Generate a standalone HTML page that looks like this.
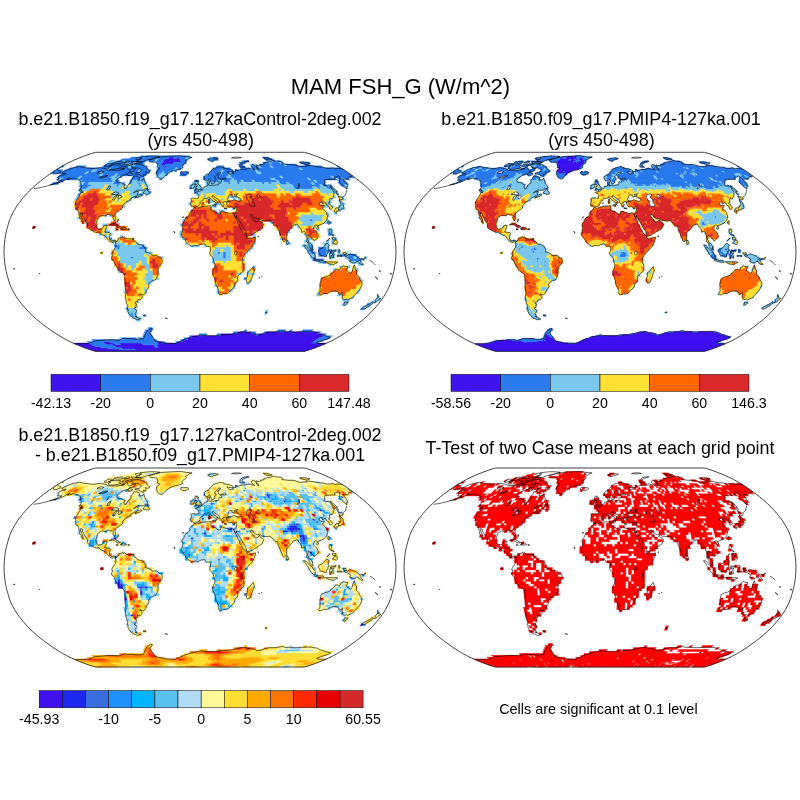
<!DOCTYPE html>
<html><head><meta charset="utf-8"><title>MAM FSH_G</title>
<style>html,body{margin:0;padding:0;background:#fff}svg{display:block}text{font-family:"Liberation Sans",Arial,Helvetica,sans-serif;fill:#000}</style></head><body>
<svg width="800" height="800" viewBox="0 0 800 800">
<rect width="800" height="800" fill="#fff"/>
<text x="400.5" y="94.1" font-size="22" text-anchor="middle">MAM FSH_G (W/m^2)</text>
<text x="200" y="125.3" font-size="17.9" text-anchor="middle">b.e21.B1850.f19_g17.127kaControl-2deg.002</text>
<text x="200.7" y="145.7" font-size="17.9" text-anchor="middle">(yrs 450-498)</text>
<text x="601" y="125.3" font-size="17.9" text-anchor="middle">b.e21.B1850.f09_g17.PMIP4-127ka.001</text>
<text x="601.5" y="145.7" font-size="17.9" text-anchor="middle">(yrs 450-498)</text>
<text x="200" y="441.3" font-size="17.9" text-anchor="middle">b.e21.B1850.f19_g17.127kaControl-2deg.002</text>
<text x="200" y="461" font-size="17.9" text-anchor="middle">- b.e21.B1850.f09_g17.PMIP4-127ka.001</text>
<text x="600" y="453.7" font-size="17.9" text-anchor="middle">T-Test of two Case means at each grid point</text>
<text x="598.4" y="714.2" font-size="14.4" text-anchor="middle">Cells are significant at 0.1 level</text>
<defs><g id="coast"><path d="M-138.2 -79.1L-132.5 -82.1L-126.3 -84.2L-120.5 -85.2L-116.7 -84.4L-110.7 -83.6L-106.5 -83.2L-99.8 -84.2L-97.3 -83.7L-93.4 -82.9L-92.3 -81.6L-86.7 -81.6L-81.9 -81.6L-77.2 -82.3L-73 -85.4L-72.4 -83.4L-71.7 -82.3L-70.1 -81.3L-66.9 -83.4L-64.5 -83.4L-66 -80.7L-70.4 -79.7L-72.3 -78.1L-77.7 -76.4L-82.2 -73.1L-83.2 -71.6L-82.7 -69.6L-79 -69.1L-77.1 -67.7L-74.8 -67.4L-76.1 -65L-75.4 -63L-73.9 -63.2L-72.1 -66.7L-68.9 -69.1L-69.1 -71.6L-67.1 -73.6L-66.3 -75.7L-62.9 -75.6L-60.3 -74.2L-61.1 -71.7L-58 -71.7L-56.2 -73.4L-55.2 -70.2L-54.3 -67.9L-52.5 -65.6L-52 -63.8L-54.8 -63L-56.6 -61.7L-62.8 -61.7L-66.6 -59L-63.8 -60.2L-61.8 -60.5L-61.8 -59L-62.7 -57.8L-62.1 -56.6L-58.8 -57.8L-58.2 -56.6L-59.9 -55.6L-62.7 -54.6L-65 -53.6L-64.6 -54.8L-62.8 -55.8L-65.4 -55.4L-67.7 -54.2L-69.6 -53L-70.2 -51.8L-69.6 -51.4L-71.8 -50.8L-74 -50L-74.6 -48.7L-76.3 -47.5L-77.4 -45.6L-77.5 -43.8L-79.2 -42.5L-81.7 -40.9L-84.3 -38.8L-85 -37L-84.6 -33.3L-84.9 -31.4L-85.8 -31.1L-86.4 -32.4L-87 -34.3L-86.7 -35.8L-87.8 -37L-89.4 -36.7L-91.4 -37.4L-92.9 -37.4L-93.6 -36L-95.3 -36.1L-98.4 -36.5L-101.4 -34.9L-102.6 -33.3L-103 -31.4L-104.1 -27.7L-103.9 -25.3L-102.8 -23.4L-101.4 -22.4L-98.6 -22.9L-97.1 -24L-96.4 -25.9L-93.9 -26.5L-92.8 -26.3L-93.7 -24L-94.4 -22.2L-95.3 -19.7L-92.6 -19.5L-90.5 -19.2L-89.7 -18.4L-90.3 -15.4L-90.6 -13.6L-89.5 -11.5L-87.9 -10.9L-86.2 -11.7L-84.6 -11.5L-83.9 -10.6L-84.5 -9L-85.2 -10.2L-86.2 -11L-87.2 -9.1L-88.5 -9.6L-90.1 -10.2L-90.8 -11.1L-92.1 -12.3L-92.9 -13.3L-93.9 -14.8L-94.7 -16L-95.6 -16.3L-97.7 -17L-99.5 -17.9L-101.2 -19.9L-103.4 -19.4L-105.5 -20L-107.5 -21L-109.5 -22.2L-111.4 -23.4L-112.8 -24.9L-112.3 -26.5L-112.8 -28.4L-114.4 -30.8L-115.6 -32.7L-116.3 -34.3L-117.4 -35.8L-117.7 -38.2L-119.2 -39.1L-119.7 -37.6L-118.7 -35.1L-117.7 -32.7L-117.2 -30.2L-116.5 -28.5L-117.2 -28.4L-118.7 -30.5L-118.7 -32.1L-120.1 -33.5L-121 -34.3L-119.9 -35.1L-120.9 -37L-121.3 -39.2L-121.4 -40.2L-122.1 -41.9L-124 -42.5L-124.3 -45.1L-124.2 -46.6L-124.5 -48.7L-124.5 -49.8L-123.3 -51.8L-121.8 -54.2L-120.1 -56.9L-119.1 -59.5L-117.3 -59L-117 -60.2L-118.1 -61.4L-119.6 -62.6L-118.8 -64.4L-118.9 -66.5L-119.1 -67.9L-119.3 -69.6L-119.5 -71.4L-121 -71.6L-122.1 -72.7L-125.2 -73.1L-126 -74L-129.1 -73.1L-132.6 -72.3L-130.1 -74.2L-134.1 -72.5L-136 -71.1L-139.9 -69.6L-142.9 -68.5L-146.1 -67.6L-150.2 -66.7L-144.7 -68.5L-140.6 -70.2L-138.2 -71.6L-140.1 -71.5L-142.5 -71.7L-140.9 -73.1L-142.1 -74.2L-141.6 -75.3L-138.6 -76.6L-135 -77.2L-133.9 -78.1L-136.4 -78.1L-138 -78.4L-138.2 -79.1M-120.6 -62.4L-118.4 -61.8L-117.9 -59.6L-118.9 -59.6L-119.7 -60.5L-121 -61.4L-120.6 -62.4M-56 -75.1L-59.3 -76.1L-60.6 -77.5L-63.7 -77.8L-65.2 -78.2L-63.8 -79.1L-60.9 -79.1L-59.1 -80.7L-58.7 -82.1L-60.2 -82.9L-61.8 -83.9L-64.2 -83.9L-66.5 -83.9L-68.8 -84.9L-67.4 -87.4L-63.4 -87.7L-60.5 -87.6L-58.8 -86.9L-57.5 -86.6L-54.9 -85.4L-53 -84.2L-53 -82.9L-51.4 -81.6L-50 -80.4L-52.3 -79.1L-54.7 -80L-54.1 -78.1L-54.3 -76.7L-57 -77.2L-55.7 -75.6L-56 -75.1M-91.4 -84.4L-91.6 -83.1L-90.3 -82.4L-85.8 -82.5L-83 -83L-79.7 -83.6L-78.8 -84.1L-80.8 -84.9L-79.3 -86.7L-81.1 -87.2L-84 -86.6L-86 -87.2L-89.7 -86.6L-91.3 -85.5L-89.4 -85.2L-91.4 -84.4M-95.9 -85.8L-95 -85L-92.6 -85.4L-89.9 -86.4L-87.2 -87.1L-85.9 -87.9L-87.4 -88.2L-89.7 -88.4L-92.2 -88.2L-93.5 -87.2L-95.9 -85.8M-64.5 -90.3L-57.6 -90L-54.7 -91.2L-52 -92.1L-49.5 -92.6L-43.2 -94.2L-40 -95.2L-43.8 -95.7L-49.5 -95.8L-56 -95.2L-60 -94.6L-58.4 -93.8L-58.7 -93L-61.6 -91.7L-64.5 -90.3M-64.9 -93.4L-62.7 -91.9L-59.9 -92.6L-59.6 -93.7L-61.6 -94.5L-64.9 -93.4M-67.8 -88.5L-62.8 -88.4L-58.9 -88.6L-57.8 -89.3L-58.9 -89.8L-64 -90.1L-66.5 -90.4L-68.8 -90.6L-67.7 -89.3L-67.8 -88.5M-72.9 -85.9L-68.5 -86.6L-67.5 -87.7L-70.9 -87.9L-72.9 -85.9M-78.4 -85.4L-74.3 -85.6L-72.6 -87.4L-75.3 -87.7L-77.6 -86.6L-78.4 -85.4M-85.8 -88.9L-82.7 -88.4L-78 -88.6L-76.4 -89.6L-77.9 -90.5L-81.7 -90.3L-84.8 -89.8L-85.8 -88.9M-75.9 -89.2L-71.8 -88.9L-69.9 -90.3L-72.5 -90.8L-75.9 -89.2M-78.8 -82.9L-76.3 -82.4L-75.2 -83.4L-76.8 -83.8L-78.8 -82.9M-72.7 -77.5L-72.1 -76.6L-70.2 -76.2L-68.1 -77L-67.1 -77.8L-68.9 -78.9L-69.6 -79.7L-71.3 -78.9L-72.7 -77.5M-56.9 -58.5L-53.5 -57.7L-51.2 -57.5L-50.6 -58.5L-51 -60L-52.5 -61.2L-52 -63.2L-53.5 -62.6L-55 -60.8L-56.7 -59.4L-56.9 -58.5M-50.9 -91.9L-49.1 -89.8L-43.5 -89.6L-42.3 -87.4L-42.4 -84.4L-40.1 -83.4L-43.3 -80.7L-43.4 -77.7L-42.3 -75.1L-41.4 -74L-38.7 -72.9L-37.3 -73.3L-36.4 -74.7L-34 -77L-31.2 -79.2L-26.6 -81.3L-21.5 -82.3L-17.2 -84.1L-18.3 -85.9L-16 -87.9L-13.7 -89.8L-14.8 -91.2L-12.5 -92.1L-11.5 -93.4L-7.9 -94.6L-13.1 -95L-19.8 -96.1L-29.1 -95.6L-36.5 -95.2L-40.9 -94.6L-44.3 -93.8L-46.4 -93L-50.9 -91.9M-19.7 -79.1L-18.4 -77.5L-16 -76.8L-12.5 -77.8L-11.1 -78.9L-13 -80.1L-16.8 -79.7L-18.7 -80.1L-19.7 -79.1M-83.9 -10.6L-83.4 -9.9L-82 -11.8L-81.8 -13.1L-81 -13.7L-79 -14.1L-77.5 -15.3L-77.2 -14.2L-75.8 -14.2L-75.7 -15L-74.2 -13.8L-73.7 -12.9L-71.5 -13.1L-69.9 -12.6L-68.2 -13.2L-67.2 -13.2L-67.7 -12.3L-66.1 -11.7L-65.7 -10.5L-64 -9.9L-62.5 -7.8L-60.3 -7.3L-58.7 -7.2L-56.5 -5.9L-55.5 -4.9L-54.4 -2.2L-54.4 -0.6L-55 0L-52.8 0.6L-51.2 0.9L-48.4 2.5L-48.2 3.5L-45.2 3.6L-43.5 3.5L-41.9 4.6L-40.2 5.9L-38.4 6.4L-37.8 8.9L-38 11.1L-39.5 12.9L-40.6 14.6L-41.6 16L-42 18.5L-41.9 21.6L-42.6 24L-43.5 26.5L-44.7 28.2L-46 28.4L-47.8 29.1L-49.4 29.8L-50.8 31.4L-51.3 32.7L-51.1 34.9L-52.3 37L-53.6 38.8L-54.3 40.7L-55.1 41.9L-56.5 43L-58 43L-60.1 41.9L-60 42.7L-58.6 43.8L-57.8 45L-58.5 46.9L-59.6 47.7L-62.5 48.1L-62.4 49.9L-64.9 50.5L-64.4 52.4L-63.1 52.4L-64 53.6L-63.9 55.4L-65.7 56L-65.3 57.2L-63.4 58.1L-63.2 59L-64.2 60.8L-65 62L-63.6 64.2L-62.6 65.6L-60.7 66.7L-59.4 67L-60.8 67.6L-62.5 67.9L-64.7 67.1L-67 65.9L-69.1 64.4L-70.9 62L-72.1 59.6L-71.8 57.8L-73 57.2L-72.2 55.4L-72.4 53.6L-73.5 51.8L-74 49.3L-74.1 47.5L-74.7 45.9L-74.5 43.8L-74 41.3L-74.5 38.2L-74.9 35.8L-74.7 32.7L-74.9 29.6L-75 25.9L-75.4 22.7L-77.4 21L-79.7 19.7L-82 17.5L-82.7 16L-83.5 14.8L-84.8 12.3L-85.7 10.1L-86.9 8L-88.3 7.4L-88.4 5.5L-87.4 4.2L-87.1 3.2L-88.2 2.7L-88 1.2L-87.2 0L-87.1 -1L-85.8 -1.8L-85.4 -3.1L-84.3 -4.3L-84.1 -6.2L-84.2 -8L-84.5 -9L-83.9 -10.6M-6 -44.1L-5.4 -44.3L-3.1 -43.5L-1 -44L1.5 -45L3.1 -45.4L6.1 -45.6L8.7 -45.6L10 -46L11.2 -45.6L10.7 -44.8L11.1 -43.2L10.5 -42.2L11.6 -41.1L13.5 -40.6L15.9 -39.8L16.4 -38.6L18.8 -37.6L20.4 -37.6L20.8 -38.8L20.7 -40.1L22.5 -40.6L24.1 -39.8L26 -39.2L28.1 -38.6L30.2 -38.1L31.2 -38.6L32.8 -38.8L33.6 -38.5L34.1 -36.9L35.2 -34.3L36.5 -32.1L37.7 -29.6L38.1 -28.1L39.5 -26.5L39.9 -24L41.4 -22.2L42.6 -19.1L44.2 -17.9L45.9 -16L46.8 -15.4L46.5 -14.2L48.2 -12.9L50.4 -13.3L53 -13.9L55.4 -14.7L55.3 -12.8L54.6 -10.5L53.3 -7.4L52.2 -5.5L50.1 -3.1L49.3 -2.5L47.4 -0.6L45.7 1.2L44.6 2.5L43.7 3.7L43 5.5L42.4 7.4L42.9 8.6L42.6 10.5L43.1 12.3L43.9 12.9L43.8 15.4L43.9 17.9L43.1 19.7L40.8 21.3L39.1 23.2L37.4 24.7L37.6 27.1L37.7 29.6L34.9 31.4L34.6 33.3L34.1 35.1L32.6 36.7L30.7 38.8L28.4 40.9L26.5 41.9L23.2 42.2L20.5 42.9L18.9 42.3L18.7 40.1L18.9 38.8L17.8 36.4L16.8 34.5L15.8 32.7L15.4 29L14.4 25.9L12.9 22.8L12.7 20.3L13.3 18.5L14.6 15.4L15 12.9L14.1 11.1L13.4 7.4L13 6.2L12 4.9L10.3 3.1L9.6 1L10.3 -0.6L10.6 -2.5L10.6 -4.3L10.3 -4.9L9.2 -5.5L7.6 -5.4L6.5 -5.3L5.4 -7L4.9 -7.8L3.7 -7.9L1.3 -7.5L-0.2 -6.8L-2.2 -5.9L-3.3 -6.3L-4.9 -6.4L-6.5 -5.9L-8.2 -5.4L-9.8 -6.4L-11.7 -7.8L-12.5 -8.5L-13.6 -9.2L-14.3 -10.5L-14.4 -11.7L-15.7 -12.9L-16.2 -13.6L-17.3 -14.8L-18.1 -15.4L-18.1 -16.6L-18.9 -18.1L-17.8 -19.7L-17.5 -22.2L-17.1 -24L-17.6 -25.7L-18.2 -25.9L-17.2 -28.4L-15.9 -30.2L-15.3 -32.1L-13.9 -34.3L-12.1 -35.1L-10.5 -36.4L-10.1 -37.6L-10.2 -38.8L-9.5 -40.1L-8.3 -41.3L-7 -42.1L-6 -44.1M53.3 14.8L54.4 19.1L53.2 21.6L52.5 24L51.1 27.7L49.8 30.8L47.6 31.4L46.4 29.6L46.1 27.1L47.4 24.7L47.3 21L49.5 19.5L51.8 16.6L53.3 14.8M34.1 -36.9L33.6 -38.5L35.6 -38.6L36.2 -40.4L36.6 -41.9L36.8 -44.1L36.9 -45.1L35.7 -45.1L34.7 -44.6L32.7 -44.5L31.2 -45.4L29.6 -44.8L28 -45.4L27.4 -46.6L26.8 -47.5L26.5 -48.7L26.3 -49.4L27.5 -49.8L29 -49.9L28.9 -50.7L31.4 -50.8L33.3 -51.8L34.8 -51.8L36.4 -50.9L38.5 -50.4L39.9 -50.5L41.3 -51.1L41 -52.6L39.4 -53.6L37.2 -54.8L36.1 -55.4L36.8 -56.9L37.5 -58.1L36.1 -57.8L34.1 -57L35.6 -55.8L34.6 -55.4L33.3 -54.7L32.7 -54.9L31.6 -55.9L32.5 -56.6L31 -57L29.8 -57.2L28.9 -55.8L28.2 -54.2L27.6 -53L27.5 -52.1L28.1 -51.1L28.9 -50.8L27.5 -50.5L26.5 -50L26 -50.3L24.5 -50.4L23.9 -49.6L22.8 -49.8L22.9 -48.4L23.8 -47.5L24.3 -46.6L23.4 -46.1L23.7 -45L22.8 -45L22.1 -45.5L21.5 -46.9L20.6 -48.4L19.5 -49.7L19.3 -51.1L18.3 -52.4L16.2 -53.6L14.7 -54.8L13.7 -55.4L13.2 -56.3L12.1 -55.8L12.2 -54.4L13.4 -53.7L14.4 -52.1L15.9 -51.6L16.5 -50.8L18.4 -49.6L18.4 -49.1L17 -49.9L16.7 -49.1L17.2 -48.1L16.7 -47.5L15.9 -46.9L16.1 -48.1L15.6 -49.3L14.5 -50.2L13 -50.9L12.1 -51.5L10.9 -52.4L10.1 -53.6L9.5 -54.3L8.6 -54.7L7.4 -53.9L5.9 -53.1L4.9 -53.5L3.9 -53.6L3.1 -53L3.2 -52.1L3.2 -51.6L2.2 -51L0.8 -50.3L-0.3 -48.7L0.2 -47.8L-0.5 -47.2L-0.8 -46.4L-2 -45.4L-4.5 -45.3L-5.5 -44.5L-6.4 -45L-7.1 -45.9L-9.1 -45.6L-8.9 -47.5L-9.6 -47.8L-8.9 -49.6L-8.7 -50.8L-8.8 -52.4L-9.2 -53.1L-7.9 -53.8L-5.9 -53.7L-3.7 -53.6L-1.8 -53.5L-1.3 -54.8L-1.2 -56.3L-2.1 -57.8L-2.7 -58.4L-4.3 -58.9L-4.6 -59.5L-2.9 -60L-1.5 -59.9L-1.7 -61.1L-0.9 -60.7L0.2 -60.8L1.4 -61.5L1.6 -62.5L3.3 -63.1L3.9 -64L4.4 -65L5.5 -65.4L6.4 -65.7L7.8 -65.8L8 -66.5L7.8 -67.9L7.4 -69.1L7.4 -69.6L8.5 -69.9L9.4 -70.4L9.4 -69.1L9.1 -67.9L8.8 -67.1L9.9 -66.1L11.2 -66.5L12.3 -66.7L13.1 -66L14.6 -66.5L16.9 -67L18.1 -66.6L18.2 -67.2L19 -67.9L18.8 -69.6L19.3 -70.3L20.6 -69.6L21.7 -69.9L21.5 -71.1L20.6 -72.2L21.8 -72.5L24.5 -72.5L26.3 -72.9L24.6 -73.7L22.5 -73.5L21.6 -73.2L20 -72.8L18.6 -73.6L18.3 -74.7L17.9 -76.4L18.8 -77.3L20.3 -78.4L21 -78.8L20.1 -79.5L18.2 -79.2L17.7 -78.1L17 -77.2L15.7 -76.2L14.8 -75.3L14.9 -73.8L16.3 -73.1L15.8 -72.3L14.7 -71.4L14.7 -69.6L14.3 -68.7L13.1 -68.5L12.9 -67.8L11.8 -67.8L11.4 -68.8L10.6 -70.4L9.8 -71.9L9.3 -72.9L9 -71.9L7.7 -71.2L6.2 -70.8L4.9 -71.7L4.3 -73.5L4.3 -75.1L5.3 -76L7.1 -77L8.7 -77.1L9.1 -78.4L10.2 -79.7L11.5 -81.1L12.3 -82.3L13.8 -83.2L14.9 -83.6L16.8 -84.1L18.6 -84.7L19.9 -85L21.6 -84.9L24.2 -84.2L23.6 -83.6L26 -83.3L28.5 -83L32 -81.8L33.4 -80.7L33 -80L31.1 -79.8L28.5 -80.2L26.8 -80.5L28.4 -79.1L29.2 -77.8L30.9 -77.5L31.5 -78.4L33.6 -78.2L32.8 -79.4L34.2 -80.2L35.9 -79.9L35.6 -81.6L35 -82.3L37.2 -81.8L37.2 -80.7L38.6 -81.5L42.1 -82.5L43.8 -82.3L46 -82.6L47.6 -83.4L47.8 -83.7L51.1 -82.9L53.3 -82.3L54.7 -82.1L52.7 -83.4L51.6 -84.9L51.8 -86.7L52.5 -87.2L54.9 -86.6L56.1 -84.9L57 -82.9L58.9 -81.8L58.2 -83.4L56.5 -85.4L56.3 -86.7L58.8 -85.9L59.7 -86.2L61.1 -86.4L60.6 -87.4L64.1 -87.7L63.8 -88.9L66.6 -89.6L70.4 -90.1L73.3 -91.4L76.3 -90.6L80.2 -90.3L82.6 -89.3L81.8 -87.9L84.3 -87.7L88.6 -87.2L92.3 -87.2L96.4 -86.4L99.9 -85.1L102.2 -85.4L106.7 -85.5L106.2 -86.4L111.1 -86.2L115.1 -85.5L118.4 -84.8L123.5 -84.5L126.2 -83.5L129.7 -83.5L133 -83.9L135.4 -82.9L138.2 -83.6L142.7 -82.7M148.3 -78.2L151.2 -76.4L152.5 -75.6L149.6 -75.1L148.4 -74L148.2 -72.9L144.6 -72.8L142.3 -72.9L144.4 -70.8L146.2 -68.7L147.1 -67.3L147.6 -65.2L146.6 -64.9L147 -62.6L144.2 -65L141.5 -67.3L139.4 -69.6L139.8 -71.4L139.8 -73.6L140.1 -74.7L138.3 -75.9L136.9 -75L134.6 -74.7L135 -72.5L131.9 -72.5L127.8 -72.3L125.2 -72.3L124.6 -70.2L124.7 -67.7L123.6 -66.9L126.3 -65.9L128.3 -66.1L130.6 -65L131.8 -62.6L134 -59.6L133.9 -57.2L133.4 -55L132.3 -53L130.2 -53.2L129.5 -52.4L129.5 -50.5L130 -49.3L128.3 -48.7L129.7 -47.5L131.7 -45.6L132.6 -43.8L131.5 -42.9L130.2 -42.3L129.4 -43.8L128.9 -45.6L126.8 -46.6L126 -48.7L124.8 -49.2L123 -48.1L122.2 -48.1L122.1 -50L120.9 -50.3L120 -49.1L118.8 -48.1L120.4 -46.9L121 -46L122.8 -46.4L124.5 -46L123.4 -45L123 -44.4L122.5 -43.2L124.4 -41.3L126.6 -39.1L126.9 -38.1L126.4 -37.4L127.6 -36.7L127.7 -34.9L127.1 -33.3L126.6 -31.4L125.4 -30.2L124.1 -28.7L121.7 -27.6L120.9 -27.4L119.2 -26.6L117.9 -26.1L117.9 -25L117.1 -26.4L115.7 -26.8L114.2 -25.9L114.1 -25L113.2 -23.4L114.3 -22L116.5 -19.7L117.9 -17.3L118.2 -15.4L118 -14.2L116.5 -12.9L115.7 -12L113.9 -10.7L113.6 -12.3L112.1 -12.9L110.9 -14.8L109.2 -15.7L108.9 -16.5L108 -16.4L108 -14.2L107.6 -12.3L108.2 -11.3L109.1 -9L110.6 -8.3L111.4 -7.4L112.5 -5.5L112.6 -3.5L113.4 -1.7L112.6 -1.8L110.2 -3.6L109.3 -4.9L109 -6.8L108.9 -8L107.5 -9.6L106.7 -9.9L106.8 -12.3L106.8 -14.8L105.8 -17.3L105.2 -19.7L104.3 -20.7L103.3 -20.3L102.6 -19.5L101.5 -19.7L101.5 -21.6L100.7 -23.4L99.5 -24.7L98.1 -26.5L97.8 -27.5L96.4 -27.7L94.9 -26.9L93.8 -26.8L92.8 -26.5L92.8 -25.3L92 -24.4L91 -23.8L90.1 -22.6L88.7 -21L87.7 -20.1L87 -19.5L86.3 -18.5L86.7 -16.3L86.4 -14.2L86.5 -12.7L85.7 -11.5L84.8 -10.9L84.1 -10L83 -11.1L82.3 -12.9L81.5 -14.8L80.8 -16L80 -18.5L79.1 -20.3L78.3 -22.2L78 -23.4L77.6 -26.1L75.8 -25.5L73.5 -27.4L72.8 -29L71.7 -29.5L71 -30.6L70.4 -31.3L68.3 -31.1L65.7 -31L63.5 -31.2L61.4 -31.6L60.1 -33L59.3 -33.4L57.7 -32.8L55.9 -33.3L54.2 -34.4L53.3 -35.8L52.3 -37.1L51.2 -37.5L50.7 -37L50.3 -36.4L50.9 -35.1L52.2 -33.7L53 -32.7L53.4 -31.4L53.9 -32.2L54.6 -31.1L54.6 -30.2L55.7 -29.8L57.3 -29.8L57.8 -30.2L58.7 -31.4L59.4 -32.3L59.9 -30.8L60.3 -30L62.1 -29.2L63.7 -27.7L62.7 -25.3L61.9 -23.4L61.1 -23.2L59.6 -22L58 -21L56.2 -20L53.9 -18.5L52.4 -17.3L50.2 -16.5L48.6 -15.8L47 -15.7L46.7 -16.4L46.1 -18.5L45.8 -20.3L44.5 -22.2L43.3 -24.3L41.8 -26.5L40.9 -29L39.5 -30.6L38.6 -32.1L37.4 -33.9L36.6 -34.5L36.6 -36.4L36.1 -34.3L34.8 -35.5L34.1 -36.9M-142.7 -82.7L-141.1 -81.6L-139.3 -80.7L-138.8 -79.8L-140.7 -79.1L-143.7 -77.8L-146.4 -78.1L-146.5 -79.1L-146.2 -79.9M-5.4 -61.5L-3.3 -61.8L-1.9 -62.1L0.5 -62.4L1.3 -62.8L0.9 -63.4L1.6 -64.5L0.3 -65L0.1 -65.7L-1.1 -66.9L-1.4 -67.9L-2.3 -68.5L-1.8 -69.6L-1.6 -70.3L-3.6 -70.4L-2.8 -71.5L-4.4 -71.5L-5.2 -70.2L-5.1 -69.1L-5 -67.8L-4.4 -67.3L-4.6 -67L-3.2 -67.2L-2.8 -66.1L-2.8 -65.4L-4.1 -65.3L-3.8 -64.2L-4.9 -63.6L-3.7 -63.3L-2.8 -63.1L-3.7 -62.8L-5.4 -61.5M-9.3 -63.3L-7.5 -63.4L-5.9 -64L-5.5 -65.3L-5 -66.7L-5.7 -67.6L-7.3 -67.6L-7.8 -66.6L-9.2 -66.4L-8.8 -65.2L-9.6 -64L-9.3 -63.3M134.4 -41.3L135 -41.9L135.8 -43.7L137.2 -43.9L139.2 -44L139.1 -46L139.9 -45.4L140.7 -46.1L141 -47.5L140.6 -49.1L139.9 -50.3L140.4 -51.1L141.6 -49.9L142.9 -48.7L143.2 -47.2L143.5 -45.6L143.9 -44.4L143.8 -43.4L143.5 -43.2L142.7 -43.2L142.1 -42.7L140.9 -42.7L140.8 -42.3L140.2 -41.3L139.1 -42.3L138.3 -42.7L138.9 -41.7L138.7 -41.1L137.7 -40.4L136.7 -41.1L136.7 -40.4L136.8 -38.8L136.1 -38.4L135.2 -39.5L134.2 -40.7L134.4 -41.3M139.4 -51.1L139.6 -52.4L139.3 -53.3L137.9 -55.9L140 -54.8L142.4 -54.6L143.4 -53.3L142.3 -52.9L142.3 -51.8L140.3 -52.5L139.3 -52.1L140.2 -51.4L139.4 -51.1M137.7 -56.6L138.6 -57.5L136.1 -60.2L137.5 -60.2L134 -63.2L132.1 -65L130.5 -66.5L130.7 -65.6L133 -62.6L135.1 -60.2L136.9 -57.8L137.7 -56.6M127.9 -28.4L129 -27.1L129.1 -29L129.2 -30.8L128.2 -31L127.7 -29.6L127.9 -28.4M116.4 -23.7L117.5 -22.4L118.4 -23.2L118.8 -24.3L117.6 -24.8L116.4 -23.7M86.6 -9.9L86.9 -7.6L88 -7.4L88.9 -8.6L88.1 -10.5L86.9 -12.1L86.6 -9.9M103.6 -6.9L106 -6.4L107.4 -4.7L109.4 -2.5L112.1 -0.6L113.2 1.2L115.3 3.7L115 7.2L113.6 7L111.3 4.9L109.9 3.1L108.9 1.2L107.6 -1.2L105.6 -3.7L103.6 -6.9M114.3 8.4L115.7 7.4L117.9 8.3L120 8.4L122.2 8.5L124.3 9.6L124.1 10.6L120.5 10.2L117.8 9.6L115.7 9.1L114.3 8.4M125.4 10.1L129.2 10.2L133.5 10.2L135.7 10.2L137.8 10.5L135.5 11.7L133.8 12.7L130.1 12.3L126.9 11.1L125.4 10.1M118.7 -1.8L119.2 -2.5L121.1 -3.1L123 -4.1L124.5 -5.9L126 -8L127.1 -8.6L127.9 -7.6L129.4 -6.4L128.4 -5.2L128.2 -3.1L129.3 -1.2L127.9 -0.6L127.9 1.2L126.8 2.5L126.4 4.7L124.6 4.9L123 3.9L121.3 3.9L119.9 3.1L119.8 1.6L118.7 0.4L118.7 -1.8M129.9 6.8L129.8 4.3L129.5 3.1L130.4 1L130.7 -0.9L131.7 -1.5L133.9 -1.2L136.1 -2L135.6 -0.5L132.8 -0.5L131.2 -0.4L130.9 1L132.1 1.2L134.1 1.1L132.5 2.3L133.1 3.9L133.8 5.2L133.2 6.4L132.1 5.5L131.7 3.7L131 3.7L130.9 6.8L129.9 6.8M138.8 -2.5L139.9 -1.8L139.9 0.6L138.8 0.6L138.8 -2.5M137.1 3.7L139.3 3.6L142 3.7L142 4.7L139.3 4.4L137.1 4.6L137.1 3.7M142.6 1L145.9 1L146.9 4.1L148.6 2.7L150.2 2L153.5 3.2L157.2 4.7L158.7 6.5L160.6 7.4L159.9 8.4L161.1 10.5L163.1 12.7L161.5 12.7L159.4 11.7L158.5 9.9L156.3 9.5L155.1 11.1L152.9 11.2L150.9 9.9L149.8 10.2L149.9 8.6L150.8 8.4L150 6.8L147.4 5.4L145.2 4.7L144.5 3.5L145.8 3.1L144.2 2.7L142.6 1M161.4 6.8L163.6 6.8L165.7 5.3L165.2 6.8L163.5 7.8L161.4 7.4L161.4 6.8M129.2 -22.8L131 -22.7L131.6 -20.3L131 -18.5L131.7 -17.3L133.9 -16.6L134.1 -15.5L132.3 -16.6L130.7 -16.9L129.6 -18.3L129.1 -20L129.2 -22.8M132.5 -8.6L134 -10.5L136.1 -12L137.3 -10.5L137.2 -8L136.4 -7.2L134.7 -8L132.5 -8.6M132.1 -14.2L133.7 -14.2L135.9 -13.9L136 -12.6L133.9 -11.7L132.6 -12.3L132.1 -14.2M127.2 -10.5L129.5 -12.9L129.6 -13.9L128.4 -12.3L126.9 -10.9L127.2 -10.5M121 27.1L122.1 26.5L124.5 25.3L127.3 24.7L130.2 23.4L131.2 21.6L132.7 21L134 19.7L135.4 17.9L137.1 17.3L138.6 18.3L139.6 18.3L141.1 15.4L142.8 14.8L143.4 13.9L146 15L148 14.8L147.2 16.6L146.1 18.5L147.5 19.6L149.4 21L150.9 21.7L152.1 19.7L152.8 17.3L153.3 15.4L154.4 13.2L155.1 16L155.1 17.6L156.6 18.5L156.5 20.3L156.5 22.8L157.4 23.8L159.2 25.3L159.3 27.1L160.4 28.6L161.7 30.5L161.9 32.1L161.4 34.5L159.7 37.6L158.2 39.8L156 41.7L154.2 43.8L152.5 46L150 46.7L147.7 48.1L146.7 47.2L144.9 47.8L142.7 47.1L142.2 45.6L142.5 44L142.2 43.2L142.5 40.7L139.7 42.9L139.1 42.5L138.7 40.4L137.1 39.5L134.1 39L130.7 39.7L128.3 40.7L127.3 41.8L123.7 41.8L121.1 43.2L119.1 43L118.4 42.3L120.1 39.5L120 37.6L120.2 35.1L119.8 32.7L120.3 30.8L120.8 29L121 27.1M144.7 50.2L146.3 50.5L148.1 50.4L146.5 52.4L144.7 53.6L143.7 53.6L143.9 52.4L144.7 50.2M177.7 42.4L178.2 44.6L178.6 45.6L179.1 46.5L180.9 46.5L179.5 48.1L178.1 48.7L175.9 50.5L174.4 51.1L174.7 50.3L175.6 49.3L175 48.4L177 46.9L177.8 45.4L177.6 43.2L177.7 42.4M172.8 50L173.4 51.1L170.8 53L169.5 53.9L166.9 55.4L165.2 56.9L162.8 57.3L161.5 56.6L163.7 55.2L166.1 53.9L169.3 52.4L171.7 50.5L172.8 50M39.8 -84.9L41.5 -84.6L44.6 -84.6L42.4 -85.9L41.9 -87.4L43.9 -89.1L48.7 -90.3L49 -90.8L46.9 -90.8L43.2 -90L41.1 -88.9L40.4 -87.4L39.7 -85.9L39.8 -84.9M7.6 -92.6L9.9 -91.2L12.1 -90.5L13.3 -91.7L15.3 -92L18.3 -93.4L14.8 -93.8L10.8 -93.4L7.6 -92.6M65.4 -92.6L69.9 -91.7L72.2 -92.6L66.5 -94.2L63.2 -94.2L65.4 -92.6M100.4 -88.9L107.1 -87.4L110 -88.9L104.7 -89.8L99.7 -89.8L100.4 -88.9M137.4 -85.5L138 -84.9M-138 -84.7L-136.4 -85.4M-90.6 -27L-87.8 -28.4L-85.1 -28.4L-82.1 -26.5L-79.3 -24.9L-82.9 -24.5L-83.3 -25.5L-85.8 -26.9L-87.3 -27.5L-89.6 -26.9L-90.6 -27M-79.8 -22.8L-77.3 -22.3L-75.1 -22.6L-73.3 -22.9L-74.7 -24.3L-77 -24.5L-78.4 -24.4L-77.7 -23.2L-79.8 -22.8M-84 -22.6L-81.9 -22.1L-81.8 -22.6L-83.1 -22.8L-84 -22.6M-72.1 -22.2L-70.5 -22.2L-70.4 -22.8L-72.1 -22.8L-72.1 -22.2M-167.4 -23.3L-165.7 -23.9L-165.7 -24.9L-166.9 -25L-167.4 -23.3M-99.7 1.2L-98.2 0.2L-97.3 1.1L-98.8 1.7L-99.7 1.2M-56.9 63.6L-54.3 63.1L-53.9 64L-56.2 64.2L-56.9 63.6M65.5 60.2L67.1 60.2L66.6 61.1L65.3 61.1L65.5 60.2M57.7 -15.4L58.9 -15.5L58.8 -15.2L57.9 -15.2L57.7 -15.4M24.1 -43.8L27 -43.5L26.9 -43.2L24.2 -43.4L24.1 -43.8M33.2 -43.2L35.3 -43.9L34.9 -43L33.9 -42.7L33.2 -43.2M12.7 -46.9L15.7 -47.1L15.5 -45.3L12.7 -46.4L12.7 -46.9M8.3 -50.5L9.7 -50.7L9.7 -48.3L8.6 -48.1L8.3 -50.5M8.6 -52.5L9.4 -53L9.4 -51.1L8.8 -51.3L8.6 -52.5M-124.9 92.1L-118.3 92L-111.9 91.7L-109.8 90.9L-107.5 90.3L-105.5 89.3L-102.6 88.9L-96 88.4L-89.2 87.9L-81.2 88.4L-76.9 86.9L-75.9 86.4L-71.6 86.9L-67.8 86.9L-63.6 87.4L-59.9 87.4L-56.5 86.9L-55.7 84.9L-54.4 81.8L-53.2 79.7L-51.6 78.1L-49.6 77L-48 76.7L-47.8 78.1L-49.4 79.1L-50.2 80.7L-48.5 83.9L-46 86.9L-45.4 88.9L-35.3 91.2L-28 91.7L-24.5 91.7L-20.2 89.8L-15 87.4L-11.4 86.4L-7.7 84.9L-3.9 84.4L0 83.4L7.8 83.9L15.6 83.9L23.8 82.9L27.7 82.9L31.8 82.3L36.2 81.3L40.7 80.2L45 79.7L48.5 81L52.3 81.3L55.7 82.3L57.5 83.4L62.1 82.3L64.4 81.3L69.2 80.2L73.3 80.2L77.8 79.7L82.3 79.1L85.8 79.9L90 79.7L93.6 80.2L97.7 80.2L102.3 79.7L106.4 79.7L110.7 79.5L114 80.2L117.4 80.7L119.7 82.1L122.7 82.9L125.2 83.9L127.9 84.7L130.6 85.4L128.1 86.9L121.7 88.9L116.6 90.8L117.2 91.5L122.4 91.7L125.3 92M-149.6 -66.9L-154.9 -65.3L-159.8 -64.2L-164.3 -63.4L-166.4 -63.2M175.3 24.9L177.5 26.9L177.9 27.5L176.1 26.3L175.3 24.9M190.4 21.6L191.8 21.6L191.5 22.4L190.3 22.4L190.4 21.6M179.6 18.5L180.2 19.1L180.2 20.3L179.7 19.4L179.6 18.5M170 8.6L172.6 10.2L174.5 12.1L175.5 13.2M-186.6 16.6L-185.2 17L-185.2 17.4L-186.5 17L-186.6 16.6M-160.9 21.6L-160.2 21.7L-160.2 22.1L-160.7 22L-160.9 21.6M-34.8 66.1L-32.9 66.5L-32.6 67.1L-34.3 66.6L-34.8 66.1M31.5 -93.8L37.1 -93.6L41.4 -94.1L38.2 -94.7L33.1 -94.5L31.5 -93.8M-17.8 -34.5L-16.9 -35.1L-16.2 -34.7L-17.4 -34.3L-17.8 -34.5M-26.2 -20.5L-25.3 -18.9L-25 -18.9L-26 -20.7L-26.2 -20.5M58.9 25.8L59.6 25.9L59.4 26.4L59 26.3L58.9 25.8M61.3 24.7L61.8 24.9L61.6 25.3L61.3 25L61.3 24.7M142.9 -54.8L145.5 -56.6L146.1 -59.6L146.6 -61.8M-83 -29.8L-81.9 -31L-81.3 -32.7L-82.1 -32.9L-82.2 -30.8L-83 -29.8M-67.1 -12.5L-66 -12.6L-66.1 -13.3L-66.8 -13.2L-67.1 -12.5M42.6 7.2L43 7.4L42.9 8L42.7 7.8L42.6 7.2M2.3 -48.8L3.4 -49.2L3.2 -48.4L2.6 -48.4L2.3 -48.8M-64.9 64.5L-63.5 64.6L-63.1 65.3L-64.1 65.3L-64.9 64.5M46.5 -54.8L46.9 -53L48.2 -51.5L49.5 -49.9L49.4 -48.1L49.8 -46.2L51.4 -45.4L53 -45.3L55 -45.6L54.3 -48.1L53.2 -49.3L52.6 -51.1L53.6 -51.8L51.9 -52.7L49.9 -54.8L51.6 -55.8L51.2 -57.5L49.2 -57.8L47.4 -57.2L46.2 -56L46.5 -54.8M-88.9 -57.5L-84.1 -57.2L-81.7 -57.2L-81.4 -59L-84.3 -60L-86.2 -59L-88.9 -57.5M-87.4 -51.8L-86 -51.4L-84.2 -54.8L-82.5 -56.4L-84.6 -56L-86.4 -54.2L-87.4 -51.8M-82 -56.6L-79.1 -56.6L-78.2 -55.2L-80.6 -53.2L-81.5 -53L-82 -54.2L-81.2 -56L-82 -56.6M34.6 0.6L35.9 -0.4L37.2 0L37 1.8L35.9 3.3L34.8 2.8L34.6 0.6M56.9 -56L57.5 -57.2L59 -57.2L60 -55.4L59.5 -53.7L58.1 -53.7L56.9 -56M97 -63.2L98.5 -63.4L99.6 -65.3L99.4 -67.9L98.5 -68.1L98.5 -65.6L97.6 -64.2L97 -63.2M-93.2 -62L-90.9 -62L-89.3 -65.6L-91.1 -65.6L-93.2 -62M-102.6 -78.6L-98.4 -78.6L-96.1 -80.2L-98.8 -80.7L-102.3 -79.7L-102.6 -78.6M-101 -74L-96.5 -74.2L-92.2 -76.2L-93.9 -76.2L-98.3 -75.1L-100.3 -74.7L-101 -74" fill="none" stroke="#000" stroke-width="0.6" stroke-linejoin="round"/><path d="M-104.3 99.5L-107.2 98.7L-110.4 97.7L-114 96.4L-117.8 95L-121.8 93.4L-125.9 91.7L-130 89.8L-133.8 87.9L-137.4 85.9L-140.8 83.9L-144.1 81.8L-147.3 79.7L-150.5 77.5L-153.5 75.3L-156.5 73.1L-159.4 70.8L-162.3 68.5L-165 66.1L-167.6 63.8L-170.1 61.4L-172.4 59L-174.6 56.6L-176.7 54.2L-178.7 51.8L-180.6 49.3L-182.4 46.9L-184 44.4L-185.5 41.9L-186.9 39.5L-188.2 37L-189.3 34.5L-190.3 32.1L-191.1 29.6L-191.8 27.1L-192.5 24.7L-193.2 22.2L-193.8 19.7L-194.3 17.3L-194.7 14.8L-195.1 12.3L-195.4 9.9L-195.6 7.4L-195.8 4.9L-195.9 2.5L-196 0L-195.9 -2.5L-195.8 -4.9L-195.6 -7.4L-195.4 -9.9L-195.1 -12.3L-194.7 -14.8L-194.3 -17.3L-193.8 -19.7L-193.2 -22.2L-192.5 -24.7L-191.8 -27.1L-191.1 -29.6L-190.3 -32.1L-189.3 -34.5L-188.2 -37L-186.9 -39.5L-185.5 -41.9L-184 -44.4L-182.4 -46.9L-180.6 -49.3L-178.7 -51.8L-176.7 -54.2L-174.6 -56.6L-172.4 -59L-170.1 -61.4L-167.6 -63.8L-165 -66.1L-162.3 -68.5L-159.4 -70.8L-156.5 -73.1L-153.5 -75.3L-150.5 -77.5L-147.3 -79.7L-144.1 -81.8L-140.8 -83.9L-137.4 -85.9L-133.8 -87.9L-130 -89.8L-125.9 -91.7L-121.8 -93.4L-117.8 -95L-114 -96.4L-110.4 -97.7L-107.2 -98.7L-104.3 -99.5L104.3 -99.5L107.2 -98.7L110.4 -97.7L114 -96.4L117.8 -95L121.8 -93.4L125.9 -91.7L130 -89.8L133.8 -87.9L137.4 -85.9L140.8 -83.9L144.1 -81.8L147.3 -79.7L150.5 -77.5L153.5 -75.3L156.5 -73.1L159.4 -70.8L162.3 -68.5L165 -66.1L167.6 -63.8L170.1 -61.4L172.4 -59L174.6 -56.6L176.7 -54.2L178.7 -51.8L180.6 -49.3L182.4 -46.9L184 -44.4L185.5 -41.9L186.9 -39.5L188.2 -37L189.3 -34.5L190.3 -32.1L191.1 -29.6L191.8 -27.1L192.5 -24.7L193.2 -22.2L193.8 -19.7L194.3 -17.3L194.7 -14.8L195.1 -12.3L195.4 -9.9L195.6 -7.4L195.8 -4.9L195.9 -2.5L196 0L195.9 2.5L195.8 4.9L195.6 7.4L195.4 9.9L195.1 12.3L194.7 14.8L194.3 17.3L193.8 19.7L193.2 22.2L192.5 24.7L191.8 27.1L191.1 29.6L190.3 32.1L189.3 34.5L188.2 37L186.9 39.5L185.5 41.9L184 44.4L182.4 46.9L180.6 49.3L178.7 51.8L176.7 54.2L174.6 56.6L172.4 59L170.1 61.4L167.6 63.8L165 66.1L162.3 68.5L159.4 70.8L156.5 73.1L153.5 75.3L150.5 77.5L147.3 79.7L144.1 81.8L140.8 83.9L137.4 85.9L133.8 87.9L130 89.8L125.9 91.7L121.8 93.4L117.8 95L114 96.4L110.4 97.7L107.2 98.7L104.3 99.5Z" fill="none" stroke="#222" stroke-width="0.85"/></g></defs>
<g id="map1">
<path fill="#3f12f0" stroke="#3f12f0" stroke-width="0.4" d="M94.4 350.9h211.2l-1.3 .3h-208.6zM91.5 350h217l-2.9 .9h-211.2zM88.3 349h30.3l2.3 1h-29.4zM123.2 349h1.6l2.1 1h-1.5zM129.4 349h1.6l1.9 1h-1.5zM134.1 349h177.6l-3.2 1h-172.5zM84.9 347.8h21.5l2.9 1.2h-21zM120.8 347.8h194.3l-3.4 1.2h-188.5zM81.2 346.4h17.3l3.2 1.4h-16.8zM115 346.4h39.6l1.4 1.4h-38.4zM156.3 346.4h162.5l-3.7 1.4h-157.5zM77.4 344.8h14.4l3.4 1.6h-14zM112.3 344.8h40.9l1.4 1.6h-39.6zM156.6 344.8h166l-3.8 1.6h-160.9zM73.5 343.1h14.9l3.4 1.7h-14.4zM104.2 343.1h8.8l2.7 1.7h-8.5zM118.3 343.1h22.8l1.8 1.7h-22.1zM156.9 343.1h169.6l-3.9 1.7h-164.3zM101.3 341.4h7.2l2.7 1.7h-7zM157.4 341.4h3.7l1.1 1.7h-3.5zM177.4 341.4h137.6l-3.4 1.7h-133.6zM182.3 339.5h134.1l-3.2 1.9h-130.4zM187.6 337.7h131.7l-2.9 1.8h-128.5zM191.2 335.7h132.9l-2.9 2h-129.8zM221 333.8h35.9l-1.2 1.9h-35.2zM258.9 333.8h65.9l-2.7 1.9h-64.5zM237.7 331.8h14.3l-1.1 2h-14zM266.3 331.8h53l-2.5 2h-51.9zM164.7 165.8h1.9l-.8 2h-1.9zM161.8 164h3.8l-.9 1.8h-3.8zM162.9 162.1h10.8l-.7 1.9h-11.2zM164 160.4h17.5l-.5 1.7h-18.1zM165.1 158.7h15.3l-.6 1.7h-15.8zM169.5 157.1h4.9l-.8 1.6h-5.1zM177.7 157.1h1.7l-.7 1.6h-1.7z"/>
<path fill="#2b7bef" stroke="#2b7bef" stroke-width="0.4" d="M118.6 349h4.6l2.2 1h-4.5zM124.8 349h4.6l2 1h-4.5zM131 349h3.1l1.9 1h-3.1zM106.4 347.8h14.4l2.4 1.2h-13.9zM98.5 346.4h16.5l2.6 1.4h-15.9zM154.6 346.4h1.7l1.3 1.4h-1.6zM91.8 344.8h20.5l2.7 1.6h-19.8zM153.2 344.8h3.4l1.3 1.6h-3.3zM88.4 343.1h15.8l3 1.7h-15.4zM113 343.1h5.3l2.5 1.7h-5.1zM141.1 343.1h15.8l1.4 1.7h-15.4zM86.8 341.4h14.5l2.9 1.7h-14.1zM108.5 341.4h48.9l1.3 1.7h-47.5zM161.1 341.4h3.6l1 1.7h-3.5zM175.6 341.4h1.8l.6 1.7h-1.7zM315 341.4h5.4l-3.5 1.7h-5.3zM91.1 339.5h65.2l1.1 1.9h-63.3zM180.5 339.5h1.8l.5 1.9h-1.8zM316.4 339.5h9.3l-3.5 1.9h-9zM120.8 337.7h15.3l1.5 1.8h-14.9zM138 337.7h15.2l1.2 1.8h-14.9zM183.8 337.7h3.8l.3 1.8h-3.7zM319.3 337.7h11.5l-3.3 1.8h-11.1zM142.4 335.7h9.7l1.1 2h-9.5zM189.3 335.7h1.9l.2 2h-1.9zM324.1 335.7h7.8l-3.1 2h-7.6zM143.1 333.8h8l1 1.9h-7.8zM199 333.8h8l-.2 1.9h-7.8zM217 333.8h4l-.5 1.9h-3.9zM256.9 333.8h2l-1.3 1.9h-1.9zM324.8 333.8h2l-2.7 1.9h-2zM143.9 331.8h6.1l1.1 2h-6zM233.6 331.8h4.1l-.8 2h-3.9zM252 331.8h4.1l-1.2 2h-4zM264.2 331.8h2.1l-1.4 2h-2zM319.3 331.8h2l-2.5 2h-2zM144.9 329.7h6.2l1 2.1h-6.1zM244.7 329.7h2.1l-.9 2.1h-2.1zM278 329.7h8.3l-1.7 2.1h-8.1zM290.5 329.7h2.1l-1.9 2.1h-2zM303 329.7h10.4l-2.3 2.1h-10.2zM148 327.6h4.3l.9 2.1h-4.2zM130.9 314.5h2.3l1 2.3h-2.3zM129.9 312.3h2.4l.9 2.2h-2.3zM125.8 307.7h2.4l.9 2.3h-2.4zM361.8 307.7h2.4l-1.9 2.3h-2.4zM367.8 303.1h2.5l-1.8 2.3h-2.4zM244.1 277.5h2.6l-.1 2.3h-2.7zM323.5 261.1h2.7l-.1 2.3h-2.8zM312.8 258.8h10.8l-.1 2.3h-10.8zM350.8 258.8h10.9l-.2 2.3h-10.8zM130.6 256.4h2.8l0 2.4h-2.7zM223.1 256.4h2.7l0 2.4h-2.7zM312.9 256.4h2.7l-.1 2.4h-2.7zM348.2 256.4h5.5l-.2 2.4h-5.4zM356.4 256.4h2.7l-.1 2.4h-2.7zM223.1 254.1h2.8l-.1 2.3h-2.7zM318.4 254.1h8.1l0 2.3h-8.2zM332 254.1h2.7l-.1 2.3h-2.7zM340.1 254.1h5.5l-.1 2.3h-5.4zM348.3 254.1h8.2l-.1 2.3h-8.2zM217.7 251.8h2.7l0 2.3h-2.7zM223.1 251.8h2.8l0 2.3h-2.8zM310.2 251.8h5.5l0 2.3h-5.5zM318.4 251.8h8.2l-.1 2.3h-8.1zM329.3 251.8h2.7l0 2.3h-2.7zM307.5 249.4h5.4l.1 2.4h-5.5zM318.4 249.4h13.6l0 2.4h-13.6zM117 247.1h2.8l-.1 2.3h-2.7zM138.8 247.1h8.2l-.1 2.3h-8.1zM310.1 247.1h2.8l0 2.3h-2.7zM318.3 247.1h8.2l0 2.3h-8.1zM114.4 244.7h5.4l0 2.4h-5.5zM141.6 244.7h2.7l-.1 2.4h-2.7zM310.1 244.7h2.7l.1 2.4h-2.8zM109.3 237.7h2.7l-.1 2.4h-2.7zM328 233.1h2.7l.3 2.3h-2.7zM328.6 221.4h2.6l.5 2.3h-2.6zM309.5 219h2.7l.5 2.4h-2.7zM78.6 193.5h2.4l-1.4 2.3h-2.5zM141.1 193.5h2.4l-.7 2.3h-2.4zM148.9 191.2h2.4l-.6 2.3h-2.4zM194.1 191.2h2.3l0 2.3h-2.4zM147.3 189h2.3l-.7 2.2h-2.3zM194.1 189h2.4l-.1 2.2h-2.3zM201.2 189h2.3l.1 2.2h-2.4zM81.1 186.7h6.9l-1.6 2.3h-7.1zM189.6 186.7h2.3l-.1 2.3h-2.3zM293.5 186.7h18.5l1.6 2.3h-18.7zM316.6 186.7h2.3l1.8 2.3h-2.4zM325.9 186.7h4.6l1.9 2.3h-4.7zM80.6 184.5h11.4l-1.7 2.2h-11.5zM117 184.5h2.3l-1.3 2.2h-2.3zM139.7 184.5h2.3l-.9 2.2h-2.3zM292.1 184.5h27.3l1.8 2.2h-27.7zM321.7 184.5h4.5l2 2.2h-4.6zM328.5 184.5h2.3l2 2.2h-2.3zM339.9 184.5h4.5l2.2 2.2h-4.6zM53.4 182.3h6.8l-2.3 2.2h-6.9zM84.8 182.3h4.4l-1.8 2.2h-4.5zM113.9 182.3h6.7l-1.3 2.2h-6.9zM122.8 182.3h2.2l-1.2 2.2h-2.3zM129.5 182.3h2.3l-1.2 2.2h-2.2zM138.5 182.3h2.2l-1 2.2h-2.2zM219 182.3h2.3l.3 2.2h-2.3zM228 182.3h2.2l.5 2.2h-2.3zM236.9 182.3h2.3l.6 2.2h-2.3zM261.5 182.3h2.3l1 2.2h-2.3zM268.2 182.3h2.3l1.1 2.2h-2.2zM279.4 182.3h6.7l1.5 2.2h-6.9zM288.4 182.3h22.4l1.8 2.2h-22.8zM313 182.3h11.2l2 2.2h-11.4zM337.6 182.3h9l2.4 2.2h-9.1zM60.3 180.1h4.4l-2.3 2.2h-4.5zM82.3 180.1h30.8l-1.5 2.2h-31.3zM115.3 180.1h4.4l-1.4 2.2h-4.4zM130.7 180.1h2.2l-1.1 2.2h-2.3zM137.3 180.1h2.2l-1 2.2h-2.3zM141.7 180.1h2.2l-1 2.2h-2.2zM194.5 180.1h4.4l0 2.2h-4.5zM209.9 180.1h8.8l.3 2.2h-8.9zM223.1 180.1h6.6l.5 2.2h-6.7zM236.3 180.1h4.4l.7 2.2h-4.5zM242.9 180.1h8.8l.9 2.2h-9zM253.9 180.1h22l1.3 2.2h-22.4zM278.1 180.1h35.2l1.9 2.2h-35.8zM315.5 180.1h8.8l2.1 2.2h-8.9zM337.5 180.1h6.6l2.5 2.2h-6.8zM58.5 178h2.1l-2.5 2.1h-2.2zM62.8 178h15.1l-2.2 2.1h-15.4zM80.1 178h32.4l-1.6 2.1h-33zM116.8 178h2.2l-1.5 2.1h-2.2zM131.9 178h8.7l-1.1 2.1h-8.8zM142.7 178h2.2l-1 2.1h-2.2zM160 178h2.2l-.7 2.1h-2.2zM203.2 178h28.1l.6 2.1h-28.6zM233.5 178h36.7l1.3 2.1h-37.4zM274.6 178h32.4l1.9 2.1h-33zM309.1 178h26l2.4 2.1h-26.4zM337.2 178h4.3l2.6 2.1h-4.4zM343.7 178h4.3l2.7 2.1h-4.4zM58.9 175.9h21.3l-2.3 2.1h-21.6zM82.3 175.9h29.7l-1.7 2.1h-30.2zM116.2 175.9h2.1l-1.5 2.1h-2.2zM120.5 175.9h2.1l-1.5 2.1h-2.1zM133.2 175.9h10.6l-1.1 2.1h-10.8zM203.2 175.9h23.3l.5 2.1h-23.8zM230.8 175.9h48.7l1.5 2.1h-49.7zM281.7 175.9h48.8l2.4 2.1h-49.7zM332.6 175.9h19.1l2.8 2.1h-19.4zM61.6 173.8h39.6l-2 2.1h-40.3zM103.3 173.8h12.4l-1.6 2.1h-12.7zM117.8 173.8h29.1l-1 2.1h-29.7zM157.3 173.8h2.1l-.8 2.1h-2.1zM165.7 173.8h2.1l-.7 2.1h-2.1zM180.2 173.8h6.3l-.3 2.1h-6.4zM207.3 173.8h20.8l.5 2.1h-21.2zM230.2 173.8h118.6l2.9 2.1h-120.9zM53.2 171.7h33.6l-2.3 2.1h-34.3zM88.9 171.7h12.2l-2 2.1h-12.5zM103.1 171.7h46.9l-1 2.1h-47.8zM156.2 171.7h6.1l-.8 2.1h-6.2zM164.3 171.7h4.1l-.6 2.1h-4.2zM180.6 171.7h8.2l-.2 2.1h-8.4zM209.2 171.7h10.2l.4 2.1h-10.4zM221.4 171.7h8.2l.6 2.1h-8.4zM231.6 171.7h24.5l1.1 2.1h-25zM260.2 171.7h86.6l3 2.1h-88.4zM56.2 169.7h7l-2.9 2h-7.1zM65.2 169.7h28l-2.3 2h-28.6zM97.2 169.7h41.9l-1.3 2h-42.8zM141.1 169.7h10l-1.1 2h-10.2zM157.1 169.7h15.9l-.5 2h-16.3zM175 169.7h2l-.5 2h-2zM211 169.7h10l.4 2h-10.2zM223 169.7h10l.6 2h-10.1zM234.9 169.7h20l1.2 2h-20.4zM256.9 169.7h86.9l3 2h-88.7zM59.3 167.8h1l-3.1 1.9h-1zM70.1 167.8h39.1l-2.1 1.9h-39.9zM111.1 167.8h37.1l-1.1 1.9h-38zM158 167.8h17.6l-.6 1.9h-17.9zM177.5 167.8h3.9l-.4 1.9h-4zM212.7 167.8h17.6l.7 1.9h-18zM240.1 167.8h9.7l1.1 1.9h-10zM251.8 167.8h46.9l2.2 1.9h-48zM300.6 167.8h40.1l3.1 1.9h-41zM62.6 165.8h.9l-3.2 2h-1zM76.9 165.8h9.5l-2.6 2h-9.8zM103.6 165.8h24.8l-1.7 2h-25.4zM132.2 165.8h15.3l-1.2 2h-15.7zM159 165.8h5.7l-.8 2h-5.9zM166.6 165.8h15.3l-.5 2h-15.6zM216.2 165.8h7.7l.5 2h-7.8zM239.1 165.8h5.8l1 2h-5.8zM250.6 165.8h7.6l1.4 2h-7.8zM260.1 165.8h9.6l1.6 2h-9.8zM271.6 165.8h49.6l2.9 2h-50.8zM336.5 165.8h.9l3.3 2h-1zM106 164h22.3l-1.8 1.8h-22.9zM135.8 164h9.3l-1.4 1.8h-9.6zM158.1 164h3.7l-.9 1.8h-3.8zM165.6 164h18.6l-.4 1.8h-19.1zM238.2 164h3.7l1 1.8h-3.8zM251.2 164h1.9l1.3 1.8h-1.9zM258.6 164h24.2l2.1 1.8h-24.8zM284.7 164h11.2l2.4 1.8h-11.4zM303.3 164h5.6l2.8 1.8h-5.8zM112.2 162.1h14.5l-2.1 1.9h-14.9zM130.3 162.1h3.6l-1.8 1.9h-3.8zM135.7 162.1h9.1l-1.6 1.9h-9.3zM157.4 162.1h5.5l-1.1 1.9h-5.5zM173.7 162.1h12.7l-.4 1.9h-13zM238.9 162.1h5.5l1.2 1.9h-5.6zM262.5 162.1h5.4l1.9 1.9h-5.6zM269.7 162.1h9.1l2.2 1.9h-9.3zM280.6 162.1h1.8l2.3 1.9h-1.9zM298.7 162.1h9.1l3 1.9h-9.3zM111.2 160.4h1.8l-2.6 1.7h-1.9zM118.3 160.4h5.2l-2.3 1.7h-5.4zM125.3 160.4h21.1l-1.6 1.7h-21.8zM149.9 160.4h5.3l-1.4 1.7h-5.4zM156.9 160.4h7.1l-1.1 1.7h-7.3zM181.5 160.4h5.3l-.4 1.7h-5.4zM211.4 160.4h1.8l.4 1.7h-1.8zM243.1 160.4h5.2l1.5 1.7h-5.4zM265.9 160.4h1.8l2 1.7h-1.8zM271.2 160.4h3.5l2.3 1.7h-3.7zM276.5 160.4h3.5l2.4 1.7h-3.6zM122.5 158.7h34.1l-1.4 1.7h-35.2zM158.3 158.7h6.8l-1.1 1.7h-7.1zM180.4 158.7h6.8l-.4 1.7h-7zM207.7 158.7h10.2l.6 1.7h-10.6zM263.9 158.7h8.5l2.3 1.7h-8.8zM131.5 157.1h38l-1 1.6h-39.2zM174.4 157.1h3.3l-.7 1.6h-3.4zM179.4 157.1h6.6l-.5 1.6h-6.8zM212.4 157.1h4.9l.6 1.6h-5.1zM261.9 157.1h6.6l2.2 1.6h-6.8zM141.6 155.7h3.2l-1.7 1.4h-3.3zM146.4 155.7h43.2l-.3 1.4h-44.6z"/>
<path fill="#7ac8ee" stroke="#7ac8ee" stroke-width="0.4" d="M118.9 337.7h1.9l1.9 1.8h-1.8zM136.1 337.7h1.9l1.5 1.8h-1.9zM331.9 335.7h1.9l-3 2h-2zM135.2 319h4.5l1 2.2h-4.5zM131.9 316.8h9.2l.9 2.2h-9.1zM128.5 314.5h2.4l1 2.3h-2.3zM133.2 314.5h2.4l.9 2.3h-2.3zM142.6 314.5h2.3l.8 2.3h-2.3zM127.6 312.3h2.3l1 2.2h-2.4zM132.3 312.3h4.8l.8 2.2h-4.7zM265.3 312.3h2.4l-.9 2.2h-2.4zM126.7 310h9.6l.8 2.3h-9.5zM266.1 310h2.4l-.8 2.3h-2.4zM128.2 307.7h7.3l.8 2.3h-7.2zM364.2 307.7h2.4l-1.9 2.3h-2.4zM134.8 305.4h2.5l.7 2.3h-2.5zM363.6 305.4h7.4l-1.9 2.3h-7.3zM343 303.1h5l-1.6 2.3h-4.9zM370.3 303.1h2.5l-1.8 2.3h-2.5zM136 300.8h2.5l.6 2.3h-2.5zM344.4 300.8h5l-1.4 2.3h-5zM372 300.8h5.1l-1.8 2.3h-5zM343.2 298.5h7.6l-1.4 2.3h-7.5zM376.1 298.5h5.1l-1.6 2.3h-5.1zM352.1 296.1h2.5l-1.3 2.4h-2.5zM377.6 296.1h2.6l-1.5 2.4h-2.6zM317.2 293.8h2.6l-1 2.3h-2.5zM337.8 293.8h5.1l-1.1 2.3h-5.1zM123.5 291.5h2.6l.5 2.3h-2.6zM144.2 291.5h2.6l.4 2.3h-2.6zM216.9 291.5h2.6l-.2 2.3h-2.6zM318 291.5h2.6l-.8 2.3h-2.6zM356.9 291.5h2.6l-1.1 2.3h-2.6zM143.9 289.1h2.6l.3 2.4h-2.6zM217 289.1h2.6l-.1 2.4h-2.6zM230 289.1h2.6l-.2 2.4h-2.6zM357.9 289.1h2.7l-1.1 2.4h-2.6zM143.5 286.8h2.7l.3 2.3h-2.6zM232.8 286.8h2.6l-.2 2.3h-2.6zM214.5 284.5h2.7l-.1 2.3h-2.7zM233 284.5h2.6l-.2 2.3h-2.6zM145.7 282.1h5.3l.2 2.4h-5.3zM246.4 282.1h2.6l-.2 2.4h-2.6zM145.5 279.8h7.9l.2 2.3h-7.9zM249.2 279.8h2.7l-.2 2.3h-2.7zM361 279.8h2.6l-.6 2.3h-2.6zM142.6 277.5h10.7l.1 2.3h-10.6zM155.9 277.5h2.7l.2 2.3h-2.7zM358.9 277.5h2.6l-.5 2.3h-2.7zM145.1 275.1h8l.2 2.4h-8zM144.9 272.8h8.1l.1 2.3h-8zM236.3 272.8h5.3l-.1 2.3h-5.3zM247 272.8h8.1l-.2 2.3h-8zM117.8 270.4h2.7l.2 2.4h-2.6zM147.5 270.4h5.3l.2 2.4h-5.4zM247.2 270.4h2.6l-.1 2.4h-2.7zM131.1 268.1h2.7l.2 2.3h-2.7zM144.6 268.1h5.4l.2 2.3h-5.4zM333.7 268.1h2.7l-.3 2.3h-2.7zM355.3 268.1h2.7l-.4 2.3h-2.7zM125.6 265.8h2.7l.1 2.3h-2.7zM131 265.8h5.4l.1 2.3h-5.4zM144.5 265.8h5.4l.1 2.3h-5.4zM252.8 265.8h2.7l-.1 2.3h-2.7zM339.4 265.8h2.7l-.3 2.3h-2.7zM347.5 265.8h2.7l-.3 2.3h-2.7zM125.5 263.4h10.8l.1 2.4h-10.8zM141.7 263.4h8.1l.1 2.4h-8.1zM328.8 263.4h2.7l-.2 2.4h-2.7zM358.6 263.4h5.4l-.3 2.4h-5.4zM119.9 261.1h19l.1 2.3h-19zM141.6 261.1h5.5l0 2.3h-5.4zM212.2 261.1h2.7l0 2.3h-2.7zM223.1 261.1h2.7l0 2.3h-2.8zM318.1 261.1h5.4l-.2 2.3h-5.4zM350.7 261.1h10.8l-.2 2.3h-10.8zM119.8 258.8h27.2l.1 2.3h-27.2zM212.2 258.8h19.1l-.1 2.3h-19zM242.1 258.8h2.7l0 2.3h-2.7zM348.1 258.8h2.7l-.1 2.3h-2.8zM361.7 258.8h2.7l-.2 2.3h-2.7zM119.8 256.4h10.8l.1 2.4h-10.9zM133.4 256.4h13.6l0 2.4h-13.6zM160.6 256.4h2.7l0 2.4h-2.7zM212.2 256.4h10.9l0 2.4h-10.9zM225.8 256.4h5.5l0 2.4h-5.5zM310.1 256.4h2.8l-.1 2.4h-2.7zM329.2 256.4h5.4l-.1 2.4h-5.4zM345.5 256.4h2.7l-.1 2.4h-2.7zM353.7 256.4h2.7l-.1 2.4h-2.8zM364.5 256.4h2.8l-.2 2.4h-2.7zM117 254.1h27.2l0 2.3h-27.2zM146.9 254.1h2.8l0 2.3h-2.7zM212.2 254.1h10.9l0 2.3h-10.9zM225.9 254.1h5.4l0 2.3h-5.5zM310.2 254.1h5.5l-.1 2.3h-5.5zM329.3 254.1h2.7l-.1 2.3h-2.7zM337.4 254.1h2.7l0 2.3h-2.8zM345.6 254.1h2.7l-.1 2.3h-2.7zM117 251.8h35.4l0 2.3h-35.4zM212.2 251.8h5.5l0 2.3h-5.5zM220.4 251.8h2.7l0 2.3h-2.7zM225.9 251.8h5.4l0 2.3h-5.4zM244.9 251.8h2.7l0 2.3h-2.7zM307.5 251.8h2.7l0 2.3h-2.7zM326.6 251.8h2.7l0 2.3h-2.8zM332 251.8h2.8l-.1 2.3h-2.7zM337.5 251.8h2.7l-.1 2.3h-2.7zM345.6 251.8h2.8l-.1 2.3h-2.7zM114.3 249.4h32.6l0 2.4h-32.6zM212.2 249.4h8.2l0 2.4h-8.2zM223.1 249.4h8.2l0 2.4h-8.2zM247.6 249.4h2.7l.1 2.4h-2.8zM332 249.4h8.1l.1 2.4h-8.2zM114.3 247.1h2.7l0 2.3h-2.7zM119.8 247.1h19l0 2.3h-19.1zM215 247.1h16.3l0 2.3h-16.3zM250.3 247.1h2.7l.1 2.3h-2.8zM304.7 247.1h5.4l.1 2.3h-5.4zM326.5 247.1h2.7l.1 2.3h-2.8zM119.8 244.7h21.8l-.1 2.4h-21.7zM190.5 244.7h8.1l0 2.4h-8.1zM204.1 244.7h2.7l0 2.4h-2.7zM225.8 244.7h2.7l.1 2.4h-2.8zM301.9 244.7h8.2l0 2.4h-8.1zM323.6 244.7h5.5l.1 2.4h-5.5zM114.5 242.4h10.8l0 2.3h-10.9zM136.2 242.4h2.7l0 2.3h-2.8zM185.1 242.4h2.7l0 2.3h-2.7zM252.9 242.4h2.7l.1 2.3h-2.7zM285.5 242.4h5.4l.1 2.3h-5.4zM307.2 242.4h5.5l.1 2.3h-5.5zM323.5 242.4h5.4l.2 2.3h-5.5zM331.7 242.4h2.7l.1 2.3h-2.7zM111.9 240.1h2.7l-.1 2.3h-2.7zM117.3 240.1h2.7l-.1 2.3h-2.7zM285.4 240.1h2.7l.1 2.3h-2.7zM304.4 240.1h5.4l.1 2.3h-5.4zM326.1 240.1h2.7l.1 2.3h-2.7zM331.5 240.1h2.7l.2 2.3h-2.7zM182.4 237.7h2.7l0 2.4h-2.7zM279.8 237.7h2.7l.2 2.4h-2.7zM306.9 237.7h5.4l.2 2.4h-5.4zM331.3 237.7h5.4l.2 2.4h-5.4zM104.1 235.4h5.4l-.2 2.3h-5.4zM120.3 235.4h2.7l-.1 2.3h-2.7zM179.7 235.4h2.7l0 2.3h-2.7zM252.7 235.4h2.7l.1 2.3h-2.7zM99 233.1h2.7l-.3 2.3h-2.7zM104.3 233.1h2.7l-.2 2.3h-2.7zM109.7 233.1h2.7l-.2 2.3h-2.7zM179.8 233.1h2.7l-.1 2.3h-2.7zM252.5 233.1h2.7l.2 2.3h-2.7zM303.7 233.1h2.7l.3 2.3h-2.7zM330.7 233.1h2.7l.3 2.3h-2.7zM104.6 230.7h5.4l-.3 2.4h-5.4zM179.8 230.7h2.7l0 2.4h-2.7zM287.3 230.7h2.7l.3 2.4h-2.7zM327.6 230.7h5.4l.4 2.4h-5.4zM104.9 228.4h2.7l-.3 2.3h-2.7zM316.5 228.4h2.7l.4 2.3h-2.7zM327.2 228.4h5.4l.4 2.3h-5.4zM297.5 226h2.6l.3 2.4h-2.6zM313.5 226h2.6l.4 2.4h-2.7zM102.9 223.7h5.3l-.3 2.3h-5.4zM180 223.7h2.7l-.1 2.3h-2.6zM294.5 223.7h2.6l.4 2.3h-2.7zM299.8 223.7h13.3l.4 2.3h-13.4zM84.7 221.4h2.6l-.4 2.3h-2.6zM270.2 221.4h2.7l.3 2.3h-2.7zM302.1 221.4h13.2l.4 2.3h-13.3zM323.3 221.4h5.3l.5 2.3h-5.4zM182.8 219h2.7l-.1 2.4h-2.6zM299 219h10.5l.5 2.4h-10.6zM312.2 219h10.5l.6 2.4h-10.6zM325.4 219h2.6l.6 2.4h-2.7zM77.9 216.7h2.6l-.6 2.3h-2.6zM298.5 216.7h23.6l.6 2.3h-23.7zM104.7 214.4h2.6l-.5 2.3h-2.6zM109.9 214.4h2.6l-.5 2.3h-2.6zM300.5 214.4h23.5l.7 2.3h-23.6zM326.6 214.4h2.6l.8 2.3h-2.6zM216.9 212h2.6l.1 2.4h-2.6zM310.2 212h2.6l.8 2.4h-2.6zM325.8 212h2.6l.8 2.4h-2.6zM333.6 212h2.6l.9 2.4h-2.6zM214.2 209.7h2.5l.2 2.3h-2.6zM219.3 209.7h5.2l.1 2.3h-5.1zM337.8 209.7h2.6l1 2.3h-2.6zM224.3 207.4h2.5l.2 2.3h-2.5zM231.9 207.4h2.6l.3 2.3h-2.6zM336.7 207.4h7.7l1.1 2.3h-7.7zM122.7 205h2.5l-.6 2.4h-2.5zM211.4 205h5.1l.1 2.4h-5.1zM322.9 205h5.1l1.1 2.4h-5.2zM330.5 205h2.6l1.1 2.4h-2.6zM338.1 205h5.1l1.2 2.4h-5.1zM188.7 202.7h2.5l-.1 2.3h-2.5zM213.8 202.7h7.5l.2 2.3h-7.6zM324.3 202.7h5l1.2 2.3h-5zM339.4 202.7h5l1.3 2.3h-5zM116.7 200.4h2.5l-.8 2.3h-2.5zM126.6 200.4h2.5l-.7 2.3h-2.5zM208.7 200.4h5l.1 2.3h-5zM325.6 200.4h4.9l1.4 2.3h-5.1zM338 200.4h2.5l1.4 2.3h-2.5zM75.8 198.1h2.4l-1.3 2.3h-2.5zM117.6 198.1h2.4l-.8 2.3h-2.5zM129.9 198.1h2.4l-.7 2.3h-2.5zM206.2 198.1h4.9l.1 2.3h-5zM220.9 198.1h2.5l.2 2.3h-2.5zM233.2 198.1h2.5l.4 2.3h-2.5zM238.1 198.1h2.5l.4 2.3h-2.5zM329.2 198.1h2.4l1.4 2.3h-2.5zM341.5 198.1h2.4l1.6 2.3h-2.5zM77.1 195.8h2.5l-1.4 2.3h-2.4zM111.2 195.8h2.4l-.9 2.3h-2.5zM116.1 195.8h2.4l-.9 2.3h-2.5zM120.9 195.8h2.5l-.9 2.3h-2.5zM130.7 195.8h9.7l-.7 2.3h-9.8zM203.6 195.8h2.5l.1 2.3h-2.5zM228 195.8h9.7l.4 2.3h-9.8zM332.6 195.8h2.4l1.5 2.3h-2.4zM339.9 195.8h2.4l1.6 2.3h-2.4zM112.2 193.5h9.7l-1 2.3h-9.7zM129.1 193.5h12l-.7 2.3h-12.2zM145.9 193.5h2.4l-.6 2.3h-2.4zM196.4 193.5h4.8l0 2.3h-4.8zM203.6 193.5h2.4l.1 2.3h-2.5zM215.6 193.5h9.6l.3 2.3h-9.7zM326.2 193.5h2.4l1.6 2.3h-2.5zM335.8 193.5h2.5l1.6 2.3h-2.5zM80.1 191.2h4.7l-1.4 2.3h-4.8zM113.3 191.2h11.9l-.9 2.3h-12.1zM129.9 191.2h9.5l-.7 2.3h-9.6zM141.8 191.2h7.1l-.6 2.3h-7.2zM196.4 191.2h28.5l.3 2.3h-28.8zM289.1 191.2h4.7l1.2 2.3h-4.8zM303.3 191.2h4.7l1.4 2.3h-4.8zM319.9 191.2h16.6l1.8 2.3h-16.9zM79.3 189h11.8l-1.5 2.2h-11.9zM105.1 189h2.4l-1.3 2.2h-2.4zM109.8 189h37.5l-.7 2.2h-38zM196.5 189h4.7l0 2.2h-4.8zM203.5 189h23.4l.4 2.2h-23.7zM231.6 189h11.7l.6 2.2h-11.8zM245.7 189h9.4l.7 2.2h-9.5zM257.4 189h16.4l1 2.2h-16.6zM278.5 189h2.3l1.1 2.2h-2.3zM283.2 189h30.4l1.6 2.2h-30.9zM318.3 189h16.4l1.8 2.2h-16.6zM88 186.7h16.2l-1.4 2.3h-16.4zM106.5 186.7h16.1l-1.1 2.3h-16.4zM124.9 186.7h18.5l-.8 2.3h-18.7zM145.7 186.7h2.3l-.7 2.3h-2.4zM191.9 186.7h9.3l0 2.3h-9.4zM203.5 186.7h73.9l1.1 2.3h-75zM279.7 186.7h13.8l1.4 2.3h-14.1zM312 186.7h4.6l1.7 2.3h-4.7zM318.9 186.7h7l1.8 2.3h-7zM330.5 186.7h2.3l1.9 2.3h-2.3zM344.3 186.7h2.3l2.2 2.3h-2.4zM92 184.5h13.6l-1.4 2.2h-13.9zM107.9 184.5h9.1l-1.3 2.2h-9.2zM119.3 184.5h6.8l-1.2 2.2h-6.9zM130.6 184.5h9.1l-.9 2.2h-9.2zM144.3 184.5h4.5l-.8 2.2h-4.6zM189.8 184.5h11.3l.1 2.2h-11.6zM205.7 184.5h70.5l1.2 2.2h-71.6zM278.5 184.5h13.6l1.4 2.2h-13.8zM319.4 184.5h2.3l1.9 2.2h-2.4zM326.2 184.5h2.3l2 2.2h-2.3zM344.4 184.5h2.3l2.3 2.2h-2.4zM80.3 182.3h4.5l-1.9 2.2h-4.6zM89.2 182.3h24.7l-1.5 2.2h-25zM120.6 182.3h2.2l-1.3 2.2h-2.2zM131.8 182.3h6.7l-1 2.2h-6.9zM140.7 182.3h6.7l-.8 2.2h-6.9zM192.2 182.3h6.7l0 2.2h-6.9zM205.6 182.3h13.4l.3 2.2h-13.6zM221.3 182.3h6.7l.4 2.2h-6.8zM230.2 182.3h6.7l.6 2.2h-6.8zM239.2 182.3h22.3l1 2.2h-22.7zM263.8 182.3h4.4l1.2 2.2h-4.6zM270.5 182.3h8.9l1.3 2.2h-9.1zM286.1 182.3h2.3l1.4 2.2h-2.2zM310.8 182.3h2.2l1.8 2.2h-2.2zM80.1 180.1h2.2l-2 2.2h-2.2zM113.1 180.1h2.2l-1.4 2.2h-2.3zM132.9 180.1h4.4l-1.1 2.2h-4.4zM139.5 180.1h2.2l-1 2.2h-2.2zM143.9 180.1h2.2l-.9 2.2h-2.3zM205.5 180.1h4.4l.2 2.2h-4.5zM218.7 180.1h4.4l.4 2.2h-4.5zM229.7 180.1h6.6l.6 2.2h-6.7zM240.7 180.1h2.2l.7 2.2h-2.2zM251.7 180.1h2.2l.9 2.2h-2.2zM275.9 180.1h2.2l1.3 2.2h-2.2zM313.3 180.1h2.2l2 2.2h-2.3zM60.6 178h2.2l-2.5 2.1h-2.2zM77.9 178h2.2l-2.2 2.1h-2.2zM112.5 178h4.3l-1.5 2.1h-4.4zM231.3 178h2.2l.6 2.1h-2.2zM270.2 178h4.4l1.3 2.1h-4.4zM307 178h2.1l2 2.1h-2.2zM341.5 178h2.2l2.6 2.1h-2.2zM80.2 175.9h2.1l-2.2 2.1h-2.2zM112 175.9h4.2l-1.6 2.1h-4.3zM118.3 175.9h2.2l-1.5 2.1h-2.2zM156.5 175.9h8.5l-.7 2.1h-8.6zM226.5 175.9h4.3l.5 2.1h-4.3zM279.5 175.9h2.2l1.5 2.1h-2.2zM330.5 175.9h2.1l2.5 2.1h-2.2zM101.2 173.8h2.1l-1.9 2.1h-2.2zM115.7 173.8h2.1l-1.6 2.1h-2.1zM159.4 173.8h6.3l-.7 2.1h-6.4zM205.2 173.8h2.1l.1 2.1h-2.1zM228.1 173.8h2.1l.6 2.1h-2.2zM86.8 171.7h2.1l-2.3 2.1h-2.1zM101.1 171.7h2l-1.9 2.1h-2.1zM162.3 171.7h2l-.7 2.1h-2.1zM168.4 171.7h2l-.6 2.1h-2zM219.4 171.7h2l.4 2.1h-2zM256.1 171.7h4.1l1.2 2.1h-4.2zM93.2 169.7h4l-2.2 2h-4.1zM139.1 169.7h2l-1.3 2h-2zM173 169.7h2l-.5 2h-2zM221 169.7h2l.5 2h-2.1zM254.9 169.7h2l1.2 2h-2zM109.2 167.8h1.9l-2 1.9h-2zM175.6 167.8h1.9l-.5 1.9h-2zM249.8 167.8h2l1.1 1.9h-2zM298.7 167.8h1.9l2.2 1.9h-1.9zM63.5 165.8h1.9l-3.1 2h-2zM128.4 165.8h3.8l-1.6 2h-3.9zM157.1 165.8h1.9l-1 2h-2zM181.9 165.8h1.9l-.4 2h-2zM258.2 165.8h1.9l1.4 2h-1.9zM269.7 165.8h1.9l1.7 2h-2zM128.3 164h7.5l-1.7 1.8h-7.6zM249.3 164h1.9l1.3 1.8h-1.9zM253.1 164h3.7l1.4 1.8h-3.8zM282.8 164h1.9l2.2 1.8h-2zM108.5 162.1h3.7l-2.5 1.9h-3.7zM126.7 162.1h3.6l-2 1.9h-3.7zM133.9 162.1h1.8l-1.8 1.9h-1.8zM267.9 162.1h1.8l2 1.9h-1.9zM278.8 162.1h1.8l2.2 1.9h-1.8zM113 160.4h5.3l-2.5 1.7h-5.4zM123.5 160.4h1.8l-2.3 1.7h-1.8zM146.4 160.4h1.7l-1.5 1.7h-1.8zM155.2 160.4h1.7l-1.3 1.7h-1.8zM209.7 160.4h1.7l.4 1.7h-1.8zM241.3 160.4h1.8l1.3 1.7h-1.8zM267.7 160.4h3.5l2.1 1.7h-3.6zM274.7 160.4h1.8l2.3 1.7h-1.8zM156.6 158.7h1.7l-1.4 1.7h-1.7zM187.2 158.7h1.7l-.3 1.7h-1.8zM186 157.1h4.9l-.3 1.6h-5.1zM209.1 157.1h3.3l.4 1.6h-3.4zM140 155.7h1.6l-1.8 1.4h-1.7zM144.8 155.7h1.6l-1.7 1.4h-1.6z"/>
<path fill="#ffe033" stroke="#ffe033" stroke-width="0.4" d="M127.4 305.4h7.4l.7 2.3h-7.3zM126.6 303.1h10l.7 2.3h-9.9zM125.9 300.8h10.1l.6 2.3h-10zM125.2 298.5h2.6l.6 2.3h-2.5zM130.3 298.5h10.1l.6 2.3h-10.1zM124.6 296.1h17.9l.5 2.4h-17.8zM341.8 296.1h10.3l-1.3 2.4h-10.1zM124 293.8h2.6l.6 2.3h-2.6zM134.3 293.8h2.6l.5 2.3h-2.6zM139.5 293.8h5.1l.5 2.3h-5.2zM219.3 293.8h2.6l-.2 2.3h-2.5zM319.8 293.8h2.5l-.9 2.3h-2.6zM345.5 293.8h10.3l-1.2 2.3h-10.2zM136.5 291.5h7.7l.4 2.3h-7.7zM227.2 291.5h2.6l-.2 2.3h-2.6zM328.4 291.5h2.6l-.9 2.3h-2.6zM346.6 291.5h10.3l-1.1 2.3h-10.3zM136 289.1h7.9l.3 2.4h-7.7zM219.6 289.1h5.2l-.2 2.4h-5.1zM318.8 289.1h2.6l-.8 2.4h-2.6zM350.1 289.1h7.8l-1 2.4h-7.8zM133 286.8h2.7l.3 2.3h-2.6zM138.3 286.8h5.2l.4 2.3h-5.3zM146.2 286.8h2.6l.3 2.3h-2.6zM217.1 286.8h5.2l-.1 2.3h-5.2zM227.6 286.8h5.2l-.2 2.3h-5.2zM319.5 286.8h2.6l-.7 2.3h-2.6zM356.2 286.8h5.3l-.9 2.3h-5.3zM132.7 284.5h15.8l.3 2.3h-15.8zM230.4 284.5h2.6l-.2 2.3h-2.6zM357 284.5h5.3l-.8 2.3h-5.3zM129.8 282.1h2.6l.3 2.4h-2.6zM135.1 282.1h10.6l.2 2.4h-10.6zM214.6 282.1h2.6l0 2.4h-2.7zM230.5 282.1h2.6l-.1 2.4h-2.6zM360.4 282.1h2.6l-.7 2.4h-2.6zM134.8 279.8h10.7l.2 2.3h-10.6zM233.3 279.8h5.3l-.2 2.3h-5.3zM246.6 279.8h2.6l-.2 2.3h-2.6zM137.3 277.5h5.3l.2 2.3h-5.3zM153.3 277.5h2.6l.2 2.3h-2.7zM230.7 277.5h8l-.1 2.3h-8zM246.7 277.5h5.4l-.2 2.3h-5.3zM123.7 275.1h2.6l.3 2.4h-2.7zM134.4 275.1h10.7l.2 2.4h-10.7zM153.1 275.1h5.4l.1 2.4h-5.3zM212.1 275.1h2.6l0 2.4h-2.7zM228.1 275.1h2.7l-.1 2.4h-2.7zM236.2 275.1h2.6l-.1 2.4h-2.7zM246.9 275.1h5.3l-.1 2.4h-5.4zM324.6 275.1h5.3l-.4 2.4h-5.3zM356.7 275.1h2.7l-.5 2.4h-2.7zM136.9 272.8h8l.2 2.3h-8zM131.3 270.4h16.2l.1 2.4h-16.1zM236.4 270.4h8.1l-.2 2.4h-8zM249.8 270.4h5.4l-.1 2.4h-5.4zM346.8 270.4h2.7l-.4 2.4h-2.7zM125.7 268.1h5.4l.2 2.3h-5.4zM133.8 268.1h2.7l.2 2.3h-2.7zM141.9 268.1h2.7l.2 2.3h-2.7zM150 268.1h2.7l.1 2.3h-2.6zM223 268.1h18.9l-.1 2.3h-18.9zM250 268.1h2.7l-.2 2.3h-2.7zM336.4 268.1h5.4l-.3 2.3h-5.4zM352.6 268.1h2.7l-.4 2.3h-2.7zM114.7 265.8h2.8l.1 2.3h-2.7zM122.9 265.8h2.7l.1 2.3h-2.7zM128.3 265.8h2.7l.1 2.3h-2.7zM136.4 265.8h2.7l.1 2.3h-2.7zM158.1 265.8h2.7l0 2.3h-2.7zM223 265.8h18.9l0 2.3h-18.9zM342.1 265.8h5.4l-.3 2.3h-5.4zM352.9 265.8h2.7l-.3 2.3h-2.7zM122.7 263.4h2.8l.1 2.4h-2.7zM136.3 263.4h5.4l.1 2.4h-5.4zM220.3 263.4h21.7l-.1 2.4h-21.6zM331.5 263.4h2.7l-.2 2.4h-2.7zM138.9 261.1h2.7l.1 2.3h-2.7zM147.1 261.1h2.7l0 2.3h-2.7zM160.6 261.1h2.8l0 2.3h-2.7zM214.9 261.1h8.2l-.1 2.3h-8.1zM225.8 261.1h19l-.1 2.3h-18.9zM326.2 261.1h10.9l-.2 2.3h-10.8zM117.1 258.8h2.7l.1 2.3h-2.7zM147 258.8h2.7l.1 2.3h-2.7zM160.6 258.8h2.7l.1 2.3h-2.8zM231.3 258.8h5.4l-.1 2.3h-5.4zM117 256.4h2.8l0 2.4h-2.7zM147 256.4h2.7l0 2.4h-2.7zM231.3 256.4h5.4l0 2.4h-5.4zM242.2 256.4h2.7l-.1 2.4h-2.7zM111.6 254.1h5.4l0 2.3h-5.4zM144.2 254.1h2.7l.1 2.3h-2.8zM149.7 254.1h8.1l0 2.3h-8.1zM209.5 254.1h2.7l0 2.3h-2.7zM231.3 254.1h5.4l0 2.3h-5.4zM100.6 251.8h2.8l0 2.3h-2.7zM114.3 251.8h2.7l0 2.3h-2.7zM209.5 251.8h2.7l0 2.3h-2.7zM231.3 251.8h5.5l-.1 2.3h-5.4zM342.9 251.8h2.7l0 2.3h-2.7zM111.6 249.4h2.7l0 2.4h-2.8zM209.5 249.4h2.7l0 2.4h-2.7zM220.4 249.4h2.7l0 2.4h-2.7zM231.3 249.4h2.7l0 2.4h-2.7zM209.5 247.1h5.5l0 2.3h-5.5zM231.3 247.1h2.7l0 2.3h-2.7zM206.8 244.7h5.4l0 2.4h-5.4zM214.9 244.7h10.9l0 2.4h-10.8zM228.5 244.7h5.5l0 2.4h-5.4zM125.3 242.4h2.8l-.1 2.3h-2.7zM130.8 242.4h5.4l-.1 2.3h-5.4zM187.8 242.4h10.8l0 2.3h-10.8zM201.4 242.4h10.8l0 2.3h-10.8zM217.6 242.4h13.6l.1 2.3h-13.6zM334.4 242.4h2.7l.1 2.3h-2.7zM109.2 240.1h2.7l-.1 2.3h-2.7zM114.6 240.1h2.7l-.1 2.3h-2.7zM120 240.1h2.7l-.1 2.3h-2.7zM133.6 240.1h2.7l-.1 2.3h-2.7zM185.1 240.1h2.7l0 2.3h-2.7zM198.6 240.1h2.8l0 2.3h-2.8zM204.1 240.1h5.4l0 2.3h-5.4zM282.7 240.1h2.7l.1 2.3h-2.7zM334.2 240.1h2.7l.2 2.3h-2.7zM106.6 237.7h2.7l-.1 2.4h-2.7zM117.5 237.7h2.7l-.2 2.4h-2.7zM125.6 237.7h8.1l-.1 2.4h-8.1zM285.3 237.7h2.7l.1 2.4h-2.7zM312.3 237.7h5.4l.2 2.4h-5.4zM247.3 235.4h2.7l.1 2.3h-2.7zM279.7 235.4h2.7l.1 2.3h-2.7zM285.1 235.4h2.7l.2 2.3h-2.7zM306.7 235.4h2.7l.2 2.3h-2.7zM317.5 235.4h2.7l.2 2.3h-2.7zM101.7 233.1h2.6l-.2 2.3h-2.7zM107 233.1h2.7l-.2 2.3h-2.7zM317.2 233.1h2.7l.3 2.3h-2.7zM93.9 230.7h2.7l-.3 2.4h-2.7zM101.9 230.7h2.7l-.3 2.4h-2.6zM255.1 230.7h2.7l.1 2.4h-2.7zM300.8 230.7h5.3l.3 2.4h-5.4zM88.8 228.4h2.7l-.3 2.3h-2.7zM102.2 228.4h2.7l-.3 2.3h-2.7zM276.3 228.4h2.7l.3 2.3h-2.7zM300.4 228.4h5.4l.3 2.3h-5.3zM102.5 226h5.4l-.3 2.4h-5.4zM300.1 226h8l.4 2.4h-8.1zM310.8 226h2.7l.3 2.4h-2.6zM316.1 226h2.7l.4 2.4h-2.7zM262.5 223.7h2.7l.2 2.3h-2.7zM291.8 223.7h2.7l.3 2.3h-2.7zM297.1 223.7h2.7l.3 2.3h-2.6zM313.1 223.7h8l.4 2.3h-8zM95.3 221.4h2.6l-.3 2.3h-2.7zM294.1 221.4h8l.3 2.3h-7.9zM315.3 221.4h8l.4 2.3h-8zM79.9 219h2.7l-.6 2.4h-2.6zM95.8 219h2.6l-.5 2.4h-2.6zM114.2 219h2.7l-.4 2.4h-2.7zM225.1 219h2.6l.1 2.4h-2.6zM259.4 219h2.6l.3 2.4h-2.7zM296.3 219h2.7l.4 2.4h-2.6zM322.7 219h2.7l.5 2.4h-2.6zM112 216.7h5.3l-.4 2.3h-5.3zM322.1 216.7h5.3l.6 2.3h-5.3zM78.6 214.4h2.6l-.7 2.3h-2.6zM102.1 214.4h2.6l-.5 2.3h-2.7zM295.3 214.4h5.2l.6 2.3h-5.3zM324 214.4h2.6l.8 2.3h-2.7zM188.3 212h2.6l0 2.4h-2.6zM227.2 212h5.2l.2 2.4h-5.2zM286.9 212h2.6l.6 2.4h-2.6zM297.3 212h12.9l.8 2.4h-13.1zM312.8 212h13l.8 2.4h-13zM77.7 209.7h2.5l-.8 2.3h-2.6zM106 209.7h5.1l-.6 2.3h-5.2zM234.8 209.7h2.5l.3 2.3h-2.6zM309.5 209.7h15.4l.9 2.3h-15.6zM332.6 209.7h5.2l1 2.3h-5.2zM109.3 207.4h2.5l-.7 2.3h-2.5zM234.5 207.4h2.6l.2 2.3h-2.5zM308.6 207.4h7.7l.9 2.3h-7.7zM321.4 207.4h2.5l1 2.3h-2.6zM329.1 207.4h2.5l1 2.3h-2.5zM334.2 207.4h2.5l1.1 2.3h-2.6zM74.5 205h2.6l-1 2.4h-2.6zM107.5 205h2.5l-.7 2.4h-2.6zM191.1 205h2.6l-.1 2.4h-2.5zM196.2 205h5.1l0 2.4h-5.1zM203.8 205h7.6l.1 2.4h-7.7zM221.5 205h5.1l.2 2.4h-5.1zM328 205h2.5l1.1 2.4h-2.5zM108.3 202.7h17.6l-.7 2.3h-17.7zM191.2 202.7h10.1l0 2.3h-10.2zM203.8 202.7h2.5l0 2.3h-2.5zM221.3 202.7h7.6l.2 2.3h-7.6zM321.8 202.7h2.5l1.2 2.3h-2.6zM74.4 200.4h2.5l-1.2 2.3h-2.5zM106.8 200.4h2.4l-.9 2.3h-2.5zM111.7 200.4h5l-.8 2.3h-5.1zM119.2 200.4h7.4l-.7 2.3h-7.5zM193.8 200.4h12.4l.1 2.3h-12.6zM213.7 200.4h4.9l.2 2.3h-5zM221.1 200.4h7.5l.3 2.3h-7.6zM323.1 200.4h2.5l1.2 2.3h-2.5zM105.3 198.1h12.3l-.9 2.3h-12.4zM120 198.1h9.9l-.8 2.3h-9.9zM191.4 198.1h14.8l0 2.3h-14.9zM211.1 198.1h9.8l.2 2.3h-9.9zM223.4 198.1h4.9l.3 2.3h-5zM240.6 198.1h2.5l.4 2.3h-2.5zM321.8 198.1h7.4l1.3 2.3h-7.4zM339 198.1h2.5l1.5 2.3h-2.5zM113.6 195.8h2.5l-1 2.3h-2.4zM118.5 195.8h2.4l-.9 2.3h-2.4zM123.4 195.8h7.3l-.8 2.3h-7.4zM198.8 195.8h4.8l.1 2.3h-4.9zM206.1 195.8h21.9l.3 2.3h-22.1zM237.7 195.8h4.9l.5 2.3h-5zM276.6 195.8h2.5l.9 2.3h-2.5zM322.9 195.8h9.7l1.5 2.3h-9.9zM337.4 195.8h2.5l1.6 2.3h-2.5zM81 193.5h2.4l-1.4 2.3h-2.4zM105 193.5h7.2l-1 2.3h-7.3zM121.9 193.5h7.2l-.9 2.3h-7.3zM201.2 193.5h2.4l0 2.3h-2.4zM206 193.5h9.6l.2 2.3h-9.7zM225.2 193.5h4.9l.3 2.3h-4.9zM232.5 193.5h12l.5 2.3h-12.2zM275.7 193.5h4.8l1 2.3h-4.9zM283 193.5h2.4l1 2.3h-2.5zM290.2 193.5h4.8l1.1 2.3h-4.9zM299.8 193.5h12l1.3 2.3h-12.1zM319 193.5h7.2l1.5 2.3h-7.3zM328.6 193.5h4.8l1.6 2.3h-4.8zM84.8 191.2h2.4l-1.4 2.3h-2.4zM99.1 191.2h14.2l-1.1 2.3h-14.4zM125.2 191.2h4.7l-.8 2.3h-4.8zM224.9 191.2h4.8l.4 2.3h-4.9zM232.1 191.2h23.7l.7 2.3h-24zM260.6 191.2h28.5l1.1 2.3h-28.9zM293.8 191.2h9.5l1.3 2.3h-9.6zM308 191.2h7.2l1.4 2.3h-7.2zM317.5 191.2h2.4l1.5 2.3h-2.4zM100.4 189h4.7l-1.3 2.2h-4.7zM107.5 189h2.3l-1.2 2.2h-2.4zM226.9 189h4.7l.5 2.2h-4.8zM243.3 189h2.4l.6 2.2h-2.4zM255.1 189h2.3l.8 2.2h-2.4zM273.8 189h4.7l1.1 2.2h-4.8zM280.8 189h2.4l1.1 2.2h-2.4zM313.6 189h4.7l1.6 2.2h-4.7zM104.2 186.7h2.3l-1.4 2.3h-2.3zM122.6 186.7h2.3l-1 2.3h-2.4zM143.4 186.7h2.3l-.8 2.3h-2.3zM277.4 186.7h2.3l1.1 2.3h-2.3zM105.6 184.5h2.3l-1.4 2.2h-2.3zM128.4 184.5h2.2l-1 2.2h-2.3zM142 184.5h2.3l-.9 2.2h-2.3zM276.2 184.5h2.3l1.2 2.2h-2.3z"/>
<path fill="#ff6600" stroke="#ff6600" stroke-width="0.4" d="M127.8 298.5h2.5l.6 2.3h-2.5zM126.6 293.8h7.7l.5 2.3h-7.6zM136.9 293.8h2.6l.4 2.3h-2.5zM342.9 293.8h2.6l-1.1 2.3h-2.6zM128.7 291.5h7.8l.4 2.3h-7.7zM219.5 291.5h7.7l-.2 2.3h-7.7zM320.6 291.5h7.8l-.9 2.3h-7.7zM338.8 291.5h7.8l-1.1 2.3h-7.7zM130.8 289.1h5.2l.5 2.4h-5.2zM224.8 289.1h5.2l-.2 2.4h-5.2zM321.4 289.1h28.7l-1 2.4h-28.5zM125.2 286.8h2.6l.4 2.3h-2.6zM130.4 286.8h2.6l.4 2.3h-2.6zM135.7 286.8h2.6l.3 2.3h-2.6zM222.3 286.8h5.3l-.2 2.3h-5.2zM322.1 286.8h34.1l-.9 2.3h-33.9zM130.1 284.5h2.6l.3 2.3h-2.6zM217.2 284.5h13.2l-.2 2.3h-13.1zM320.1 284.5h36.9l-.8 2.3h-36.7zM132.4 282.1h2.7l.2 2.4h-2.6zM217.2 282.1h13.3l-.1 2.4h-13.2zM233.1 282.1h2.7l-.2 2.4h-2.6zM320.6 282.1h39.8l-.7 2.4h-39.6zM124.2 279.8h10.6l.3 2.3h-10.6zM214.6 279.8h5.4l-.1 2.3h-5.3zM222.6 279.8h10.7l-.2 2.3h-10.6zM321.1 279.8h39.9l-.6 2.3h-39.8zM123.9 277.5h13.4l.2 2.3h-13.3zM217.4 277.5h13.3l-.1 2.3h-13.3zM321.5 277.5h37.4l-.6 2.3h-37.2zM126.3 275.1h8.1l.2 2.4h-8zM214.7 275.1h13.4l-.1 2.4h-13.3zM230.8 275.1h5.4l-.2 2.4h-5.3zM329.9 275.1h26.8l-.5 2.4h-26.7zM126.1 272.8h10.8l.2 2.3h-10.8zM153 272.8h5.4l.1 2.3h-5.4zM212.1 272.8h18.8l-.1 2.3h-18.7zM233.6 272.8h2.7l-.1 2.3h-2.7zM330.3 272.8h26.9l-.5 2.3h-26.8zM123.2 270.4h8.1l.2 2.4h-8.1zM152.8 270.4h5.4l.2 2.4h-5.4zM212.1 270.4h2.7l0 2.4h-2.7zM217.5 270.4h18.9l-.1 2.4h-18.8zM333.4 270.4h13.4l-.4 2.4h-13.4zM352.2 270.4h5.4l-.4 2.4h-5.4zM123 268.1h2.7l.2 2.3h-2.7zM136.5 268.1h5.4l.2 2.3h-5.4zM152.7 268.1h5.4l.1 2.3h-5.4zM212.2 268.1h2.7l-.1 2.3h-2.7zM217.6 268.1h5.4l-.1 2.3h-5.4zM241.9 268.1h2.7l-.1 2.3h-2.7zM252.7 268.1h2.7l-.2 2.3h-2.7zM341.8 268.1h5.4l-.4 2.3h-5.3zM120.2 265.8h2.7l.1 2.3h-2.7zM139.1 265.8h5.4l.1 2.3h-5.4zM149.9 265.8h2.7l.1 2.3h-2.7zM217.6 265.8h5.4l0 2.3h-5.4zM241.9 265.8h2.8l-.1 2.3h-2.7zM114.6 263.4h2.7l.2 2.4h-2.8zM120 263.4h2.7l.2 2.4h-2.7zM149.8 263.4h2.8l0 2.4h-2.7zM158 263.4h2.7l.1 2.4h-2.7zM214.9 263.4h5.4l0 2.4h-5.4zM242 263.4h2.7l0 2.4h-2.8zM114.5 261.1h5.4l.1 2.3h-5.4zM155.2 261.1h5.4l.1 2.3h-5.4zM111.7 258.8h5.4l.1 2.3h-5.4zM149.7 258.8h2.7l.1 2.3h-2.7zM155.2 258.8h5.4l0 2.3h-5.4zM236.7 258.8h5.4l0 2.3h-5.5zM111.6 256.4h5.4l.1 2.4h-5.4zM149.7 256.4h10.9l0 2.4h-10.9zM236.7 256.4h5.5l-.1 2.4h-5.4zM236.7 254.1h2.8l-.1 2.3h-2.7zM242.2 254.1h2.7l0 2.3h-2.7zM111.5 251.8h2.8l0 2.3h-2.7zM236.8 251.8h2.7l0 2.3h-2.8zM242.2 251.8h2.7l0 2.3h-2.7zM234 249.4h13.6l0 2.4h-13.6zM234 247.1h2.7l0 2.3h-2.7zM244.9 247.1h5.4l0 2.3h-5.4zM212.2 244.7h2.7l.1 2.4h-2.8zM234 244.7h2.7l0 2.4h-2.7zM244.8 244.7h8.2l0 2.4h-8.1zM128.1 242.4h2.7l-.1 2.3h-2.7zM198.6 242.4h2.8l0 2.3h-2.8zM212.2 242.4h5.4l.1 2.3h-5.5zM231.2 242.4h2.7l.1 2.3h-2.7zM236.6 242.4h2.8l0 2.3h-2.7zM250.2 242.4h2.7l.1 2.3h-2.7zM122.7 240.1h10.9l-.1 2.3h-10.9zM187.8 240.1h10.8l0 2.3h-10.8zM201.4 240.1h2.7l0 2.3h-2.7zM209.5 240.1h2.7l0 2.3h-2.7zM214.9 240.1h19l0 2.3h-19zM252.9 240.1h2.7l0 2.3h-2.7zM120.2 237.7h5.4l-.1 2.4h-5.5zM187.8 237.7h13.6l0 2.4h-13.6zM204.1 237.7h2.7l0 2.4h-2.7zM217.6 237.7h8.1l.1 2.4h-8.2zM228.4 237.7h5.4l.1 2.4h-5.4zM247.4 237.7h8.1l.1 2.4h-8.2zM182.4 235.4h19l0 2.3h-19zM214.9 235.4h2.7l0 2.3h-2.7zM223 235.4h2.7l0 2.3h-2.7zM228.4 235.4h5.4l0 2.3h-5.4zM282.4 235.4h2.7l.2 2.3h-2.8zM309.4 235.4h8.1l.2 2.3h-8.1zM182.5 233.1h13.5l-.1 2.3h-13.5zM198.7 233.1h2.6l.1 2.3h-2.8zM212.1 233.1h2.7l.1 2.3h-2.7zM217.5 233.1h2.7l.1 2.3h-2.7zM284.9 233.1h2.7l.2 2.3h-2.7zM306.4 233.1h2.7l.3 2.3h-2.7zM311.8 233.1h5.4l.3 2.3h-5.4zM96.6 230.7h5.3l-.2 2.4h-5.4zM182.5 230.7h2.7l0 2.4h-2.7zM217.5 230.7h8l.1 2.4h-8.1zM230.9 230.7h2.7l.1 2.4h-2.7zM241.6 230.7h8.1l.1 2.4h-8zM252.4 230.7h2.7l.1 2.4h-2.7zM306.1 230.7h2.7l.3 2.4h-2.7zM314.2 230.7h2.7l.3 2.4h-2.7zM96.9 228.4h5.3l-.3 2.3h-5.3zM115.6 228.4h2.7l-.2 2.3h-2.7zM121 228.4h8l-.2 2.3h-8.1zM193.3 228.4h2.7l0 2.3h-2.7zM209.4 228.4h24.1l.1 2.3h-24.2zM311.2 228.4h2.6l.4 2.3h-2.7zM86.5 226h2.7l-.4 2.4h-2.6zM115.9 226h10.7l-.3 2.4h-10.7zM182.6 226h5.4l-.1 2.4h-5.3zM190.7 226h8l0 2.4h-8.1zM201.3 226h2.7l0 2.4h-2.7zM209.3 226h24.1l.1 2.4h-24.1zM276.1 226h2.7l.2 2.4h-2.7zM308.1 226h2.7l.4 2.4h-2.7zM94.9 223.7h2.7l-.4 2.3h-2.7zM108.2 223.7h2.7l-.3 2.3h-2.7zM193.3 223.7h5.4l0 2.3h-5.4zM204 223.7h34.6l.1 2.3h-34.7zM246.6 223.7h2.6l.2 2.3h-2.7zM273.2 223.7h2.6l.3 2.3h-2.7zM82 221.4h2.7l-.4 2.3h-2.7zM111.2 221.4h2.6l-.3 2.3h-2.6zM188.1 221.4h2.6l0 2.3h-2.7zM196 221.4h2.7l0 2.3h-2.7zM201.3 221.4h31.8l.2 2.3h-32zM235.8 221.4h2.6l.2 2.3h-2.7zM291.5 221.4h2.6l.4 2.3h-2.7zM82.6 219h2.6l-.5 2.4h-2.7zM87.8 219h2.7l-.5 2.4h-2.7zM185.5 219h7.9l0 2.4h-8zM198.7 219h7.9l0 2.4h-7.9zM209.2 219h5.3l.1 2.4h-5.3zM217.2 219h7.9l.1 2.4h-8zM227.7 219h10.6l.1 2.4h-10.6zM243.5 219h2.7l.2 2.4h-2.7zM262 219h2.7l.2 2.4h-2.6zM288.4 219h7.9l.5 2.4h-8zM80.5 216.7h5.3l-.6 2.3h-5.3zM88.4 216.7h2.6l-.5 2.3h-2.7zM96.3 216.7h2.6l-.5 2.3h-2.6zM188.2 216.7h7.9l-.1 2.3h-7.9zM201.3 216.7h2.6l.1 2.3h-2.7zM206.6 216.7h10.5l.1 2.3h-10.6zM222.3 216.7h13.1l.2 2.3h-13.2zM240.7 216.7h2.6l.2 2.3h-2.6zM272.2 216.7h2.6l.4 2.3h-2.6zM288 216.7h10.5l.5 2.3h-10.6zM81.2 214.4h5.2l-.6 2.3h-5.3zM96.9 214.4h5.2l-.6 2.3h-5.2zM112.5 214.4h2.7l-.5 2.3h-2.7zM188.3 214.4h2.6l-.1 2.3h-2.6zM196.1 214.4h2.6l0 2.3h-2.6zM201.3 214.4h2.6l0 2.3h-2.6zM206.5 214.4h10.5l.1 2.3h-10.5zM222.2 214.4h13l.2 2.3h-13.1zM269.2 214.4h5.2l.4 2.3h-5.2zM284.8 214.4h10.5l.5 2.3h-10.5zM79.4 212h2.6l-.8 2.4h-2.6zM95 212h20.7l-.5 2.4h-20.9zM206.5 212h7.8l.1 2.4h-7.9zM219.5 212h7.7l.2 2.4h-7.8zM232.4 212h2.6l.2 2.4h-2.6zM289.5 212h7.8l.6 2.4h-7.8zM80.2 209.7h5.2l-.8 2.3h-5.2zM95.7 209.7h10.3l-.7 2.3h-10.3zM111.1 209.7h7.8l-.6 2.3h-7.8zM206.4 209.7h7.8l.1 2.3h-7.8zM286.3 209.7h23.2l.7 2.3h-23.3zM78.6 207.4h7.7l-.9 2.3h-7.7zM93.9 207.4h15.4l-.7 2.3h-15.5zM111.8 207.4h10.3l-.7 2.3h-10.3zM193.6 207.4h17.9l.1 2.3h-18zM272.8 207.4h7.7l.6 2.3h-7.7zM285.6 207.4h7.7l.7 2.3h-7.7zM295.8 207.4h12.8l.9 2.3h-12.9zM316.3 207.4h5.1l.9 2.3h-5.1zM79.6 205h2.5l-.9 2.4h-2.6zM94.8 205h12.7l-.8 2.4h-12.8zM110 205h12.7l-.6 2.4h-12.8zM193.7 205h2.5l0 2.4h-2.6zM201.3 205h2.5l0 2.4h-2.5zM226.6 205h7.6l.3 2.4h-7.7zM269.7 205h7.6l.6 2.4h-7.6zM300.1 205h22.8l1 2.4h-23zM80.7 202.7h2.5l-1.1 2.3h-2.5zM98.3 202.7h10l-.8 2.3h-10.1zM201.3 202.7h2.5l0 2.3h-2.5zM228.9 202.7h5l.3 2.3h-5.1zM238.9 202.7h5.1l.4 2.3h-5.1zM271.6 202.7h7.5l.7 2.3h-7.6zM289.2 202.7h2.5l.8 2.3h-2.5zM301.7 202.7h5l1 2.3h-5.1zM311.8 202.7h7.5l1.1 2.3h-7.6zM76.9 200.4h2.5l-1.2 2.3h-2.5zM99.3 200.4h7.5l-1 2.3h-7.5zM109.2 200.4h2.5l-.9 2.3h-2.5zM191.3 200.4h2.5l-.1 2.3h-2.5zM206.2 200.4h2.5l.1 2.3h-2.5zM218.6 200.4h2.5l.2 2.3h-2.5zM228.6 200.4h22.4l.5 2.3h-22.6zM273.4 200.4h7.4l.8 2.3h-7.5zM283.3 200.4h5l.9 2.3h-5.1zM310.7 200.4h12.4l1.2 2.3h-12.5zM78.2 198.1h4.9l-1.2 2.3h-5zM90.5 198.1h2.5l-1.2 2.3h-2.5zM100.4 198.1h4.9l-1 2.3h-5zM243.1 198.1h9.8l.6 2.3h-10zM257.8 198.1h2.5l.6 2.3h-2.5zM270.1 198.1h22.2l.9 2.3h-22.3zM309.5 198.1h12.3l1.3 2.3h-12.4zM79.6 195.8h4.8l-1.3 2.3h-4.9zM99 195.8h12.2l-1 2.3h-12.3zM242.6 195.8h7.3l.5 2.3h-7.3zM252.3 195.8h2.4l.7 2.3h-2.5zM257.2 195.8h2.4l.7 2.3h-2.5zM266.9 195.8h9.7l.9 2.3h-9.8zM279.1 195.8h17l1.1 2.3h-17.2zM298.5 195.8h24.4l1.3 2.3h-24.6zM83.4 193.5h4.8l-1.3 2.3h-4.9zM97.8 193.5h7.2l-1.1 2.3h-7.3zM230.1 193.5h2.4l.3 2.3h-2.4zM244.5 193.5h31.2l.9 2.3h-31.6zM280.5 193.5h2.5l.9 2.3h-2.4zM285.4 193.5h4.8l1 2.3h-4.8zM295 193.5h4.8l1.2 2.3h-4.9zM311.8 193.5h7.2l1.4 2.3h-7.3zM87.2 191.2h7.1l-1.3 2.3h-7.2zM96.7 191.2h2.4l-1.3 2.3h-2.4zM229.7 191.2h2.4l.4 2.3h-2.4zM255.8 191.2h4.8l.7 2.3h-4.8zM315.2 191.2h2.3l1.5 2.3h-2.4zM91.1 189h9.3l-1.3 2.2h-9.5z"/>
<path fill="#d9292b" stroke="#d9292b" stroke-width="0.4" d="M126.1 291.5h2.6l.5 2.3h-2.6zM125.6 289.1h5.2l.5 2.4h-5.2zM127.8 286.8h2.6l.4 2.3h-2.6zM124.8 284.5h5.3l.3 2.3h-5.2zM124.5 282.1h5.3l.3 2.4h-5.3zM220 279.8h2.6l-.1 2.3h-2.6zM214.7 277.5h2.7l-.1 2.3h-2.7zM123.4 272.8h2.7l.2 2.3h-2.6zM230.9 272.8h2.7l-.1 2.3h-2.7zM120.5 270.4h2.7l.2 2.4h-2.7zM214.8 270.4h2.7l0 2.4h-2.7zM117.6 268.1h5.4l.2 2.3h-5.4zM214.9 268.1h2.7l-.1 2.3h-2.7zM117.5 265.8h2.7l.1 2.3h-2.7zM152.6 265.8h5.5l0 2.3h-5.4zM214.9 265.8h2.7l0 2.3h-2.7zM117.3 263.4h2.7l.2 2.4h-2.7zM152.6 263.4h5.4l.1 2.4h-5.5zM149.8 261.1h5.4l.1 2.3h-5.5zM152.4 258.8h2.8l0 2.3h-2.7zM239.5 254.1h2.7l0 2.3h-2.8zM239.5 251.8h2.7l0 2.3h-2.7zM236.7 247.1h8.2l0 2.3h-8.2zM236.7 244.7h8.1l.1 2.4h-8.2zM233.9 242.4h2.7l.1 2.3h-2.7zM239.4 242.4h10.8l.1 2.3h-10.9zM212.2 240.1h2.7l0 2.3h-2.7zM233.9 240.1h19l0 2.3h-19zM185.1 237.7h2.7l0 2.4h-2.7zM201.4 237.7h2.7l0 2.4h-2.7zM206.8 237.7h10.8l0 2.4h-10.8zM225.7 237.7h2.7l.1 2.4h-2.7zM233.8 237.7h13.6l0 2.4h-13.5zM282.5 237.7h2.8l.1 2.4h-2.7zM201.4 235.4h13.5l0 2.3h-13.5zM217.6 235.4h5.4l0 2.3h-5.4zM225.7 235.4h2.7l0 2.3h-2.7zM233.8 235.4h13.5l.1 2.3h-13.6zM196 233.1h2.7l-.1 2.3h-2.7zM201.3 233.1h10.8l.1 2.3h-10.8zM214.8 233.1h2.7l.1 2.3h-2.7zM220.2 233.1h32.3l.2 2.3h-32.4zM279.5 233.1h5.4l.2 2.3h-5.4zM309.1 233.1h2.7l.3 2.3h-2.7zM185.2 230.7h32.3l0 2.4h-32.3zM225.5 230.7h5.4l.1 2.4h-5.4zM233.6 230.7h8l.2 2.4h-8.1zM249.7 230.7h2.7l.1 2.4h-2.7zM279.3 230.7h8l.3 2.4h-8.1zM308.8 230.7h5.4l.3 2.4h-5.4zM91.5 228.4h5.4l-.3 2.3h-5.4zM182.6 228.4h10.7l0 2.3h-10.8zM196 228.4h13.4l0 2.3h-13.4zM233.5 228.4h26.8l.2 2.3h-26.9zM279 228.4h10.7l.3 2.3h-10.7zM305.8 228.4h5.4l.3 2.3h-5.4zM33.1 226h2.7l-.5 2.4h-2.7zM89.2 226h8l-.3 2.4h-8.1zM188 226h2.7l-.1 2.4h-2.7zM198.7 226h2.6l0 2.4h-2.6zM204 226h5.3l.1 2.4h-5.4zM233.4 226h29.3l.2 2.4h-29.4zM278.8 226h13.3l.3 2.4h-13.4zM86.9 223.7h8l-.4 2.3h-8zM110.9 223.7h7.9l-.2 2.3h-8zM182.7 223.7h10.6l0 2.3h-10.7zM198.7 223.7h5.3l0 2.3h-5.3zM238.6 223.7h8l.1 2.3h-8zM249.2 223.7h13.3l.2 2.3h-13.3zM275.8 223.7h16l.3 2.3h-16zM87.3 221.4h8l-.4 2.3h-8zM113.8 221.4h2.7l-.3 2.3h-2.7zM182.8 221.4h5.3l-.1 2.3h-5.3zM190.7 221.4h5.3l0 2.3h-5.3zM198.7 221.4h2.6l0 2.3h-2.6zM233.1 221.4h2.7l.1 2.3h-2.6zM238.4 221.4h23.9l.2 2.3h-23.9zM272.9 221.4h18.6l.3 2.3h-18.6zM85.2 219h2.6l-.5 2.4h-2.6zM90.5 219h5.3l-.5 2.4h-5.3zM193.4 219h5.3l0 2.4h-5.3zM206.6 219h2.6l.1 2.4h-2.7zM214.5 219h2.7l0 2.4h-2.6zM238.3 219h5.2l.2 2.4h-5.3zM246.2 219h13.2l.2 2.4h-13.2zM264.7 219h23.7l.4 2.4h-23.9zM85.8 216.7h2.6l-.6 2.3h-2.6zM91 216.7h5.3l-.5 2.3h-5.3zM185.6 216.7h2.6l-.1 2.3h-2.6zM196.1 216.7h5.2l0 2.3h-5.3zM203.9 216.7h2.7l0 2.3h-2.6zM217.1 216.7h5.2l.1 2.3h-5.2zM235.4 216.7h5.3l.2 2.3h-5.3zM243.3 216.7h28.9l.4 2.3h-29.1zM274.8 216.7h13.2l.4 2.3h-13.2zM86.4 214.4h10.5l-.6 2.3h-10.5zM190.9 214.4h5.2l0 2.3h-5.3zM198.7 214.4h2.6l0 2.3h-2.6zM203.9 214.4h2.6l.1 2.3h-2.7zM217 214.4h5.2l.1 2.3h-5.2zM235.2 214.4h34l.4 2.3h-34.2zM274.4 214.4h10.4l.5 2.3h-10.5zM82 212h13l-.7 2.4h-13.1zM190.9 212h15.6l0 2.4h-15.6zM214.3 212h2.6l.1 2.4h-2.6zM235 212h51.9l.6 2.4h-52.3zM85.4 209.7h10.3l-.7 2.3h-10.4zM191 209.7h15.4l.1 2.3h-15.6zM237.3 209.7h49l.6 2.3h-49.3zM76.1 207.4h2.5l-.9 2.3h-2.6zM86.3 207.4h7.6l-.8 2.3h-7.7zM237.1 207.4h35.7l.6 2.3h-36.1zM280.5 207.4h5.1l.7 2.3h-5.2zM293.3 207.4h2.5l.8 2.3h-2.6zM77.1 205h2.5l-1 2.4h-2.5zM82.1 205h12.7l-.9 2.4h-12.7zM234.2 205h35.5l.6 2.4h-35.8zM277.3 205h22.8l.8 2.4h-23zM75.7 202.7h5l-1.1 2.3h-5.1zM83.2 202.7h15.1l-.9 2.3h-15.3zM233.9 202.7h5l.4 2.3h-5.1zM244 202.7h27.6l.6 2.3h-27.8zM279.1 202.7h10.1l.8 2.3h-10.2zM291.7 202.7h10l.9 2.3h-10.1zM306.7 202.7h5.1l1 2.3h-5.1zM79.4 200.4h19.9l-1 2.3h-20.1zM251 200.4h22.4l.7 2.3h-22.6zM280.8 200.4h2.5l.8 2.3h-2.5zM288.3 200.4h22.4l1.1 2.3h-22.6zM83.1 198.1h7.4l-1.2 2.3h-7.4zM93 198.1h7.4l-1.1 2.3h-7.5zM252.9 198.1h4.9l.6 2.3h-4.9zM260.3 198.1h9.8l.8 2.3h-10zM292.3 198.1h17.2l1.2 2.3h-17.5zM84.4 195.8h14.6l-1.1 2.3h-14.8zM249.9 195.8h2.4l.6 2.3h-2.5zM254.7 195.8h2.5l.6 2.3h-2.4zM259.6 195.8h7.3l.8 2.3h-7.4zM296.1 195.8h2.4l1.1 2.3h-2.4zM88.2 193.5h9.6l-1.2 2.3h-9.7zM94.3 191.2h2.4l-1.3 2.3h-2.4z"/>
<use href="#coast" x="200" y="251.8"/>
</g>
<g id="map2">
<path fill="#3f12f0" stroke="#3f12f0" stroke-width="0.3" d="M495.1 351h209.8l-.6 .2h-208.6zM493.7 350.7h212.6l-1.4 .3h-209.8zM492.3 350.3h215.4l-1.4 .4h-212.6zM490.8 349.8h218.4l-1.5 .5h-215.4zM489.2 349.3h221.6l-1.6 .5h-218.4zM487.5 348.7h225l-1.7 .6h-221.6zM485.8 348.1h228.4l-1.7 .6h-225zM484 347.4h232l-1.8 .7h-228.4zM482.2 346.8h235.6l-1.8 .6h-232zM480.3 346h239.4l-1.9 .8h-235.6zM478.4 345.3h243.2l-1.9 .7h-239.4zM476.5 344.5h247l-1.9 .8h-243.2zM474.6 343.6h250.8l-1.9 .9h-247zM488.1 342.8h79.6l.5 .8h-78.4zM575.7 342.8h142.4l-1.8 .8h-140.3zM490.9 341.9h33.2l1.1 .9h-32.7zM525 341.9h36.8l.6 .9h-36.3zM578 341.9h140.1l-1.8 .9h-138zM493 341h29.1l1.1 .9h-28.7zM526.7 341h.9l1 .9h-.9zM536.7 341h20.9l.6 .9h-20.6zM579.5 341h141.2l-1.7 .9h-139.2zM497.9 340.1h13.9l1.2 .9h-13.7zM535.8 340.1h.9l.9 .9h-.9zM542.3 340.1h1.8l.8 .9h-1.8zM545 340.1h9.3l.6 .9h-9.1zM582 340.1h140.4l-1.7 .9h-138.5zM530.3 339.2h.9l.9 .9h-.9zM543.4 339.2h10.3l.6 .9h-10.2zM583.6 339.2h142.3l-1.7 .9h-140.4zM529.4 338.2h1.9l.9 1h-1.9zM543.6 338.2h10.4l.6 1h-10.3zM586.3 338.2h142.1l-1.6 1h-140.4zM543.9 337.3h8.6l.6 .9h-8.5zM589.9 337.3h140l-1.5 .9h-138.3zM544.2 336.3h5.8l.6 1h-5.7zM591.8 336.3h138.7l-1.5 1h-137.2zM544.6 335.4h3.9l.6 .9h-3.9zM596.6 335.4h130.5l-1.5 .9h-129zM544.9 334.4h3l.6 1h-3zM622.3 334.4h34.7l-.6 1h-34.3zM659 334.4h65.5l-1.4 1h-64.7zM545.4 333.4h1l.5 1h-1zM632.6 333.4h23l-.5 1h-22.9zM662.7 333.4h58.1l-1.3 1h-57.5zM637 332.4h14.2l-.6 1h-14zM665.3 332.4h53.7l-1.2 1h-53.1zM641.5 331.4h5.1l-.5 1h-5.1zM674.2 331.4h19.4l-.9 1h-19.3zM698.8 331.4h15.3l-1.1 1h-15.2zM557.7 174.2h1.1l-.4 1h-1.1zM564 174.2h3.1l-.3 1h-3.2zM557.1 173.1h1l-.4 1.1h-1zM559.2 173.1h2l-.3 1.1h-2.1zM563.3 173.1h1l-.3 1.1h-1.1zM565.4 173.1h2l-.3 1.1h-2.1zM558.5 172.1h10.3l-.3 1h-10.4zM556.9 171.1h7.1l-.3 1h-7.2zM565 171.1h6.1l-.3 1h-6.1zM557.4 170.1h16l-.2 1h-16.3zM558.8 169.1h18.9l-.3 1h-19zM559.3 168.1h20.6l-.2 1h-20.9zM557.8 167.2h22.3l-.2 .9h-22.6zM558.3 166.2h24l-.2 1h-24.3zM557.8 165.3h23.7l-.2 .9h-24zM558.4 164.3h24.3l-.2 1h-24.7zM558 163.4h25.8l-.2 .9h-26.2zM557.6 162.5h26.5l-.3 .9h-26.7zM556.4 161.6h17.1l-.4 .9h-17.3zM574.4 161.6h1.8l-.3 .9h-1.9zM577.1 161.6h7.2l-.2 .9h-7.3zM557.1 160.7h18.6l-.4 .9h-18.9zM579.2 160.7h5.3l-.2 .9h-5.4zM558.6 159.9h10.5l-.5 .8h-10.6zM570.8 159.9h5.2l-.3 .8h-5.3zM580.4 159.9h4.4l-.3 .8h-4.4zM560.1 159h9.5l-.5 .9h-9.6zM571.3 159h3.4l-.4 .9h-3.5zM575.6 159h1.7l-.4 .9h-1.7zM579 159h4.3l-.3 .9h-4.3zM559.9 158.2h4.2l-.5 .8h-4.3zM565.8 158.2h12.7l-.4 .8h-12.8zM579.3 158.2h3.4l-.3 .8h-3.4zM560.5 157.5h.9l-.7 .7h-.8zM562.2 157.5h1.7l-.6 .7h-1.7zM565.5 157.5h10.8l-.4 .7h-10.9zM579.6 157.5h2.5l-.2 .7h-2.6zM564.4 156.7h.8l-.5 .8h-.8zM566.9 156.7h9.8l-.4 .8h-10zM580.8 156.7h.8l-.3 .8h-.8zM568.2 156.1h5.6l-.4 .6h-5.7zM574.6 156.1h3.3l-.4 .6h-3.3z"/>
<path fill="#2b7bef" stroke="#2b7bef" stroke-width="0.3" d="M485.4 342.8h2.7l1.7 .8h-2.6zM567.7 342.8h8l.3 .8h-7.8zM718.1 342.8h6.2l-1.9 .8h-6.1zM489.1 341.9h1.8l1.6 .9h-1.8zM524.1 341.9h.9l1.1 .9h-.9zM561.8 341.9h.9l.6 .9h-.9zM577.1 341.9h.9l.3 .9h-.9zM492 341h1l1.5 .9h-.9zM522.1 341h4.6l1 .9h-4.5zM527.6 341h9.1l.9 .9h-9zM557.6 341h1l.5 .9h-.9zM495.2 340.1h2.7l1.4 .9h-2.7zM511.8 340.1h24l.9 .9h-23.7zM536.7 340.1h5.6l.8 .9h-5.5zM544.1 340.1h.9l.8 .9h-.9zM554.3 340.1h.9l.6 .9h-.9zM581.1 340.1h.9l.2 .9h-.9zM722.4 340.1h.9l-1.7 .9h-.9zM506 339.2h8.4l1.1 .9h-8.3zM518.1 339.2h12.2l.9 .9h-12zM531.2 339.2h12.2l.7 .9h-12zM553.7 339.2h.9l.6 .9h-.9zM582.7 339.2h.9l.2 .9h-.9zM520.9 338.2h8.5l.9 1h-8.4zM531.3 338.2h2.8l.9 1h-2.8zM540.8 338.2h2.8l.7 1h-2.8zM585.3 338.2h1l.1 1h-.9zM728.4 338.2h.9l-1.6 1h-.9zM542.9 337.3h1l.7 .9h-1zM552.5 337.3h1l.5 .9h-.9zM589 337.3h.9l.2 .9h-1zM729.9 337.3h1l-1.6 .9h-.9zM543.2 336.3h1l.7 1h-1zM550 336.3h2.9l.6 1h-2.9zM590.8 336.3h1l0 1h-.9zM730.5 336.3h1l-1.6 1h-.9zM543.6 335.4h1l.6 .9h-1zM548.5 335.4h2.9l.6 .9h-2.9zM595.6 335.4h1l0 .9h-1zM727.1 335.4h.9l-1.4 .9h-1zM544 334.4h.9l.6 1h-.9zM547.9 334.4h3l.5 1h-2.9zM599.5 334.4h2l0 1h-2zM619.3 334.4h3l-.2 1h-3zM657 334.4h2l-.6 1h-2zM724.5 334.4h1l-1.4 1h-1zM544.4 333.4h1l.5 1h-1zM546.4 333.4h4l.5 1h-4zM630.6 333.4h2l-.4 1h-1.9zM655.6 333.4h1l-.6 1h-.9zM661.7 333.4h1l-.7 1h-1zM720.8 333.4h1l-1.3 1h-1zM544.8 332.4h5.1l.5 1h-5zM636 332.4h1l-.4 1h-1zM651.2 332.4h2l-.6 1h-2zM664.3 332.4h1l-.6 1h-1zM719 332.4h1l-1.2 1h-1zM546.3 331.4h4.1l.5 1h-4.1zM639.4 331.4h2.1l-.5 1h-2zM646.6 331.4h1l-.5 1h-1zM668.1 331.4h6.1l-.8 1h-6zM693.6 331.4h5.2l-1 1h-5.1zM714.1 331.4h3.1l-1.2 1h-3zM546.8 330.4h4.1l.5 1h-4.1zM680.1 330.4h4.2l-.9 1h-4.1zM547.3 329.3h5.2l.5 1.1h-5.2zM548.9 328.3h3.1l.5 1h-3.1zM532.8 317.6h1.2l.5 1.1h-1.2zM531.1 316.5h1.2l.5 1.1h-1.1zM543.1 314.2h1.1l.4 1.1h-1.1zM526.7 308.6h1.2l.5 1.1h-1.2zM526.3 307.4h1.2l.4 1.2h-1.2zM767.8 304h1.2l-.9 1.1h-1.2zM769.9 302.9h1.3l-.9 1.1h-1.3zM772.4 302.9h1.2l-.9 1.1h-1.2zM772 301.7h1.3l-.9 1.2h-1.2zM774.5 301.7h1.3l-.9 1.2h-1.3zM524.9 299.4h1.2l.4 1.1h-1.3zM774.9 299.4h1.3l-.8 1.1h-1.3zM524.5 298.2h1.3l.3 1.2h-1.2zM546 290.1h1.3l.1 1.2h-1.3zM638.2 275h1.3l0 1.2h-1.4zM543.8 264.5h2.7l0 1.2h-2.7zM543.7 262.2h1.4l0 1.2h-1.4zM536.9 261h1.3l.1 1.2h-1.4zM545 261h1.4l0 1.2h-1.3zM756.9 259.9h1.3l-.1 1.1h-1.3zM759.6 259.9h1.3l-.1 1.1h-1.3zM536.8 258.7h1.4l0 1.2h-1.4zM714.8 258.7h2.7l0 1.2h-2.7zM750.1 258.7h1.4l-.1 1.2h-1.3zM756.9 258.7h5.5l-.1 1.2h-5.4zM536.8 257.6h2.7l0 1.1h-2.7zM712.1 257.6h4.1l0 1.1h-4.1zM729.8 257.6h1.4l-.1 1.1h-1.3zM751.6 257.6h1.3l0 1.1h-1.4zM758.4 257.6h1.3l0 1.1h-1.4zM530 256.4h1.3l.1 1.2h-1.4zM619.7 256.4h5.5l-.1 1.2h-5.4zM710.8 256.4h5.5l-.1 1.2h-5.4zM724.4 256.4h1.4l-.1 1.2h-1.3zM729.9 256.4h1.3l0 1.2h-1.4zM528.6 255.2h1.3l.1 1.2h-1.4zM619.7 255.2h8.2l0 1.2h-8.2zM710.9 255.2h5.4l0 1.2h-5.5zM720.4 255.2h6.8l-.1 1.2h-6.8zM729.9 255.2h1.4l-.1 1.2h-1.3zM750.3 255.2h1.4l-.1 1.2h-1.3zM619.7 254.1h6.8l0 1.1h-6.8zM710.9 254.1h4.1l-.1 1.1h-4zM721.8 254.1h5.4l0 1.1h-5.5zM728.6 254.1h2.7l0 1.1h-2.8zM621.1 252.9h5.4l0 1.2h-5.4zM708.2 252.9h1.4l-.1 1.2h-1.3zM712.3 252.9h1.3l0 1.2h-1.3zM720.4 252.9h4.1l0 1.2h-4.1zM725.9 252.9h2.7l0 1.2h-2.7zM730 252.9h1.3l0 1.2h-1.4zM532.6 251.8h1.4l0 1.1h-1.4zM621.1 251.8h4.1l0 1.1h-4.1zM708.2 251.8h1.4l0 1.1h-1.4zM710.9 251.8h2.8l-.1 1.1h-2.7zM719.1 251.8h4.1l0 1.1h-4.1zM727.3 251.8h1.3l0 1.1h-1.4zM730 251.8h1.3l0 1.1h-1.3zM531.3 250.6h2.7l0 1.2h-2.7zM706.8 250.6h1.4l0 1.2h-1.4zM717.7 250.6h4.1l0 1.2h-4.1zM725.9 250.6h2.7l0 1.2h-2.7zM730 250.6h5.4l0 1.2h-5.4zM738.1 250.6h2.8l0 1.2h-2.7zM519 249.4h1.4l0 1.2h-1.4zM531.3 249.4h1.3l0 1.2h-1.3zM534 249.4h2.7l0 1.2h-2.7zM706.8 249.4h1.4l0 1.2h-1.4zM712.3 249.4h1.3l0 1.2h-1.3zM717.7 249.4h4.1l0 1.2h-4.1zM723.1 249.4h4.1l0 1.2h-4zM728.6 249.4h1.3l.1 1.2h-1.4zM731.3 249.4h1.4l0 1.2h-1.4zM734 249.4h2.7l.1 1.2h-2.7zM738.1 249.4h2.7l.1 1.2h-2.8zM519.1 248.3h1.3l0 1.1h-1.4zM531.3 248.3h5.4l0 1.1h-5.4zM705.4 248.3h1.4l0 1.1h-1.3zM710.9 248.3h2.7l0 1.1h-2.7zM719 248.3h2.7l.1 1.1h-2.7zM724.5 248.3h4l.1 1.1h-4.1zM520.4 247.1h2.8l-.1 1.2h-2.7zM534 247.1h1.4l0 1.2h-1.4zM705.4 247.1h2.7l0 1.2h-2.7zM712.2 247.1h1.4l0 1.2h-1.4zM521.8 245.9h1.4l0 1.2h-1.4zM542.2 245.9h1.4l0 1.2h-1.4zM712.1 245.9h1.4l.1 1.2h-1.4zM520.5 244.8h1.4l-.1 1.1h-1.3zM701.8 223.9h4l.2 1.1h-4zM701.6 222.7h2.7l.2 1.2h-2.7zM701.4 221.5h2.7l.2 1.2h-2.7zM715.8 220.4h2.6l.3 1.1h-2.7zM704.9 219.2h1.4l.2 1.2h-1.3zM714.9 216.9h1.3l.3 1.1h-1.3zM714.6 215.7h1.3l.3 1.2h-1.3zM712.6 213.4h2.6l.4 1.2h-2.6zM535.2 194.9h1.2l-.4 1.2h-1.2zM536.8 193.8h1.2l-.4 1.1h-1.2zM536 192.6h1.2l-.4 1.2h-1.2zM536.4 191.5h2.3l-.3 1.1h-2.4zM480.1 190.4h1.1l-.7 1.1h-1.2zM529.7 190.4h1.2l-.5 1.1h-1.2zM479.7 189.3h2.3l-.8 1.1h-2.3zM525.5 189.3h1.1l-.5 1.1h-1.1zM598.2 189.3h1.2l0 1.1h-1.2zM709.8 189.3h1.1l.8 1.1h-1.2zM482.9 188.2h1.1l-.8 1.1h-1.2zM526 188.2h1.1l-.5 1.1h-1.1zM531.8 188.2h1.2l-.5 1.1h-1.2zM542.3 188.2h3.5l-.4 1.1h-3.5zM590.1 188.2h2.3l0 1.1h-2.4zM685.7 188.2h1.1l.6 1.1h-1.1zM705.5 188.2h8.1l.8 1.1h-8.2zM482.5 187h2.4l-.9 1.2h-2.3zM502.2 187h2.3l-.7 1.2h-2.3zM524.2 187h1.2l-.6 1.2h-1.1zM538.1 187h1.1l-.4 1.2h-1.2zM543.9 187h1.1l-.4 1.2h-1.1zM590.2 187h1.1l0 1.2h-1.2zM624.9 187h2.3l.2 1.2h-2.3zM681.6 187h4.6l.6 1.2h-4.6zM688.5 187h1.2l.6 1.2h-1.1zM694.3 187h1.2l.7 1.2h-1.2zM700.1 187h2.3l.8 1.2h-2.4zM703.6 187h9.2l.8 1.2h-9.3zM714 187h4.6l.9 1.2h-4.7zM727.9 187h1.1l1 1.2h-1.2zM481.1 185.9h6.9l-.8 1.1h-7zM489.2 185.9h1.1l-.8 1.1h-1.2zM504.1 185.9h2.3l-.7 1.1h-2.3zM516.7 185.9h1.2l-.6 1.1h-1.2zM527.1 185.9h1.1l-.5 1.1h-1.2zM604 185.9h2.3l.1 1.1h-2.3zM608.6 185.9h1.2l0 1.1h-1.1zM654.6 185.9h1.1l.4 1.1h-1.1zM670.6 185.9h9.2l.6 1.1h-9.2zM681 185.9h4.6l.6 1.1h-4.6zM686.7 185.9h3.5l.6 1.1h-3.4zM692.5 185.9h4.6l.7 1.1h-4.6zM699.4 185.9h13.7l.9 1.1h-13.9zM714.3 185.9h4.6l.9 1.1h-4.7zM724.6 185.9h6.9l1 1.1h-6.9zM743 185.9h1.1l1.1 1.1h-1.1zM480.9 184.8h10.3l-.9 1.1h-10.3zM508.2 184.8h3.5l-.7 1.1h-3.5zM527.6 184.8h1.2l-.6 1.1h-1.1zM544.7 184.8h1.2l-.5 1.1h-1.1zM607.4 184.8h3.4l.1 1.1h-3.4zM634.8 184.8h7.9l.4 1.1h-8.1zM645 184.8h4.6l.4 1.1h-4.6zM651.9 184.8h1.1l.4 1.1h-1.1zM654.1 184.8h2.3l.5 1.1h-2.3zM657.6 184.8h1.1l.5 1.1h-1.2zM659.8 184.8h1.2l.4 1.1h-1.1zM664.4 184.8h1.1l.5 1.1h-1.1zM670.1 184.8h19.4l.7 1.1h-19.6zM690.6 184.8h6.8l.8 1.1h-6.9zM699.7 184.8h2.3l.8 1.1h-2.3zM703.1 184.8h14.9l.9 1.1h-15zM719.1 184.8h3.4l1 1.1h-3.5zM727.1 184.8h1.1l1 1.1h-1.1zM741.9 184.8h5.7l1.1 1.1h-5.7zM452.4 183.7h2.3l-1.2 1.1h-2.2zM480.7 183.7h11.3l-.8 1.1h-11.4zM493.1 183.7h1.2l-.9 1.1h-1.1zM498.8 183.7h1.1l-.8 1.1h-1.1zM510.1 183.7h2.3l-.7 1.1h-2.3zM538.4 183.7h1.1l-.5 1.1h-1.1zM597.2 183.7h2.2l0 1.1h-2.2zM607.4 183.7h2.2l.1 1.1h-2.3zM633.4 183.7h2.2l.3 1.1h-2.3zM636.8 183.7h15.8l.4 1.1h-16zM656 183.7h10.2l.5 1.1h-10.3zM667.3 183.7h22.6l.7 1.1h-22.8zM691 183.7h6.8l.8 1.1h-6.8zM700.1 183.7h1.1l.8 1.1h-1.1zM702.3 183.7h18.1l1 1.1h-18.3zM721.6 183.7h1.1l1 1.1h-1.2zM740.8 183.7h5.6l1.2 1.1h-5.7zM457 182.6h1.1l-1.1 1.1h-1.2zM481.7 182.6h3.3l-.9 1.1h-3.4zM487.3 182.6h8.9l-.8 1.1h-9zM499.6 182.6h1.1l-.8 1.1h-1.1zM510.8 182.6h1.2l-.8 1.1h-1.1zM520.9 182.6h2.3l-.7 1.1h-2.2zM544.5 182.6h1.1l-.4 1.1h-1.2zM595 182.6h3.3l0 1.1h-3.4zM607.3 182.6h2.2l.1 1.1h-2.2zM629.7 182.6h94.2l1.1 1.1h-95zM739.6 182.6h6.8l1.2 1.1h-6.8zM458.2 181.6h3.3l-1.1 1h-3.4zM480.4 181.6h17.8l-.8 1h-18zM500.4 181.6h1.2l-.9 1h-1.1zM543.8 181.6h1.1l-.4 1h-1.1zM595 181.6h3.3l0 1h-3.3zM608.3 181.6h1.2l0 1h-1.1zM611.7 181.6h3.3l.1 1h-3.3zM622.8 181.6h1.1l.2 1h-1.1zM630.6 181.6h54.5l.7 1h-55zM686.2 181.6h32.3l1 1h-32.6zM720.7 181.6h3.3l1.1 1h-3.4zM738.5 181.6h6.7l1.2 1h-6.8zM460.5 180.5h3.3l-1.2 1.1h-3.3zM481.4 180.5h17.7l-.9 1.1h-17.8zM500.2 180.5h3.3l-.8 1.1h-3.4zM504.6 180.5h1.1l-.8 1.1h-1.1zM544.3 180.5h1.1l-.5 1.1h-1.1zM595 180.5h2.2l0 1.1h-2.2zM610.5 180.5h4.4l.1 1.1h-4.4zM621.5 180.5h3.3l.2 1.1h-3.3zM625.9 180.5h1.1l.3 1.1h-1.2zM629.2 180.5h85l.9 1.1h-85.6zM716.4 180.5h8.8l1.1 1.1h-8.9zM738.4 180.5h5.5l1.3 1.1h-5.6zM458.4 179.4h7.7l-1.2 1.1h-7.7zM479.2 179.4h21.8l-.8 1.1h-22.1zM502.1 179.4h5.5l-.8 1.1h-5.5zM530.6 179.4h5.4l-.5 1.1h-5.5zM539.3 179.4h2.2l-.5 1.1h-2.2zM595.1 179.4h2.2l-.1 1.1h-2.2zM604.9 179.4h1.1l.1 1.1h-1.1zM607.1 179.4h1.1l.1 1.1h-1.1zM609.3 179.4h5.5l.1 1.1h-5.5zM621.3 179.4h6.6l.2 1.1h-6.6zM629 179.4h82l1 1.1h-82.8zM713.2 179.4h12l1.1 1.1h-12.1zM738.3 179.4h4.4l1.2 1.1h-4.4zM459.7 178.3h10.8l-1.2 1.1h-10.9zM474.8 178.3h17.4l-1 1.1h-17.5zM493.3 178.3h17.3l-.8 1.1h-17.5zM516 178.3h2.2l-.8 1.1h-2.1zM532.3 178.3h4.3l-.6 1.1h-4.3zM537.7 178.3h2.2l-.6 1.1h-2.2zM543.1 178.3h1.1l-.5 1.1h-1.1zM606 178.3h5.4l.1 1.1h-5.5zM612.5 178.3h3.2l.2 1.1h-3.3zM620 178.3h2.2l.2 1.1h-2.2zM624.4 178.3h31.4l.5 1.1h-31.7zM656.9 178.3h4.3l.6 1.1h-4.4zM662.3 178.3h47.7l1 1.1h-48.1zM712.2 178.3h22.7l1.2 1.1h-22.9zM739.3 178.3h3.2l1.3 1.1h-3.3zM743.6 178.3h4.3l1.4 1.1h-4.4zM458.8 177.3h11.8l-1.2 1h-11.9zM471.7 177.3h1l-1.1 1h-1.1zM474.9 177.3h18.2l-.9 1h-18.5zM497.4 177.3h2.2l-.9 1h-2.2zM503.9 177.3h9.6l-.7 1h-9.8zM517.8 177.3h1.1l-.7 1h-1.1zM532.9 177.3h7.5l-.5 1h-7.6zM558.7 177.3h5.3l-.3 1h-5.4zM607 177.3h4.3l.1 1h-4.4zM613.4 177.3h1.1l.1 1h-1.1zM617.7 177.3h36.5l.5 1h-36.8zM656.4 177.3h25.8l.7 1h-26zM683.2 177.3h25.8l1 1h-26zM710.1 177.3h24.7l1.2 1h-24.9zM739.1 177.3h8.6l1.3 1h-8.7zM459 176.2h16l-1.2 1.1h-16.1zM476 176.2h19.2l-1 1.1h-19.3zM496.3 176.2h4.2l-.9 1.1h-4.3zM505.8 176.2h8.5l-.8 1.1h-8.5zM518.6 176.2h2.1l-.7 1.1h-2.2zM533.5 176.2h5.3l-.6 1.1h-5.3zM558 176.2h6.4l-.4 1.1h-6.4zM603.7 176.2h1.1l0 1.1h-1zM606.9 176.2h6.4l.1 1.1h-6.4zM617.6 176.2h18l.4 1.1h-18.3zM636.7 176.2h17l.5 1.1h-17.1zM655.9 176.2h24.4l.8 1.1h-24.7zM682.5 176.2h53.2l1.2 1.1h-53.7zM738.9 176.2h6.3l1.4 1.1h-6.4zM747.4 176.2h3.2l1.4 1.1h-3.3zM460.3 175.2h6.4l-1.3 1h-6.4zM468.8 175.2h6.3l-1.2 1h-6.4zM476.1 175.2h19l-1 1h-19.1zM496.2 175.2h9.5l-.9 1h-9.6zM507.8 175.2h8.4l-.8 1h-8.5zM521.5 175.2h1l-.7 1h-1.1zM528.9 175.2h1l-.7 1h-1zM534.1 175.2h2.1l-.6 1h-2.1zM540.4 175.2h4.3l-.6 1h-4.2zM557.3 175.2h8.4l-.3 1h-8.5zM605.8 175.2h6.3l.1 1h-6.3zM617.4 175.2h19l.3 1h-19.1zM637.4 175.2h15.8l.5 1h-15.9zM654.3 175.2h25.3l.7 1h-25.5zM682.7 175.2h10.6l.9 1h-10.7zM694.3 175.2h21.1l1.1 1h-21.3zM716.5 175.2h20l1.3 1h-20.2zM739.7 175.2h4.2l1.3 1h-4.2zM744.9 175.2h5.3l1.4 1h-5.3zM462.7 174.2h6.3l-1.3 1h-6.3zM471.1 174.2h44.9l-.9 1h-45.3zM520.1 174.2h1.1l-.8 1h-1zM522.2 174.2h3.2l-.8 1h-3.1zM527.4 174.2h4.2l-.6 1h-4.3zM540 174.2h5.2l-.5 1h-5.3zM556.7 174.2h1l-.4 1h-1zM558.8 174.2h5.2l-.4 1h-5.2zM581.7 174.2h4.2l-.1 1h-4.2zM606.8 174.2h5.2l.1 1h-5.2zM614.1 174.2h1l.2 1h-1.1zM616.2 174.2h1l.2 1h-1.1zM618.3 174.2h17.7l.4 1h-18zM638.1 174.2h42.8l.8 1h-43.2zM682 174.2h11.4l.9 1h-11.6zM694.5 174.2h1l.9 1h-1zM696.6 174.2h37.5l1.3 1h-37.9zM740.4 174.2h8.4l1.4 1h-8.4zM453.7 173.1h4.2l-1.4 1.1h-4.2zM463 173.1h8.3l-1.3 1.1h-8.3zM474.4 173.1h21.7l-1 1.1h-21.9zM497.1 173.1h19.7l-.8 1.1h-19.9zM517.8 173.1h3.1l-.8 1.1h-3.1zM522 173.1h11.3l-.6 1.1h-11.5zM535.4 173.1h1l-.6 1.1h-1zM537.5 173.1h9.3l-.6 1.1h-9.4zM558.1 173.1h1.1l-.4 1.1h-1.1zM561.2 173.1h2.1l-.4 1.1h-2zM564.3 173.1h1.1l-.4 1.1h-1zM580.9 173.1h7.2l-.1 1.1h-7.3zM608.8 173.1h8.3l.1 1.1h-8.3zM620.2 173.1h9.3l.3 1.1h-9.4zM630.5 173.1h2.1l.3 1.1h-2.1zM633.6 173.1h1l.4 1.1h-1.1zM635.7 173.1h1l.4 1.1h-1.1zM637.7 173.1h38.3l.7 1.1h-38.6zM677 173.1h6.2l.8 1.1h-6.2zM684.3 173.1h6.2l.8 1.1h-6.2zM693.6 173.1h1l.9 1.1h-1zM695.6 173.1h39.3l1.3 1.1h-39.6zM739 173.1h8.3l1.5 1.1h-8.4zM452.6 172.1h.5l-1.4 1h-.6zM454.2 172.1h6.1l-1.4 1h-6.2zM462.3 172.1h10.3l-1.3 1h-10.3zM475.6 172.1h22.6l-1.1 1h-22.7zM503.3 172.1h28.6l-.6 1h-29zM539.1 172.1h7.2l-.6 1h-7.2zM547.3 172.1h1l-.5 1h-1zM556.5 172.1h2l-.4 1h-2zM568.8 172.1h1l-.3 1h-1zM580 172.1h9.3l-.2 1h-9.3zM609.7 172.1h5.1l.2 1h-5.2zM616.9 172.1h1l.2 1h-1zM620 172.1h2l.2 1h-2zM623 172.1h5.1l.3 1h-5.1zM632.2 172.1h1.1l.3 1h-1zM637.4 172.1h19.4l.6 1h-19.7zM657.8 172.1h26.6l.9 1h-26.9zM685.5 172.1h7.1l1 1h-7.3zM693.6 172.1h53.8l1.5 1h-54.3zM454.1 171.1h7.6l-1.4 1h-7.7zM464.8 171.1h32.4l-1.1 1h-32.7zM498.2 171.1h1l-1 1h-1.1zM504.3 171.1h28.3l-.7 1h-28.6zM539.7 171.1h10.2l-.6 1h-10.2zM564 171.1h1l-.3 1h-1zM571.1 171.1h1l-.2 1h-1.1zM581.3 171.1h1l-.2 1h-1zM584.3 171.1h3l-.1 1h-3.1zM610.6 171.1h8.1l.2 1h-8.2zM619.8 171.1h11.1l.3 1h-11.2zM631.9 171.1h1l.4 1h-1.1zM635 171.1h5l.4 1h-5.1zM642 171.1h14.2l.6 1h-14.3zM657.2 171.1h27.4l.9 1h-27.7zM685.6 171.1h36.5l1.2 1h-36.8zM723.1 171.1h22.8l1.5 1h-23zM455.6 170.1h6.5l-1.4 1h-6.6zM467.2 170.1h8l-1.3 1h-8.1zM477.2 170.1h6l-1.2 1h-6.1zM484.2 170.1h2l-1.2 1h-2zM488.2 170.1h47.1l-.6 1h-47.7zM541.4 170.1h2l-.6 1h-2.1zM544.4 170.1h6l-.5 1h-6.1zM573.4 170.1h1l-.2 1h-1zM611.5 170.1h19.1l.3 1h-19.2zM635.6 170.1h56.1l1 1h-56.7zM692.7 170.1h51.7l1.5 1h-52.2zM457.2 169.1h2.4l-1.5 1h-2.5zM469.6 169.1h6.9l-1.3 1h-7zM478.5 169.1h8.9l-1.2 1h-9zM489.4 169.1h18.8l-.9 1h-19.1zM510.2 169.1h1l-.9 1h-1zM520.2 169.1h9.9l-.8 1h-10zM531.1 169.1h3.9l-.7 1h-4zM541 169.1h3l-.6 1h-3.1zM545.9 169.1h3l-.5 1h-3zM557.8 169.1h1l-.4 1h-1zM577.7 169.1h1l-.3 1h-1zM611.4 169.1h18.9l.3 1h-19.1zM635.2 169.1h2l.4 1h-2zM641.2 169.1h51.5l1 1h-52.1zM693.7 169.1h49.1l1.6 1h-49.7zM471 168.1h2.9l-1.4 1h-2.9zM474.9 168.1h4.9l-1.3 1h-5zM481.8 168.1h7.8l-1.2 1h-7.9zM490.6 168.1h14.7l-1 1h-14.9zM508.3 168.1h11.7l-.8 1h-11.9zM522 168.1h6.9l-.8 1h-7zM532.8 168.1h2.9l-.7 1h-2.9zM539.7 168.1h4.9l-.6 1h-5zM545.5 168.1h2l-.6 1h-2zM579.9 168.1h1l-.2 1h-1zM613.2 168.1h12.8l.3 1h-12.9zM645.6 168.1h4.9l.6 1h-5zM652.5 168.1h3.9l.6 1h-3.9zM657.4 168.1h28.4l1 1h-28.8zM687.8 168.1h13.7l1.2 1h-13.9zM702.5 168.1h31.4l1.5 1h-31.7zM735.9 168.1h4.9l1.5 1h-4.9zM473.4 167.2h7.8l-1.4 .9h-7.8zM482.1 167.2h3.9l-1.3 .9h-3.9zM487 167.2h1.9l-1.2 .9h-2zM498.6 167.2h4.9l-1.1 .9h-4.9zM508.3 167.2h12.6l-.9 .9h-12.7zM524.8 167.2h2.9l-.8 .9h-2.9zM532.6 167.2h14.5l-.6 .9h-14.7zM580.1 167.2h2.9l-.2 .9h-2.9zM616 167.2h7.8l.2 .9h-7.8zM651.9 167.2h3.9l.6 .9h-3.9zM656.8 167.2h.9l.7 .9h-1zM658.7 167.2h1l.6 .9h-.9zM660.6 167.2h22.3l1 .9h-22.6zM683.9 167.2h2l.9 .9h-1.9zM686.8 167.2h12.6l1.2 .9h-12.8zM700.4 167.2h24.3l1.4 .9h-24.6zM730.5 167.2h1l1.4 .9h-.9zM461.9 166.2h2.4l-1.6 1h-2.4zM477.7 166.2h4.8l-1.3 1h-4.9zM504.6 166.2h2.9l-1.1 1h-2.9zM512.3 166.2h7.6l-.9 1h-7.8zM526.6 166.2h1l-.8 1h-1zM531.4 166.2h2.9l-.8 1h-2.9zM535.3 166.2h11.5l-.6 1h-11.7zM557.3 166.2h1l-.5 1h-1zM619.7 166.2h1.9l.2 1h-1.9zM639.8 166.2h3.8l.5 1h-3.8zM651.3 166.2h1l.6 1h-1zM653.2 166.2h4.8l.7 1h-4.9zM659 166.2h57.5l1.4 1h-58.2zM717.5 166.2h.9l1.4 1h-1zM736.7 166.2h1.4l1.6 1h-1.5zM504.8 165.3h5.7l-1.1 .9h-5.8zM511.4 165.3h2.8l-1 .9h-2.9zM515.2 165.3h5.7l-1 .9h-5.7zM521.8 165.3h4.8l-.9 .9h-4.8zM527.5 165.3h1.9l-.8 .9h-2zM533.2 165.3h.9l-.7 .9h-1zM536 165.3h5.7l-.7 .9h-5.7zM542.7 165.3h1.9l-.7 .9h-1.9zM581.5 165.3h1l-.2 .9h-1zM640.3 165.3h1.9l.5 .9h-1.9zM651.6 165.3h1l.6 .9h-.9zM653.5 165.3h1.9l.7 .9h-1.9zM656.4 165.3h.9l.7 .9h-.9zM658.3 165.3h38.8l1.2 .9h-39.3zM705.7 165.3h7.5l1.4 .9h-7.7zM506.9 164.3h15l-1 1h-15.2zM523.7 164.3h3.8l-.9 1h-3.8zM528.4 164.3h3.8l-.9 1h-3.8zM533.1 164.3h2.8l-.8 1h-2.8zM536.8 164.3h4.7l-.7 1h-4.8zM542.5 164.3h.9l-.7 1h-1zM557.4 164.3h1l-.6 1h-.9zM582.7 164.3h.9l-.2 1h-.9zM639.8 164.3h1.8l.6 1h-1.9zM652.9 164.3h.9l.7 1h-1zM660.4 164.3h30.8l1.2 1h-31.3zM692.2 164.3h.9l1.2 1h-1zM509 163.4h3.7l-1.1 .9h-3.8zM513.6 163.4h1l-1.2 .9h-.9zM529.3 163.4h3.7l-.8 .9h-3.8zM537.7 163.4h2.7l-.8 .9h-2.8zM557.1 163.4h.9l-.6 .9h-.9zM583.8 163.4h1l-.2 .9h-1zM640.2 163.4h2.7l.6 .9h-2.8zM661.4 163.4h23.1l1.1 .9h-23.4zM703 163.4h2.8l1.3 .9h-2.8zM706.7 163.4h1.8l1.5 .9h-1.9zM514.8 162.5h8.2l-1 .9h-8.4zM527.6 162.5h.9l-1 .9h-.9zM532.1 162.5h10.1l-.8 .9h-10.2zM556.7 162.5h.9l-.5 .9h-1zM584.1 162.5h1.8l-.2 .9h-1.9zM640.5 162.5h3.7l.6 .9h-3.7zM663.3 162.5h19.1l1.2 .9h-19.4zM699.8 162.5h7.2l1.5 .9h-7.4zM515.1 161.6h9l-1.1 .9h-9.1zM526.8 161.6h3.6l-1 .9h-3.6zM532.2 161.6h10.8l-.8 .9h-11zM551.1 161.6h.9l-.7 .9h-.9zM552.9 161.6h3.5l-.6 .9h-3.6zM573.5 161.6h.9l-.4 .9h-.9zM576.2 161.6h.9l-.3 .9h-.9zM584.3 161.6h1.8l-.2 .9h-1.8zM641.8 161.6h5.3l.7 .9h-5.4zM666.9 161.6h14.4l1.1 .9h-14.5zM698.3 161.6h7.2l1.5 .9h-7.2zM519.1 160.7h.8l-1.2 .9h-.9zM520.8 160.7h2.7l-1.2 .9h-2.7zM527.9 160.7h2.7l-1.1 .9h-2.7zM532.3 160.7h2.7l-1 .9h-2.7zM535.9 160.7h8.8l-.8 .9h-9zM550 160.7h7.1l-.7 .9h-7.1zM575.7 160.7h3.5l-.3 .9h-3.6zM584.5 160.7h1.8l-.2 .9h-1.8zM611.1 160.7h1.7l.2 .9h-1.8zM643.8 160.7h4.4l.7 .9h-4.5zM670.3 160.7h8.9l1.2 .9h-9zM537.7 159.9h9.6l-.8 .8h-9.8zM549 159.9h9.6l-.6 .8h-9.8zM569.1 159.9h1.7l-.4 .8h-1.8zM576 159.9h4.4l-.3 .8h-4.4zM584.8 159.9h1.7l-.2 .8h-1.8zM609.1 159.9h4.4l.2 .8h-4.4zM671.9 159.9h1.7l1.2 .8h-1.8zM536.1 159h3.4l-.9 .9h-3.5zM541.3 159h18.8l-.6 .9h-19.2zM569.6 159h1.7l-.5 .9h-1.7zM574.7 159h.9l-.4 .9h-.9zM577.3 159h1.7l-.3 .9h-1.8zM583.3 159h4.3l-.2 .9h-4.4zM607.3 159h9.4l.3 .9h-9.6zM665.6 159h6l1.1 .9h-6.1zM535.4 158.2h5.1l-1 .8h-5.1zM542.2 158.2h17.7l-.6 .8h-18zM564.1 158.2h1.7l-.5 .8h-1.7zM578.5 158.2h.8l-.3 .8h-.9zM582.7 158.2h5.1l-.2 .8h-5.2zM608.9 158.2h9.2l.3 .8h-9.4zM663.7 158.2h6.8l1.1 .8h-6.9zM536.4 157.5h4.2l-1 .7h-4.2zM542.2 157.5h18.3l-.6 .7h-18.6zM561.4 157.5h.8l-.6 .7h-.9zM563.9 157.5h1.6l-.5 .7h-1.7zM576.3 157.5h3.3l-.3 .7h-3.4zM582.1 157.5h8.3l-.1 .7h-8.4zM614.5 157.5h1.7l.3 .7h-1.7zM662.7 157.5h5l1.1 .7h-5.1zM540.7 156.7h14.7l-.7 .8h-14.9zM557.1 156.7h7.3l-.5 .8h-7.5zM565.2 156.7h1.7l-.6 .8h-1.6zM576.7 156.7h4.1l-.3 .8h-4.2zM581.6 156.7h3.3l-.3 .8h-3.3zM586.5 156.7h5.7l-.1 .8h-5.8zM544 156.1h12.1l-.7 .6h-12.3zM556.9 156.1h3.2l-.6 .6h-3.3zM563.4 156.1h4.8l-.5 .6h-4.9zM573.8 156.1h.8l-.4 .6h-.8zM577.9 156.1h7.2l-.2 .6h-7.4zM551.2 155.4h.8l-.7 .7h-.8zM575 155.4h5.6l-.3 .7h-5.7zM581.4 155.4h.8l-.3 .7h-.8z"/>
<path fill="#7ac8ee" stroke="#7ac8ee" stroke-width="0.3" d="M535.6 318.7h4.6l.4 1.1h-4.5zM534 317.6h4.6l.4 1.1h-4.5zM532.3 316.5h4.6l.5 1.1h-4.6zM530.6 315.3h5.9l.4 1.2h-5.8zM543.5 315.3h2.3l.4 1.2h-2.3zM529 314.2h7l.5 1.1h-7zM544.2 314.2h1.2l.4 1.1h-1.2zM528.5 313.1h7.1l.4 1.1h-7zM528 312h4.8l.4 1.1h-4.7zM535.2 312h1.2l.4 1.1h-1.2zM664.8 312h2.4l-.4 1.1h-2.4zM527.6 310.9h9.6l.4 1.1h-9.6zM527.2 309.7h3.6l.4 1.2h-3.6zM532 309.7h4.8l.4 1.2h-4.8zM527.9 308.6h4.9l.4 1.1h-4.8zM762.9 308.6h1.2l-.9 1.1h-1.3zM527.5 307.4h2.5l.4 1.2h-2.5zM762.6 307.4h3.7l-1 1.2h-3.6zM527.1 306.3h2.5l.4 1.1h-2.5zM763.5 306.3h4.9l-.9 1.1h-4.9zM526.7 305.1h1.2l.4 1.2h-1.2zM535.3 305.1h1.3l.3 1.2h-1.2zM765.7 305.1h4.9l-.9 1.2h-4.9zM526.3 304h1.3l.3 1.1h-1.2zM744.3 304h2.4l-.7 1.1h-2.5zM769 304h2.5l-.9 1.1h-2.5zM534.6 302.9h1.3l.3 1.1h-1.2zM743.8 302.9h3.7l-.8 1.1h-3.7zM771.2 302.9h1.2l-.9 1.1h-1.2zM535.6 301.7h1.2l.3 1.2h-1.2zM744.5 301.7h3.7l-.7 1.2h-3.7zM773.3 301.7h1.2l-.9 1.2h-1.2zM775.8 301.7h1.2l-.9 1.2h-1.2zM525.2 300.5h3.8l.3 1.2h-3.7zM775.4 300.5h2.5l-.9 1.2h-2.5zM537.5 299.4h2.5l.3 1.1h-2.5zM747.1 299.4h1.3l-.7 1.1h-1.3zM776.2 299.4h2.5l-.8 1.1h-2.5zM525.8 298.2h1.3l.3 1.2h-1.3zM776.9 298.2h2.6l-.8 1.2h-2.5zM524.2 297.1h1.3l.3 1.1h-1.3zM752.2 297.1h1.3l-.7 1.1h-1.2zM777.7 297.1h2.5l-.7 1.1h-2.6zM777.1 295.9h2.6l-.7 1.2h-2.6zM777.8 294.8h1.3l-.7 1.1h-1.3zM623.8 293.6h1.3l-.1 1.2h-1.2zM717.9 293.6h1.3l-.4 1.2h-1.3zM755.3 293.6h1.3l-.6 1.2h-1.3zM718.3 292.4h1.3l-.4 1.2h-1.3zM544.8 291.3h1.3l.2 1.1h-1.3zM736.9 291.3h1.3l-.5 1.1h-1.3zM757.7 291.3h1.3l-.6 1.1h-1.3zM540.8 290.1h3.9l.1 1.2h-3.8zM758.2 290.1h1.3l-.5 1.2h-1.3zM539.3 288.9h7.8l.2 1.2h-7.8zM541.7 287.8h6.6l.1 1.1h-6.5zM632.1 287.8h1.3l-.1 1.1h-1.3zM541.6 286.6h5.2l.2 1.2h-5.3zM548.1 286.6h1.3l.2 1.2h-1.3zM633.5 286.6h1.3l-.1 1.2h-1.3zM759.6 286.6h2.6l-.4 1.2h-2.7zM719.2 285.5h1.3l-.3 1.1h-1.3zM760 285.5h2.6l-.4 1.1h-2.6zM524.1 284.3h1.3l.2 1.2h-1.3zM615.2 284.3h1.3l0 1.2h-1.4zM545 282h2.6l.1 1.1h-2.6zM761.1 282h1.3l-.3 1.1h-1.4zM544.9 280.8h2.6l.1 1.2h-2.6zM550.2 280.8h1.3l.1 1.2h-1.3zM649.8 280.8h1.3l-.1 1.2h-1.3zM548.8 279.6h1.3l.1 1.2h-1.3zM551.4 279.6h4l.1 1.2h-4zM543.3 278.5h2.7l.1 1.1h-2.7zM547.3 278.5h9.4l.1 1.1h-9.4zM759.3 278.5h1.3l-.2 1.1h-1.4zM539.2 277.3h2.7l.1 1.2h-2.7zM547.3 277.3h8l0 1.2h-8zM539.2 276.2h2.6l.1 1.1h-2.7zM545.8 276.2h8.1l0 1.1h-8zM556.5 276.2h1.4l0 1.1h-1.3zM539.1 275h1.3l.1 1.2h-1.3zM541.7 275h1.4l.1 1.2h-1.4zM544.4 275h9.4l.1 1.2h-9.4zM636.8 275h1.4l-.1 1.2h-1.3zM727.9 275h1.4l-.2 1.2h-1.4zM757.4 275h1.3l-.2 1.2h-1.4zM544.3 273.8h8.1l0 1.2h-8zM636.9 273.8h2.7l-.1 1.2h-2.7zM646.3 273.8h1.3l0 1.2h-1.4zM649 273.8h1.3l-.1 1.2h-1.3zM541.6 272.7h1.3l.1 1.1h-1.4zM544.2 272.7h6.8l0 1.1h-6.7zM636.9 272.7h2.7l0 1.1h-2.7zM646.4 272.7h6.7l-.1 1.1h-6.7zM533.4 271.5h8.1l.1 1.2h-8.1zM542.8 271.5h5.4l.1 1.2h-5.4zM549.5 271.5h1.4l.1 1.2h-1.4zM637 271.5h2.7l-.1 1.2h-2.7zM649.1 271.5h2.7l-.1 1.2h-2.7zM530.6 270.3h12.1l.1 1.2h-12.1zM544.1 270.3h6.7l.1 1.2h-6.7zM638.4 270.3h1.3l0 1.2h-1.4zM649.2 270.3h2.7l-.1 1.2h-2.7zM751.6 270.3h1.3l-.2 1.2h-1.3zM526.5 269.2h24.3l0 1.1h-24.2zM751.8 269.2h1.3l-.2 1.1h-1.3zM755.8 269.2h1.4l-.2 1.1h-1.4zM525 268h25.7l.1 1.2h-25.7zM650.6 268h1.4l-.1 1.2h-1.3zM751.9 268h1.4l-.2 1.2h-1.3zM754.6 268h1.4l-.2 1.2h-1.3zM526.3 266.9h24.4l0 1.1h-24.3zM739.9 266.9h1.4l-.2 1.1h-1.3zM754.8 266.9h1.4l-.2 1.1h-1.4zM515.4 265.7h1.4l.1 1.2h-1.4zM523.5 265.7h1.4l.1 1.2h-1.4zM526.2 265.7h4.1l.1 1.2h-4.1zM533 265.7h6.8l0 1.2h-6.7zM541.1 265.7h8.2l0 1.2h-8.1zM746.8 265.7h1.4l-.2 1.2h-1.3zM523.5 264.5h20.3l0 1.2h-20.3zM546.5 264.5h2.7l.1 1.2h-2.8zM753.7 264.5h1.4l-.2 1.2h-1.3zM523.4 263.4h25.8l0 1.1h-25.7zM642.7 263.4h1.4l-.1 1.1h-1.3zM728.1 263.4h1.3l-.1 1.1h-1.3zM759.3 263.4h1.3l-.1 1.1h-1.4zM522 262.2h21.7l0 1.2h-21.6zM545.1 262.2h4l.1 1.2h-4.1zM617 262.2h1.3l0 1.2h-1.4zM619.7 262.2h1.3l0 1.2h-1.3zM752.6 262.2h2.7l-.1 1.2h-2.7zM758 262.2h1.4l-.1 1.2h-1.4zM522 261h14.9l0 1.2h-14.9zM538.2 261h6.8l.1 1.2h-6.8zM546.4 261h4.1l0 1.2h-4.1zM612.9 261h12.2l0 1.2h-12.2zM717.4 261h6.8l-.1 1.2h-6.8zM725.6 261h10.8l-.1 1.2h-10.8zM750 261h10.8l-.1 1.2h-10.8zM512.4 259.9h1.4l0 1.1h-1.3zM520.6 259.9h5.4l0 1.1h-5.4zM527.3 259.9h23.1l.1 1.1h-23.1zM612.9 259.9h4.1l0 1.1h-4.1zM618.3 259.9h9.5l0 1.1h-9.5zM714.8 259.9h8.1l-.1 1.1h-8.1zM750.1 259.9h6.8l-.1 1.1h-6.8zM758.2 259.9h1.4l-.1 1.1h-1.4zM511 258.7h1.4l0 1.2h-1.4zM525.9 258.7h10.9l0 1.2h-10.8zM538.2 258.7h10.8l.1 1.2h-10.9zM612.9 258.7h1.4l0 1.2h-1.4zM617 258.7h12.2l0 1.2h-12.2zM751.5 258.7h5.4l0 1.2h-5.5zM762.4 258.7h2.7l-.1 1.2h-2.7zM523.2 257.6h13.6l0 1.1h-13.6zM539.5 257.6h9.5l0 1.1h-9.5zM561.3 257.6h1.3l0 1.1h-1.3zM617 257.6h10.9l0 1.1h-10.9zM732.5 257.6h1.4l-.1 1.1h-1.3zM748.9 257.6h2.7l-.1 1.1h-2.7zM752.9 257.6h5.5l-.1 1.1h-5.4zM521.8 256.4h8.2l0 1.2h-8.2zM531.3 256.4h15l0 1.2h-14.9zM558.5 256.4h1.4l0 1.2h-1.4zM611.6 256.4h2.7l0 1.2h-2.7zM617 256.4h2.7l0 1.2h-2.7zM625.2 256.4h4l0 1.2h-4.1zM642.8 256.4h1.4l0 1.2h-1.4zM731.2 256.4h2.7l0 1.2h-2.7zM746.2 256.4h12.2l0 1.2h-12.3zM520.4 255.2h8.2l0 1.2h-8.2zM529.9 255.2h17.7l0 1.2h-17.6zM557.2 255.2h1.3l0 1.2h-1.3zM610.2 255.2h4.1l0 1.2h-4.1zM615.6 255.2h4.1l0 1.2h-4.1zM627.9 255.2h1.3l0 1.2h-1.3zM731.3 255.2h2.7l-.1 1.2h-2.7zM736.7 255.2h5.5l-.1 1.2h-5.4zM744.9 255.2h5.4l0 1.2h-5.5zM751.7 255.2h5.4l0 1.2h-5.5zM519 254.1h31.3l0 1.1h-31.2zM610.2 254.1h9.5l0 1.1h-9.5zM626.5 254.1h2.8l-.1 1.1h-2.7zM709.5 254.1h1.4l0 1.1h-1.4zM719.1 254.1h2.7l-.1 1.1h-2.7zM731.3 254.1h1.4l-.1 1.1h-1.3zM743.5 254.1h9.6l-.1 1.1h-9.5zM510.9 252.9h1.3l0 1.2h-1.3zM517.7 252.9h29.9l0 1.2h-29.9zM608.8 252.9h1.4l0 1.2h-1.4zM611.6 252.9h9.5l0 1.2h-9.5zM626.5 252.9h2.8l0 1.2h-2.8zM709.6 252.9h2.7l0 1.2h-2.8zM719.1 252.9h1.3l0 1.2h-1.3zM724.5 252.9h1.4l0 1.2h-1.4zM731.3 252.9h2.8l-.1 1.2h-2.7zM742.2 252.9h1.4l-.1 1.2h-1.3zM744.9 252.9h1.4l0 1.2h-1.4zM514.9 251.8h17.7l0 1.1h-17.7zM534 251.8h15l0 1.1h-15zM611.6 251.8h9.5l0 1.1h-9.5zM625.2 251.8h4.1l0 1.1h-4.1zM709.6 251.8h1.3l0 1.1h-1.3zM723.2 251.8h4.1l-.1 1.1h-4zM738.2 251.8h2.7l0 1.1h-2.8zM514.9 250.6h16.4l0 1.2h-16.4zM534 250.6h12.2l0 1.2h-12.2zM614.3 250.6h13.6l0 1.2h-13.6zM647 250.6h1.3l0 1.2h-1.3zM708.2 250.6h4.1l0 1.2h-4.1zM721.8 250.6h4.1l0 1.2h-4.1zM515 249.4h4l0 1.2h-4.1zM520.4 249.4h10.9l0 1.2h-10.9zM532.6 249.4h1.4l0 1.2h-1.4zM536.7 249.4h9.6l-.1 1.2h-9.5zM615.6 249.4h1.4l0 1.2h-1.3zM618.4 249.4h9.5l0 1.2h-9.5zM648.3 249.4h1.4l0 1.2h-1.4zM708.2 249.4h2.7l0 1.2h-2.7zM721.8 249.4h1.3l.1 1.2h-1.4zM727.2 249.4h1.4l0 1.2h-1.4zM513.6 248.3h1.4l0 1.1h-1.4zM516.3 248.3h2.8l-.1 1.1h-2.7zM520.4 248.3h10.9l0 1.1h-10.9zM536.7 248.3h9.6l0 1.1h-9.6zM617 248.3h1.4l0 1.1h-1.4zM619.7 248.3h1.4l0 1.1h-1.4zM623.8 248.3h2.7l0 1.1h-2.7zM706.8 248.3h2.7l0 1.1h-2.7zM721.7 248.3h2.8l0 1.1h-2.7zM515 247.1h5.4l0 1.2h-5.4zM523.2 247.1h10.8l0 1.2h-10.9zM535.4 247.1h9.5l0 1.2h-9.5zM623.8 247.1h2.7l0 1.2h-2.7zM709.5 247.1h2.7l0 1.2h-2.7zM721.7 247.1h6.8l0 1.2h-6.8zM515 245.9h6.8l0 1.2h-6.8zM523.2 245.9h19l0 1.2h-19zM543.6 245.9h1.3l0 1.2h-1.3zM591.2 245.9h1.3l0 1.2h-1.3zM622.4 245.9h2.7l.1 1.2h-2.8zM704 245.9h2.7l.1 1.2h-2.8zM709.4 245.9h2.7l.1 1.2h-2.7zM723 245.9h5.5l0 1.2h-5.4zM515.1 244.8h5.4l0 1.1h-5.5zM521.9 244.8h5.4l0 1.1h-5.5zM532.7 244.8h10.9l0 1.1h-10.9zM589.8 244.8h1.4l0 1.1h-1.4zM604.8 244.8h1.3l0 1.1h-1.3zM623.8 244.8h1.3l0 1.1h-1.3zM652.3 244.8h1.4l0 1.1h-1.4zM703.9 244.8h2.8l0 1.1h-2.7zM708 244.8h4.1l0 1.1h-4zM724.3 244.8h5.5l0 1.1h-5.4zM515.1 243.6h9.5l0 1.2h-9.5zM536.8 243.6h4.1l0 1.2h-4.1zM588.5 243.6h1.3l0 1.2h-1.3zM595.2 243.6h1.4l0 1.2h-1.4zM602 243.6h2.8l0 1.2h-2.8zM686.2 243.6h2.8l0 1.2h-2.7zM708 243.6h4l.1 1.2h-4.1zM725.6 243.6h2.7l.1 1.2h-2.7zM735.1 243.6h2.7l.1 1.2h-2.7zM515.2 242.5h8.1l0 1.1h-8.2zM592.5 242.5h1.4l0 1.1h-1.4zM707.9 242.5h2.7l.1 1.1h-2.7zM732.3 242.5h2.8l0 1.1h-2.7zM512.5 241.3h1.4l-.1 1.2h-1.3zM733.6 241.3h2.7l.1 1.2h-2.7zM508.5 240.1h9.5l-.1 1.2h-9.5zM682 240.1h1.4l0 1.2h-1.3zM684.7 240.1h4.1l0 1.2h-4zM726.7 240.1h1.4l.1 1.2h-1.4zM733.5 240.1h1.4l.1 1.2h-1.4zM736.2 240.1h1.4l.1 1.2h-1.4zM507.2 239h1.4l-.1 1.1h-1.4zM728 239h1.3l.1 1.1h-1.3zM732.1 239h4l.1 1.1h-4zM654.8 237.8h1.4l0 1.2h-1.3zM729.2 237.8h1.4l.1 1.2h-1.4zM731.9 237.8h1.4l.1 1.2h-1.3zM508.7 236.6h1.4l-.1 1.2h-1.3zM680.4 236.6h1.4l.1 1.2h-1.4zM731.8 236.6h2.7l.1 1.2h-2.7zM504.8 235.5h1.3l-.1 1.1h-1.3zM507.5 235.5h2.7l-.1 1.1h-2.7zM657.4 235.5h1.3l.1 1.1h-1.3zM733 235.5h1.4l.1 1.1h-1.3zM502.2 234.3h1.3l-.1 1.2h-1.3zM507.6 234.3h1.3l-.1 1.2h-1.3zM730.2 234.3h4l.2 1.2h-4.1zM499.6 233.2h1.4l-.2 1.1h-1.3zM643.8 233.2h1.3l.1 1.1h-1.4zM704.4 233.2h1.4l.1 1.1h-1.4zM728.7 233.2h2.7l.1 1.1h-2.7zM495.7 232h1.4l-.2 1.2h-1.3zM498.4 232h1.4l-.2 1.2h-1.3zM509.2 232h1.3l-.1 1.2h-1.3zM704.3 232h1.3l.2 1.2h-1.4zM716.4 232h1.3l.2 1.2h-1.4zM728.5 232h2.7l.2 1.2h-2.7zM728.3 230.8h1.4l.1 1.2h-1.3zM731 230.8h1.3l.2 1.2h-1.3zM490.7 229.7h1.3l-.2 1.1h-1.3zM728.1 229.7h1.4l.2 1.1h-1.4zM730.8 229.7h1.3l.2 1.1h-1.3zM505.6 228.5h1.3l-.1 1.2h-1.4zM717.2 228.5h1.3l.2 1.2h-1.3zM730.6 228.5h1.3l.2 1.2h-1.3zM501.7 227.3h1.3l-.1 1.2h-1.4zM702.3 227.3h1.3l.2 1.2h-1.3zM715.7 227.3h1.3l.2 1.2h-1.3zM698.1 226.2h6.7l.2 1.1h-6.7zM503.4 225h1.3l-.2 1.2h-1.3zM700.6 225h6.7l.2 1.2h-6.7zM718 225h1.3l.2 1.2h-1.3zM640.6 223.9h1.3l.1 1.1h-1.3zM663.2 223.9h1.3l.2 1.1h-1.4zM695.1 223.9h2.7l.2 1.1h-2.7zM699.1 223.9h2.7l.2 1.1h-2.7zM705.8 223.9h2.7l.1 1.1h-2.6zM709.8 223.9h4l.2 1.1h-4zM720.4 223.9h1.4l.2 1.1h-1.4zM699 222.7h2.6l.2 1.2h-2.7zM704.3 222.7h15.9l.2 1.2h-15.9zM721.5 222.7h2.7l.2 1.2h-2.6zM726.9 222.7h1.3l.2 1.2h-1.3zM700.1 221.5h1.3l.2 1.2h-1.3zM704.1 221.5h2.6l.2 1.2h-2.6zM708.1 221.5h15.9l.2 1.2h-15.9zM726.6 221.5h1.3l.3 1.2h-1.3zM668.1 220.4h1.4l.1 1.1h-1.3zM698.6 220.4h17.2l.2 1.1h-17.2zM718.4 220.4h6.6l.3 1.1h-6.6zM637.6 219.2h1.3l.1 1.2h-1.3zM699.7 219.2h5.2l.3 1.2h-5.3zM706.3 219.2h18.4l.3 1.2h-18.5zM726.1 219.2h1.3l.3 1.2h-1.4zM479.5 218h1.3l-.3 1.2h-1.3zM700.7 218h1.4l.2 1.2h-1.3zM703.4 218h22.4l.3 1.2h-22.5zM478.5 216.9h1.3l-.3 1.1h-1.3zM701.8 216.9h13.1l.3 1.1h-13.1zM716.2 216.9h11.9l.3 1.1h-11.9zM701.5 215.7h13.1l.3 1.2h-13.1zM715.9 215.7h10.5l.4 1.2h-10.6zM698.6 214.6h26.1l.4 1.1h-26.2zM698.3 213.4h14.3l.4 1.2h-14.4zM715.2 213.4h7.8l.4 1.2h-7.8zM589 212.2h1.3l-.1 1.2h-1.3zM630.5 212.2h1.3l.1 1.2h-1.3zM688.9 212.2h2.6l.3 1.2h-2.6zM692.8 212.2h9.1l.3 1.2h-9.1zM707.1 212.2h14.2l.4 1.2h-14.3zM477.8 211.1h1.3l-.4 1.1h-1.3zM696.3 211.1h5.2l.4 1.1h-5.2zM711.9 211.1h7.7l.4 1.1h-7.7zM694.7 209.9h1.3l.3 1.2h-1.2zM697.3 209.9h2.6l.3 1.2h-2.6zM712.8 209.9h6.4l.4 1.2h-6.4zM733.4 209.9h1.3l.4 1.2h-1.2zM713.6 208.7h2.6l.4 1.2h-2.6zM734.2 208.7h1.2l.5 1.2h-1.2zM740.6 208.7h1.3l.5 1.2h-1.3zM623.7 207.6h1.2l.1 1.1h-1.2zM632.6 207.6h1.3l.1 1.1h-1.3zM722.1 207.6h1.3l.5 1.1h-1.3zM740 207.6h3.9l.5 1.1h-3.8zM593 206.4h1.3l-.1 1.2h-1.2zM622.3 206.4h1.3l.1 1.2h-1.3zM728 206.4h1.3l.5 1.2h-1.3zM738.2 206.4h1.3l.5 1.2h-1.2zM740.7 206.4h3.9l.5 1.2h-3.8zM604.4 205.3h2.6l0 1.1h-2.5zM620.9 205.3h1.3l.1 1.1h-1.3zM738.9 205.3h5.1l.6 1.1h-5.1zM613.3 204.1h3.7l.1 1.2h-3.8zM623.4 204.1h1.2l.1 1.2h-1.2zM719.3 204.1h1.3l.5 1.2h-1.2zM729.4 204.1h1.3l.6 1.2h-1.3zM740.8 204.1h2.5l.7 1.2h-2.6zM625.8 203h1.2l.2 1.1h-1.3zM721.3 203h1.3l.5 1.1h-1.2zM740.2 203h2.5l.6 1.1h-2.5zM515.6 201.8h1.2l-.4 1.2h-1.3zM525.6 201.8h1.2l-.3 1.2h-1.3zM614.4 201.8h1.2l.1 1.2h-1.2zM623.1 201.8h1.3l.1 1.2h-1.2zM625.6 201.8h1.3l.1 1.2h-1.2zM739.5 201.8h2.5l.7 1.2h-2.5zM527.2 200.6h1.2l-.3 1.2h-1.3zM590.7 200.6h1.2l0 1.2h-1.3zM609.3 200.6h1.3l0 1.2h-1.2zM626.8 200.6h1.2l.1 1.2h-1.2zM638 200.6h1.2l.2 1.2h-1.2zM728.8 200.6h1.3l.6 1.2h-1.2zM738.8 200.6h2.5l.7 1.2h-2.5zM515.2 199.5h2.5l-.5 1.1h-2.5zM527.6 199.5h2.4l-.3 1.1h-2.5zM615.5 199.5h1.2l.1 1.1h-1.2zM618 199.5h1.2l.1 1.1h-1.3zM515.6 198.4h5l-.5 1.1h-4.9zM527.9 198.4h2.5l-.4 1.1h-2.4zM608 198.4h1.2l.1 1.1h-1.3zM616.6 198.4h1.3l.1 1.1h-1.3zM729.9 198.4h2.5l.7 1.1h-2.5zM738.6 198.4h1.2l.8 1.1h-1.3zM742.3 198.4h1.2l.8 1.1h-1.3zM512.4 197.2h1.2l-.4 1.2h-1.3zM516.1 197.2h2.4l-.4 1.2h-2.5zM528.3 197.2h4.9l-.3 1.2h-5zM534.5 197.2h1.2l-.4 1.2h-1.2zM592 197.2h3.7l0 1.2h-3.7zM625.1 197.2h1.2l.2 1.2h-1.2zM627.6 197.2h1.2l.1 1.2h-1.2zM637.4 197.2h1.2l.2 1.2h-1.2zM737.8 197.2h1.2l.8 1.2h-1.2zM512.9 196.1h1.2l-.5 1.1h-1.2zM516.6 196.1h1.2l-.5 1.1h-1.2zM522.7 196.1h1.2l-.5 1.1h-1.2zM530 196.1h9.7l-.3 1.1h-9.8zM611.6 196.1h1.2l.1 1.1h-1.3zM633.5 196.1h1.2l.2 1.1h-1.2zM737 196.1h2.5l.8 1.1h-2.5zM513.4 194.9h2.4l-.5 1.2h-2.4zM517 194.9h1.2l-.4 1.2h-1.2zM521.9 194.9h2.4l-.4 1.2h-2.5zM530.4 194.9h4.8l-.4 1.2h-4.8zM536.4 194.9h4.9l-.4 1.2h-4.9zM634.5 194.9h1.2l.2 1.2h-1.2zM510.3 193.8h1.2l-.5 1.1h-1.2zM518.7 193.8h8.5l-.5 1.1h-8.5zM529.6 193.8h7.2l-.4 1.1h-7.3zM539.2 193.8h2.4l-.3 1.1h-2.5zM546.4 193.8h1.2l-.3 1.1h-1.2zM634.3 193.8h1.2l.2 1.1h-1.2zM727 193.8h2.4l.8 1.1h-2.4zM733.1 193.8h1.2l.7 1.1h-1.2zM736.7 193.8h2.4l.8 1.1h-2.4zM480.9 192.6h2.4l-.7 1.2h-2.4zM510.8 192.6h1.2l-.5 1.2h-1.2zM519.2 192.6h16.8l-.4 1.2h-16.9zM537.2 192.6h1.2l-.4 1.2h-1.2zM543.1 192.6h7.2l-.3 1.2h-7.2zM632.9 192.6h1.2l.2 1.2h-1.2zM637.7 192.6h1.2l.2 1.2h-1.2zM723.9 192.6h9.5l.9 1.2h-9.7zM735.8 192.6h1.2l.9 1.2h-1.2zM480.5 191.5h4.7l-.7 1.1h-4.8zM511.4 191.5h1.2l-.6 1.1h-1.2zM517.3 191.5h19.1l-.4 1.1h-19.2zM543.5 191.5h5.9l-.3 1.1h-6zM633.9 191.5h2.4l.2 1.1h-2.4zM637.5 191.5h1.2l.2 1.1h-1.2zM666 191.5h1.2l.4 1.1h-1.2zM668.4 191.5h1.2l.4 1.1h-1.2zM694.6 191.5h1.1l.6 1.1h-1.2zM711.2 191.5h2.4l.7 1.1h-2.4zM723.1 191.5h10.7l.8 1.1h-10.7zM735 191.5h1.2l.8 1.1h-1.2zM481.2 190.4h5.9l-.7 1.1h-5.9zM516.7 190.4h13l-.5 1.1h-13.1zM530.9 190.4h5.9l-.4 1.1h-6zM545 190.4h3.6l-.3 1.1h-3.6zM598.2 190.4h2.4l0 1.1h-2.4zM616 190.4h1.1l.1 1.1h-1.1zM632.5 190.4h4.7l.3 1.1h-4.8zM638.4 190.4h1.2l.2 1.1h-1.1zM643.1 190.4h1.2l.3 1.1h-1.2zM646.7 190.4h2.3l.4 1.1h-2.4zM658.5 190.4h1.2l.4 1.1h-1.2zM665.6 190.4h4.7l.5 1.1h-4.8zM688 190.4h1.2l.6 1.1h-1.2zM692.8 190.4h5.9l.6 1.1h-5.9zM705.8 190.4h10.6l.8 1.1h-10.7zM721.1 190.4h11.8l.9 1.1h-11.9zM734.1 190.4h2.4l.9 1.1h-2.4zM482 189.3h5.9l-.8 1.1h-5.9zM499.6 189.3h5.9l-.6 1.1h-5.9zM510.2 189.3h15.3l-.5 1.1h-15.4zM526.6 189.3h17.6l-.3 1.1h-17.8zM545.4 189.3h2.4l-.4 1.1h-2.4zM594.7 189.3h3.5l0 1.1h-3.5zM600.6 189.3h1.2l0 1.1h-1.2zM606.5 189.3h3.5l0 1.1h-3.5zM617 189.3h3.5l.2 1.1h-3.6zM626.4 189.3h1.2l.2 1.1h-1.2zM632.3 189.3h4.7l.2 1.1h-4.7zM638.1 189.3h3.6l.3 1.1h-3.6zM642.8 189.3h5.9l.3 1.1h-5.9zM652.2 189.3h3.6l.3 1.1h-3.5zM658.1 189.3h1.2l.4 1.1h-1.2zM661.6 189.3h1.2l.4 1.1h-1.2zM665.1 189.3h5.9l.5 1.1h-5.9zM672.2 189.3h7l.6 1.1h-7.1zM683.9 189.3h4.7l.6 1.1h-4.7zM689.8 189.3h10.6l.6 1.1h-10.6zM703.9 189.3h5.9l.7 1.1h-5.9zM710.9 189.3h5.9l.8 1.1h-5.9zM718 189.3h14.1l.8 1.1h-14.1zM733.2 189.3h2.4l.9 1.1h-2.4zM480.5 188.2h2.4l-.9 1.1h-2.3zM484 188.2h10.5l-.7 1.1h-10.6zM496.8 188.2h10.5l-.6 1.1h-10.6zM509.7 188.2h16.3l-.5 1.1h-16.5zM527.1 188.2h4.7l-.5 1.1h-4.7zM533 188.2h9.3l-.4 1.1h-9.4zM545.8 188.2h2.3l-.3 1.1h-2.4zM595.9 188.2h15.2l.1 1.1h-15.3zM613.4 188.2h15.2l.2 1.1h-15.3zM632.1 188.2h5.8l.2 1.1h-5.8zM639 188.2h28l.5 1.1h-28.2zM668.2 188.2h1.2l.4 1.1h-1.1zM670.5 188.2h8.2l.5 1.1h-8.2zM679.8 188.2h5.9l.6 1.1h-5.9zM686.8 188.2h18.7l.7 1.1h-18.8zM713.6 188.2h17.5l1 1.1h-17.7zM732.3 188.2h2.3l1 1.1h-2.4zM745.1 188.2h1.2l1 1.1h-1.2zM481.4 187h1.1l-.8 1.2h-1.2zM484.9 187h17.3l-.7 1.2h-17.5zM504.5 187h3.5l-.7 1.2h-3.5zM510.3 187h13.9l-.5 1.2h-14zM526.5 187h11.6l-.5 1.2h-11.6zM539.2 187h4.7l-.4 1.2h-4.7zM545 187h3.5l-.4 1.2h-3.5zM591.3 187h3.5l0 1.2h-3.5zM595.9 187h1.2l0 1.2h-1.2zM598.3 187h3.4l0 1.2h-3.4zM604.1 187h20.8l.2 1.2h-21zM627.2 187h41.7l.5 1.2h-42zM670 187h11.6l.6 1.2h-11.7zM686.2 187h2.3l.7 1.2h-2.4zM689.7 187h4.6l.7 1.2h-4.7zM695.5 187h1.1l.7 1.2h-1.1zM698.9 187h1.2l.7 1.2h-1.1zM702.4 187h1.2l.7 1.2h-1.1zM712.8 187h1.2l.8 1.2h-1.2zM718.6 187h9.3l.9 1.2h-9.3zM729 187h3.5l1 1.2h-3.5zM744.1 187h2.3l1.1 1.2h-2.4zM488 185.9h1.2l-.9 1.1h-1.1zM490.3 185.9h13.8l-.7 1.1h-13.9zM506.4 185.9h2.3l-.7 1.1h-2.3zM511 185.9h5.7l-.6 1.1h-5.8zM517.9 185.9h6.9l-.6 1.1h-6.9zM528.2 185.9h19.5l-.4 1.1h-19.6zM590.2 185.9h3.5l-.1 1.1h-3.4zM598.3 185.9h2.3l0 1.1h-2.3zM606.3 185.9h2.3l.1 1.1h-2.3zM609.8 185.9h44.8l.4 1.1h-45.2zM655.7 185.9h14.9l.6 1.1h-15.1zM679.8 185.9h1.2l.6 1.1h-1.2zM685.6 185.9h1.1l.7 1.1h-1.2zM690.2 185.9h2.3l.7 1.1h-2.4zM713.1 185.9h1.2l.8 1.1h-1.1zM718.9 185.9h5.7l1 1.1h-5.8zM744.1 185.9h3.5l1.1 1.1h-3.5zM491.2 184.8h17l-.7 1.1h-17.2zM511.7 184.8h13.6l-.5 1.1h-13.8zM528.8 184.8h15.9l-.4 1.1h-16.1zM545.9 184.8h1.1l-.4 1.1h-1.2zM590.3 184.8h4.6l-.1 1.1h-4.6zM597.2 184.8h2.2l0 1.1h-2.3zM610.8 184.8h24l.2 1.1h-24.1zM642.7 184.8h2.3l.4 1.1h-2.3zM649.6 184.8h2.3l.4 1.1h-2.3zM653 184.8h1.1l.5 1.1h-1.2zM656.4 184.8h1.2l.4 1.1h-1.1zM658.7 184.8h1.1l.5 1.1h-1.1zM661 184.8h3.4l.5 1.1h-3.5zM665.5 184.8h4.6l.5 1.1h-4.6zM689.5 184.8h1.1l.7 1.1h-1.1zM702 184.8h1.1l.8 1.1h-1.1zM718 184.8h1.1l.9 1.1h-1.1zM722.5 184.8h2.3l1 1.1h-2.3zM725.9 184.8h1.2l1 1.1h-1.2zM492 183.7h1.1l-.8 1.1h-1.1zM494.3 183.7h4.5l-.8 1.1h-4.6zM499.9 183.7h10.2l-.7 1.1h-10.3zM512.4 183.7h13.5l-.6 1.1h-13.6zM529.3 183.7h9.1l-.5 1.1h-9.1zM539.5 183.7h6.8l-.4 1.1h-6.9zM592.6 183.7h4.6l0 1.1h-4.6zM611.9 183.7h1.1l.1 1.1h-1.1zM617.5 183.7h15.9l.2 1.1h-15.9zM635.6 183.7h1.2l.2 1.1h-1.1zM652.6 183.7h3.4l.4 1.1h-3.4zM666.2 183.7h1.1l.5 1.1h-1.1zM689.9 183.7h1.1l.8 1.1h-1.2zM698.9 183.7h1.2l.8 1.1h-1.2zM701.2 183.7h1.1l.8 1.1h-1.1zM720.4 183.7h1.2l.9 1.1h-1.1zM722.7 183.7h2.3l.9 1.1h-2.2zM455.9 182.6h1.1l-1.2 1.1h-1.1zM480.5 182.6h1.2l-1 1.1h-1.1zM485 182.6h2.3l-.9 1.1h-2.3zM496.2 182.6h3.4l-.8 1.1h-3.4zM500.7 182.6h10.1l-.7 1.1h-10.2zM512 182.6h8.9l-.6 1.1h-9.1zM529.9 182.6h14.6l-.5 1.1h-14.7zM610.7 182.6h3.3l.1 1.1h-3.4zM618.5 182.6h11.2l.3 1.1h-11.3zM723.9 182.6h1.2l1 1.1h-1.1zM498.2 181.6h2.2l-.8 1h-2.2zM501.6 181.6h8.9l-.8 1h-9zM511.6 181.6h8.9l-.7 1h-9zM530.5 181.6h13.3l-.4 1h-13.5zM544.9 181.6h1.2l-.5 1h-1.1zM607.2 181.6h1.1l.1 1h-1.1zM610.6 181.6h1.1l.1 1h-1.1zM618.4 181.6h4.4l.2 1h-4.5zM623.9 181.6h6.7l.2 1h-6.7zM685.1 181.6h1.1l.7 1h-1.1zM718.5 181.6h2.2l1 1h-2.2zM480.3 180.5h1.1l-1 1.1h-1.1zM499.1 180.5h1.1l-.9 1.1h-1.1zM503.5 180.5h1.1l-.8 1.1h-1.1zM505.7 180.5h12.1l-.7 1.1h-12.2zM531.1 180.5h13.2l-.5 1.1h-13.3zM606.1 180.5h1.1l0 1.1h-1.1zM624.8 180.5h1.1l.2 1.1h-1.1zM627 180.5h2.2l.3 1.1h-2.2zM714.2 180.5h2.2l1 1.1h-2.3zM478.1 179.4h1.1l-1.1 1.1h-1.1zM501 179.4h1.1l-.8 1.1h-1.1zM507.6 179.4h9.8l-.7 1.1h-9.9zM536 179.4h3.3l-.5 1.1h-3.3zM541.5 179.4h3.3l-.5 1.1h-3.3zM606 179.4h1.1l.1 1.1h-1.1zM608.2 179.4h1.1l.1 1.1h-1.1zM614.8 179.4h1.1l.1 1.1h-1.1zM620.2 179.4h1.1l.2 1.1h-1.1zM627.9 179.4h1.1l.2 1.1h-1.1zM711 179.4h2.2l1 1.1h-2.2zM470.5 178.3h1.1l-1.2 1.1h-1.1zM492.2 178.3h1.1l-1 1.1h-1.1zM510.6 178.3h5.4l-.7 1.1h-5.5zM536.6 178.3h1.1l-.6 1.1h-1.1zM560.4 178.3h2.2l-.3 1.1h-2.2zM603.8 178.3h2.2l0 1.1h-2.2zM611.4 178.3h1.1l.1 1.1h-1.1zM615.7 178.3h1.1l.1 1.1h-1zM619 178.3h1l.2 1.1h-1.1zM655.8 178.3h1.1l.5 1.1h-1.1zM661.2 178.3h1.1l.6 1.1h-1.1zM710 178.3h2.2l1 1.1h-2.2zM742.5 178.3h1.1l1.3 1.1h-1.1zM457.7 177.3h1.1l-1.3 1h-1.1zM470.6 177.3h1.1l-1.2 1h-1.1zM472.7 177.3h2.2l-1.2 1h-2.1zM493.1 177.3h4.3l-.9 1h-4.3zM513.5 177.3h4.3l-.7 1h-4.3zM518.9 177.3h1.1l-.7 1h-1.1zM603.8 177.3h3.2l0 1h-3.2zM611.3 177.3h2.1l.1 1h-2.1zM614.5 177.3h1.1l.1 1h-1.1zM654.2 177.3h2.2l.5 1h-2.2zM682.2 177.3h1l.8 1h-1.1zM709 177.3h1.1l1 1h-1.1zM747.7 177.3h1l1.4 1h-1.1zM475 176.2h1l-1.1 1.1h-1.1zM495.2 176.2h1.1l-1 1.1h-1.1zM514.3 176.2h4.3l-.8 1.1h-4.3zM543.1 176.2h1l-.5 1.1h-1.1zM604.8 176.2h2.1l.1 1.1h-2.2zM613.3 176.2h2.1l.2 1.1h-2.2zM635.6 176.2h1.1l.4 1.1h-1.1zM653.7 176.2h2.2l.5 1.1h-2.2zM680.3 176.2h2.2l.7 1.1h-2.1zM735.7 176.2h2.1l1.3 1.1h-2.2zM745.2 176.2h2.2l1.3 1.1h-2.1zM466.7 175.2h2.1l-1.3 1h-2.1zM475.1 175.2h1l-1.1 1h-1.1zM495.1 175.2h1.1l-1 1h-1.1zM516.2 175.2h5.3l-.8 1h-5.3zM529.9 175.2h1.1l-.7 1h-1.1zM604.7 175.2h1.1l.1 1h-1.1zM612.1 175.2h4.2l.2 1h-4.3zM636.4 175.2h1l.4 1h-1.1zM653.2 175.2h1.1l.5 1h-1.1zM679.6 175.2h3.1l.8 1h-3.2zM693.3 175.2h1l.9 1h-1zM715.4 175.2h1.1l1.1 1h-1.1zM736.5 175.2h3.2l1.3 1h-3.2zM743.9 175.2h1l1.4 1h-1.1zM750.2 175.2h1.1l1.4 1h-1.1zM469 174.2h2.1l-1.3 1h-2.1zM516 174.2h4.1l-.7 1h-4.3zM521.2 174.2h1l-.7 1h-1.1zM531.6 174.2h1.1l-.7 1h-1zM545.2 174.2h1l-.5 1h-1zM612 174.2h2.1l.1 1h-2.1zM615.1 174.2h1.1l.1 1h-1zM636 174.2h2.1l.4 1h-2.1zM680.9 174.2h1.1l.7 1h-1zM693.4 174.2h1.1l.9 1h-1.1zM695.5 174.2h1.1l.9 1h-1.1zM734.1 174.2h6.3l1.4 1h-6.4zM748.8 174.2h1l1.5 1h-1.1zM462 173.1h1l-1.3 1.1h-1.1zM471.3 173.1h3.1l-1.2 1.1h-3.2zM496.1 173.1h1l-1 1.1h-1zM516.8 173.1h1l-.8 1.1h-1zM520.9 173.1h1.1l-.8 1.1h-1.1zM536.4 173.1h1.1l-.7 1.1h-1zM556.1 173.1h1l-.4 1.1h-1.1zM617.1 173.1h1l.2 1.1h-1.1zM619.1 173.1h1.1l.2 1.1h-1.1zM632.6 173.1h1l.3 1.1h-1zM634.6 173.1h1.1l.3 1.1h-1zM636.7 173.1h1l.4 1.1h-1zM676 173.1h1l.8 1.1h-1.1zM683.2 173.1h1.1l.8 1.1h-1.1zM690.5 173.1h3.1l.9 1.1h-3.2zM694.6 173.1h1l1 1.1h-1.1zM734.9 173.1h4.1l1.4 1.1h-4.2zM747.3 173.1h1l1.5 1.1h-1zM472.6 172.1h3l-1.2 1h-3.1zM536 172.1h3.1l-.6 1h-3.1zM614.8 172.1h2.1l.2 1h-2.1zM617.9 172.1h2.1l.2 1h-2.1zM622 172.1h1l.3 1h-1.1zM633.3 172.1h4.1l.3 1h-4.1zM656.8 172.1h1l.6 1h-1zM684.4 172.1h1.1l.8 1h-1zM692.6 172.1h1l1 1h-1zM461.7 171.1h1l-1.4 1h-1zM463.7 171.1h1.1l-1.4 1h-1.1zM497.2 171.1h1l-1.1 1h-1zM618.7 171.1h1.1l.2 1h-1.1zM630.9 171.1h1l.3 1h-1zM632.9 171.1h2.1l.3 1h-2zM640 171.1h2l.5 1h-2.1zM656.2 171.1h1l.6 1h-1zM684.6 171.1h1l.9 1h-1zM722.1 171.1h1l1.3 1h-1.1zM466.2 170.1h1l-1.4 1h-1zM475.2 170.1h2l-1.3 1h-2zM483.2 170.1h1l-1.2 1h-1zM486.2 170.1h2l-1.2 1h-2zM543.4 170.1h1l-.6 1h-1zM630.6 170.1h2l.3 1h-2zM691.7 170.1h1l1 1h-1zM467.6 169.1h2l-1.4 1h-2zM476.5 169.1h2l-1.3 1h-2zM487.4 169.1h2l-1.2 1h-2zM544 169.1h1.9l-.5 1h-2zM630.3 169.1h.9l.4 1h-1zM639.2 169.1h2l.4 1h-2zM692.7 169.1h1l1 1h-1zM473.9 168.1h1l-1.4 1h-1zM479.8 168.1h2l-1.3 1h-2zM489.6 168.1h1l-1.2 1h-1zM505.3 168.1h2l-1 1h-2zM538.7 168.1h1l-.7 1h-1zM544.6 168.1h.9l-.6 1h-.9zM626 168.1h2.9l.4 1h-3zM685.8 168.1h2l1 1h-2zM701.5 168.1h1l1.2 1h-1zM733.9 168.1h2l1.5 1h-2zM481.2 167.2h.9l-1.3 .9h-1zM486 167.2h1l-1.3 .9h-1zM520.9 167.2h1l-.9 .9h-1zM615 167.2h1l.2 .9h-1zM655.8 167.2h1l.6 .9h-1zM657.7 167.2h1l.7 .9h-1zM659.7 167.2h.9l.7 .9h-1zM682.9 167.2h1l1 .9h-1zM685.9 167.2h.9l1 .9h-1zM699.4 167.2h1l1.1 .9h-.9zM731.5 167.2h.9l1.5 .9h-1zM509.4 166.2h2.9l-1.1 1h-2.9zM534.3 166.2h1l-.8 1h-1zM618.7 166.2h1l.2 1h-1zM652.3 166.2h.9l.6 1h-.9zM658 166.2h1l.7 1h-1zM716.5 166.2h1l1.3 1h-.9zM510.5 165.3h.9l-1.1 .9h-.9zM514.2 165.3h1l-1 .9h-1zM532.3 165.3h.9l-.8 .9h-1zM534.1 165.3h1.9l-.7 .9h-1.9zM541.7 165.3h1l-.7 .9h-1zM639.3 165.3h1l.5 .9h-1zM650.7 165.3h.9l.7 .9h-1zM652.6 165.3h.9l.7 .9h-1zM655.4 165.3h1l.7 .9h-1zM657.3 165.3h1l.7 .9h-1zM506 164.3h.9l-1.2 1h-.9zM532.2 164.3h.9l-.8 1h-1zM535.9 164.3h.9l-.8 1h-.9zM541.5 164.3h1l-.8 1h-.9zM641.6 164.3h1l.5 1h-.9zM651 164.3h1.9l.6 1h-1.9zM691.2 164.3h1l1.1 1h-.9zM693.1 164.3h.9l1.2 1h-.9zM508.1 163.4h.9l-1.2 .9h-.9zM512.7 163.4h.9l-1.1 .9h-.9zM525.7 163.4h.9l-1 .9h-.9zM535.8 163.4h1.9l-.9 .9h-1.8zM705.8 163.4h.9l1.4 .9h-1zM524.8 162.5h2.8l-1 .9h-2.8zM707 162.5h1.9l1.5 .9h-1.9zM525 161.6h1.8l-1 .9h-1.9zM552 161.6h.9l-.7 .9h-.9zM665.1 161.6h1.8l1 .9h-1.9zM519.9 160.7h.9l-1.2 .9h-.9zM527 160.7h.9l-1.1 .9h-.9zM539.5 159h1.8l-1 .9h-1.7zM587.6 159h.8l-.2 .9h-.8zM664.7 159h.9l1 .9h-.8zM540.5 158.2h1.7l-.9 .8h-1.8zM587.8 158.2h.8l-.2 .8h-.8zM540.6 157.5h1.6l-.9 .7h-1.7zM612.9 157.5h1.6l.3 .7h-1.7zM555.4 156.7h1.7l-.7 .8h-1.7zM584.9 156.7h1.6l-.2 .8h-1.7zM556.1 156.1h.8l-.7 .6h-.8zM585.1 156.1h1.6l-.2 .6h-1.6zM580.6 155.4h.8l-.3 .7h-.8z"/>
<path fill="#ffe033" stroke="#ffe033" stroke-width="0.3" d="M532.8 312h2.4l.4 1.1h-2.4zM530.8 309.7h1.2l.4 1.2h-1.2zM532.8 308.6h2.4l.4 1.1h-2.4zM530 307.4h4.8l.4 1.2h-4.8zM529.6 306.3h6.1l.3 1.1h-6zM527.9 305.1h7.4l.4 1.2h-7.4zM527.6 304h8.6l.4 1.1h-8.7zM525.9 302.9h8.7l.4 1.1h-8.7zM525.6 301.7h10l.3 1.2h-10zM529 300.5h3.7l.4 1.2h-3.8zM534 300.5h3.8l.3 1.2h-3.8zM526.1 299.4h11.4l.3 1.1h-11.3zM778.7 299.4h1.3l-.9 1.1h-1.2zM527.1 298.2h13.9l.3 1.2h-13.9zM742.7 298.2h7.6l-.7 1.2h-7.5zM779.5 298.2h1.2l-.7 1.2h-1.3zM525.5 297.1h3.8l.3 1.1h-3.8zM530.6 297.1h11.4l.3 1.1h-11.4zM742 297.1h1.3l-.6 1.1h-1.3zM744.6 297.1h7.6l-.6 1.1h-7.6zM525.2 295.9h2.5l.3 1.2h-2.5zM531.6 295.9h10.2l.2 1.2h-10.1zM745.1 295.9h9l-.6 1.2h-8.9zM524.9 294.8h1.3l.3 1.1h-1.3zM532.6 294.8h6.4l.3 1.1h-6.4zM540.3 294.8h1.3l.2 1.1h-1.3zM741.9 294.8h1.2l-.5 1.1h-1.3zM745.7 294.8h9l-.6 1.1h-9zM524.6 293.6h1.3l.3 1.2h-1.3zM538.8 293.6h6.4l.2 1.2h-6.4zM618.7 293.6h2.6l-.1 1.2h-2.6zM622.6 293.6h1.2l0 1.2h-1.3zM719.2 293.6h3.9l-.5 1.2h-3.8zM738.5 293.6h1.3l-.5 1.2h-1.3zM745 293.6h10.3l-.6 1.2h-10.3zM537.3 292.4h7.7l.2 1.2h-7.7zM618.8 292.4h2.5l0 1.2h-2.6zM627.8 292.4h1.3l-.1 1.2h-1.3zM719.6 292.4h3.9l-.4 1.2h-3.9zM727.4 292.4h1.3l-.5 1.2h-1.3zM741.6 292.4h1.3l-.5 1.2h-1.3zM745.5 292.4h11.6l-.5 1.2h-11.6zM537.1 291.3h7.7l.2 1.1h-7.7zM618.8 291.3h2.6l-.1 1.1h-2.5zM720 291.3h2.6l-.4 1.1h-2.6zM747.3 291.3h10.4l-.6 1.1h-10.3zM534.3 290.1h6.5l.2 1.2h-6.5zM544.7 290.1h1.3l.1 1.2h-1.3zM618.9 290.1h2.6l-.1 1.2h-2.6zM629.3 290.1h1.3l-.1 1.2h-1.3zM720.4 290.1h3.9l-.4 1.2h-3.9zM733.5 290.1h1.3l-.5 1.2h-1.3zM747.8 290.1h10.4l-.5 1.2h-10.4zM535.4 288.9h1.3l.2 1.2h-1.3zM538 288.9h1.3l.2 1.2h-1.3zM617.6 288.9h3.9l0 1.2h-3.9zM628.1 288.9h3.9l-.1 1.2h-3.9zM719.5 288.9h2.6l-.4 1.2h-2.6zM749.5 288.9h10.5l-.5 1.2h-10.4zM536.5 287.8h5.2l.2 1.1h-5.2zM619 287.8h1.3l-.1 1.1h-1.3zM628.2 287.8h3.9l-.1 1.1h-3.9zM719.9 287.8h2.6l-.4 1.1h-2.6zM752.6 287.8h7.9l-.5 1.1h-7.8zM536.3 286.6h5.3l.1 1.2h-5.2zM546.8 286.6h1.3l.2 1.2h-1.3zM616.4 286.6h1.3l0 1.2h-1.3zM619 286.6h1.4l-.1 1.2h-1.3zM629.6 286.6h3.9l-.1 1.2h-3.9zM754.3 286.6h5.3l-.5 1.2h-5.2zM524.3 285.5h1.3l.2 1.1h-1.3zM536.1 285.5h13.2l.1 1.1h-13.1zM620.4 285.5h1.3l0 1.1h-1.3zM630.9 285.5h4l-.1 1.1h-3.9zM756.1 285.5h3.9l-.4 1.1h-4zM536 284.3h13.2l.1 1.2h-13.2zM631 284.3h4l-.1 1.2h-4zM719.5 284.3h1.3l-.3 1.2h-1.3zM757.7 284.3h4l-.4 1.2h-3.9zM535.8 283.1h13.3l.1 1.2h-13.2zM615.2 283.1h1.3l0 1.2h-1.3zM756.8 283.1h5.3l-.4 1.2h-5.3zM535.7 282h9.3l.1 1.1h-9.3zM547.6 282h2.7l.1 1.1h-2.7zM620.5 282h1.4l-.1 1.1h-1.3zM648.4 282h1.3l-.1 1.1h-1.3zM757.1 282h4l-.4 1.1h-3.9zM538.2 280.8h6.7l.1 1.2h-6.6zM547.5 280.8h2.7l.1 1.2h-2.7zM648.5 280.8h1.3l-.1 1.2h-1.3zM758.7 280.8h2.7l-.3 1.2h-2.7zM536.8 279.6h1.3l.1 1.2h-1.3zM539.5 279.6h9.3l.1 1.2h-9.3zM550.1 279.6h1.3l.1 1.2h-1.3zM648.6 279.6h2.6l-.1 1.2h-2.6zM534 278.5h1.3l.2 1.1h-1.4zM538 278.5h5.3l.1 1.1h-5.3zM546 278.5h1.3l.1 1.1h-1.3zM614 278.5h1.3l0 1.1h-1.3zM635.3 278.5h2.7l-.1 1.1h-2.6zM647.3 278.5h4l-.1 1.1h-4zM720.6 278.5h1.4l-.2 1.1h-1.4zM535.2 277.3h4l.1 1.2h-4zM541.9 277.3h5.4l0 1.2h-5.3zM555.3 277.3h1.3l.1 1.2h-1.4zM634 277.3h4.1l-.1 1.2h-4zM646.1 277.3h6.6l0 1.2h-6.7zM722.2 277.3h1.3l-.2 1.2h-1.3zM535.1 276.2h4.1l0 1.1h-4zM541.8 276.2h4l.1 1.1h-4zM553.9 276.2h2.6l.1 1.1h-2.7zM622.1 276.2h1.3l0 1.1h-1.4zM634.1 276.2h4l0 1.1h-4.1zM647.5 276.2h5.3l-.1 1.1h-5.3zM725 276.2h1.4l-.2 1.1h-1.4zM758.5 276.2h1.3l-.2 1.1h-1.4zM535 275h4.1l.1 1.2h-4.1zM540.4 275h1.3l.1 1.2h-1.3zM543.1 275h1.3l.1 1.2h-1.3zM553.8 275h1.3l.1 1.2h-1.3zM634.2 275h2.6l0 1.2h-2.7zM647.6 275h5.3l-.1 1.2h-5.3zM533.6 273.8h10.7l.1 1.2h-10.7zM552.4 273.8h1.3l.1 1.2h-1.4zM634.2 273.8h2.7l-.1 1.2h-2.6zM647.6 273.8h1.4l-.1 1.2h-1.3zM650.3 273.8h2.7l-.1 1.2h-2.7zM756.3 273.8h1.3l-.2 1.2h-1.3zM528.1 272.7h13.5l0 1.1h-13.4zM542.9 272.7h1.3l.1 1.1h-1.3zM551 272.7h1.3l.1 1.1h-1.4zM557.7 272.7h1.3l.1 1.1h-1.4zM634.3 272.7h2.6l0 1.1h-2.7zM639.6 272.7h1.4l-.1 1.1h-1.3zM731 272.7h1.3l-.2 1.1h-1.3zM749.8 272.7h1.4l-.3 1.1h-1.3zM525.3 271.5h8.1l.1 1.2h-8.1zM541.5 271.5h1.3l.1 1.2h-1.3zM548.2 271.5h1.3l.1 1.2h-1.3zM550.9 271.5h1.3l.1 1.2h-1.3zM557.6 271.5h1.4l0 1.2h-1.3zM634.3 271.5h2.7l-.1 1.2h-2.6zM639.7 271.5h2.7l-.1 1.2h-2.7zM647.8 271.5h1.3l-.1 1.2h-1.3zM651.8 271.5h2.7l-.1 1.2h-2.7zM732.5 271.5h1.4l-.2 1.2h-1.4zM751.4 271.5h1.3l-.2 1.2h-1.3zM754.1 271.5h1.3l-.2 1.2h-1.4zM525.2 270.3h5.4l.1 1.2h-5.4zM542.7 270.3h1.4l.1 1.2h-1.4zM550.8 270.3h1.4l0 1.2h-1.3zM557.6 270.3h1.3l.1 1.2h-1.4zM634.4 270.3h4l-.1 1.2h-4zM639.7 270.3h4.1l-.1 1.2h-4zM651.9 270.3h2.7l-.1 1.2h-2.7zM734.1 270.3h1.3l-.2 1.2h-1.3zM752.9 270.3h4.1l-.2 1.2h-4.1zM521.1 269.2h1.3l.1 1.1h-1.3zM523.8 269.2h2.7l.1 1.1h-2.7zM550.8 269.2h1.3l.1 1.1h-1.4zM557.5 269.2h1.4l0 1.1h-1.3zM612.8 269.2h1.4l-.1 1.1h-1.3zM631.7 269.2h10.8l-.1 1.1h-10.7zM650.6 269.2h4l0 1.1h-4.1zM738.3 269.2h1.3l-.1 1.1h-1.4zM753.1 269.2h2.7l-.2 1.1h-2.7zM516.9 268h1.4l.1 1.2h-1.4zM521 268h1.3l.1 1.2h-1.3zM523.7 268h1.3l.1 1.2h-1.3zM550.7 268h2.7l.1 1.2h-2.7zM627.7 268h14.8l0 1.2h-14.8zM652 268h2.7l-.1 1.2h-2.7zM739.8 268h4l-.1 1.2h-4.1zM746.5 268h1.4l-.2 1.2h-1.3zM520.9 266.9h1.4l0 1.1h-1.3zM523.6 266.9h2.7l.1 1.1h-2.7zM550.7 266.9h1.3l.1 1.1h-1.4zM625 266.9h1.4l-.1 1.1h-1.3zM627.7 266.9h13.5l0 1.1h-13.5zM642.6 266.9h1.3l0 1.1h-1.4zM652.1 266.9h1.3l-.1 1.1h-1.3zM741.3 266.9h4l-.1 1.1h-4.1zM746.7 266.9h1.3l-.1 1.1h-1.4zM520.8 265.7h2.7l.1 1.2h-2.7zM524.9 265.7h1.3l.1 1.2h-1.3zM530.3 265.7h2.7l.1 1.2h-2.7zM539.8 265.7h1.3l.1 1.2h-1.4zM549.3 265.7h2.7l0 1.2h-2.7zM558.7 265.7h1.4l0 1.2h-1.3zM614.2 265.7h1.4l-.1 1.2h-1.3zM619.6 265.7h2.7l0 1.2h-2.7zM625 265.7h19l-.1 1.2h-18.9zM742.8 265.7h2.7l-.2 1.2h-2.7zM753.6 265.7h1.3l-.1 1.2h-1.4zM520.8 264.5h2.7l0 1.2h-2.7zM549.2 264.5h2.7l.1 1.2h-2.7zM614.2 264.5h1.4l0 1.2h-1.4zM618.3 264.5h4l0 1.2h-4zM627.8 264.5h4l0 1.2h-4.1zM633.2 264.5h10.8l0 1.2h-10.8zM520.7 263.4h2.7l.1 1.1h-2.7zM549.2 263.4h1.3l.1 1.1h-1.4zM614.2 263.4h9.5l0 1.1h-9.5zM625.1 263.4h2.7l0 1.1h-2.7zM629.1 263.4h1.4l0 1.1h-1.4zM633.2 263.4h9.5l0 1.1h-9.5zM729.4 263.4h2.8l-.1 1.1h-2.8zM762 263.4h1.3l-.1 1.1h-1.3zM513.9 262.2h1.3l.1 1.2h-1.4zM517.9 262.2h1.4l0 1.2h-1.3zM520.6 262.2h1.4l.1 1.2h-1.4zM549.1 262.2h2.7l.1 1.2h-2.7zM614.2 262.2h2.8l-.1 1.2h-2.7zM618.3 262.2h1.4l0 1.2h-1.4zM621 262.2h10.9l0 1.2h-10.9zM633.2 262.2h9.5l0 1.2h-9.5zM726.8 262.2h5.5l-.1 1.2h-5.5zM735 262.2h2.7l-.1 1.2h-2.7zM759.4 262.2h2.7l-.1 1.2h-2.7zM515.2 261h1.3l.1 1.2h-1.4zM517.9 261h4.1l0 1.2h-4.1zM550.5 261h1.3l0 1.2h-1.3zM625.1 261h6.8l0 1.2h-6.8zM634.6 261h5.4l0 1.2h-5.4zM517.8 259.9h2.8l0 1.1h-2.7zM526 259.9h1.3l.1 1.1h-1.4zM550.4 259.9h2.7l.1 1.1h-2.7zM561.3 259.9h1.4l0 1.1h-1.4zM617 259.9h1.3l0 1.1h-1.3zM627.8 259.9h6.8l0 1.1h-6.8zM517.8 258.7h8.1l.1 1.2h-8.2zM549 258.7h4.1l0 1.2h-4zM561.3 258.7h1.3l.1 1.2h-1.4zM614.3 258.7h2.7l0 1.2h-2.7zM629.2 258.7h5.4l0 1.2h-5.4zM511 257.6h1.3l.1 1.1h-1.4zM517.8 257.6h5.4l0 1.1h-5.4zM549 257.6h4.1l0 1.1h-4.1zM555.8 257.6h1.4l0 1.1h-1.4zM559.9 257.6h1.4l0 1.1h-1.4zM612.9 257.6h4.1l0 1.1h-4.1zM627.9 257.6h6.8l-.1 1.1h-6.7zM763.8 257.6h1.4l-.1 1.1h-1.4zM510.9 256.4h1.4l0 1.2h-1.3zM516.4 256.4h5.4l0 1.2h-5.4zM546.3 256.4h6.8l0 1.2h-6.8zM554.4 256.4h4.1l0 1.2h-4zM614.3 256.4h2.7l0 1.2h-2.7zM629.2 256.4h6.8l0 1.2h-6.8zM513.6 255.2h6.8l0 1.2h-6.8zM547.6 255.2h4.1l0 1.2h-4.1zM614.3 255.2h1.3l0 1.2h-1.3zM629.2 255.2h8.2l0 1.2h-8.2zM642.8 255.2h1.4l0 1.2h-1.4zM513.6 254.1h5.4l.1 1.1h-5.5zM550.3 254.1h1.4l0 1.1h-1.4zM629.3 254.1h5.4l0 1.1h-5.5zM636.1 254.1h1.3l0 1.1h-1.4zM500 252.9h2.7l0 1.2h-2.7zM513.6 252.9h4.1l0 1.2h-4.1zM547.6 252.9h2.7l0 1.2h-2.7zM610.2 252.9h1.4l0 1.2h-1.4zM629.3 252.9h1.3l0 1.2h-1.3zM632 252.9h2.7l0 1.2h-2.7zM743.6 252.9h1.3l0 1.2h-1.4zM501.3 251.8h1.4l0 1.1h-1.4zM513.6 251.8h1.3l0 1.1h-1.3zM608.8 251.8h2.8l0 1.1h-2.8zM629.3 251.8h1.3l0 1.1h-1.3zM632 251.8h2.7l0 1.1h-2.7zM645.6 251.8h1.4l0 1.1h-1.4zM512.2 250.6h2.7l0 1.2h-2.7zM610.2 250.6h4.1l0 1.2h-4.1zM627.9 250.6h5.4l0 1.2h-5.4zM513.6 249.4h1.4l-.1 1.2h-1.3zM610.2 249.4h1.4l0 1.2h-1.4zM612.9 249.4h2.7l.1 1.2h-2.8zM617 249.4h1.4l0 1.2h-1.4zM627.9 249.4h2.7l0 1.2h-2.7zM515 248.3h1.3l0 1.1h-1.3zM610.2 248.3h1.4l0 1.1h-1.4zM612.9 248.3h4.1l0 1.1h-4.1zM618.4 248.3h1.3l0 1.1h-1.3zM621.1 248.3h2.7l0 1.1h-2.7zM626.5 248.3h4.1l0 1.1h-4.1zM610.2 247.1h1.4l0 1.2h-1.4zM612.9 247.1h10.9l0 1.2h-10.9zM626.5 247.1h4.1l0 1.2h-4.1zM649.6 247.1h1.4l0 1.2h-1.3zM606.1 245.9h4.1l0 1.2h-4.1zM614.3 245.9h8.1l0 1.2h-8.1zM625.1 245.9h5.5l0 1.2h-5.4zM631.9 245.9h1.4l0 1.2h-1.3zM651 245.9h1.3l.1 1.2h-1.4zM527.3 244.8h5.4l0 1.1h-5.4zM591.2 244.8h8.1l0 1.1h-8.1zM610.2 244.8h2.7l0 1.1h-2.7zM614.3 244.8h9.5l0 1.1h-9.5zM625.1 244.8h2.8l0 1.1h-2.8zM524.6 243.6h4.1l0 1.2h-4.1zM531.4 243.6h5.4l0 1.2h-5.4zM589.8 243.6h5.4l0 1.2h-5.4zM596.6 243.6h5.4l0 1.2h-5.4zM604.8 243.6h1.3l0 1.2h-1.3zM610.2 243.6h4.1l0 1.2h-4.1zM617 243.6h9.5l0 1.2h-9.5zM629.2 243.6h1.4l0 1.2h-1.4zM523.3 242.5h4.1l-.1 1.1h-4zM588.5 242.5h4l0 1.1h-4zM593.9 242.5h14.9l0 1.1h-14.9zM622.4 242.5h2.7l0 1.1h-2.7zM627.8 242.5h2.7l.1 1.1h-2.8zM686.2 242.5h2.7l.1 1.1h-2.8zM735.1 242.5h2.7l0 1.1h-2.7zM509.8 241.3h2.7l0 1.2h-2.8zM515.2 241.3h9.5l0 1.2h-9.5zM535.6 241.3h1.3l0 1.2h-1.4zM588.5 241.3h19l0 1.2h-19zM653.6 241.3h1.3l.1 1.2h-1.4zM686.1 241.3h2.7l.1 1.2h-2.7zM706.5 241.3h2.7l.1 1.2h-2.7zM736.3 241.3h1.4l.1 1.2h-1.4zM588.5 240.1h1.3l0 1.2h-1.3zM591.2 240.1h10.8l0 1.2h-10.8zM604.7 240.1h1.4l0 1.2h-1.4zM706.4 240.1h2.7l.1 1.2h-2.7zM713.2 240.1h1.3l.1 1.2h-1.3zM734.9 240.1h1.3l.1 1.2h-1.3zM508.6 239h1.3l0 1.1h-1.4zM533 239h1.3l0 1.1h-1.4zM595.3 239h2.7l0 1.1h-2.7zM681.9 239h1.4l.1 1.1h-1.4zM706.3 239h1.4l.1 1.1h-1.4zM713.1 239h2.7l.1 1.1h-2.7zM507.3 237.8h2.7l-.1 1.2h-2.7zM526.2 237.8h2.8l-.1 1.2h-2.7zM531.7 237.8h1.3l0 1.2h-1.4zM583.1 237.8h1.3l0 1.2h-1.3zM648 237.8h2.7l.1 1.2h-2.7zM685.9 237.8h1.4l.1 1.2h-1.4zM733.3 237.8h2.7l.1 1.2h-2.7zM506 236.6h2.7l0 1.2h-2.8zM520.9 236.6h4.1l-.1 1.2h-4.1zM653.4 236.6h2.7l.1 1.2h-2.7zM685.9 236.6h1.3l.1 1.2h-1.4zM707.5 236.6h1.3l.1 1.2h-1.3zM710.2 236.6h1.3l.1 1.2h-1.3zM506.1 235.5h1.4l-.1 1.1h-1.4zM647.9 235.5h1.4l0 1.1h-1.3zM707.4 235.5h1.3l.1 1.1h-1.3zM503.5 234.3h4.1l-.1 1.2h-4.1zM508.9 234.3h1.4l-.1 1.2h-1.4zM650.6 234.3h1.3l.1 1.2h-1.4zM501 233.2h9.4l-.1 1.1h-9.5zM580.5 233.2h1.3l0 1.1h-1.4zM645.1 233.2h1.4l0 1.1h-1.3zM716.5 233.2h1.4l.1 1.1h-1.3zM502.4 232h6.8l-.1 1.2h-6.8zM645.1 232h1.3l.1 1.2h-1.4zM654.5 232h1.3l.1 1.2h-1.3zM678.7 232h1.4l.1 1.2h-1.4zM493.2 230.8h1.3l-.1 1.2h-1.4zM501.2 230.8h4.1l-.2 1.2h-4zM645 230.8h1.4l0 1.2h-1.3zM702.8 230.8h2.7l.1 1.2h-2.7zM714.9 230.8h1.3l.2 1.2h-1.4zM729.7 230.8h1.3l.2 1.2h-1.4zM501.4 229.7h4l-.1 1.1h-4.1zM658.4 229.7h1.3l.1 1.1h-1.4zM701.3 229.7h2.7l.1 1.1h-2.7zM729.5 229.7h1.3l.2 1.1h-1.3zM497.5 228.5h8.1l-.2 1.2h-8zM701.1 228.5h2.7l.2 1.2h-2.7zM713.2 228.5h1.3l.2 1.2h-1.3zM729.3 228.5h1.3l.2 1.2h-1.3zM496.4 227.3h1.3l-.2 1.2h-1.3zM503 227.3h4.1l-.2 1.2h-4zM581.9 227.3h1.4l0 1.2h-1.4zM676.9 227.3h1.3l.2 1.2h-1.4zM699.6 227.3h2.7l.2 1.2h-2.7zM703.6 227.3h2.7l.2 1.2h-2.7zM713 227.3h1.3l.2 1.2h-1.3zM717 227.3h1.4l.1 1.2h-1.3zM503.2 226.2h4l-.1 1.1h-4.1zM639.4 226.2h1.3l.1 1.1h-1.3zM662.1 226.2h1.3l.1 1.1h-1.3zM676.8 226.2h1.3l.1 1.1h-1.3zM704.8 226.2h6.7l.2 1.1h-6.7zM504.7 225h2.7l-.2 1.2h-2.7zM698 225h2.6l.2 1.2h-2.7zM707.3 225h8l.2 1.2h-8zM716.6 225h1.4l.2 1.2h-1.4zM495.5 223.9h1.4l-.2 1.1h-1.3zM672.5 223.9h1.4l.1 1.1h-1.4zM697.8 223.9h1.3l.2 1.1h-1.3zM708.5 223.9h1.3l.2 1.1h-1.4zM713.8 223.9h6.6l.2 1.1h-6.6zM482.4 222.7h1.4l-.2 1.2h-1.4zM486.4 222.7h1.4l-.2 1.2h-1.4zM495.7 222.7h1.4l-.2 1.2h-1.4zM696.3 222.7h2.7l.1 1.2h-2.6zM720.2 222.7h1.3l.3 1.2h-1.4zM728.2 222.7h1.3l.2 1.2h-1.3zM482.7 221.5h1.3l-.2 1.2h-1.4zM495.9 221.5h1.4l-.2 1.2h-1.4zM670.9 221.5h1.4l.1 1.2h-1.3zM696.1 221.5h4l.2 1.2h-4zM706.7 221.5h1.4l.2 1.2h-1.4zM724 221.5h1.3l.2 1.2h-1.3zM727.9 221.5h1.4l.2 1.2h-1.3zM583.5 220.4h1.3l0 1.1h-1.4zM664.2 220.4h1.3l.1 1.1h-1.3zM666.8 220.4h1.3l.2 1.1h-1.3zM697.2 220.4h1.4l.2 1.1h-1.4zM725 220.4h1.3l.3 1.1h-1.3zM727.7 220.4h1.3l.3 1.1h-1.4zM480.5 219.2h1.4l-.3 1.2h-1.3zM514.9 219.2h1.3l-.2 1.2h-1.3zM653.5 219.2h1.3l.1 1.2h-1.3zM658.7 219.2h2.7l.1 1.2h-2.6zM698.3 219.2h1.4l.2 1.2h-1.3zM724.7 219.2h1.4l.2 1.2h-1.3zM483.5 218h1.3l-.3 1.2h-1.3zM512.4 218h1.3l-.2 1.2h-1.3zM515.1 218h1.3l-.2 1.2h-1.3zM652 218h1.3l.2 1.2h-1.4zM658.6 218h1.3l.2 1.2h-1.4zM692.8 218h2.7l.2 1.2h-2.6zM698.1 218h2.6l.3 1.2h-2.7zM702.1 218h1.3l.2 1.2h-1.3zM725.8 218h1.3l.3 1.2h-1.3zM481.1 216.9h1.3l-.3 1.1h-1.3zM636.1 216.9h1.3l.1 1.1h-1.3zM653.2 216.9h1.3l.2 1.1h-1.4zM692.6 216.9h9.2l.3 1.1h-9.3zM587.6 215.7h1.3l-.1 1.2h-1.3zM650.4 215.7h1.3l.2 1.2h-1.3zM691 215.7h10.5l.3 1.2h-10.5zM726.4 215.7h1.3l.4 1.2h-1.3zM480.5 214.6h2.6l-.3 1.1h-2.7zM509.2 214.6h4l-.3 1.1h-3.9zM588.9 214.6h1.3l0 1.1h-1.3zM651.6 214.6h1.3l.1 1.1h-1.3zM688.2 214.6h10.4l.3 1.1h-10.5zM724.7 214.6h2.6l.4 1.1h-2.6zM478.3 213.4h1.3l-.4 1.2h-1.3zM588.9 213.4h1.3l0 1.2h-1.3zM618.9 213.4h1.3l0 1.2h-1.3zM686.6 213.4h11.7l.3 1.2h-11.8zM723 213.4h3.9l.4 1.2h-3.9zM505.9 212.2h7.8l-.3 1.2h-7.8zM626.6 212.2h1.3l.1 1.2h-1.3zM631.8 212.2h1.3l.1 1.2h-1.3zM634.4 212.2h1.3l.1 1.2h-1.3zM686.3 212.2h2.6l.3 1.2h-2.6zM691.5 212.2h1.3l.3 1.2h-1.3zM701.9 212.2h5.2l.3 1.2h-5.2zM721.3 212.2h5.2l.4 1.2h-5.2zM735.6 212.2h1.3l.5 1.2h-1.3zM504.9 211.1h13l-.3 1.1h-13zM614.9 211.1h1.3l0 1.1h-1.3zM620 211.1h1.3l.1 1.1h-1.3zM687.3 211.1h9l.4 1.1h-9.1zM701.5 211.1h10.4l.4 1.1h-10.4zM719.6 211.1h6.5l.4 1.1h-6.5zM733.9 211.1h1.2l.5 1.1h-1.3zM505.3 209.9h14.2l-.3 1.2h-14.3zM635.4 209.9h1.3l.2 1.2h-1.3zM688.3 209.9h6.4l.4 1.2h-6.5zM696 209.9h1.3l.3 1.2h-1.3zM699.9 209.9h2.5l.4 1.2h-2.6zM706.3 209.9h6.5l.4 1.2h-6.5zM719.2 209.9h2.6l.4 1.2h-2.6zM737.2 209.9h1.3l.5 1.2h-1.3zM476.1 208.7h1.3l-.5 1.2h-1.3zM499.2 208.7h1.3l-.4 1.2h-1.3zM505.6 208.7h15.4l-.2 1.2h-15.5zM689.2 208.7h12.9l.3 1.2h-12.8zM705.9 208.7h7.7l.4 1.2h-7.7zM716.2 208.7h5.1l.5 1.2h-5.2zM722.6 208.7h1.3l.5 1.2h-1.3zM729 208.7h2.6l.5 1.2h-2.6zM735.4 208.7h5.2l.5 1.2h-5.2zM475.3 207.6h1.3l-.5 1.1h-1.3zM506 207.6h16.6l-.3 1.1h-16.7zM593 207.6h1.2l0 1.1h-1.3zM595.5 207.6h2.6l0 1.1h-2.6zM624.9 207.6h1.3l.1 1.1h-1.3zM633.9 207.6h1.3l.1 1.1h-1.3zM694 207.6h1.3l.3 1.1h-1.2zM696.6 207.6h1.2l.4 1.1h-1.3zM706.8 207.6h15.3l.5 1.1h-15.4zM728.5 207.6h3.9l.5 1.1h-3.9zM734.9 207.6h5.1l.6 1.1h-5.2zM506.4 206.4h1.3l-.4 1.2h-1.3zM510.2 206.4h11.5l-.3 1.2h-11.6zM594.3 206.4h1.2l0 1.2h-1.3zM599.4 206.4h1.2l0 1.2h-1.2zM628.7 206.4h1.2l.2 1.2h-1.3zM631.2 206.4h1.3l.1 1.2h-1.3zM702.5 206.4h1.3l.4 1.2h-1.3zM729.3 206.4h2.5l.6 1.2h-2.6zM739.5 206.4h1.2l.6 1.2h-1.3zM475.1 205.3h1.2l-.5 1.1h-1.3zM506.8 205.3h2.5l-.4 1.1h-2.5zM513.1 205.3h1.3l-.4 1.1h-1.2zM515.7 205.3h7.6l-.4 1.1h-7.6zM590.5 205.3h1.3l-.1 1.1h-1.3zM594.3 205.3h5.1l0 1.1h-5.1zM607 205.3h2.5l.1 1.1h-2.6zM613.3 205.3h1.3l0 1.1h-1.2zM627.3 205.3h1.2l.2 1.1h-1.3zM702.1 205.3h1.3l.4 1.1h-1.3zM721.1 205.3h1.3l.5 1.1h-1.3zM727.5 205.3h3.8l.5 1.1h-3.8zM507.2 204.1h1.2l-.4 1.2h-1.2zM509.7 204.1h1.3l-.4 1.2h-1.3zM512.2 204.1h2.6l-.4 1.2h-2.6zM516 204.1h2.5l-.3 1.2h-2.5zM519.8 204.1h3.8l-.3 1.2h-3.8zM593.1 204.1h5l0 1.2h-5.1zM620.8 204.1h2.6l.1 1.2h-2.6zM627.2 204.1h1.2l.1 1.2h-1.2zM725.6 204.1h3.8l.6 1.2h-3.8zM474.9 203h1.3l-.6 1.1h-1.2zM510.1 203h15.1l-.3 1.1h-15.2zM590.6 203h10l0 1.1h-10.1zM608.2 203h1.2l.1 1.1h-1.3zM615.7 203h1.3l0 1.1h-1.2zM622 203h1.3l.1 1.1h-1.3zM627 203h1.3l.1 1.1h-1.2zM722.6 203h1.2l.6 1.1h-1.3zM725.1 203h3.7l.6 1.1h-3.8zM509.3 201.8h6.3l-.5 1.2h-6.2zM516.8 201.8h5l-.4 1.2h-5zM590.6 201.8h2.5l0 1.2h-2.5zM594.4 201.8h6.2l0 1.2h-6.3zM609.4 201.8h1.2l.1 1.2h-1.3zM616.9 201.8h1.2l.1 1.2h-1.2zM619.4 201.8h3.7l.2 1.2h-3.8zM626.9 201.8h1.2l.2 1.2h-1.3zM638.2 201.8h1.2l.2 1.2h-1.3zM640.7 201.8h1.2l.2 1.2h-1.2zM719.5 201.8h1.2l.6 1.2h-1.3zM724.5 201.8h5l.6 1.2h-5zM508.5 200.6h13.7l-.4 1.2h-13.8zM525.9 200.6h1.3l-.4 1.2h-1.2zM591.9 200.6h10l0 1.2h-10zM613.1 200.6h3.7l.1 1.2h-3.8zM619.3 200.6h7.5l.1 1.2h-7.5zM628 200.6h1.3l.1 1.2h-1.3zM636.7 200.6h1.3l.2 1.2h-1.3zM639.2 200.6h2.5l.2 1.2h-2.5zM723.9 200.6h4.9l.7 1.2h-5zM509 199.5h3.7l-.5 1.1h-3.7zM513.9 199.5h1.3l-.5 1.1h-1.2zM523.8 199.5h3.8l-.4 1.1h-3.8zM592 199.5h8.6l0 1.1h-8.7zM601.9 199.5h1.2l0 1.1h-1.2zM608 199.5h1.3l0 1.1h-1.2zM611.8 199.5h3.7l.1 1.1h-3.8zM619.2 199.5h8.7l.1 1.1h-8.7zM632.8 199.5h2.5l.2 1.1h-2.5zM640.2 199.5h1.3l.2 1.1h-1.2zM723.2 199.5h6.2l.7 1.1h-6.2zM477.4 198.4h2.5l-.6 1.1h-2.5zM509.5 198.4h3.7l-.5 1.1h-3.7zM521.8 198.4h1.2l-.4 1.1h-1.2zM524.2 198.4h3.7l-.3 1.1h-3.8zM590.8 198.4h12.3l0 1.1h-12.4zM610.5 198.4h3.7l0 1.1h-3.7zM619.1 198.4h8.6l.2 1.1h-8.7zM722.6 198.4h7.3l.7 1.1h-7.4zM739.8 198.4h2.5l.7 1.1h-2.4zM478.1 197.2h1.2l-.6 1.2h-1.3zM503.8 197.2h2.5l-.5 1.2h-2.5zM510 197.2h2.4l-.5 1.2h-2.4zM521 197.2h1.2l-.4 1.2h-1.2zM524.7 197.2h3.6l-.4 1.2h-3.7zM535.7 197.2h1.2l-.3 1.2h-1.3zM598.2 197.2h9.8l0 1.2h-9.8zM609.2 197.2h3.7l0 1.2h-3.7zM615.3 197.2h3.7l.1 1.2h-3.7zM620.2 197.2h4.9l.2 1.2h-5zM626.3 197.2h1.3l.1 1.2h-1.2zM721.9 197.2h6.1l.7 1.2h-6.1zM730.5 197.2h2.4l.7 1.2h-2.4zM739 197.2h3.7l.8 1.2h-3.7zM478.8 196.1h2.4l-.6 1.1h-2.5zM503.2 196.1h3.6l-.5 1.1h-3.7zM508 196.1h4.9l-.5 1.1h-4.9zM523.9 196.1h6.1l-.4 1.1h-6.2zM598.2 196.1h9.7l.1 1.1h-9.8zM609.1 196.1h1.3l0 1.1h-1.2zM614 196.1h14.6l.2 1.1h-14.7zM632.3 196.1h1.2l.2 1.1h-1.2zM635.9 196.1h6.1l.3 1.1h-6.2zM673.7 196.1h2.4l.5 1.1h-2.5zM709 196.1h2.5l.6 1.1h-2.5zM723.6 196.1h2.5l.7 1.1h-2.5zM727.3 196.1h6.1l.7 1.1h-6.1zM479.5 194.9h1.2l-.7 1.2h-1.2zM498.9 194.9h14.5l-.5 1.2h-14.6zM524.3 194.9h6.1l-.4 1.2h-6.1zM598.2 194.9h2.4l0 1.2h-2.4zM604.2 194.9h13.4l.1 1.2h-13.4zM618.8 194.9h10.9l.1 1.2h-10.9zM632.1 194.9h2.4l.2 1.2h-2.4zM635.7 194.9h6.1l.2 1.2h-6.1zM653.9 194.9h2.4l.3 1.2h-2.4zM673.3 194.9h3.6l.4 1.2h-3.6zM695.1 194.9h2.4l.6 1.2h-2.5zM706 194.9h6l.7 1.2h-6.1zM722.9 194.9h10.9l.8 1.2h-11zM480.2 193.8h3.6l-.7 1.1h-3.6zM497.1 193.8h6l-.6 1.1h-6.1zM504.3 193.8h3.6l-.6 1.1h-3.6zM509.1 193.8h1.2l-.5 1.1h-1.2zM511.5 193.8h1.2l-.5 1.1h-1.2zM527.2 193.8h2.4l-.5 1.1h-2.4zM547.6 193.8h1.2l-.3 1.1h-1.2zM598.2 193.8h2.4l0 1.1h-2.4zM603 193.8h15.7l.1 1.1h-15.8zM619.9 193.8h14.4l.2 1.1h-14.5zM636.7 193.8h4.8l.3 1.1h-4.9zM642.7 193.8h1.2l.3 1.1h-1.2zM654.8 193.8h1.2l.3 1.1h-1.2zM664.4 193.8h1.2l.4 1.1h-1.2zM670.4 193.8h3.7l.4 1.1h-3.6zM681.3 193.8h1.2l.5 1.1h-1.2zM693.3 193.8h4.8l.6 1.1h-4.8zM705.4 193.8h2.4l.6 1.1h-2.4zM709 193.8h1.2l.6 1.1h-1.2zM715 193.8h1.2l.7 1.1h-1.2zM719.8 193.8h7.2l.8 1.1h-7.3zM729.4 193.8h3.7l.7 1.1h-3.6zM483.3 192.6h2.4l-.7 1.2h-2.4zM496.5 192.6h14.3l-.5 1.2h-14.5zM512 192.6h1.2l-.5 1.2h-1.2zM595.8 192.6h1.2l0 1.2h-1.2zM598.2 192.6h29.9l.2 1.2h-30.1zM629.3 192.6h3.6l.2 1.2h-3.6zM634.1 192.6h3.6l.2 1.2h-3.6zM638.9 192.6h6l.3 1.2h-6.1zM646.1 192.6h15.5l.4 1.2h-15.6zM662.8 192.6h4.8l.4 1.2h-4.8zM668.8 192.6h3.6l.4 1.2h-3.6zM680.8 192.6h2.4l.5 1.2h-2.4zM689.2 192.6h1.2l.5 1.2h-1.2zM691.6 192.6h8.3l.6 1.2h-8.4zM704.7 192.6h19.2l.7 1.2h-19.2zM485.2 191.5h3.6l-.7 1.1h-3.6zM497.1 191.5h14.3l-.6 1.1h-14.3zM512.6 191.5h2.4l-.6 1.1h-2.4zM595.8 191.5h28.6l.1 1.1h-28.7zM625.6 191.5h8.3l.2 1.1h-8.4zM636.3 191.5h1.2l.2 1.1h-1.2zM638.7 191.5h27.3l.4 1.1h-27.5zM667.2 191.5h1.2l.4 1.1h-1.2zM669.6 191.5h2.4l.4 1.1h-2.4zM674.3 191.5h20.3l.5 1.1h-20.3zM695.7 191.5h7.2l.6 1.1h-7.2zM704.1 191.5h7.1l.7 1.1h-7.2zM713.6 191.5h9.5l.8 1.1h-9.6zM487.1 190.4h2.4l-.7 1.1h-2.4zM496.6 190.4h20.1l-.6 1.1h-20.2zM600.6 190.4h15.4l.1 1.1h-15.5zM617.1 190.4h15.4l.2 1.1h-15.5zM637.2 190.4h1.2l.3 1.1h-1.2zM639.6 190.4h3.5l.3 1.1h-3.6zM644.3 190.4h2.4l.3 1.1h-2.4zM649 190.4h9.5l.4 1.1h-9.5zM659.7 190.4h5.9l.4 1.1h-5.9zM670.3 190.4h17.7l.6 1.1h-17.8zM689.2 190.4h3.6l.6 1.1h-3.6zM698.7 190.4h7.1l.7 1.1h-7.2zM716.4 190.4h4.7l.8 1.1h-4.7zM487.9 189.3h3.5l-.7 1.1h-3.6zM492.6 189.3h7l-.6 1.1h-7.1zM505.5 189.3h2.4l-.7 1.1h-2.3zM509 189.3h1.2l-.6 1.1h-1.2zM601.8 189.3h4.7l0 1.1h-4.7zM610 189.3h7l.1 1.1h-7.1zM620.5 189.3h5.9l.2 1.1h-5.9zM627.6 189.3h4.7l.2 1.1h-4.7zM637 189.3h1.1l.3 1.1h-1.2zM641.7 189.3h1.1l.3 1.1h-1.1zM648.7 189.3h3.5l.4 1.1h-3.6zM655.8 189.3h2.3l.4 1.1h-2.4zM659.3 189.3h2.3l.4 1.1h-2.3zM662.8 189.3h2.3l.5 1.1h-2.4zM671 189.3h1.2l.5 1.1h-1.2zM679.2 189.3h4.7l.6 1.1h-4.7zM688.6 189.3h1.2l.6 1.1h-1.2zM700.4 189.3h3.5l.7 1.1h-3.6zM716.8 189.3h1.2l.8 1.1h-1.2zM494.5 188.2h2.3l-.7 1.1h-2.3zM611.1 188.2h2.3l.1 1.1h-2.3zM628.6 188.2h3.5l.2 1.1h-3.5zM637.9 188.2h1.1l.3 1.1h-1.2zM667 188.2h1.2l.5 1.1h-1.2zM669.4 188.2h1.1l.5 1.1h-1.2zM678.7 188.2h1.1l.6 1.1h-1.2zM597.1 187h1.2l0 1.2h-1.2zM668.9 187h1.1l.5 1.2h-1.1zM593.7 185.9h1.1l0 1.1h-1.2zM596 185.9h2.3l0 1.1h-2.4zM510.5 181.6h1.1l-.8 1h-1.1z"/>
<path fill="#ff6600" stroke="#ff6600" stroke-width="0.3" d="M532.7 300.5h1.3l.3 1.2h-1.2zM529.3 297.1h1.3l.3 1.1h-1.3zM743.3 297.1h1.3l-.6 1.1h-1.3zM527.7 295.9h3.9l.3 1.2h-3.9zM742.6 295.9h2.5l-.5 1.2h-2.6zM526.2 294.8h6.4l.3 1.1h-6.4zM539 294.8h1.3l.2 1.1h-1.2zM743.1 294.8h2.6l-.6 1.1h-2.5zM525.9 293.6h1.3l.3 1.2h-1.3zM528.5 293.6h10.3l.2 1.2h-10.3zM621.3 293.6h1.3l-.1 1.2h-1.3zM739.8 293.6h1.3l-.5 1.2h-1.3zM742.4 293.6h2.6l-.6 1.2h-2.5zM525.6 292.4h2.6l.3 1.2h-2.6zM530.8 292.4h6.5l.2 1.2h-6.4zM621.3 292.4h6.5l-.1 1.2h-6.4zM723.5 292.4h3.9l-.5 1.2h-3.8zM739 292.4h2.6l-.5 1.2h-2.6zM742.9 292.4h2.6l-.5 1.2h-2.6zM525.4 291.3h3.9l.2 1.1h-3.9zM530.6 291.3h6.5l.2 1.1h-6.5zM621.4 291.3h7.8l-.1 1.1h-7.8zM722.6 291.3h7.8l-.4 1.1h-7.8zM738.2 291.3h9.1l-.5 1.1h-9.1zM525.1 290.1h9.2l.2 1.2h-9.1zM621.5 290.1h7.8l-.1 1.2h-7.8zM724.3 290.1h9.2l-.5 1.2h-9.1zM734.8 290.1h13l-.5 1.2h-13zM524.9 288.9h10.5l.2 1.2h-10.5zM536.7 288.9h1.3l.2 1.2h-1.3zM621.5 288.9h6.6l-.1 1.2h-6.5zM722.1 288.9h27.4l-.4 1.2h-27.4zM524.7 287.8h5.2l.2 1.1h-5.2zM531.2 287.8h5.3l.2 1.1h-5.3zM617.7 287.8h1.3l-.1 1.1h-1.3zM620.3 287.8h7.9l-.1 1.1h-7.9zM722.5 287.8h30.1l-.4 1.1h-30.1zM524.5 286.6h5.2l.2 1.2h-5.2zM533.7 286.6h2.6l.2 1.2h-2.6zM617.7 286.6h1.3l0 1.2h-1.3zM620.4 286.6h9.2l-.1 1.2h-9.2zM720.2 286.6h34.1l-.4 1.2h-34zM525.6 285.5h2.6l.2 1.1h-2.6zM530.9 285.5h5.2l.2 1.1h-5.3zM616.5 285.5h3.9l0 1.1h-4zM621.7 285.5h9.2l0 1.1h-9.2zM720.5 285.5h35.6l-.5 1.1h-35.4zM525.4 284.3h10.6l.1 1.2h-10.5zM616.5 284.3h14.5l-.1 1.2h-14.4zM720.8 284.3h36.9l-.3 1.2h-36.9zM525.2 283.1h1.4l.1 1.2h-1.3zM529.2 283.1h4l.1 1.2h-3.9zM534.5 283.1h1.3l.2 1.2h-1.3zM616.5 283.1h18.6l-.1 1.2h-18.5zM719.7 283.1h37.1l-.4 1.2h-36.9zM525.1 282h1.3l.2 1.1h-1.4zM530.4 282h5.3l.1 1.1h-5.3zM615.2 282h5.3l0 1.1h-5.3zM621.9 282h14.6l-.1 1.1h-14.6zM647.1 282h1.3l-.1 1.1h-1.3zM720 282h37.1l-.3 1.1h-37.1zM524.9 280.8h1.4l.1 1.2h-1.3zM527.6 280.8h10.6l.2 1.2h-10.7zM615.3 280.8h22.6l-.1 1.2h-22.6zM645.8 280.8h2.7l-.1 1.2h-2.7zM720.2 280.8h38.5l-.3 1.2h-38.4zM527.5 279.6h9.3l.1 1.2h-9.3zM538.1 279.6h1.4l.1 1.2h-1.4zM615.3 279.6h22.6l0 1.2h-22.6zM645.9 279.6h2.7l-.1 1.2h-2.7zM720.4 279.6h40l-.3 1.2h-39.9zM524.7 278.5h9.3l.1 1.1h-9.3zM535.3 278.5h2.7l.1 1.1h-2.6zM615.3 278.5h9.4l-.1 1.1h-9.3zM626 278.5h9.3l0 1.1h-9.4zM646 278.5h1.3l-.1 1.1h-1.3zM722 278.5h37.3l-.3 1.1h-37.2zM524.6 277.3h10.6l.1 1.2h-10.6zM614 277.3h20l0 1.2h-20zM723.5 277.3h25.4l-.3 1.2h-25.3zM750.2 277.3h9.4l-.3 1.2h-9.3zM524.4 276.2h2.7l.1 1.1h-2.6zM528.5 276.2h6.6l.1 1.1h-6.6zM614 276.2h8.1l-.1 1.1h-8zM623.4 276.2h10.7l-.1 1.1h-10.6zM726.4 276.2h32.1l-.3 1.1h-32zM524.3 275h10.7l.1 1.2h-10.7zM555.1 275h2.7l.1 1.2h-2.7zM612.7 275h1.4l-.1 1.2h-1.3zM615.4 275h1.3l0 1.2h-1.3zM620.8 275h13.4l-.1 1.2h-13.4zM729.3 275h28.1l-.3 1.2h-28zM524.2 273.8h9.4l.1 1.2h-9.4zM553.7 273.8h4l.1 1.2h-4zM620.8 273.8h13.4l0 1.2h-13.4zM730.8 273.8h25.5l-.2 1.2h-25.5zM522.7 272.7h5.4l.1 1.1h-5.3zM552.3 272.7h2.7l.1 1.1h-2.7zM618.1 272.7h1.4l0 1.1h-1.4zM620.8 272.7h13.5l-.1 1.1h-13.4zM732.3 272.7h17.5l-.2 1.1h-17.5zM751.2 272.7h5.3l-.2 1.1h-5.4zM521.3 271.5h4l.1 1.2h-4zM552.2 271.5h1.4l0 1.2h-1.3zM618.2 271.5h16.1l0 1.2h-16.2zM733.9 271.5h14.8l-.2 1.2h-14.8zM752.7 271.5h1.4l-.3 1.2h-1.3zM755.4 271.5h1.4l-.3 1.2h-1.3zM519.8 270.3h5.4l.1 1.2h-5.4zM552.2 270.3h2.7l0 1.2h-2.7zM612.8 270.3h1.3l0 1.2h-1.3zM616.8 270.3h17.6l-.1 1.2h-17.5zM735.4 270.3h12.1l-.2 1.2h-12.1zM518.4 269.2h2.7l.1 1.1h-2.7zM522.4 269.2h1.4l.1 1.1h-1.4zM552.1 269.2h2.7l.1 1.1h-2.7zM614.2 269.2h17.5l0 1.1h-17.6zM642.5 269.2h1.3l0 1.1h-1.4zM735.6 269.2h2.7l-.2 1.1h-2.7zM739.6 269.2h6.8l-.2 1.1h-6.7zM518.3 268h2.7l.1 1.2h-2.7zM522.3 268h1.4l.1 1.2h-1.4zM553.4 268h2.7l.1 1.2h-2.7zM557.5 268h1.3l.1 1.2h-1.4zM614.2 268h13.5l0 1.2h-13.5zM642.5 268h1.4l-.1 1.2h-1.3zM743.8 268h2.7l-.1 1.2h-2.7zM753.3 268h1.3l-.1 1.2h-1.4zM516.9 266.9h4l.1 1.1h-4.1zM522.3 266.9h1.3l.1 1.1h-1.4zM552 266.9h4.1l0 1.1h-4zM557.4 266.9h1.4l0 1.1h-1.3zM614.2 266.9h10.8l0 1.1h-10.8zM626.4 266.9h1.3l0 1.1h-1.4zM641.2 266.9h1.4l-.1 1.1h-1.3zM745.3 266.9h1.4l-.2 1.1h-1.3zM753.4 266.9h1.4l-.2 1.1h-1.3zM516.8 265.7h4l.1 1.2h-4zM552 265.7h2.7l0 1.2h-2.7zM556 265.7h2.7l.1 1.2h-2.7zM615.6 265.7h4l0 1.2h-4.1zM622.3 265.7h2.7l0 1.2h-2.7zM515.3 264.5h5.5l0 1.2h-5.4zM551.9 264.5h1.4l0 1.2h-1.3zM554.6 264.5h5.4l.1 1.2h-5.4zM615.6 264.5h2.7l0 1.2h-2.7zM622.3 264.5h5.5l-.1 1.2h-5.4zM631.8 264.5h1.4l0 1.2h-1.4zM515.3 263.4h5.4l.1 1.1h-5.5zM550.5 263.4h4.1l0 1.1h-4zM555.9 263.4h5.5l0 1.1h-5.4zM623.7 263.4h1.4l0 1.1h-1.4zM627.8 263.4h1.3l0 1.1h-1.3zM630.5 263.4h2.7l0 1.1h-2.7zM732.2 263.4h2.7l-.1 1.1h-2.7zM760.6 263.4h1.4l-.1 1.1h-1.4zM515.2 262.2h2.7l.1 1.2h-2.7zM519.3 262.2h1.3l.1 1.2h-1.4zM551.8 262.2h6.8l.1 1.2h-6.8zM560 262.2h2.7l0 1.2h-2.7zM631.9 262.2h1.3l0 1.2h-1.3zM732.3 262.2h2.7l-.1 1.2h-2.7zM513.8 261h1.4l0 1.2h-1.3zM516.5 261h1.4l0 1.2h-1.3zM551.8 261h6.8l0 1.2h-6.8zM560 261h2.7l0 1.2h-2.7zM631.9 261h2.7l0 1.2h-2.7zM640 261h2.8l-.1 1.2h-2.7zM513.8 259.9h4l.1 1.1h-4.1zM553.1 259.9h8.2l0 1.1h-8.1zM634.6 259.9h8.2l0 1.1h-8.2zM512.4 258.7h5.4l0 1.2h-5.4zM553.1 258.7h8.2l0 1.2h-8.2zM634.6 258.7h5.5l0 1.2h-5.5zM641.4 258.7h1.4l0 1.2h-1.4zM512.3 257.6h5.5l0 1.1h-5.4zM553.1 257.6h2.7l0 1.1h-2.7zM557.2 257.6h2.7l0 1.1h-2.7zM634.7 257.6h8.1l0 1.1h-8.2zM512.3 256.4h4.1l0 1.2h-4.1zM553.1 256.4h1.3l.1 1.2h-1.4zM636 256.4h6.8l0 1.2h-6.8zM512.3 255.2h1.3l0 1.2h-1.3zM551.7 255.2h5.5l0 1.2h-5.5zM637.4 255.2h5.4l0 1.2h-5.4zM512.2 254.1h1.4l0 1.1h-1.3zM637.4 254.1h6.8l0 1.1h-6.8zM512.2 252.9h1.4l0 1.2h-1.4zM630.6 252.9h1.4l0 1.2h-1.4zM637.4 252.9h4.1l0 1.2h-4.1zM642.9 252.9h2.7l0 1.2h-2.7zM512.2 251.8h1.4l0 1.1h-1.4zM630.6 251.8h1.4l0 1.1h-1.4zM637.4 251.8h1.4l0 1.1h-1.4zM644.2 251.8h1.4l0 1.1h-1.4zM633.3 250.6h6.8l.1 1.2h-6.9zM644.2 250.6h2.8l0 1.2h-2.8zM611.6 249.4h1.3l0 1.2h-1.3zM630.6 249.4h9.5l0 1.2h-9.5zM644.2 249.4h4.1l0 1.2h-4.1zM611.6 248.3h1.3l0 1.1h-1.3zM630.6 248.3h9.5l0 1.1h-9.5zM644.2 248.3h5.5l0 1.1h-5.5zM611.6 247.1h1.3l0 1.2h-1.3zM630.6 247.1h9.5l0 1.2h-9.5zM646.9 247.1h2.7l.1 1.2h-2.8zM610.2 245.9h4.1l0 1.2h-4.1zM630.6 245.9h1.3l.1 1.2h-1.4zM633.3 245.9h6.8l0 1.2h-6.8zM648.3 245.9h2.7l0 1.2h-2.7zM606.1 244.8h4.1l0 1.1h-4.1zM612.9 244.8h1.4l0 1.1h-1.4zM627.9 244.8h10.8l0 1.1h-10.8zM648.2 244.8h4.1l0 1.1h-4zM528.7 243.6h2.7l0 1.2h-2.7zM606.1 243.6h4.1l0 1.2h-4.1zM614.3 243.6h2.7l0 1.2h-2.7zM626.5 243.6h2.7l0 1.2h-2.7zM630.6 243.6h6.7l.1 1.2h-6.8zM638.7 243.6h1.4l0 1.2h-1.4zM649.6 243.6h4l.1 1.2h-4.1zM527.4 242.5h9.5l-.1 1.1h-9.5zM587.1 242.5h1.4l0 1.1h-1.4zM608.8 242.5h13.6l0 1.1h-13.6zM625.1 242.5h2.7l0 1.1h-2.7zM630.5 242.5h5.5l0 1.1h-5.4zM637.3 242.5h1.4l0 1.1h-1.4zM650.9 242.5h2.7l0 1.1h-2.7zM524.7 241.3h9.5l0 1.2h-9.5zM585.8 241.3h2.7l0 1.2h-2.8zM607.5 241.3h4l0 1.2h-4zM614.2 241.3h20.4l0 1.2h-20.3zM637.3 241.3h1.4l0 1.2h-1.4zM518 240.1h6.8l-.1 1.2h-6.8zM585.8 240.1h2.7l0 1.2h-2.7zM589.8 240.1h1.4l0 1.2h-1.4zM602 240.1h2.7l0 1.2h-2.7zM606.1 240.1h2.7l0 1.2h-2.7zM610.2 240.1h1.3l0 1.2h-1.3zM616.9 240.1h6.8l0 1.2h-6.7zM625.1 240.1h1.3l.1 1.2h-1.4zM627.8 240.1h6.8l0 1.2h-6.8zM653.5 240.1h1.4l0 1.2h-1.3zM683.4 240.1h1.3l.1 1.2h-1.4zM518.1 239h8.1l-.1 1.1h-8.1zM584.4 239h10.9l0 1.1h-10.9zM598 239h10.8l0 1.1h-10.8zM610.2 239h1.3l0 1.1h-1.3zM618.3 239h4l.1 1.1h-4.1zM626.4 239h1.4l0 1.1h-1.4zM629.1 239h5.4l.1 1.1h-5.5zM652.1 239h2.8l0 1.1h-2.7zM683.3 239h2.7l.1 1.1h-2.7zM518.1 237.8h6.8l-.1 1.2h-6.7zM584.4 237.8h17.6l0 1.2h-17.6zM610.1 237.8h2.8l0 1.2h-2.7zM629.1 237.8h6.8l0 1.2h-6.8zM652.1 237.8h2.7l.1 1.2h-2.8zM681.9 237.8h4l.1 1.2h-4.1zM706.2 237.8h1.4l.1 1.2h-1.4zM711.6 237.8h5.5l.1 1.2h-5.5zM583.1 236.6h8.1l0 1.2h-8.1zM593.9 236.6h5.4l0 1.2h-5.4zM630.4 236.6h4.1l0 1.2h-4.1zM681.8 236.6h4.1l0 1.2h-4zM706.1 236.6h1.4l.1 1.2h-1.4zM711.5 236.6h6.8l.1 1.2h-6.8zM581.8 235.5h10.8l0 1.1h-10.9zM595.3 235.5h1.3l0 1.1h-1.3zM612.8 235.5h1.4l0 1.1h-1.4zM630.4 235.5h2.7l0 1.1h-2.7zM646.6 235.5h1.3l.1 1.1h-1.4zM680.4 235.5h1.3l.1 1.1h-1.4zM685.8 235.5h1.3l.1 1.1h-1.3zM706 235.5h1.4l.1 1.1h-1.4zM708.7 235.5h1.4l.1 1.1h-1.4zM712.8 235.5h5.4l.1 1.1h-5.4zM581.8 234.3h9.4l0 1.2h-9.4zM604.7 234.3h1.4l0 1.2h-1.4zM612.8 234.3h1.4l0 1.2h-1.4zM631.7 234.3h1.4l0 1.2h-1.4zM649.2 234.3h1.4l0 1.2h-1.3zM680.3 234.3h1.3l.1 1.2h-1.3zM685.7 234.3h1.3l.1 1.2h-1.3zM705.9 234.3h4l.2 1.2h-4.1zM712.6 234.3h5.4l.2 1.2h-5.4zM583.2 233.2h2.7l-.1 1.1h-2.7zM587.2 233.2h4l0 1.1h-4zM604.7 233.2h4.1l0 1.1h-4.1zM611.5 233.2h2.6l.1 1.1h-2.7zM615.5 233.2h1.3l.1 1.1h-1.4zM623.6 233.2h2.7l0 1.1h-2.7zM642.4 233.2h1.4l0 1.1h-1.3zM649.2 233.2h4l.1 1.1h-4.1zM685.6 233.2h1.3l.1 1.1h-1.3zM705.8 233.2h5.4l.1 1.1h-5.4zM712.5 233.2h4l.2 1.1h-4.1zM499.8 232h2.6l-.1 1.2h-2.7zM604.7 232h5.4l0 1.2h-5.4zM611.4 232h2.7l0 1.2h-2.6zM639.7 232h2.7l0 1.2h-2.7zM649.1 232h1.4l0 1.2h-1.3zM653.1 232h1.4l.1 1.2h-1.4zM705.6 232h10.8l.1 1.2h-10.7zM495.9 230.8h5.3l-.1 1.2h-5.4zM581.9 230.8h1.3l0 1.2h-1.4zM606 230.8h9.5l0 1.2h-9.4zM620.8 230.8h4.1l0 1.2h-4zM647.7 230.8h2.7l.1 1.2h-2.7zM654.4 230.8h2.7l.1 1.2h-2.7zM684 230.8h4l.1 1.2h-4zM701.4 230.8h1.4l.1 1.2h-1.3zM705.5 230.8h9.4l.1 1.2h-9.4zM497.4 229.7h4l-.2 1.1h-4zM581.9 229.7h1.3l0 1.1h-1.3zM598 229.7h1.3l0 1.1h-1.3zM604.7 229.7h2.7l0 1.1h-2.7zM611.4 229.7h5.4l0 1.1h-5.4zM618.1 229.7h1.4l0 1.1h-1.4zM620.8 229.7h4l.1 1.1h-4.1zM626.2 229.7h1.3l0 1.1h-1.3zM640.9 229.7h1.4l0 1.1h-1.3zM644.9 229.7h6.8l0 1.1h-6.7zM654.3 229.7h1.4l.1 1.1h-1.4zM704 229.7h10.7l.2 1.1h-10.8zM489.5 228.5h1.3l-.1 1.2h-1.4zM524.3 228.5h5.4l-.1 1.2h-5.4zM581.9 228.5h1.4l-.1 1.2h-1.3zM596.7 228.5h5.3l0 1.2h-5.4zM606 228.5h1.4l0 1.2h-1.4zM608.7 228.5h1.3l.1 1.2h-1.4zM611.4 228.5h4l0 1.2h-4zM619.4 228.5h4l.1 1.2h-4zM624.8 228.5h1.3l.1 1.2h-1.4zM630.1 228.5h1.4l0 1.2h-1.3zM643.5 228.5h1.4l0 1.2h-1.3zM646.2 228.5h4l.1 1.2h-4zM655.6 228.5h1.3l.1 1.2h-1.3zM659.6 228.5h1.3l.1 1.2h-1.3zM689.1 228.5h1.3l.2 1.2h-1.4zM703.8 228.5h9.4l.2 1.2h-9.4zM524.4 227.3h1.4l-.1 1.2h-1.4zM595.3 227.3h5.4l0 1.2h-5.4zM610 227.3h1.4l0 1.2h-1.4zM614 227.3h1.4l0 1.2h-1.3zM619.4 227.3h5.3l.1 1.2h-5.4zM639.5 227.3h1.3l.1 1.2h-1.4zM660.8 227.3h1.4l.1 1.2h-1.4zM688.9 227.3h2.7l.2 1.2h-2.7zM706.3 227.3h6.7l.2 1.2h-6.7zM582 226.2h1.3l0 1.1h-1.4zM594 226.2h8l0 1.1h-8zM616.7 226.2h1.3l.1 1.1h-1.4zM619.4 226.2h9.3l.1 1.1h-9.4zM631.4 226.2h1.3l.1 1.1h-1.4zM642.1 226.2h1.3l.1 1.1h-1.4zM691.5 226.2h1.3l.1 1.1h-1.3zM711.5 226.2h2.7l.1 1.1h-2.6zM495.4 225h1.3l-.2 1.2h-1.3zM592.7 225h12l0 1.2h-12zM616.7 225h12l0 1.2h-12zM644.7 225h1.3l.1 1.2h-1.4zM674 225h1.3l.1 1.2h-1.3zM690 225h2.6l.2 1.2h-2.7zM510.2 223.9h2.6l-.1 1.1h-2.7zM582 223.9h1.4l-.1 1.1h-1.3zM592.7 223.9h1.3l0 1.1h-1.3zM598 223.9h1.3l0 1.1h-1.3zM600.7 223.9h5.3l0 1.1h-5.3zM618 223.9h9.3l0 1.1h-9.3zM628.6 223.9h1.3l.1 1.1h-1.3zM637.9 223.9h1.4l0 1.1h-1.3zM647.2 223.9h1.4l.1 1.1h-1.4zM689.8 223.9h5.3l.2 1.1h-5.3zM511.7 222.7h4l-.2 1.2h-4zM582.1 222.7h1.3l0 1.2h-1.4zM590 222.7h1.4l0 1.2h-1.4zM600.7 222.7h3.9l.1 1.2h-4zM617.9 222.7h8l0 1.2h-7.9zM629.9 222.7h2.6l.1 1.2h-2.7zM640.5 222.7h2.7l0 1.2h-2.6zM645.8 222.7h1.4l0 1.2h-1.3zM649.8 222.7h1.3l.1 1.2h-1.3zM672.4 222.7h1.3l.2 1.2h-1.4zM688.3 222.7h8l.2 1.2h-8zM481.3 221.5h1.4l-.3 1.2h-1.3zM488 221.5h1.3l-.2 1.2h-1.3zM594 221.5h9.3l0 1.2h-9.3zM617.9 221.5h8l0 1.2h-8zM628.5 221.5h6.6l.1 1.2h-6.6zM636.5 221.5h1.3l.1 1.2h-1.4zM644.4 221.5h2.7l.1 1.2h-2.7zM656.3 221.5h1.4l.1 1.2h-1.3zM660.3 221.5h1.3l.2 1.2h-1.4zM674.9 221.5h1.3l.2 1.2h-1.3zM688.2 221.5h7.9l.2 1.2h-8zM488.2 220.4h1.3l-.2 1.1h-1.3zM496.1 220.4h1.4l-.2 1.1h-1.4zM592.7 220.4h8l0 1.1h-8zM619.2 220.4h5.3l0 1.1h-5.3zM625.8 220.4h11.9l.1 1.1h-11.9zM639 220.4h1.4l0 1.1h-1.3zM657.6 220.4h1.3l.1 1.1h-1.3zM665.5 220.4h1.3l.2 1.1h-1.4zM672.1 220.4h1.3l.2 1.1h-1.3zM676.1 220.4h1.3l.2 1.1h-1.4zM688 220.4h9.2l.2 1.1h-9.2zM481.9 219.2h1.3l-.3 1.2h-1.3zM484.5 219.2h1.3l-.2 1.2h-1.4zM496.4 219.2h1.3l-.2 1.2h-1.4zM513.5 219.2h1.4l-.2 1.2h-1.4zM592.7 219.2h5.3l0 1.2h-5.3zM599.3 219.2h2.7l0 1.2h-2.7zM619.1 219.2h2.7l0 1.2h-2.6zM625.7 219.2h6.6l.1 1.2h-6.6zM677.2 219.2h1.3l.2 1.2h-1.3zM689.1 219.2h9.2l.3 1.2h-9.3zM480.8 218h1.3l-.2 1.2h-1.4zM490 218h1.4l-.3 1.2h-1.3zM495.3 218h2.6l-.2 1.2h-2.6zM513.7 218h1.4l-.2 1.2h-1.4zM584.9 218h1.3l-.1 1.2h-1.3zM592.8 218h3.9l0 1.2h-4zM619.1 218h2.6l.1 1.2h-2.7zM625.7 218h9.2l.1 1.2h-9.3zM656 218h2.6l.1 1.2h-2.6zM671.8 218h2.6l.2 1.2h-2.7zM688.9 218h3.9l.3 1.2h-4zM695.5 218h2.6l.2 1.2h-2.6zM479.8 216.9h1.3l-.3 1.1h-1.3zM494.3 216.9h3.9l-.3 1.1h-3.9zM512.7 216.9h2.6l-.2 1.1h-2.7zM592.8 216.9h3.9l0 1.1h-3.9zM616.4 216.9h1.3l.1 1.1h-1.3zM629.6 216.9h6.5l.1 1.1h-6.6zM687.3 216.9h5.3l.2 1.1h-5.2zM480.1 215.7h1.4l-.4 1.2h-1.3zM482.8 215.7h2.6l-.3 1.2h-2.7zM488 215.7h1.3l-.3 1.2h-1.3zM494.6 215.7h5.2l-.3 1.2h-5.2zM512.9 215.7h1.3l-.2 1.2h-1.3zM591.5 215.7h3.9l0 1.2h-3.9zM599.3 215.7h1.4l0 1.2h-1.4zM615.1 215.7h1.3l0 1.2h-1.3zM622.9 215.7h1.3l.1 1.2h-1.3zM629.5 215.7h6.5l.1 1.2h-6.5zM679.2 215.7h2.7l.2 1.2h-2.6zM683.2 215.7h1.3l.2 1.2h-1.3zM685.8 215.7h5.2l.3 1.2h-5.3zM479.2 214.6h1.3l-.4 1.1h-1.3zM483.1 214.6h2.6l-.3 1.1h-2.6zM496.2 214.6h10.4l-.3 1.1h-10.4zM513.2 214.6h2.6l-.3 1.1h-2.6zM592.8 214.6h2.6l0 1.1h-2.6zM607.2 214.6h2.6l0 1.1h-2.6zM616.3 214.6h1.3l.1 1.1h-1.3zM624.2 214.6h1.3l0 1.1h-1.3zM630.7 214.6h5.2l.1 1.1h-5.2zM645.1 214.6h1.3l.1 1.1h-1.3zM682.9 214.6h5.3l.2 1.1h-5.2zM482.2 213.4h3.9l-.4 1.2h-3.9zM497.8 213.4h18.2l-.2 1.2h-18.3zM592.8 213.4h2.6l0 1.2h-2.6zM615 213.4h1.3l0 1.2h-1.3zM617.6 213.4h1.3l0 1.2h-1.3zM629.3 213.4h5.2l.1 1.2h-5.2zM682.7 213.4h3.9l.2 1.2h-3.9zM481.3 212.2h3.9l-.4 1.2h-3.9zM498.1 212.2h7.8l-.3 1.2h-7.8zM513.7 212.2h2.6l-.3 1.2h-2.6zM592.9 212.2h3.9l-.1 1.2h-3.9zM620.1 212.2h1.3l.1 1.2h-1.3zM625.3 212.2h1.3l.1 1.2h-1.3zM652.6 212.2h1.3l.1 1.2h-1.3zM685 212.2h1.3l.3 1.2h-1.3zM481.7 211.1h2.6l-.4 1.1h-2.6zM494.6 211.1h2.6l-.4 1.1h-2.6zM498.5 211.1h6.4l-.3 1.1h-6.5zM591.6 211.1h3.9l0 1.1h-3.9zM599.4 211.1h1.2l0 1.1h-1.2zM622.6 211.1h1.3l.1 1.1h-1.3zM635.6 211.1h1.3l.1 1.1h-1.3zM653.7 211.1h1.3l.2 1.1h-1.3zM661.4 211.1h2.6l.2 1.1h-2.6zM684.7 211.1h2.6l.3 1.1h-2.6zM735.1 211.1h1.3l.5 1.1h-1.3zM478.2 209.9h2.6l-.4 1.2h-2.6zM492.4 209.9h1.3l-.4 1.2h-1.3zM495 209.9h10.3l-.4 1.2h-10.3zM591.6 209.9h5.2l0 1.2h-5.2zM607.1 209.9h1.3l0 1.2h-1.3zM611 209.9h1.2l.1 1.2h-1.3zM649.6 209.9h1.3l.2 1.2h-1.3zM652.2 209.9h1.3l.2 1.2h-1.3zM672.8 209.9h1.3l.3 1.2h-1.3zM678 209.9h2.5l.3 1.2h-2.6zM687 209.9h1.3l.3 1.2h-1.3zM702.4 209.9h3.9l.4 1.2h-3.9zM721.8 209.9h2.6l.4 1.2h-2.6zM734.7 209.9h2.5l.5 1.2h-2.6zM477.4 208.7h2.6l-.5 1.2h-2.6zM495.4 208.7h3.8l-.4 1.2h-3.8zM500.5 208.7h5.1l-.3 1.2h-5.2zM592.9 208.7h6.5l0 1.2h-6.5zM649.4 208.7h2.6l.2 1.2h-2.6zM672.5 208.7h7.7l.3 1.2h-7.7zM686.7 208.7h2.5l.4 1.2h-2.6zM702.1 208.7h3.8l.4 1.2h-3.9zM721.3 208.7h1.3l.5 1.2h-1.3zM476.6 207.6h2.6l-.5 1.1h-2.6zM485.5 207.6h1.3l-.4 1.1h-1.3zM498.3 207.6h7.7l-.4 1.1h-7.7zM594.2 207.6h1.3l0 1.1h-1.3zM598.1 207.6h12.8l0 1.1h-12.8zM673.5 207.6h3.9l.3 1.1h-3.9zM686.3 207.6h7.7l.4 1.1h-7.7zM695.3 207.6h1.3l.3 1.1h-1.3zM697.8 207.6h9l.4 1.1h-9zM475.8 206.4h1.3l-.5 1.2h-1.3zM497.5 206.4h8.9l-.4 1.2h-8.9zM507.7 206.4h2.5l-.4 1.2h-2.5zM521.7 206.4h1.2l-.3 1.2h-1.2zM600.6 206.4h10.2l.1 1.2h-10.3zM632.5 206.4h2.5l.2 1.2h-2.6zM673.2 206.4h3.9l.3 1.2h-3.9zM684.7 206.4h1.3l.3 1.2h-1.3zM691.1 206.4h11.4l.4 1.2h-11.5zM703.8 206.4h19.1l.5 1.2h-19.2zM497.9 205.3h8.9l-.4 1.1h-8.9zM509.3 205.3h3.8l-.3 1.1h-3.9zM514.4 205.3h1.3l-.4 1.1h-1.3zM591.8 205.3h2.5l0 1.1h-2.6zM609.5 205.3h1.3l0 1.1h-1.2zM614.6 205.3h1.3l0 1.1h-1.3zM622.2 205.3h1.3l.1 1.1h-1.3zM628.5 205.3h6.4l.1 1.1h-6.3zM643.8 205.3h1.2l.2 1.1h-1.3zM655.2 205.3h3.8l.2 1.1h-3.8zM671.7 205.3h5l.4 1.1h-5.1zM694.5 205.3h2.5l.4 1.1h-2.5zM699.6 205.3h2.5l.4 1.1h-2.5zM703.4 205.3h17.7l.5 1.1h-17.8zM722.4 205.3h1.3l.5 1.1h-1.3zM475.6 204.1h1.3l-.6 1.2h-1.2zM489.5 204.1h1.3l-.5 1.2h-1.3zM498.3 204.1h8.9l-.4 1.2h-8.9zM508.4 204.1h1.3l-.4 1.2h-1.3zM511 204.1h1.2l-.4 1.2h-1.2zM514.8 204.1h1.2l-.3 1.2h-1.3zM518.5 204.1h1.3l-.3 1.2h-1.3zM590.5 204.1h2.6l-.1 1.2h-2.5zM598.1 204.1h1.3l0 1.2h-1.3zM628.4 204.1h5.1l.1 1.2h-5.1zM639.8 204.1h1.2l.2 1.2h-1.2zM642.3 204.1h3.8l.2 1.2h-3.8zM654.9 204.1h2.6l.2 1.2h-2.5zM670.1 204.1h6.3l.3 1.2h-6.3zM696.6 204.1h1.3l.4 1.2h-1.3zM700.4 204.1h6.3l.5 1.2h-6.4zM708 204.1h7.5l.6 1.2h-7.7zM716.8 204.1h2.5l.6 1.2h-2.6zM476.2 203h3.8l-.6 1.1h-3.8zM498.8 203h1.3l-.5 1.1h-1.3zM501.3 203h8.8l-.4 1.1h-8.8zM620.7 203h1.3l.1 1.1h-1.3zM628.3 203h5l.2 1.1h-5.1zM637.1 203h10l.3 1.1h-10.1zM654.7 203h1.2l.3 1.1h-1.3zM669.8 203h8.8l.3 1.1h-8.8zM693.6 203h1.3l.4 1.1h-1.2zM699.9 203h2.5l.5 1.1h-2.5zM710 203h8.8l.5 1.1h-8.8zM475.5 201.8h1.3l-.6 1.2h-1.3zM479.3 201.8h1.2l-.5 1.2h-1.3zM485.5 201.8h1.3l-.6 1.2h-1.2zM499.3 201.8h10l-.4 1.2h-10.1zM521.8 201.8h3.8l-.4 1.2h-3.8zM593.1 201.8h1.3l-.1 1.2h-1.2zM608.1 201.8h1.3l0 1.2h-1.2zM615.6 201.8h1.3l.1 1.2h-1.3zM628.1 201.8h6.3l.2 1.2h-6.3zM635.7 201.8h2.5l.1 1.2h-2.5zM639.4 201.8h1.3l.2 1.2h-1.3zM641.9 201.8h7.5l.3 1.2h-7.6zM653.2 201.8h2.5l.2 1.2h-2.5zM658.2 201.8h2.5l.3 1.2h-2.5zM670.7 201.8h8.7l.4 1.2h-8.8zM710.7 201.8h8.8l.5 1.2h-8.8zM722 201.8h2.5l.6 1.2h-2.5zM476.1 200.6h6.3l-.6 1.2h-6.3zM484.9 200.6h1.2l-.6 1.2h-1.2zM499.8 200.6h8.7l-.5 1.2h-8.7zM522.2 200.6h3.7l-.3 1.2h-3.8zM608.1 200.6h1.2l.1 1.2h-1.3zM629.3 200.6h7.4l.2 1.2h-7.5zM641.7 200.6h6.2l.3 1.2h-6.3zM654.1 200.6h1.3l.3 1.2h-1.3zM657.9 200.6h2.5l.3 1.2h-2.5zM671.6 200.6h8.7l.4 1.2h-8.8zM711.4 200.6h12.5l.6 1.2h-12.5zM476.8 199.5h3.7l-.6 1.1h-3.8zM485.5 199.5h1.2l-.6 1.1h-1.2zM500.3 199.5h8.7l-.5 1.1h-8.7zM521.4 199.5h2.4l-.4 1.1h-2.4zM590.7 199.5h1.3l-.1 1.1h-1.2zM600.6 199.5h1.3l0 1.1h-1.3zM641.5 199.5h4.9l.3 1.1h-5zM657.6 199.5h2.5l.3 1.1h-2.5zM671.2 199.5h12.4l.4 1.1h-12.4zM703.4 199.5h1.2l.6 1.1h-1.3zM710.8 199.5h12.4l.7 1.1h-12.5zM479.9 198.4h1.2l-.6 1.1h-1.2zM484.8 198.4h2.5l-.6 1.1h-2.5zM500.8 198.4h8.7l-.5 1.1h-8.7zM523 198.4h1.2l-.4 1.1h-1.2zM617.9 198.4h1.2l.1 1.1h-1.2zM640 198.4h6.2l.2 1.1h-6.2zM670.8 198.4h17.3l.4 1.1h-17.3zM689.3 198.4h2.5l.5 1.1h-2.5zM699.2 198.4h1.2l.5 1.1h-1.2zM707.8 198.4h14.8l.6 1.1h-14.8zM479.3 197.2h2.5l-.7 1.2h-2.4zM497.7 197.2h6.1l-.5 1.2h-6.1zM506.3 197.2h3.7l-.5 1.2h-3.7zM619 197.2h1.2l.1 1.2h-1.2zM638.6 197.2h7.3l.3 1.2h-7.4zM650.8 197.2h6.2l.3 1.2h-6.2zM665.5 197.2h27l.5 1.2h-27.1zM698.6 197.2h2.5l.5 1.2h-2.4zM703.5 197.2h1.2l.6 1.2h-1.2zM706 197.2h15.9l.7 1.2h-16.1zM728 197.2h2.5l.7 1.2h-2.5zM481.2 196.1h2.5l-.7 1.1h-2.4zM493.4 196.1h9.8l-.6 1.1h-9.8zM506.8 196.1h1.2l-.5 1.1h-1.2zM607.9 196.1h1.2l.1 1.1h-1.2zM610.4 196.1h1.2l0 1.1h-1.2zM642 196.1h3.7l.2 1.1h-3.6zM650.6 196.1h6l.4 1.1h-6.2zM664 196.1h9.7l.4 1.1h-9.8zM676.1 196.1h24.4l.6 1.1h-24.5zM702.9 196.1h1.2l.6 1.1h-1.2zM705.4 196.1h3.6l.6 1.1h-3.6zM711.5 196.1h12.1l.7 1.1h-12.2zM726.1 196.1h1.2l.7 1.1h-1.2zM480.7 194.9h3.6l-.6 1.2h-3.7zM485.5 194.9h2.5l-.7 1.2h-2.4zM492.8 194.9h6.1l-.6 1.2h-6.1zM600.6 194.9h3.6l.1 1.2h-3.7zM617.6 194.9h1.2l.1 1.2h-1.2zM641.8 194.9h3.6l.3 1.2h-3.7zM651.5 194.9h2.4l.3 1.2h-2.4zM661.2 194.9h12.1l.4 1.2h-12.2zM676.9 194.9h2.4l.5 1.2h-2.5zM680.5 194.9h14.6l.5 1.2h-14.6zM697.5 194.9h8.5l.6 1.2h-8.5zM712 194.9h10.9l.7 1.2h-10.9zM483.8 193.8h6l-.6 1.1h-6.1zM492.2 193.8h4.9l-.7 1.1h-4.8zM503.1 193.8h1.2l-.6 1.1h-1.2zM507.9 193.8h1.2l-.5 1.1h-1.3zM600.6 193.8h2.4l0 1.1h-2.4zM618.7 193.8h1.2l.1 1.1h-1.2zM641.5 193.8h1.2l.3 1.1h-1.2zM643.9 193.8h3.7l.2 1.1h-3.6zM651.2 193.8h3.6l.3 1.1h-3.6zM656 193.8h1.2l.3 1.1h-1.2zM658.4 193.8h6l.4 1.1h-6.1zM665.6 193.8h4.8l.5 1.1h-4.9zM674.1 193.8h7.2l.5 1.1h-7.3zM682.5 193.8h10.8l.6 1.1h-10.9zM698.1 193.8h7.3l.6 1.1h-7.3zM707.8 193.8h1.2l.6 1.1h-1.2zM710.2 193.8h4.8l.7 1.1h-4.9zM716.2 193.8h3.6l.7 1.1h-3.6zM485.7 192.6h4.8l-.7 1.2h-4.8zM491.7 192.6h4.8l-.7 1.2h-4.8zM597 192.6h1.2l0 1.2h-1.2zM628.1 192.6h1.2l.2 1.2h-1.2zM644.9 192.6h1.2l.3 1.2h-1.2zM661.6 192.6h1.2l.4 1.2h-1.2zM667.6 192.6h1.2l.4 1.2h-1.2zM672.4 192.6h8.4l.5 1.2h-8.5zM683.2 192.6h6l.5 1.2h-6zM690.4 192.6h1.2l.5 1.2h-1.2zM699.9 192.6h4.8l.7 1.2h-4.9zM488.8 191.5h1.2l-.7 1.1h-1.2zM491.2 191.5h5.9l-.6 1.1h-6zM624.4 191.5h1.2l.1 1.1h-1.2zM672 191.5h2.3l.5 1.1h-2.4zM702.9 191.5h1.2l.6 1.1h-1.2zM489.5 190.4h7.1l-.7 1.1h-7.1zM491.4 189.3h1.2l-.7 1.1h-1.2z"/>
<path fill="#d9292b" stroke="#d9292b" stroke-width="0.3" d="M527.2 293.6h1.3l.2 1.2h-1.2zM528.2 292.4h2.6l.3 1.2h-2.6zM529.3 291.3h1.3l.2 1.1h-1.3zM529.9 287.8h1.3l.2 1.1h-1.3zM529.7 286.6h4l.2 1.2h-4zM528.2 285.5h2.7l.1 1.1h-2.6zM526.6 283.1h2.6l.2 1.2h-2.7zM533.2 283.1h1.3l.2 1.2h-1.4zM526.4 282h4l.1 1.1h-3.9zM526.3 280.8h1.3l.1 1.2h-1.3zM524.8 279.6h2.7l.1 1.2h-2.7zM624.7 278.5h1.3l-.1 1.1h-1.3zM748.9 277.3h1.3l-.2 1.2h-1.4zM527.1 276.2h1.4l.1 1.1h-1.4zM614.1 275h1.3l0 1.2h-1.4zM616.7 275h4.1l-.1 1.2h-4zM612.7 273.8h8.1l0 1.2h-8.1zM555 272.7h2.7l0 1.1h-2.6zM612.8 272.7h5.3l0 1.1h-5.4zM619.5 272.7h1.3l0 1.1h-1.3zM553.6 271.5h4l.1 1.2h-4.1zM612.8 271.5h5.4l-.1 1.2h-5.3zM554.9 270.3h2.7l0 1.2h-2.7zM614.1 270.3h2.7l0 1.2h-2.7zM554.8 269.2h2.7l.1 1.1h-2.7zM556.1 268h1.4l0 1.2h-1.3zM556.1 266.9h1.3l.1 1.1h-1.4zM554.7 265.7h1.3l.1 1.2h-1.4zM553.3 264.5h1.3l.1 1.2h-1.4zM554.6 263.4h1.3l.1 1.1h-1.4zM558.6 262.2h1.4l0 1.2h-1.3zM558.6 261h1.4l0 1.2h-1.4zM640.1 258.7h1.3l0 1.2h-1.3zM641.5 252.9h1.4l0 1.2h-1.4zM638.8 251.8h5.4l0 1.1h-5.4zM640.1 250.6h4.1l0 1.2h-4zM640.1 249.4h4.1l0 1.2h-4.1zM640.1 248.3h4.1l0 1.1h-4.1zM640.1 247.1h6.8l0 1.2h-6.8zM640.1 245.9h8.2l0 1.2h-8.2zM638.7 244.8h9.5l.1 1.1h-9.6zM637.3 243.6h1.4l0 1.2h-1.3zM640.1 243.6h9.5l0 1.2h-9.5zM636 242.5h1.3l0 1.1h-1.3zM638.7 242.5h12.2l0 1.1h-12.2zM534.2 241.3h1.4l-.1 1.2h-1.3zM611.5 241.3h2.7l.1 1.2h-2.8zM634.6 241.3h2.7l0 1.2h-2.7zM638.7 241.3h14.9l0 1.2h-14.9zM524.8 240.1h9.5l-.1 1.2h-9.5zM608.8 240.1h1.4l0 1.2h-1.4zM611.5 240.1h5.4l.1 1.2h-5.5zM623.7 240.1h1.4l0 1.2h-1.4zM626.4 240.1h1.4l0 1.2h-1.3zM634.6 240.1h18.9l.1 1.2h-19zM526.2 239h6.8l-.1 1.1h-6.8zM608.8 239h1.4l0 1.1h-1.4zM611.5 239h6.8l0 1.1h-6.8zM622.3 239h4.1l0 1.1h-4zM627.8 239h1.3l0 1.1h-1.3zM634.5 239h17.6l.1 1.1h-17.6zM524.9 237.8h1.3l0 1.2h-1.4zM602 237.8h8.1l.1 1.2h-8.2zM612.9 237.8h16.2l0 1.2h-16.2zM635.9 237.8h12.1l.1 1.2h-12.2zM650.7 237.8h1.4l0 1.2h-1.3zM591.2 236.6h2.7l0 1.2h-2.7zM599.3 236.6h31.1l0 1.2h-31.1zM634.5 236.6h12.1l.1 1.2h-12.2zM592.6 235.5h2.7l0 1.1h-2.7zM596.6 235.5h16.2l0 1.1h-16.2zM614.2 235.5h16.2l0 1.1h-16.2zM633.1 235.5h13.5l0 1.1h-13.5zM681.7 235.5h4.1l.1 1.1h-4.1zM710.1 235.5h2.7l.1 1.1h-2.7zM591.2 234.3h13.5l0 1.2h-13.5zM606.1 234.3h6.7l0 1.2h-6.7zM614.2 234.3h17.5l0 1.2h-17.5zM633.1 234.3h12.1l0 1.2h-12.1zM646.5 234.3h2.7l.1 1.2h-2.7zM681.6 234.3h4.1l.1 1.2h-4.1zM709.9 234.3h2.7l.2 1.2h-2.7zM581.8 233.2h1.4l-.1 1.1h-1.3zM585.9 233.2h1.3l0 1.1h-1.4zM591.2 233.2h13.5l0 1.1h-13.5zM608.8 233.2h2.7l0 1.1h-2.7zM614.1 233.2h1.4l0 1.1h-1.3zM616.8 233.2h6.8l0 1.1h-6.7zM626.3 233.2h16.1l.1 1.1h-16.2zM646.5 233.2h2.7l0 1.1h-2.7zM680.2 233.2h5.4l.1 1.1h-5.4zM711.2 233.2h1.3l.1 1.1h-1.3zM581.8 232h22.9l0 1.2h-22.9zM610.1 232h1.3l.1 1.2h-1.4zM614.1 232h25.6l0 1.2h-25.6zM646.4 232h2.7l.1 1.2h-2.7zM650.5 232h2.6l.1 1.2h-2.7zM680.1 232h6.7l.1 1.2h-6.7zM494.5 230.8h1.4l-.2 1.2h-1.3zM583.2 230.8h22.8l.1 1.2h-22.9zM615.5 230.8h5.3l.1 1.2h-5.4zM624.9 230.8h17.4l.1 1.2h-17.5zM646.4 230.8h1.3l.1 1.2h-1.4zM650.4 230.8h4l.1 1.2h-4zM678.6 230.8h5.4l.1 1.2h-5.4zM492 229.7h5.4l-.2 1.1h-5.4zM583.2 229.7h14.8l0 1.1h-14.8zM599.3 229.7h5.4l0 1.1h-5.4zM607.4 229.7h4l0 1.1h-4zM616.8 229.7h1.3l0 1.1h-1.3zM619.5 229.7h1.3l0 1.1h-1.3zM624.8 229.7h1.4l0 1.1h-1.3zM627.5 229.7h13.4l.1 1.1h-13.5zM651.7 229.7h2.6l.1 1.1h-2.7zM655.7 229.7h2.7l0 1.1h-2.6zM678.5 229.7h10.7l.2 1.1h-10.8zM490.8 228.5h6.7l-.1 1.2h-6.7zM516.3 228.5h1.3l-.1 1.2h-1.3zM521.6 228.5h2.7l-.1 1.2h-2.7zM583.3 228.5h13.4l-.1 1.2h-13.4zM602 228.5h4l0 1.2h-4zM607.4 228.5h1.3l0 1.2h-1.3zM610 228.5h1.4l0 1.2h-1.3zM615.4 228.5h4l.1 1.2h-4.1zM623.4 228.5h1.4l0 1.2h-1.3zM626.1 228.5h4l.1 1.2h-4zM631.5 228.5h9.4l0 1.2h-9.4zM644.9 228.5h1.3l.1 1.2h-1.4zM650.2 228.5h5.4l.1 1.2h-5.4zM656.9 228.5h2.7l.1 1.2h-2.7zM678.4 228.5h10.7l.1 1.2h-10.7zM432.2 227.3h2.6l-.2 1.2h-2.7zM488.3 227.3h8.1l-.2 1.2h-8zM521.8 227.3h2.6l-.1 1.2h-2.7zM583.3 227.3h12l0 1.2h-12zM600.7 227.3h9.3l0 1.2h-9.3zM611.4 227.3h2.6l.1 1.2h-2.7zM615.4 227.3h4l0 1.2h-4zM624.7 227.3h14.8l0 1.2h-14.7zM643.5 227.3h17.3l.1 1.2h-17.4zM678.2 227.3h10.7l.2 1.2h-10.7zM432.4 226.2h2.7l-.3 1.1h-2.6zM487.2 226.2h9.3l-.1 1.1h-9.4zM516.5 226.2h4.1l-.2 1.1h-4zM583.3 226.2h10.7l0 1.1h-10.7zM602 226.2h14.7l0 1.1h-14.7zM618 226.2h1.4l0 1.1h-1.3zM628.7 226.2h2.7l0 1.1h-2.6zM632.7 226.2h6.7l.1 1.1h-6.7zM643.4 226.2h18.7l.1 1.1h-18.7zM678.1 226.2h13.4l.1 1.1h-13.4zM487.4 225h8l-.2 1.2h-8zM515.4 225h4l-.2 1.2h-4zM582 225h10.7l0 1.2h-10.7zM604.7 225h12l0 1.2h-12zM628.7 225h10.6l.1 1.2h-10.7zM642 225h2.7l0 1.2h-2.6zM646 225h17.3l.1 1.2h-17.3zM675.3 225h14.7l.1 1.2h-14.7zM487.6 223.9h7.9l-.1 1.1h-8zM512.8 223.9h4l-.1 1.1h-4zM583.4 223.9h9.3l0 1.1h-9.4zM594 223.9h4l0 1.1h-4zM599.3 223.9h1.4l0 1.1h-1.4zM606 223.9h12l0 1.1h-12zM627.3 223.9h1.3l.1 1.1h-1.4zM629.9 223.9h8l.1 1.1h-8zM641.9 223.9h5.3l.1 1.1h-5.3zM648.6 223.9h14.6l.1 1.1h-14.6zM673.9 223.9h15.9l.2 1.1h-16zM487.8 222.7h7.9l-.2 1.2h-7.9zM583.4 222.7h6.6l0 1.2h-6.6zM591.4 222.7h9.3l0 1.2h-9.3zM604.6 222.7h13.3l.1 1.2h-13.3zM625.9 222.7h4l0 1.2h-4zM632.5 222.7h5.4l0 1.2h-5.3zM643.2 222.7h2.6l.1 1.2h-2.7zM647.2 222.7h2.6l.1 1.2h-2.7zM651.1 222.7h12l.1 1.2h-12zM673.7 222.7h14.6l.2 1.2h-14.6zM486.6 221.5h1.4l-.2 1.2h-1.4zM489.3 221.5h6.6l-.2 1.2h-6.6zM583.4 221.5h10.6l0 1.2h-10.6zM603.3 221.5h14.6l0 1.2h-14.6zM625.9 221.5h2.6l.1 1.2h-2.7zM635.1 221.5h1.4l0 1.2h-1.3zM640.4 221.5h4l.1 1.2h-4zM647.1 221.5h9.2l.2 1.2h-9.3zM657.7 221.5h2.6l.1 1.2h-2.6zM672.3 221.5h2.6l.2 1.2h-2.7zM676.2 221.5h12l.1 1.2h-11.9zM481.6 220.4h1.3l-.2 1.1h-1.4zM485.6 220.4h2.6l-.2 1.1h-2.7zM489.5 220.4h6.6l-.2 1.1h-6.6zM584.8 220.4h7.9l0 1.1h-7.9zM600.7 220.4h18.5l0 1.1h-18.5zM624.5 220.4h1.3l.1 1.1h-1.4zM640.4 220.4h14.5l.1 1.1h-14.6zM658.9 220.4h1.3l.1 1.1h-1.3zM670.8 220.4h1.3l.2 1.1h-1.4zM673.4 220.4h2.7l.1 1.1h-2.6zM677.4 220.4h10.6l.2 1.1h-10.6zM485.8 219.2h10.6l-.3 1.2h-10.5zM584.8 219.2h7.9l0 1.2h-7.9zM598 219.2h1.3l0 1.2h-1.3zM602 219.2h17.1l.1 1.2h-17.2zM621.8 219.2h3.9l.1 1.2h-4zM632.3 219.2h4l.1 1.2h-4zM638.9 219.2h14.6l.1 1.2h-14.6zM661.4 219.2h15.8l.2 1.2h-15.9zM678.5 219.2h10.6l.2 1.2h-10.6zM484.8 218h5.2l-.2 1.2h-5.3zM491.4 218h3.9l-.2 1.2h-4zM586.2 218h6.6l-.1 1.2h-6.6zM596.7 218h22.4l0 1.2h-22.4zM621.7 218h4l0 1.2h-3.9zM634.9 218h1.3l.1 1.2h-1.3zM637.5 218h14.5l.1 1.2h-14.5zM659.9 218h11.9l.1 1.2h-11.8zM674.4 218h14.5l.2 1.2h-14.5zM483.8 216.9h10.5l-.3 1.1h-10.5zM586.2 216.9h6.6l0 1.1h-6.6zM596.7 216.9h19.7l.1 1.1h-19.8zM617.7 216.9h11.9l0 1.1h-11.8zM637.4 216.9h14.5l.1 1.1h-14.5zM654.5 216.9h32.8l.3 1.1h-32.9zM485.4 215.7h2.6l-.3 1.2h-2.6zM489.3 215.7h5.3l-.3 1.2h-5.3zM514.2 215.7h1.3l-.2 1.2h-1.3zM588.9 215.7h2.6l0 1.2h-2.7zM595.4 215.7h3.9l0 1.2h-3.9zM600.7 215.7h14.4l0 1.2h-14.4zM616.4 215.7h6.5l.1 1.2h-6.6zM624.2 215.7h5.3l.1 1.2h-5.3zM636 215.7h14.4l.2 1.2h-14.5zM653 215.7h26.2l.3 1.2h-26.3zM681.9 215.7h1.3l.2 1.2h-1.3zM684.5 215.7h1.3l.2 1.2h-1.3zM485.7 214.6h10.5l-.3 1.1h-10.5zM590.2 214.6h2.6l0 1.1h-2.6zM595.4 214.6h11.8l0 1.1h-11.8zM609.8 214.6h6.5l.1 1.1h-6.6zM617.6 214.6h6.6l0 1.1h-6.5zM625.5 214.6h5.2l.1 1.1h-5.3zM635.9 214.6h9.2l.1 1.1h-9.2zM646.4 214.6h3.9l.1 1.1h-3.9zM652.9 214.6h30l.3 1.1h-30.2zM479.6 213.4h1.3l-.4 1.2h-1.3zM486.1 213.4h11.7l-.3 1.2h-11.8zM590.2 213.4h2.6l0 1.2h-2.6zM595.4 213.4h19.6l0 1.2h-19.6zM616.3 213.4h1.3l0 1.2h-1.3zM620.2 213.4h9.1l.1 1.2h-9.2zM634.5 213.4h48.2l.2 1.2h-48.3zM478.7 212.2h2.6l-.4 1.2h-2.6zM485.2 212.2h12.9l-.3 1.2h-13zM590.3 212.2h2.6l-.1 1.2h-2.6zM596.8 212.2h19.4l.1 1.2h-19.6zM621.4 212.2h3.9l.1 1.2h-3.9zM635.7 212.2h16.9l.1 1.2h-16.9zM653.9 212.2h31.1l.3 1.2h-31.3zM479.1 211.1h2.6l-.4 1.1h-2.6zM484.3 211.1h10.3l-.4 1.1h-10.3zM497.2 211.1h1.3l-.4 1.1h-1.3zM590.3 211.1h1.3l0 1.1h-1.3zM595.5 211.1h3.9l0 1.1h-3.9zM600.6 211.1h14.3l0 1.1h-14.3zM621.3 211.1h1.3l.1 1.1h-1.3zM636.9 211.1h16.8l.2 1.1h-16.9zM655 211.1h6.4l.2 1.1h-6.4zM664 211.1h20.7l.3 1.1h-20.8zM480.8 209.9h11.6l-.4 1.2h-11.6zM493.7 209.9h1.3l-.4 1.2h-1.3zM596.8 209.9h10.3l0 1.2h-10.3zM608.4 209.9h2.6l0 1.2h-2.6zM636.7 209.9h12.9l.2 1.2h-12.9zM650.9 209.9h1.3l.2 1.2h-1.3zM653.5 209.9h19.3l.3 1.2h-19.4zM674.1 209.9h3.9l.2 1.2h-3.8zM680.5 209.9h6.5l.3 1.2h-6.5zM480 208.7h15.4l-.4 1.2h-15.5zM599.4 208.7h11.5l.1 1.2h-11.6zM636.6 208.7h12.8l.2 1.2h-12.9zM652 208.7h20.5l.3 1.2h-20.6zM680.2 208.7h6.5l.3 1.2h-6.5zM479.2 207.6h6.3l-.4 1.1h-6.4zM486.8 207.6h11.5l-.4 1.1h-11.5zM636.4 207.6h37.1l.3 1.1h-37.2zM677.4 207.6h8.9l.4 1.1h-9zM477.1 206.4h20.4l-.4 1.2h-20.5zM636.3 206.4h36.9l.3 1.2h-37.1zM677.1 206.4h7.6l.3 1.2h-7.6zM686 206.4h5.1l.3 1.2h-5.1zM476.3 205.3h21.6l-.4 1.1h-21.7zM634.9 205.3h8.9l.1 1.1h-8.9zM645 205.3h5.1l.2 1.1h-5.1zM659 205.3h12.7l.3 1.1h-12.8zM676.7 205.3h17.8l.4 1.1h-17.8zM697 205.3h2.6l.4 1.1h-2.6zM476.9 204.1h12.6l-.5 1.2h-12.7zM490.8 204.1h7.5l-.4 1.2h-7.6zM633.5 204.1h6.3l.2 1.2h-6.4zM641 204.1h1.3l.2 1.2h-1.3zM646.1 204.1h2.5l.2 1.2h-2.5zM657.5 204.1h12.6l.3 1.2h-12.7zM676.4 204.1h20.2l.4 1.2h-20.3zM697.9 204.1h2.5l.4 1.2h-2.5zM706.7 204.1h1.3l.4 1.2h-1.2zM715.5 204.1h1.3l.5 1.2h-1.2zM480 203h18.8l-.5 1.1h-18.9zM500.1 203h1.2l-.4 1.1h-1.3zM633.3 203h3.8l.2 1.1h-3.8zM647.1 203h1.3l.2 1.1h-1.2zM655.9 203h13.9l.3 1.1h-13.9zM678.6 203h15l.5 1.1h-15.2zM694.9 203h5l.5 1.1h-5.1zM702.4 203h7.6l.5 1.1h-7.6zM476.8 201.8h2.5l-.6 1.2h-2.5zM480.5 201.8h5l-.5 1.2h-5zM486.8 201.8h12.5l-.5 1.2h-12.6zM634.4 201.8h1.3l.1 1.2h-1.2zM655.7 201.8h2.5l.3 1.2h-2.6zM660.7 201.8h10l.3 1.2h-10zM679.4 201.8h31.3l.5 1.2h-31.4zM482.4 200.6h2.5l-.6 1.2h-2.5zM486.1 200.6h13.7l-.5 1.2h-13.8zM647.9 200.6h1.3l.2 1.2h-1.2zM652.9 200.6h1.2l.3 1.2h-1.2zM655.4 200.6h2.5l.3 1.2h-2.5zM660.4 200.6h11.2l.3 1.2h-11.2zM680.3 200.6h31.1l.6 1.2h-31.3zM480.5 199.5h5l-.6 1.1h-5zM486.7 199.5h13.6l-.5 1.1h-13.7zM646.4 199.5h1.3l.2 1.1h-1.2zM653.9 199.5h3.7l.3 1.1h-3.8zM660.1 199.5h11.1l.4 1.1h-11.2zM683.6 199.5h19.8l.5 1.1h-19.9zM704.6 199.5h6.2l.6 1.1h-6.2zM481.1 198.4h3.7l-.6 1.1h-3.7zM487.3 198.4h13.5l-.5 1.1h-13.6zM652.3 198.4h18.5l.4 1.1h-18.6zM688.1 198.4h1.2l.5 1.1h-1.3zM691.8 198.4h7.4l.5 1.1h-7.4zM700.4 198.4h7.4l.6 1.1h-7.5zM481.8 197.2h15.9l-.5 1.2h-16.1zM657 197.2h1.2l.3 1.2h-1.2zM659.4 197.2h6.1l.4 1.2h-6.2zM692.5 197.2h6.1l.6 1.2h-6.2zM701.1 197.2h2.4l.6 1.2h-2.5zM704.7 197.2h1.3l.5 1.2h-1.2zM483.7 196.1h9.7l-.6 1.1h-9.8zM660.3 196.1h3.7l.3 1.1h-3.7zM700.5 196.1h2.4l.6 1.1h-2.4zM704.1 196.1h1.3l.6 1.1h-1.3zM484.3 194.9h1.2l-.6 1.2h-1.2zM488 194.9h4.8l-.6 1.2h-4.9zM660 194.9h1.2l.3 1.2h-1.2zM679.3 194.9h1.2l.5 1.2h-1.2zM489.8 193.8h2.4l-.6 1.1h-2.4zM490.5 192.6h1.2l-.7 1.2h-1.2zM490 191.5h1.2l-.7 1.1h-1.2z"/>
<use href="#coast" x="600" y="251.8"/>
</g>
<g id="map3">
<path fill="#4010f0" stroke="#4010f0" stroke-width="0.4" d="M361.8 623.5h2.4l-1.9 2.3h-2.4zM124.5 597.9h2.6l.3 2.4h-2.6zM139.7 590.9h2.7l.2 2.4h-2.7zM117.8 586.2h2.7l.2 2.4h-2.6zM139.4 586.2h2.7l.1 2.4h-2.7zM144.8 586.2h2.7l.1 2.4h-2.7zM117.6 583.9h2.7l.2 2.3h-2.7zM117.5 581.6h2.7l.1 2.3h-2.7zM113.8 537.2h2.7l-.3 2.3h-2.7zM203.9 532.5h2.7l0 2.3h-2.6zM289.5 527.8h5.2l.6 2.4h-5.2zM210.4 502.5h2.3l.2 2.3h-2.4zM265.9 493.8h2.2l1.2 2.1h-2.2z"/>
<path fill="#1a28f0" stroke="#1a28f0" stroke-width="0.4" d="M130.3 614.3h2.5l.6 2.3h-2.5zM139.9 593.3h2.7l.2 2.3h-2.7zM120.5 586.2h2.7l.2 2.4h-2.7zM120.3 583.9h2.7l.2 2.3h-2.7zM117.3 579.2h2.7l.2 2.4h-2.7zM309.4 551.2h2.7l.2 2.3h-2.7zM302.4 539.5h2.7l.4 2.3h-2.7zM190.7 537.2h2.7l-.1 2.3h-2.6zM302.1 537.2h2.6l.4 2.3h-2.7zM299 534.8h5.2l.5 2.4h-5.3zM282.2 530.2h5.3l.5 2.3h-5.3zM290.1 530.2h2.6l.5 2.3h-2.6zM229.8 527.8h2.6l.2 2.4h-2.6zM286.9 527.8h2.6l.6 2.4h-2.6zM294.7 527.8h5.2l.6 2.4h-5.2zM288.9 525.5h7.7l.7 2.3h-7.8zM295.8 523.2h2.6l.8 2.3h-2.6zM311.8 518.5h2.5l1 2.3h-2.5zM319 509.3h2.4l1.5 2.3h-2.5zM283 500.3h2.3l1.3 2.2h-2.3zM80.3 498.1h2.2l-1.9 2.2h-2.3zM107.1 498.1h2.3l-1.5 2.2h-2.3zM267.1 495.9h2.2l1.2 2.2h-2.3zM339.7 495.9h2.2l2.4 2.2h-2.2z"/>
<path fill="#3a6ee0" stroke="#3a6ee0" stroke-width="0.4" d="M322.1 602.6h2.6l-.7 2.3h-2.6zM244.1 593.3h2.6l-.1 2.3h-2.7zM139.5 588.6h2.7l.2 2.3h-2.7zM142.1 586.2h2.7l.1 2.4h-2.7zM212.1 586.2h2.7l0 2.4h-2.7zM114.7 581.6h2.8l.1 2.3h-2.7zM231.3 565.2h2.7l0 2.4h-2.7zM217.6 558.2h2.8l0 2.3h-2.7zM187.8 553.5h2.7l0 2.4h-2.7zM182.4 551.2h2.7l0 2.3h-2.7zM89.2 541.8h2.7l-.4 2.4h-2.7zM302.8 541.8h2.7l.3 2.4h-2.7zM299.8 539.5h2.6l.4 2.3h-2.7zM299.4 537.2h2.7l.3 2.3h-2.6zM304.7 537.2h2.7l.4 2.3h-2.7zM304.2 534.8h2.7l.5 2.4h-2.7zM193.5 530.2h2.6l0 2.3h-2.7zM292.7 530.2h5.2l.6 2.3h-5.3zM242.8 527.8h2.6l.3 2.4h-2.6zM261 527.8h2.5l.5 2.4h-2.6zM312.8 527.8h2.6l.8 2.4h-2.6zM290.7 523.2h5.1l.8 2.3h-5.2zM92.3 520.8h2.5l-.9 2.4h-2.5zM315.3 520.8h2.6l.9 2.4h-2.5zM74.4 516.2h2.5l-1.2 2.3h-2.5zM206.1 511.6h2.4l.1 2.3h-2.4zM101.5 507h2.3l-1.2 2.3h-2.4zM315.2 507h2.3l1.5 2.3h-2.4zM100.4 504.8h2.4l-1.3 2.2h-2.4zM147.3 504.8h2.3l-.7 2.2h-2.3zM92 500.3h2.3l-1.7 2.2h-2.3zM296.6 500.3h2.3l1.6 2.2h-2.4zM55.7 498.1h2.2l-2.3 2.2h-2.3zM283.9 498.1h2.2l1.5 2.2h-2.3zM108.7 495.9h2.2l-1.5 2.2h-2.3zM268.1 493.8h2.1l1.3 2.1h-2.2zM313.4 493.8h2.2l2.1 2.1h-2.2zM105.6 491.7h2.1l-1.7 2.1h-2.2zM288 491.7h2.2l1.6 2.1h-2.1z"/>
<path fill="#1e90ff" stroke="#1e90ff" stroke-width="0.4" d="M341.8 611.9h2.6l-1.2 2.4h-2.5zM219.7 602.6h5.2l-.1 2.3h-5.2zM124.8 600.3h2.6l.4 2.3h-2.6zM132.7 600.3h2.6l.4 2.3h-2.7zM124.2 595.6h2.6l.3 2.3h-2.6zM345.5 593.3h2.7l-.5 2.3h-2.7zM222.8 590.9h2.6l0 2.4h-2.7zM136.7 586.2h2.7l.1 2.4h-2.6zM150.2 586.2h2.6l.2 2.4h-2.7zM136.5 583.9h2.7l.2 2.3h-2.7zM141.9 583.9h2.7l.2 2.3h-2.7zM120.2 581.6h2.7l.1 2.3h-2.7zM225.8 579.2h2.7l-.1 2.4h-2.7zM117.2 576.9h2.7l.1 2.3h-2.7zM350.7 576.9h2.7l-.2 2.3h-2.7zM244.9 567.6h2.7l0 2.3h-2.7zM133.4 560.5h2.7l0 2.4h-2.7zM114.6 555.9h2.7l-.1 2.3h-2.7zM309.6 553.5h2.7l.2 2.4h-2.7zM204 548.9h2.7l.1 2.3h-2.7zM185.2 546.5h2.7l0 2.4h-2.7zM91.5 544.2h2.7l-.3 2.3h-2.7zM308.5 544.2h2.7l.3 2.3h-2.7zM329.9 544.2h2.7l.4 2.3h-2.7zM300.1 541.8h2.7l.3 2.4h-2.7zM89.6 539.5h2.6l-.3 2.3h-2.7zM328.6 537.2h2.6l.5 2.3h-2.6zM204 534.8h2.6l0 2.4h-2.6zM262 534.8h2.7l.2 2.4h-2.6zM298.5 532.5h5.2l.5 2.3h-5.2zM227.4 530.2h5.2l.2 2.3h-5.2zM235.2 530.2h5.3l.2 2.3h-5.3zM287.5 530.2h2.6l.5 2.3h-2.6zM297.9 530.2h5.2l.6 2.3h-5.2zM227.2 527.8h2.6l.2 2.4h-2.6zM299.9 527.8h2.6l.6 2.4h-2.6zM315.4 527.8h2.6l.8 2.4h-2.6zM219.3 525.5h2.6l.1 2.3h-2.5zM263.1 525.5h2.6l.4 2.3h-2.6zM286.3 525.5h2.6l.6 2.3h-2.6zM296.6 525.5h2.6l.7 2.3h-2.6zM91.4 523.2h2.5l-.8 2.3h-2.6zM288.2 523.2h2.5l.7 2.3h-2.5zM112.7 513.9h2.4l-.9 2.3h-2.5zM321.8 513.9h2.4l1.4 2.3h-2.5zM120.9 511.6h2.5l-.9 2.3h-2.5zM322.9 511.6h2.4l1.4 2.3h-2.5zM208.4 509.3h2.4l.1 2.3h-2.4zM321.4 509.3h2.4l1.5 2.3h-2.4zM248.7 507h2.4l.6 2.3h-2.4zM110.2 500.3h2.2l-1.3 2.2h-2.3zM214.8 500.3h2.3l.2 2.2h-2.3zM269.4 500.3h2.2l1.1 2.2h-2.3zM287.6 500.3h2.2l1.4 2.2h-2.3zM118.3 498.1h2.3l-1.3 2.2h-2.3zM239.2 498.1h2.2l.7 2.2h-2.3zM270.5 498.1h2.2l1.2 2.2h-2.3zM82.3 495.9h2.2l-2 2.2h-2.2zM262.7 495.9h2.2l1.1 2.2h-2.2zM273.7 495.9h2.2l1.3 2.2h-2.2zM88.7 493.8h2.2l-2 2.1h-2.2zM116.2 491.7h2.1l-1.5 2.1h-2.2zM126.1 489.6h2.1l-1.4 2.1h-2.1zM242.7 489.6h2l.9 2.1h-2.1z"/>
<path fill="#00b4ff" stroke="#00b4ff" stroke-width="0.4" d="M139.1 666.7h1.5l.7 .3h-1.4zM364.2 623.5h2.4l-1.9 2.3h-2.4zM131.3 607.3h2.6l.4 2.3h-2.5zM219.5 607.3h2.5l-.1 2.3h-2.6zM125.6 604.9h2.6l.5 2.4h-2.6zM219.6 604.9h2.6l-.2 2.4h-2.5zM227.4 604.9h2.6l-.2 2.4h-2.6zM125.2 602.6h2.6l.4 2.3h-2.6zM217.1 602.6h2.6l-.1 2.3h-2.6zM224.9 602.6h2.7l-.2 2.3h-2.6zM214.5 600.3h13.2l-.1 2.3h-13.2zM214.6 597.9h2.6l0 2.4h-2.7zM219.9 597.9h2.6l-.1 2.4h-2.6zM349.8 597.9h2.6l-.6 2.4h-2.7zM145.5 595.6h5.3l.2 2.3h-5.3zM123.9 593.3h2.7l.2 2.3h-2.6zM145.3 593.3h2.6l.2 2.3h-2.6zM214.7 593.3h5.3l0 2.3h-5.4zM342.8 593.3h2.7l-.5 2.3h-2.6zM217.4 590.9h5.4l-.1 2.4h-5.3zM343.3 590.9h2.7l-.5 2.4h-2.7zM144.9 588.6h2.7l.2 2.3h-2.7zM214.8 588.6h5.4l-.1 2.3h-5.4zM335.7 588.6h2.7l-.5 2.3h-2.6zM343.7 588.6h2.7l-.4 2.3h-2.7zM147.5 586.2h2.7l.1 2.4h-2.7zM217.5 586.2h2.7l0 2.4h-2.7zM346.8 586.2h2.7l-.4 2.4h-2.7zM123 583.9h2.7l.2 2.3h-2.7zM139.2 583.9h2.7l.2 2.3h-2.7zM214.9 583.9h2.7l-.1 2.3h-2.7zM141.8 581.6h2.7l.1 2.3h-2.7zM120 579.2h2.7l.2 2.4h-2.7zM223 579.2h2.8l-.1 2.4h-2.7zM212.2 576.9h2.7l0 2.3h-2.7zM223.1 576.9h5.4l0 2.3h-5.5zM117.1 574.6h2.7l.1 2.3h-2.7zM214.9 574.6h2.8l-.1 2.3h-2.7zM223.1 574.6h2.7l0 2.3h-2.7zM315.5 574.6h2.7l-.1 2.3h-2.7zM160.6 572.2h2.7l0 2.4h-2.7zM117 569.9h2.7l.1 2.3h-2.8zM212.2 569.9h5.5l0 2.3h-5.5zM342.9 569.9h2.7l-.1 2.3h-2.7zM127.9 567.6h2.7l0 2.3h-2.7zM215 567.6h2.7l0 2.3h-2.7zM231.3 567.6h2.7l0 2.3h-2.7zM234 565.2h2.7l.1 2.4h-2.8zM209.5 560.5h2.7l0 2.4h-2.7zM225.8 560.5h2.7l.1 2.4h-2.8zM185.1 558.2h2.7l0 2.3h-2.7zM285.5 558.2h2.7l.1 2.3h-2.7zM309.9 558.2h2.8l.1 2.3h-2.7zM185.1 555.9h5.4l0 2.3h-5.4zM223 555.9h2.8l0 2.3h-2.7zM185.1 553.5h2.7l0 2.4h-2.7zM190.5 553.5h2.7l0 2.4h-2.7zM312.3 553.5h2.7l.2 2.4h-2.7zM179.7 551.2h2.7l0 2.3h-2.7zM185.1 551.2h5.4l0 2.3h-5.4zM201.4 551.2h2.7l0 2.3h-2.7zM312.1 551.2h2.7l.2 2.3h-2.7zM179.8 548.9h2.7l-.1 2.3h-2.7zM185.2 548.9h2.7l-.1 2.3h-2.7zM206.7 548.9h2.7l.1 2.3h-2.7zM303.7 548.9h2.7l.3 2.3h-2.7zM187.9 546.5h2.7l0 2.4h-2.7zM206.7 546.5h2.7l0 2.4h-2.7zM303.4 546.5h2.7l.3 2.4h-2.7zM88.8 544.2h2.7l-.3 2.3h-2.7zM303.1 544.2h2.7l.3 2.3h-2.7zM91.9 541.8h2.6l-.3 2.4h-2.7zM102.5 541.8h2.7l-.3 2.4h-2.7zM121.2 541.8h2.7l-.2 2.4h-2.7zM182.6 541.8h2.7l0 2.4h-2.7zM305.5 541.8h2.6l.4 2.4h-2.7zM92.2 539.5h2.7l-.4 2.3h-2.6zM305.1 539.5h2.7l.3 2.3h-2.6zM114.2 534.8h2.7l-.4 2.4h-2.7zM188.1 534.8h2.7l-.1 2.4h-2.6zM206.6 534.8h5.3l0 2.4h-5.3zM225.1 534.8h5.3l.1 2.4h-5.3zM314.8 534.8h2.6l.6 2.4h-2.7zM196.1 532.5h2.6l0 2.3h-2.7zM201.3 532.5h2.6l.1 2.3h-2.7zM282.7 532.5h2.6l.5 2.3h-2.7zM290.6 532.5h5.2l.5 2.3h-5.2zM104.7 530.2h2.6l-.5 2.3h-2.6zM203.9 530.2h2.6l.1 2.3h-2.7zM245.7 530.2h2.6l.3 2.3h-2.6zM193.5 527.8h2.6l0 2.4h-2.6zM284.3 527.8h2.6l.6 2.4h-2.7zM90.5 525.5h5.2l-.7 2.3h-5.2zM191 525.5h2.6l-.1 2.3h-2.6zM299.2 525.5h2.5l.8 2.3h-2.6zM312 525.5h2.6l.8 2.3h-2.6zM83.7 523.2h2.6l-.9 2.3h-2.6zM88.8 523.2h2.6l-.9 2.3h-2.5zM298.4 523.2h2.5l.8 2.3h-2.5zM308.6 523.2h2.6l.8 2.3h-2.5zM292.5 520.8h2.5l.8 2.4h-2.5zM201.3 518.5h2.5l0 2.3h-2.5zM119.2 516.2h2.5l-.8 2.3h-2.5zM228.6 516.2h2.5l.3 2.3h-2.5zM88.1 513.9h2.4l-1.2 2.3h-2.4zM203.7 513.9h4.9l.1 2.3h-5zM203.6 511.6h2.5l.1 2.3h-2.5zM208.5 511.6h2.4l.2 2.3h-2.5zM313.1 511.6h2.5l1.3 2.3h-2.5zM325.3 511.6h2.4l1.5 2.3h-2.5zM198.8 509.3h2.4l0 2.3h-2.4zM203.6 509.3h4.8l.1 2.3h-4.9zM307 509.3h2.4l1.3 2.3h-2.4zM89.6 507h2.4l-1.4 2.3h-2.4zM203.6 507h2.3l.1 2.3h-2.4zM208.3 507h4.8l.1 2.3h-4.8zM317.5 507h2.4l1.5 2.3h-2.4zM137.9 504.8h2.4l-.9 2.2h-2.3zM144.9 504.8h2.4l-.7 2.2h-2.4zM250.4 504.8h2.3l.7 2.2h-2.3zM313.6 504.8h2.4l1.5 2.2h-2.3zM120.3 502.5h2.3l-1.1 2.3h-2.3zM212.7 502.5h2.3l.2 2.3h-2.3zM249.7 502.5h2.3l.7 2.3h-2.3zM272.7 502.5h2.4l1 2.3h-2.3zM279.7 502.5h2.3l1.2 2.3h-2.4zM300.5 502.5h2.3l1.5 2.3h-2.4zM82.9 500.3h2.3l-1.8 2.2h-2.3zM235.2 500.3h2.3l.6 2.2h-2.3zM253.4 500.3h2.3l.9 2.2h-2.3zM285.3 500.3h2.3l1.3 2.2h-2.3zM289.8 500.3h2.3l1.4 2.2h-2.3zM294.4 500.3h2.2l1.5 2.2h-2.3zM308 500.3h2.3l1.7 2.2h-2.3zM82.5 498.1h2.3l-1.9 2.2h-2.3zM120.6 498.1h2.2l-1.3 2.2h-2.2zM263.8 498.1h2.2l1.1 2.2h-2.3zM272.7 498.1h4.5l1.3 2.2h-4.6zM306.3 498.1h2.2l1.8 2.2h-2.3zM337.6 498.1h2.2l2.3 2.2h-2.2zM106.5 495.9h2.2l-1.6 2.2h-2.2zM110.9 495.9h2.2l-1.5 2.2h-2.2zM300.1 495.9h2.2l1.7 2.2h-2.2zM270.2 493.8h2.2l1.3 2.1h-2.2zM291.8 493.8h2.2l1.7 2.1h-2.2zM103.5 491.7h2.1l-1.8 2.1h-2.1zM313.5 491.7h2.1l2.2 2.1h-2.2zM300.9 489.6h2.1l2 2.1h-2.1zM243.8 487.5h2.1l.9 2.1h-2.1z"/>
<path fill="#5ac0f0" stroke="#5ac0f0" stroke-width="0.4" d="M134.7 666.7h4.4l.8 .3h-4.4zM140.6 666.7h2.9l.7 .3h-2.9zM282.9 666.7h4.4l-1.1 .3h-4.3zM285.1 665.8h4.6l-2.4 .9h-4.4zM280.9 649.6h2l-1.8 1.9h-2zM284.9 649.6h16l-2.2 1.9h-15.7zM130.9 630.3h2.3l1 2.3h-2.3zM133.1 623.5h2.4l.8 2.3h-2.4zM129.9 621.2h4.9l.7 2.3h-4.8zM126.6 618.9h2.5l.8 2.3h-2.5zM343 618.9h2.5l-1.6 2.3h-2.4zM125.2 614.3h5.1l.6 2.3h-5zM127.2 611.9h2.5l.6 2.4h-2.5zM377.6 611.9h2.6l-1.5 2.4h-2.6zM124 609.6h2.6l.6 2.3h-2.6zM219.3 609.6h2.6l-.2 2.3h-2.5zM340.4 609.6h2.5l-1.1 2.3h-2.5zM123.5 607.3h5.2l.5 2.3h-5.2zM222 607.3h5.2l-.2 2.3h-5.1zM328.4 607.3h2.6l-.9 2.3h-2.6zM230 604.9h2.6l-.2 2.4h-2.6zM326.6 604.9h2.6l-.8 2.4h-2.6zM334.5 604.9h5.2l-.9 2.4h-5.2zM227.6 602.6h2.6l-.2 2.3h-2.6zM319.5 602.6h2.6l-.7 2.3h-2.6zM330 602.6h5.2l-.7 2.3h-5.3zM340.5 602.6h2.6l-.8 2.3h-2.6zM333.3 600.3h15.8l-.7 2.3h-15.8zM145.7 597.9h5.3l.2 2.4h-5.3zM217.2 597.9h2.7l-.1 2.4h-2.6zM333.9 597.9h5.3l-.6 2.4h-5.3zM344.5 597.9h5.3l-.7 2.4h-5.3zM360.4 597.9h2.6l-.7 2.4h-2.6zM140.1 595.6h2.7l.2 2.3h-2.6zM214.6 595.6h8l-.1 2.3h-7.9zM334.4 595.6h5.3l-.5 2.3h-5.3zM342.4 595.6h2.6l-.5 2.3h-2.7zM142.6 593.3h2.7l.2 2.3h-2.7zM147.9 593.3h2.7l.2 2.3h-2.7zM153.3 593.3h5.3l.2 2.3h-5.4zM220 593.3h5.4l-.1 2.3h-5.3zM123.7 590.9h2.6l.3 2.4h-2.7zM142.4 590.9h2.7l.2 2.4h-2.7zM150.4 590.9h2.7l.2 2.4h-2.7zM212.1 590.9h5.3l0 2.4h-5.4zM123.4 588.6h2.7l.2 2.3h-2.6zM142.2 588.6h2.7l.2 2.3h-2.7zM150.3 588.6h2.7l.1 2.3h-2.7zM212.1 588.6h2.7l-.1 2.3h-2.6zM220.2 588.6h8l-.1 2.3h-8zM123.2 586.2h2.7l.2 2.4h-2.7zM214.8 586.2h2.7l0 2.4h-2.7zM220.2 586.2h5.4l-.1 2.4h-5.3zM252.5 586.2h2.7l-.1 2.4h-2.7zM338.8 586.2h2.7l-.4 2.4h-2.7zM144.6 583.9h2.7l.2 2.3h-2.7zM217.6 583.9h2.7l-.1 2.3h-2.7zM133.7 581.6h8.1l.1 2.3h-8.1zM144.5 581.6h2.7l.1 2.3h-2.7zM114.6 579.2h2.7l.2 2.4h-2.8zM214.9 579.2h5.4l0 2.4h-5.4zM114.5 576.9h2.7l.1 2.3h-2.7zM214.9 576.9h8.2l-.1 2.3h-8.1zM217.7 574.6h5.4l0 2.3h-5.5zM361.7 574.6h2.7l-.2 2.3h-2.7zM117 572.2h2.8l0 2.4h-2.7zM133.4 572.2h2.7l0 2.4h-2.7zM157.8 572.2h2.8l0 2.4h-2.7zM212.2 572.2h8.2l0 2.4h-8.2zM223.1 572.2h2.7l0 2.4h-2.7zM136 569.9h2.8l0 2.3h-2.7zM141.5 569.9h2.7l0 2.3h-2.7zM217.7 569.9h5.4l0 2.3h-5.4zM225.9 569.9h2.7l0 2.3h-2.8zM217.7 567.6h8.2l0 2.3h-8.2zM313 567.6h2.7l0 2.3h-2.8zM342.9 567.6h2.7l0 2.3h-2.7zM209.5 565.2h5.5l0 2.4h-5.5zM217.7 565.2h8.2l0 2.4h-8.2zM228.6 565.2h2.7l0 2.4h-2.7zM133.4 562.9h2.7l-.1 2.3h-2.7zM217.7 562.9h5.4l0 2.3h-5.4zM228.6 562.9h5.4l0 2.3h-5.4zM217.7 560.5h2.7l0 2.4h-2.7zM228.5 560.5h2.8l0 2.4h-2.7zM195.9 558.2h2.7l0 2.3h-2.7zM225.8 558.2h5.4l.1 2.3h-5.5zM190.5 555.9h8.1l0 2.3h-8.1zM307.1 555.9h2.7l.1 2.3h-2.7zM182.4 553.5h2.7l0 2.4h-2.7zM195.9 553.5h2.7l0 2.4h-2.7zM204.1 553.5h2.7l0 2.4h-2.7zM190.5 551.2h5.4l0 2.3h-5.4zM204.1 551.2h2.7l0 2.3h-2.7zM182.5 548.9h2.7l-.1 2.3h-2.7zM187.9 548.9h2.7l-.1 2.3h-2.7zM193.3 548.9h2.7l-.1 2.3h-2.7zM249.8 548.9h2.7l.2 2.3h-2.7zM182.5 546.5h2.7l0 2.4h-2.7zM190.6 546.5h2.7l0 2.4h-2.7zM196 546.5h2.7l0 2.4h-2.7zM201.3 546.5h5.4l0 2.4h-5.4zM308.8 546.5h2.7l.3 2.4h-2.7zM94.2 544.2h2.7l-.3 2.3h-2.7zM187.9 544.2h5.4l0 2.3h-5.4zM209.4 544.2h2.7l0 2.3h-2.7zM300.4 544.2h2.7l.3 2.3h-2.6zM305.8 544.2h2.7l.3 2.3h-2.7zM94.5 541.8h2.7l-.3 2.4h-2.7zM190.7 541.8h2.6l0 2.4h-2.7zM217.4 541.8h2.6l.1 2.4h-2.7zM230.7 541.8h2.7l.1 2.4h-2.7zM254.7 541.8h2.7l.2 2.4h-2.7zM94.9 539.5h2.7l-.4 2.3h-2.7zM190.7 539.5h5.3l0 2.3h-5.3zM225.3 539.5h8l.1 2.3h-8zM238.6 539.5h2.6l.2 2.3h-2.7zM297.1 539.5h2.7l.3 2.3h-2.6zM92.6 537.2h2.7l-.4 2.3h-2.7zM222.5 537.2h10.6l.2 2.3h-10.7zM280.9 537.2h2.6l.3 2.3h-2.6zM307.4 537.2h2.6l.4 2.3h-2.6zM196 534.8h2.7l0 2.4h-2.7zM222.4 534.8h2.7l.1 2.4h-2.7zM230.4 534.8h7.9l.1 2.4h-7.9zM88.4 532.5h2.6l-.5 2.3h-2.7zM185.6 532.5h2.6l-.1 2.3h-2.6zM193.4 532.5h2.7l-.1 2.3h-2.6zM211.8 532.5h2.6l.1 2.3h-2.6zM217.1 532.5h2.6l.1 2.3h-2.6zM238.1 532.5h5.2l.2 2.3h-5.2zM261.7 532.5h2.6l.4 2.3h-2.7zM285.3 532.5h2.7l.4 2.3h-2.6zM295.8 532.5h2.7l.5 2.3h-2.7zM314.2 532.5h2.6l.6 2.3h-2.6zM319.5 532.5h2.6l.6 2.3h-2.6zM222.2 530.2h5.2l.2 2.3h-5.3zM248.3 530.2h2.6l.3 2.3h-2.6zM261.4 530.2h2.6l.3 2.3h-2.6zM89.8 527.8h2.6l-.7 2.4h-2.7zM240.2 527.8h2.6l.3 2.4h-2.6zM263.5 527.8h2.6l.5 2.4h-2.6zM279.1 527.8h5.2l.5 2.4h-5.2zM318 527.8h2.6l.8 2.4h-2.6zM309.5 525.5h2.5l.8 2.3h-2.6zM314.6 525.5h2.6l.8 2.3h-2.6zM93.9 523.2h2.6l-.8 2.3h-2.6zM231.9 523.2h2.6l.3 2.3h-2.6zM311.2 523.2h10.2l.9 2.3h-10.3zM77.1 520.8h2.5l-1 2.4h-2.5zM290 520.8h2.5l.8 2.4h-2.6zM305.2 520.8h10.1l1 2.4h-10.2zM317.9 520.8h2.5l1 2.4h-2.6zM264 518.5h2.6l.6 2.3h-2.6zM294.2 518.5h2.5l.9 2.3h-2.6zM299.2 518.5h2.5l.9 2.3h-2.5zM304.2 518.5h7.6l1 2.3h-7.6zM314.3 518.5h5l1.1 2.3h-5.1zM321.8 518.5h2.5l1.2 2.3h-2.6zM81.9 516.2h2.5l-1.2 2.3h-2.5zM191.3 516.2h2.5l-.1 2.3h-2.5zM201.2 516.2h2.5l.1 2.3h-2.5zM216.2 516.2h2.4l.2 2.3h-2.5zM295.7 516.2h2.5l1 2.3h-2.5zM308.2 516.2h2.5l1.1 2.3h-2.6zM313.1 516.2h12.5l1.2 2.3h-12.5zM193.8 513.9h9.9l0 2.3h-9.9zM208.6 513.9h4.9l.2 2.3h-5zM307 513.9h2.5l1.2 2.3h-2.5zM84.4 511.6h2.5l-1.3 2.3h-2.5zM89.3 511.6h2.4l-1.2 2.3h-2.4zM94.2 511.6h2.4l-1.2 2.3h-2.4zM198.8 511.6h2.4l0 2.3h-2.4zM210.9 511.6h2.5l.1 2.3h-2.4zM305.8 511.6h2.5l1.2 2.3h-2.5zM327.7 511.6h2.5l1.4 2.3h-2.4zM112.2 509.3h2.4l-1 2.3h-2.4zM136.3 509.3h2.4l-.7 2.3h-2.5zM201.2 509.3h2.4l0 2.3h-2.4zM213.2 509.3h2.4l.2 2.3h-2.4zM218 509.3h2.4l.3 2.3h-2.5zM304.6 509.3h2.4l1.3 2.3h-2.5zM316.6 509.3h2.4l1.4 2.3h-2.4zM92 507h2.3l-1.3 2.3h-2.4zM196.4 507h4.8l0 2.3h-4.8zM205.9 507h2.4l.1 2.3h-2.4zM296.2 507h7.1l1.3 2.3h-7.2zM305.7 507h2.3l1.4 2.3h-2.4zM312.8 507h2.4l1.4 2.3h-2.4zM98.1 504.8h2.3l-1.3 2.2h-2.4zM119.2 504.8h2.3l-1.1 2.2h-2.3zM194.1 504.8h18.8l.2 2.2h-19zM278.5 504.8h2.3l1.1 2.2h-2.3zM287.9 504.8h2.3l1.2 2.2h-2.3zM297.2 504.8h4.7l1.4 2.2h-4.8zM304.3 504.8h4.6l1.5 2.2h-4.7zM318.3 504.8h2.4l1.6 2.2h-2.4zM90.3 502.5h2.3l-1.5 2.3h-2.4zM198.8 502.5h2.4l0 2.3h-2.4zM275.1 502.5h4.6l1.1 2.3h-4.7zM282 502.5h9.2l1.3 2.3h-9.3zM298.1 502.5h2.4l1.4 2.3h-2.3zM302.8 502.5h11.5l1.7 2.3h-11.7zM80.6 500.3h2.3l-1.8 2.2h-2.3zM105.6 500.3h2.3l-1.4 2.2h-2.3zM146.6 500.3h2.2l-.8 2.2h-2.3zM192 500.3h9.1l.1 2.2h-9.3zM251.2 500.3h2.2l.9 2.2h-2.3zM267.1 500.3h2.3l1 2.2h-2.3zM271.6 500.3h11.4l1.3 2.2h-11.6zM292.1 500.3h2.3l1.4 2.2h-2.3zM305.7 500.3h2.3l1.7 2.2h-2.3zM312.6 500.3h2.2l1.8 2.2h-2.3zM102.7 498.1h4.4l-1.5 2.2h-4.5zM116.1 498.1h2.2l-1.3 2.2h-2.3zM140.7 498.1h2.2l-.9 2.2h-2.3zM241.4 498.1h2.2l.7 2.2h-2.2zM245.9 498.1h2.2l.8 2.2h-2.3zM259.3 498.1h2.2l1 2.2h-2.2zM266 498.1h4.5l1.1 2.2h-4.5zM277.2 498.1h6.7l1.4 2.2h-6.8zM286.1 498.1h4.5l1.5 2.2h-4.5zM292.9 498.1h4.4l1.6 2.2h-4.5zM301.8 498.1h4.5l1.7 2.2h-4.5zM319.7 498.1h2.2l2 2.2h-2.2zM339.8 498.1h2.3l2.3 2.2h-2.3zM80.1 495.9h2.2l-2 2.2h-2.2zM93.3 495.9h4.4l-1.7 2.2h-4.5zM102.1 495.9h4.4l-1.6 2.2h-4.5zM117.5 495.9h2.2l-1.4 2.2h-2.2zM139.5 495.9h2.2l-1 2.2h-2.2zM231.9 495.9h2.2l.6 2.2h-2.3zM256.1 495.9h6.6l1.1 2.2h-6.7zM264.9 495.9h2.2l1.1 2.2h-2.2zM269.3 495.9h4.4l1.3 2.2h-4.5zM275.9 495.9h2.2l1.3 2.2h-2.2zM282.5 495.9h15.4l1.7 2.2h-15.7zM302.3 495.9h11l1.9 2.2h-11.2zM337.5 495.9h2.2l2.4 2.2h-2.3zM75.7 493.8h4.4l-2.2 2.1h-4.4zM82.2 493.8h4.4l-2.1 2.1h-4.4zM99.5 493.8h19.5l-1.5 2.1h-19.8zM203.2 493.8h2.2l.1 2.1h-2.2zM235.7 493.8h2.1l.7 2.1h-2.2zM250.8 493.8h2.1l1 2.1h-2.2zM255.1 493.8h2.2l1 2.1h-2.2zM263.7 493.8h2.2l1.2 2.1h-2.2zM272.4 493.8h4.3l1.4 2.1h-4.4zM278.9 493.8h4.3l1.5 2.1h-4.4zM285.4 493.8h6.4l1.7 2.1h-6.6zM298.3 493.8h8.7l1.9 2.1h-8.8zM311.3 493.8h2.1l2.1 2.1h-2.2zM99.2 491.7h4.3l-1.8 2.1h-4.3zM107.7 491.7h4.3l-1.7 2.1h-4.3zM160.8 491.7h2.1l-.7 2.1h-2.2zM224.4 491.7h2.1l.5 2.1h-2.1zM264.7 491.7h4.2l1.3 2.1h-4.3zM273.2 491.7h2.1l1.4 2.1h-2.1zM281.7 491.7h2.1l1.6 2.1h-2.2zM290.2 491.7h2.1l1.7 2.1h-2.2zM307.1 491.7h2.1l2.1 2.1h-2.2zM103.3 489.6h6.2l-1.8 2.1h-6.3zM111.6 489.6h2.1l-1.7 2.1h-2.2zM115.7 489.6h2.1l-1.6 2.1h-2.1zM217.7 489.6h2.1l.4 2.1h-2.2zM246.8 489.6h2.1l.9 2.1h-2.1zM296.7 489.6h2.1l2 2.1h-2.2zM107.2 487.5h2.1l-1.9 2.1h-2.1zM303 487.5h2l2.2 2.1h-2.1zM234.9 485.5h2l.8 2h-2zM75.9 483.6h2l-2.7 1.9h-2zM239.1 481.6h5.8l1 2h-5.8zM209.1 472.9h1.6l.4 1.6h-1.7z"/>
<path fill="#b0dcf5" stroke="#b0dcf5" stroke-width="0.4" d="M130.3 666.7h4.4l.8 .3h-4.3zM143.5 666.7h1.5l.7 .3h-1.5zM169.9 666.7h4.4l.3 .3h-4.3zM279.9 666.7h3l-1 .3h-2.9zM287.3 666.7h2.9l-1.1 .3h-2.9zM283.6 665.8h1.5l-2.2 .9h-1.5zM289.7 665.8h3l-2.5 .9h-2.9zM286.1 664.8h7.7l-2.6 1h-7.6zM266.8 662.2h9.9l-2.3 1.4h-9.6zM275.8 660.6h1.7l-2.4 1.6h-1.7zM277.2 651.5h11.7l-2 2h-11.5zM274.9 649.6h2l-1.7 1.9h-1.9zM278.9 649.6h2l-1.8 1.9h-1.9zM282.9 649.6h2l-1.9 1.9h-1.9zM300.9 649.6h13.9l-2.5 1.9h-13.6zM286.7 647.6h2l-1.8 2h-2zM290.7 647.6h12.3l-2.1 2h-12zM290.5 645.5h2.1l-1.9 2.1h-2zM134.2 632.6h2.3l1 2.2h-2.3zM128.5 630.3h2.4l1 2.3h-2.3zM133.2 630.3h2.4l.9 2.3h-2.3zM129.9 628.1h7.2l.8 2.2h-7zM129.1 625.8h7.2l.8 2.3h-7.2zM125.8 623.5h7.3l.8 2.3h-7.2zM134.8 621.2h2.5l.7 2.3h-2.5zM363.6 621.2h2.5l-1.9 2.3h-2.4zM129.1 618.9h2.5l.7 2.3h-2.4zM125.9 616.6h5l.7 2.3h-5zM344.4 616.6h2.5l-1.4 2.3h-2.5zM343.2 614.3h2.5l-1.3 2.3h-2.5zM124.6 611.9h2.6l.6 2.4h-2.6zM344.4 611.9h2.5l-1.2 2.4h-2.5zM349.5 611.9h2.6l-1.3 2.4h-2.5zM126.6 609.6h2.6l.5 2.3h-2.5zM337.8 609.6h2.6l-1.1 2.3h-2.6zM345.5 609.6h2.6l-1.2 2.3h-2.5zM227.2 607.3h2.6l-.2 2.3h-2.6zM338.8 607.3h2.6l-1 2.3h-2.6zM344 607.3h2.6l-1.1 2.3h-2.6zM217 604.9h2.6l-.1 2.4h-2.6zM324 604.9h2.6l-.8 2.4h-2.6zM329.2 604.9h5.3l-.9 2.4h-5.2zM339.7 604.9h5.2l-.9 2.4h-5.2zM347.5 604.9h5.2l-1 2.4h-5.1zM146.2 602.6h2.6l.3 2.3h-2.6zM327.4 602.6h2.6l-.8 2.3h-2.6zM337.9 602.6h2.6l-.8 2.3h-2.6zM343.1 602.6h2.6l-.8 2.3h-2.6zM127.4 600.3h2.7l.3 2.3h-2.6zM227.7 600.3h2.7l-.2 2.3h-2.6zM233 600.3h2.6l-.2 2.3h-2.6zM320.1 600.3h5.3l-.7 2.3h-5.2zM328 600.3h2.6l-.6 2.3h-2.6zM349.1 600.3h2.7l-.8 2.3h-2.6zM357 600.3h2.7l-.8 2.3h-2.7zM140.4 597.9h5.3l.2 2.4h-5.3zM222.5 597.9h5.3l-.1 2.4h-5.3zM328.6 597.9h5.3l-.6 2.4h-5.3zM142.8 595.6h2.7l.2 2.3h-2.7zM150.8 595.6h2.6l.2 2.3h-2.6zM222.6 595.6h2.7l-.1 2.3h-2.7zM233.3 595.6h2.6l-.1 2.3h-2.7zM323.7 595.6h8l-.5 2.3h-7.9zM347.7 595.6h5.3l-.6 2.3h-5.3zM150.6 593.3h2.7l.1 2.3h-2.6zM321.5 593.3h13.3l-.4 2.3h-13.3zM337.5 593.3h2.7l-.5 2.3h-2.7zM348.2 593.3h8l-.5 2.3h-8zM145.1 590.9h5.3l.2 2.4h-5.3zM153.1 590.9h2.7l.1 2.4h-2.6zM324.6 590.9h8l-.4 2.4h-8zM335.3 590.9h2.6l-.4 2.4h-2.7zM340.6 590.9h2.7l-.5 2.4h-2.6zM348.7 590.9h5.3l-.5 2.4h-5.3zM136.9 588.6h2.6l.2 2.3h-2.6zM147.6 588.6h2.7l.1 2.3h-2.6zM330.3 588.6h5.4l-.4 2.3h-5.4zM346.4 588.6h5.4l-.5 2.3h-5.3zM155.5 586.2h2.7l.2 2.4h-2.7zM241.8 586.2h2.7l-.2 2.4h-2.7zM336.1 586.2h2.7l-.4 2.4h-2.7zM341.5 586.2h5.3l-.4 2.4h-5.3zM125.7 583.9h2.7l.2 2.3h-2.7zM133.8 583.9h2.7l.2 2.3h-2.7zM147.3 583.9h2.7l.2 2.3h-2.7zM220.3 583.9h8.1l-.1 2.3h-8.1zM333.7 583.9h2.7l-.3 2.3h-2.7zM341.8 583.9h2.7l-.3 2.3h-2.7zM122.9 581.6h2.7l.1 2.3h-2.7zM147.2 581.6h2.7l.1 2.3h-2.7zM214.9 581.6h2.7l0 2.3h-2.7zM220.3 581.6h8.1l0 2.3h-8.1zM342.1 581.6h2.7l-.3 2.3h-2.7zM352.9 581.6h2.7l-.3 2.3h-2.7zM133.6 579.2h2.7l.1 2.4h-2.7zM220.3 579.2h2.7l0 2.4h-2.7zM331.5 579.2h2.7l-.2 2.4h-2.7zM119.9 576.9h2.7l.1 2.3h-2.7zM228.5 576.9h2.7l0 2.3h-2.7zM353.4 576.9h2.7l-.2 2.3h-2.7zM119.8 574.6h2.8l0 2.3h-2.7zM157.9 574.6h2.7l0 2.3h-2.7zM225.8 574.6h2.7l0 2.3h-2.7zM312.8 574.6h2.7l-.1 2.3h-2.7zM353.5 574.6h2.8l-.2 2.3h-2.7zM122.5 572.2h2.7l.1 2.4h-2.7zM141.5 572.2h2.7l.1 2.4h-2.7zM155.1 572.2h2.7l.1 2.4h-2.7zM220.4 572.2h2.7l0 2.4h-2.7zM310.1 572.2h5.5l-.1 2.4h-5.4zM348.2 572.2h2.7l-.1 2.4h-2.7zM356.4 572.2h2.7l-.1 2.4h-2.7zM114.3 569.9h2.7l0 2.3h-2.7zM125.2 569.9h10.8l.1 2.3h-10.9zM155.1 569.9h2.7l0 2.3h-2.7zM223.1 569.9h2.8l-.1 2.3h-2.7zM231.3 569.9h2.7l0 2.3h-2.7zM332 569.9h2.7l-.1 2.3h-2.7zM114.3 567.6h5.4l0 2.3h-5.4zM122.4 567.6h2.7l.1 2.3h-2.8zM130.6 567.6h2.7l0 2.3h-2.7zM138.8 567.6h2.7l0 2.3h-2.7zM146.9 567.6h2.7l.1 2.3h-2.8zM212.2 567.6h2.8l0 2.3h-2.8zM228.6 567.6h2.7l0 2.3h-2.7zM307.5 567.6h2.7l0 2.3h-2.7zM329.3 567.6h2.7l0 2.3h-2.7zM127.9 565.2h10.9l0 2.4h-10.9zM225.9 565.2h2.7l0 2.4h-2.7zM244.9 565.2h2.7l0 2.4h-2.7zM323.8 565.2h2.7l.1 2.4h-2.7zM130.6 562.9h2.8l-.1 2.3h-2.7zM144.2 562.9h2.8l-.1 2.3h-2.7zM209.5 562.9h8.2l0 2.3h-8.2zM223.1 562.9h5.5l0 2.3h-5.5zM326.5 562.9h2.7l.1 2.3h-2.8zM193.2 560.5h5.4l0 2.4h-5.4zM204.1 560.5h2.7l0 2.4h-2.7zM212.2 560.5h5.5l0 2.4h-5.5zM220.4 560.5h5.4l0 2.4h-5.4zM231.3 560.5h2.7l0 2.4h-2.7zM301.9 560.5h2.7l.1 2.4h-2.7zM310.1 560.5h2.7l.1 2.4h-2.8zM114.5 558.2h2.7l-.1 2.3h-2.7zM190.5 558.2h5.4l0 2.3h-5.4zM198.6 558.2h19l.1 2.3h-19.1zM220.4 558.2h5.4l0 2.3h-5.4zM231.2 558.2h2.7l.1 2.3h-2.7zM307.2 558.2h2.7l.2 2.3h-2.8zM326.2 558.2h2.7l.2 2.3h-2.7zM130.9 555.9h2.7l-.1 2.3h-2.7zM198.6 555.9h8.2l0 2.3h-8.2zM209.5 555.9h2.7l0 2.3h-2.7zM214.9 555.9h8.1l.1 2.3h-8.2zM225.8 555.9h2.7l0 2.3h-2.7zM231.2 555.9h5.4l0 2.3h-5.4zM304.4 555.9h2.7l.1 2.3h-2.7zM120.2 553.5h2.7l-.2 2.4h-2.7zM198.6 553.5h5.5l0 2.4h-5.5zM212.2 553.5h2.7l0 2.4h-2.7zM217.6 553.5h5.4l0 2.4h-5.4zM306.9 553.5h2.7l.2 2.4h-2.7zM198.6 551.2h2.8l0 2.3h-2.8zM206.8 551.2h5.4l0 2.3h-5.4zM217.6 551.2h2.7l0 2.3h-2.7zM279.7 551.2h2.7l.1 2.3h-2.7zM306.7 551.2h2.7l.2 2.3h-2.7zM314.8 551.2h2.7l.2 2.3h-2.7zM101.7 548.9h2.6l-.2 2.3h-2.7zM190.6 548.9h2.7l-.1 2.3h-2.7zM196 548.9h2.7l-.1 2.3h-2.7zM201.3 548.9h2.7l.1 2.3h-2.7zM209.4 548.9h2.7l.1 2.3h-2.7zM231 548.9h2.7l.1 2.3h-2.7zM244.5 548.9h2.7l.1 2.3h-2.7zM306.4 548.9h10.8l.3 2.3h-10.8zM96.6 546.5h2.6l-.2 2.4h-2.7zM107.3 546.5h2.7l-.3 2.4h-2.7zM179.8 546.5h2.7l0 2.4h-2.7zM198.7 546.5h2.6l0 2.4h-2.6zM306.1 546.5h2.7l.3 2.4h-2.7zM311.5 546.5h2.7l.3 2.4h-2.7zM99.6 544.2h2.6l-.3 2.3h-2.7zM123.7 544.2h2.6l-.2 2.3h-2.7zM182.6 544.2h2.7l-.1 2.3h-2.7zM193.3 544.2h8l0 2.3h-8zM204 544.2h5.4l0 2.3h-5.4zM244.2 544.2h5.4l.1 2.3h-5.4zM311.2 544.2h2.6l.4 2.3h-2.7zM123.9 541.8h2.7l-.3 2.4h-2.6zM185.3 541.8h2.7l-.1 2.4h-2.6zM193.3 541.8h5.4l0 2.4h-5.4zM201.3 541.8h16.1l0 2.4h-16.1zM222.7 541.8h2.7l0 2.4h-2.6zM228 541.8h2.7l.1 2.4h-2.7zM233.4 541.8h2.6l.2 2.4h-2.7zM297.5 541.8h2.6l.3 2.4h-2.6zM310.8 541.8h5.3l.4 2.4h-5.3zM86.9 539.5h2.7l-.4 2.3h-2.7zM116.2 539.5h2.6l-.2 2.3h-2.7zM180 539.5h10.7l0 2.3h-10.7zM196 539.5h5.3l0 2.3h-5.3zM206.7 539.5h2.6l0 2.3h-2.6zM214.6 539.5h2.7l.1 2.3h-2.7zM220 539.5h5.3l.1 2.3h-5.4zM233.3 539.5h2.6l.1 2.3h-2.6zM246.6 539.5h2.6l.2 2.3h-2.7zM254.5 539.5h2.7l.2 2.3h-2.7zM310.4 539.5h2.7l.4 2.3h-2.7zM318.4 539.5h2.7l.4 2.3h-2.7zM90 537.2h2.6l-.4 2.3h-2.6zM95.3 537.2h2.6l-.3 2.3h-2.7zM111.2 537.2h2.6l-.3 2.3h-2.6zM182.8 537.2h7.9l0 2.3h-8zM193.4 537.2h7.9l0 2.3h-8zM204 537.2h18.5l.1 2.3h-18.6zM235.8 537.2h5.3l.1 2.3h-5.3zM254.3 537.2h2.7l.2 2.3h-2.7zM272.9 537.2h2.6l.3 2.3h-2.6zM286.2 537.2h2.6l.3 2.3h-2.6zM296.8 537.2h2.6l.4 2.3h-2.7zM310 537.2h2.7l.4 2.3h-2.7zM315.3 537.2h2.7l.4 2.3h-2.7zM82.6 534.8h2.6l-.5 2.4h-2.7zM93.1 534.8h5.3l-.5 2.4h-5.3zM182.8 534.8h5.3l0 2.4h-5.3zM190.8 534.8h5.2l0 2.4h-5.3zM198.7 534.8h5.3l0 2.4h-5.3zM211.9 534.8h5.3l0 2.4h-5.3zM219.8 534.8h2.6l.1 2.4h-2.6zM238.3 534.8h2.6l.2 2.4h-2.7zM277.9 534.8h7.9l.4 2.4h-8zM291.1 534.8h2.6l.4 2.4h-2.6zM309.5 534.8h5.3l.5 2.4h-5.3zM317.4 534.8h10.6l.6 2.4h-10.6zM77.9 532.5h2.6l-.6 2.3h-2.6zM188.2 532.5h5.2l0 2.3h-5.3zM198.7 532.5h2.6l0 2.3h-2.6zM206.6 532.5h5.2l.1 2.3h-5.3zM214.4 532.5h2.7l.1 2.3h-2.7zM219.7 532.5h2.6l.1 2.3h-2.6zM224.9 532.5h2.7l.1 2.3h-2.6zM230.2 532.5h7.9l.2 2.3h-7.9zM243.3 532.5h5.3l.2 2.3h-5.3zM274.8 532.5h5.3l.4 2.3h-5.3zM288 532.5h2.6l.5 2.3h-2.7zM303.7 532.5h2.6l.6 2.3h-2.7zM311.6 532.5h2.6l.6 2.3h-2.6zM316.8 532.5h2.7l.6 2.3h-2.7zM322.1 532.5h5.3l.6 2.3h-5.3zM78.6 530.2h2.6l-.7 2.3h-2.6zM83.8 530.2h2.6l-.6 2.3h-2.6zM94.3 530.2h2.6l-.6 2.3h-2.6zM188.3 530.2h5.2l-.1 2.3h-5.2zM196.1 530.2h7.8l0 2.3h-7.8zM206.5 530.2h2.6l.1 2.3h-2.6zM211.7 530.2h10.5l.1 2.3h-10.5zM232.6 530.2h2.6l.2 2.3h-2.6zM253.5 530.2h2.6l.4 2.3h-2.7zM258.7 530.2h2.7l.3 2.3h-2.6zM266.6 530.2h2.6l.4 2.3h-2.6zM277 530.2h2.6l.5 2.3h-2.6zM303.1 530.2h2.6l.6 2.3h-2.6zM308.3 530.2h7.9l.6 2.3h-7.8zM318.8 530.2h10.4l.8 2.3h-10.5zM79.4 527.8h2.6l-.8 2.4h-2.6zM84.6 527.8h2.6l-.8 2.4h-2.6zM92.4 527.8h5.1l-.6 2.4h-5.2zM188.3 527.8h5.2l0 2.4h-5.2zM196.1 527.8h10.4l0 2.4h-10.4zM214.3 527.8h5.2l.1 2.4h-5.2zM222 527.8h5.2l.2 2.4h-5.2zM232.4 527.8h5.2l.3 2.4h-5.3zM248 527.8h2.6l.3 2.4h-2.6zM271.3 527.8h7.8l.5 2.4h-7.8zM302.5 527.8h2.5l.7 2.4h-2.6zM320.6 527.8h5.2l.8 2.4h-5.2zM333.6 527.8h2.6l.9 2.4h-2.6zM85.4 525.5h5.1l-.7 2.3h-5.2zM196.1 525.5h5.2l0 2.3h-5.2zM203.9 525.5h2.5l.1 2.3h-2.6zM214.2 525.5h2.5l.2 2.3h-2.6zM234.8 525.5h2.5l.3 2.3h-2.6zM260.5 525.5h2.6l.4 2.3h-2.5zM270.8 525.5h5.2l.5 2.3h-5.2zM278.6 525.5h7.7l.6 2.3h-7.8zM301.7 525.5h2.6l.7 2.3h-2.5zM306.9 525.5h2.6l.7 2.3h-2.6zM317.2 525.5h7.7l.9 2.3h-7.8zM86.3 523.2h2.5l-.8 2.3h-2.6zM99.1 523.2h2.5l-.8 2.3h-2.5zM201.3 523.2h2.5l.1 2.3h-2.6zM265.2 523.2h7.6l.6 2.3h-7.7zM275.4 523.2h5.1l.6 2.3h-5.1zM283.1 523.2h5.1l.7 2.3h-5.2zM300.9 523.2h7.7l.9 2.3h-7.8zM74.5 520.8h2.6l-1 2.4h-2.6zM89.8 520.8h2.5l-.9 2.4h-2.6zM94.8 520.8h2.6l-.9 2.4h-2.6zM196.2 520.8h2.5l0 2.4h-2.5zM201.3 520.8h5l.1 2.4h-5.1zM239.3 520.8h2.5l.4 2.4h-2.6zM267.2 520.8h2.5l.6 2.4h-2.6zM282.4 520.8h2.5l.7 2.4h-2.5zM295 520.8h7.6l.9 2.4h-7.7zM320.4 520.8h5.1l1 2.4h-5.1zM188.7 518.5h2.5l-.1 2.3h-2.5zM196.2 518.5h2.5l0 2.3h-2.5zM203.8 518.5h2.5l0 2.3h-2.5zM213.8 518.5h2.5l.2 2.3h-2.6zM291.7 518.5h2.5l.8 2.3h-2.5zM296.7 518.5h2.5l.9 2.3h-2.5zM301.7 518.5h2.5l1 2.3h-2.6zM324.3 518.5h2.5l1.2 2.3h-2.5zM193.8 516.2h2.5l-.1 2.3h-2.5zM198.8 516.2h2.4l.1 2.3h-2.6zM203.7 516.2h5l.1 2.3h-5zM233.6 516.2h2.5l.3 2.3h-2.5zM258.4 516.2h2.5l.6 2.3h-2.5zM298.2 516.2h10l1 2.3h-10zM325.6 516.2h2.5l1.2 2.3h-2.5zM90.5 513.9h2.5l-1.2 2.3h-2.5zM115.1 513.9h2.5l-.9 2.3h-2.5zM191.4 513.9h2.4l0 2.3h-2.5zM213.5 513.9h2.5l.2 2.3h-2.5zM218.5 513.9h2.4l.2 2.3h-2.5zM302.1 513.9h4.9l1.2 2.3h-5zM309.5 513.9h2.4l1.2 2.3h-2.4zM314.4 513.9h4.9l1.3 2.3h-5zM324.2 513.9h7.4l1.4 2.3h-7.4zM91.7 511.6h2.5l-1.2 2.3h-2.5zM201.2 511.6h2.4l.1 2.3h-2.5zM213.4 511.6h4.8l.3 2.3h-5zM225.5 511.6h7.3l.4 2.3h-7.4zM303.4 511.6h2.4l1.2 2.3h-2.4zM310.7 511.6h2.4l1.3 2.3h-2.5zM315.6 511.6h2.4l1.3 2.3h-2.4zM320.4 511.6h2.5l1.3 2.3h-2.4zM337.4 511.6h4.9l1.6 2.3h-4.9zM81 509.3h4.8l-1.4 2.3h-4.8zM90.6 509.3h2.4l-1.3 2.3h-2.4zM133.9 509.3h2.4l-.8 2.3h-2.4zM196.4 509.3h2.4l0 2.3h-2.4zM210.8 509.3h2.4l.2 2.3h-2.5zM215.6 509.3h2.4l.2 2.3h-2.4zM302.2 509.3h2.4l1.2 2.3h-2.4zM309.4 509.3h7.2l1.4 2.3h-7.3zM323.8 509.3h4.8l1.6 2.3h-4.9zM335.8 509.3h2.5l1.6 2.3h-2.5zM115.7 507h2.4l-1.1 2.3h-2.4zM194.1 507h2.3l0 2.3h-2.4zM213.1 507h2.3l.2 2.3h-2.4zM227.3 507h4.8l.4 2.3h-4.8zM270.1 507h2.3l.9 2.3h-2.4zM291.4 507h4.8l1.2 2.3h-4.8zM303.3 507h2.4l1.3 2.3h-2.4zM308 507h4.8l1.4 2.3h-4.8zM319.9 507h4.8l1.5 2.3h-4.8zM327 507h4.8l1.6 2.3h-4.8zM91.1 504.8h2.3l-1.4 2.2h-2.4zM140.3 504.8h2.3l-.8 2.2h-2.4zM212.9 504.8h2.3l.2 2.2h-2.3zM226.9 504.8h2.4l.4 2.2h-2.4zM248 504.8h2.4l.7 2.2h-2.4zM259.7 504.8h4.7l.9 2.2h-4.7zM273.8 504.8h4.7l1.1 2.2h-4.8zM280.8 504.8h2.4l1.1 2.2h-2.4zM285.5 504.8h2.4l1.2 2.2h-2.4zM292.5 504.8h2.4l1.3 2.2h-2.4zM301.9 504.8h2.4l1.4 2.2h-2.4zM311.3 504.8h2.3l1.6 2.2h-2.4zM316 504.8h2.3l1.6 2.2h-2.4zM320.7 504.8h2.3l1.7 2.2h-2.4zM325.4 504.8h4.6l1.8 2.2h-4.8zM88 502.5h2.3l-1.6 2.3h-2.3zM92.6 502.5h2.3l-1.5 2.3h-2.3zM106.5 502.5h2.3l-1.3 2.3h-2.4zM124.9 502.5h4.7l-1.1 2.3h-4.6zM138.8 502.5h2.3l-.8 2.3h-2.4zM143.4 502.5h4.6l-.7 2.3h-4.7zM189.6 502.5h2.3l-.1 2.3h-2.3zM194.2 502.5h2.3l0 2.3h-2.4zM203.5 502.5h6.9l.1 2.3h-7zM215 502.5h2.3l.3 2.3h-2.4zM231.2 502.5h2.3l.5 2.3h-2.4zM242.7 502.5h7l.7 2.3h-7.1zM252 502.5h9.2l.9 2.3h-9.4zM268.1 502.5h4.6l1.1 2.3h-4.7zM291.2 502.5h2.3l1.4 2.3h-2.4zM295.8 502.5h2.3l1.5 2.3h-2.4zM314.3 502.5h6.9l1.8 2.3h-7zM323.6 502.5h2.3l1.8 2.3h-2.3zM328.2 502.5h2.3l1.9 2.3h-2.4zM85.2 500.3h6.8l-1.7 2.2h-6.9zM96.5 500.3h9.1l-1.4 2.2h-9.3zM117 500.3h2.3l-1.3 2.2h-2.3zM142 500.3h4.6l-.9 2.2h-4.6zM189.8 500.3h2.2l-.1 2.2h-2.3zM205.7 500.3h2.3l.1 2.2h-2.3zM210.2 500.3h2.3l.2 2.2h-2.3zM223.9 500.3h2.3l.4 2.2h-2.4zM233 500.3h2.2l.6 2.2h-2.3zM237.5 500.3h4.6l.6 2.2h-4.6zM244.3 500.3h2.3l.7 2.2h-2.3zM255.7 500.3h6.8l1 2.2h-6.9zM264.8 500.3h2.3l1 2.2h-2.3zM303.5 500.3h2.2l1.7 2.2h-2.3zM310.3 500.3h2.3l1.7 2.2h-2.3zM317.1 500.3h11.4l2 2.2h-11.6zM342.1 500.3h4.6l2.3 2.2h-4.7zM57.9 498.1h2.3l-2.3 2.2h-2.3zM84.8 498.1h6.7l-1.8 2.2h-6.8zM96 498.1h2.2l-1.7 2.2h-2.2zM109.4 498.1h4.5l-1.5 2.2h-4.5zM122.8 498.1h2.2l-1.2 2.2h-2.3zM136.2 498.1h2.3l-1 2.2h-2.3zM145.2 498.1h2.2l-.8 2.2h-2.3zM192.2 498.1h6.7l0 2.2h-6.9zM205.6 498.1h2.2l.2 2.2h-2.3zM230.2 498.1h2.2l.6 2.2h-2.3zM234.7 498.1h4.5l.6 2.2h-4.6zM243.6 498.1h2.3l.7 2.2h-2.3zM250.3 498.1h2.3l.8 2.2h-2.2zM257.1 498.1h2.2l1 2.2h-2.3zM261.5 498.1h2.3l1 2.2h-2.3zM290.6 498.1h2.3l1.5 2.2h-2.3zM297.3 498.1h2.3l1.6 2.2h-2.3zM308.5 498.1h4.5l1.8 2.2h-4.5zM315.2 498.1h4.5l2 2.2h-4.6zM321.9 498.1h2.3l2 2.2h-2.3zM86.7 495.9h4.4l-1.9 2.2h-4.4zM97.7 495.9h2.2l-1.7 2.2h-2.2zM113.1 495.9h4.4l-1.4 2.2h-4.5zM141.7 495.9h2.2l-1 2.2h-2.2zM196.7 495.9h2.2l0 2.2h-2.3zM209.9 495.9h2.2l.2 2.2h-2.2zM220.9 495.9h4.4l.4 2.2h-4.4zM227.5 495.9h4.4l.5 2.2h-4.4zM234.1 495.9h6.6l.7 2.2h-6.7zM245.1 495.9h4.4l.8 2.2h-4.4zM251.7 495.9h4.4l1 2.2h-4.5zM278.1 495.9h2.2l1.4 2.2h-2.3zM313.3 495.9h6.6l2 2.2h-6.7zM58.5 493.8h2.1l-2.5 2.1h-2.2zM62.8 493.8h2.1l-2.4 2.1h-2.2zM80.1 493.8h2.1l-2.1 2.1h-2.2zM86.6 493.8h2.1l-2 2.1h-2.2zM90.9 493.8h2.1l-1.9 2.1h-2.2zM95.2 493.8h2.2l-1.9 2.1h-2.2zM138.4 493.8h2.2l-1.1 2.1h-2.2zM142.7 493.8h2.2l-1 2.1h-2.2zM220.5 493.8h2.2l.4 2.1h-2.2zM224.9 493.8h4.3l.5 2.1h-4.4zM233.5 493.8h2.2l.6 2.1h-2.2zM237.8 493.8h2.2l.7 2.1h-2.2zM242.1 493.8h6.5l.9 2.1h-6.6zM252.9 493.8h2.2l1 2.1h-2.2zM257.3 493.8h4.3l1.1 2.1h-4.4zM276.7 493.8h2.2l1.4 2.1h-2.2zM283.2 493.8h2.2l1.5 2.1h-2.2zM294 493.8h2.2l1.7 2.1h-2.2zM58.9 491.7h2.2l-2.6 2.1h-2.2zM88.6 491.7h4.3l-2 2.1h-4.3zM97.1 491.7h2.1l-1.8 2.1h-2.2zM114.1 491.7h2.1l-1.6 2.1h-2.1zM118.3 491.7h4.3l-1.5 2.1h-4.3zM203.2 491.7h2.1l.1 2.1h-2.2zM222.3 491.7h2.1l.5 2.1h-2.2zM239.2 491.7h4.3l.8 2.1h-4.3zM245.6 491.7h17l1.1 2.1h-17.2zM268.9 491.7h4.3l1.4 2.1h-4.4zM275.3 491.7h6.4l1.5 2.1h-6.5zM283.8 491.7h4.2l1.7 2.1h-4.3zM294.4 491.7h2.1l1.8 2.1h-2.1zM298.6 491.7h8.5l2 2.1h-8.6zM309.2 491.7h4.3l2.1 2.1h-4.3zM349.5 491.7h2.2l2.8 2.1h-2.2zM92.8 489.6h2.1l-2 2.1h-2.1zM97 489.6h6.3l-1.9 2.1h-6.4zM109.5 489.6h2.1l-1.8 2.1h-2.1zM113.7 489.6h2l-1.6 2.1h-2.1zM117.8 489.6h8.3l-1.4 2.1h-8.5zM130.3 489.6h2.1l-1.3 2.1h-2.2zM165.7 489.6h2.1l-.7 2.1h-2.1zM223.9 489.6h2.1l.5 2.1h-2.1zM238.5 489.6h2.1l.8 2.1h-2.2zM244.7 489.6h2.1l.9 2.1h-2.1zM248.9 489.6h4.2l1 2.1h-4.3zM255.1 489.6h2.1l1.1 2.1h-2.1zM259.3 489.6h2.1l1.2 2.1h-2.1zM263.5 489.6h2l1.3 2.1h-2.1zM271.8 489.6h2.1l1.4 2.1h-2.1zM278 489.6h4.2l1.6 2.1h-4.3zM284.3 489.6h4.1l1.8 2.1h-4.3zM298.8 489.6h2.1l2 2.1h-2.1zM305.1 489.6h2.1l2 2.1h-2.1zM311.3 489.6h2.1l2.2 2.1h-2.1zM66.4 487.5h2.1l-2.7 2.1h-2.1zM92.9 487.5h2.1l-2.2 2.1h-2zM97 487.5h2.1l-2.1 2.1h-2.1zM103.1 487.5h4.1l-1.9 2.1h-4.1zM109.3 487.5h6.1l-1.7 2.1h-6.3zM121.5 487.5h2l-1.5 2.1h-2.1zM135.8 487.5h2l-1.3 2.1h-2zM180.6 487.5h2.1l-.4 2.1h-2.1zM209.2 487.5h2l.2 2.1h-2zM219.4 487.5h2l.4 2.1h-2zM231.6 487.5h2l.7 2.1h-2.1zM235.7 487.5h2l.8 2.1h-2.1zM254 487.5h2.1l1.1 2.1h-2.1zM270.4 487.5h2l1.5 2.1h-2.1zM274.4 487.5h4.1l1.6 2.1h-4.2zM300.9 487.5h2.1l2.1 2.1h-2.1zM305 487.5h2.1l2.1 2.1h-2zM343.8 487.5h2l3 2.1h-2.1zM65.2 485.5h4l-2.8 2h-4.1zM73.2 485.5h4l-2.6 2h-4.1zM101.1 485.5h2l-2 2h-2zM105.1 485.5h4l-1.9 2h-4.1zM167 485.5h2l-.6 2h-2zM236.9 485.5h2l.9 2h-2.1zM242.9 485.5h2l1 2h-2.1zM292.9 485.5h2l2 2h-2.1zM298.9 485.5h3.9l2.2 2h-4.1zM316.8 485.5h4l2.6 2h-4.1zM72 483.6h2l-2.8 1.9h-2zM216.6 483.6h2l.4 1.9h-2zM240.1 483.6h9.7l1.1 1.9h-10zM300.6 483.6h2l2.2 1.9h-2zM318.2 483.6h2l2.6 1.9h-2zM313.6 481.6h5.7l2.8 2h-5.9zM238.2 479.8h3.7l1 1.8h-3.8zM238.9 477.9h5.5l1.2 1.9h-5.6zM241.3 476.2h7l1.5 1.7h-7.2zM207.7 474.5h6.8l.4 1.7h-7zM144.7 472.9h11.6l-1.4 1.6h-12zM210.7 472.9h5l.5 1.6h-5.1z"/>
<path fill="#fff799" stroke="#fff799" stroke-width="0.4" d="M123 666.7h7.3l.9 .3h-7.3zM145 666.7h2.9l.7 .3h-2.9zM164.1 666.7h5.8l.4 .3h-5.8zM174.3 666.7h4.4l.3 .3h-4.4zM278.5 666.7h1.4l-.9 .3h-1.5zM290.2 666.7h5.9l-1.2 .3h-5.8zM128.4 665.8h13.6l1.5 .9h-13.2zM167.6 665.8h9l.7 .9h-8.8zM262.5 665.8h7.6l-1.9 .9h-7.3zM280.6 665.8h3l-2.2 .9h-2.9zM292.7 665.8h4.5l-2.6 .9h-4.4zM166.6 664.8h9.4l.6 1h-9zM264.4 664.8h9.3l-2.1 1h-9.1zM283 664.8h3.1l-2.5 1h-3zM293.8 664.8h3.1l-2.7 1h-3zM167.2 663.6h6.4l.8 1.2h-6.2zM263.2 663.6h12.8l-2.3 1.2h-12.4zM290.4 663.6h6.3l-2.9 1.2h-6.2zM263.5 662.2h3.3l-2 1.4h-3.2zM276.7 662.2h3.3l-2.4 1.4h-3.2zM269 660.6h6.8l-2.4 1.6h-6.6zM277.5 660.6h6.8l-2.6 1.6h-6.6zM262 653.5h15.3l-1.9 1.8h-14.9zM261.5 651.5h15.7l-1.8 2h-15.3zM288.9 651.5h31.3l-2.8 2h-30.5zM262.9 649.6h12l-1.6 1.9h-11.8zM276.9 649.6h2l-1.7 1.9h-2zM314.8 649.6h12l-2.7 1.9h-11.8zM278.5 647.6h8.2l-1.8 2h-8zM288.7 647.6h2l-1.8 2h-2zM303 647.6h18.3l-2.5 2h-17.9zM278 645.5h8.3l-1.7 2.1h-8.1zM303 645.5h2.1l-2.1 2.1h-2.1zM307.2 645.5h4.1l-2.2 2.1h-4.1zM148 643.4h2.2l.9 2.1h-2.1zM135.2 634.8h4.5l1 2.2h-4.5zM136.5 632.6h2.3l.9 2.2h-2.2zM127.6 628.1h2.3l1 2.2h-2.4zM265.3 628.1h2.4l-.9 2.2h-2.4zM126.7 625.8h2.4l.8 2.3h-2.3zM266.1 625.8h2.4l-.8 2.3h-2.4zM127.4 621.2h2.5l.8 2.3h-2.5zM368.5 621.2h2.5l-1.9 2.3h-2.5zM131.6 618.9h5l.7 2.3h-5zM136 616.6h2.5l.6 2.3h-2.5zM346.9 616.6h2.5l-1.4 2.3h-2.5zM374.5 616.6h2.6l-1.8 2.3h-2.5zM345.7 614.3h5.1l-1.4 2.3h-5zM376.1 614.3h5.1l-1.6 2.3h-5.1zM129.7 611.9h2.6l.5 2.4h-2.5zM139.9 611.9h2.6l.5 2.4h-2.6zM346.9 611.9h2.6l-1.2 2.4h-2.6zM352.1 611.9h2.5l-1.3 2.4h-2.5zM129.2 609.6h2.6l.5 2.3h-2.6zM142.1 609.6h2.5l.5 2.3h-2.6zM317.2 609.6h5.1l-.9 2.3h-5.1zM342.9 609.6h2.6l-1.1 2.3h-2.6zM128.7 607.3h2.6l.5 2.3h-2.6zM144.2 607.3h2.6l.4 2.3h-2.6zM216.9 607.3h2.6l-.2 2.3h-2.6zM318 607.3h10.4l-.9 2.3h-10.3zM349.1 607.3h5.2l-1.1 2.3h-5.1zM128.2 604.9h5.2l.5 2.4h-5.2zM224.8 604.9h2.6l-.2 2.4h-2.6zM318.8 604.9h5.2l-.8 2.4h-5.2zM352.7 604.9h2.6l-1 2.4h-2.6zM357.9 604.9h2.7l-1.1 2.4h-2.6zM127.8 602.6h2.6l.4 2.3h-2.6zM143.5 602.6h2.7l.3 2.3h-2.6zM230.2 602.6h5.2l-.2 2.3h-5.2zM324.7 602.6h2.7l-.8 2.3h-2.6zM345.7 602.6h7.9l-.9 2.3h-7.8zM356.2 602.6h5.3l-.9 2.3h-5.3zM140.6 600.3h7.9l.3 2.3h-7.9zM230.4 600.3h2.6l-.2 2.3h-2.6zM330.6 600.3h2.7l-.7 2.3h-2.6zM351.8 600.3h5.2l-.8 2.3h-5.2zM359.7 600.3h2.6l-.8 2.3h-2.6zM127.1 597.9h2.7l.3 2.4h-2.7zM137.7 597.9h2.7l.2 2.4h-2.6zM227.8 597.9h2.7l-.1 2.4h-2.7zM246.4 597.9h2.6l-.2 2.4h-2.6zM323.3 597.9h5.3l-.6 2.4h-5.3zM352.4 597.9h2.7l-.7 2.4h-2.6zM357.7 597.9h2.7l-.7 2.4h-2.7zM137.5 595.6h2.6l.3 2.3h-2.7zM227.9 595.6h2.7l-.1 2.3h-2.7zM235.9 595.6h2.7l-.2 2.3h-2.6zM246.6 595.6h2.6l-.2 2.3h-2.6zM321.1 595.6h2.6l-.4 2.3h-2.7zM339.7 595.6h2.7l-.6 2.3h-2.6zM353 595.6h10.6l-.6 2.3h-10.6zM137.3 593.3h2.6l.2 2.3h-2.6zM340.2 593.3h2.6l-.4 2.3h-2.7zM358.9 593.3h2.6l-.5 2.3h-2.7zM137.1 590.9h2.6l.2 2.4h-2.6zM155.8 590.9h2.7l.1 2.4h-2.7zM346 590.9h2.7l-.5 2.4h-2.7zM354 590.9h5.4l-.5 2.4h-5.4zM126.1 588.6h2.7l.2 2.3h-2.7zM134.2 588.6h2.7l.2 2.3h-2.7zM153 588.6h2.7l.1 2.3h-2.7zM252.4 588.6h2.7l-.2 2.3h-2.7zM338.4 588.6h5.3l-.4 2.3h-5.4zM351.8 588.6h2.7l-.5 2.3h-2.7zM131.3 586.2h5.4l.2 2.4h-5.4zM225.6 586.2h2.7l-.1 2.4h-2.7zM231 586.2h2.7l-.1 2.4h-2.7zM333.4 586.2h2.7l-.4 2.4h-2.7zM352.2 586.2h2.7l-.4 2.4h-2.7zM128.4 583.9h5.4l.2 2.3h-5.4zM150 583.9h2.7l.1 2.3h-2.6zM212.2 583.9h2.7l-.1 2.3h-2.7zM250 583.9h5.4l-.2 2.3h-5.4zM336.4 583.9h5.4l-.3 2.3h-5.4zM355.3 583.9h2.7l-.4 2.3h-2.7zM125.6 581.6h8.1l.1 2.3h-8.1zM228.4 581.6h5.4l0 2.3h-5.4zM252.8 581.6h2.7l-.1 2.3h-2.7zM339.4 581.6h2.7l-.3 2.3h-2.7zM344.8 581.6h5.4l-.3 2.3h-5.4zM122.7 579.2h2.8l.1 2.4h-2.7zM136.3 579.2h8.1l.1 2.4h-8.1zM228.5 579.2h5.4l-.1 2.4h-5.4zM328.8 579.2h2.7l-.2 2.4h-2.7zM358.6 579.2h5.4l-.3 2.4h-5.4zM160.6 576.9h2.8l0 2.3h-2.7zM231.2 576.9h5.4l0 2.3h-5.4zM323.5 576.9h13.6l-.2 2.3h-13.6zM356.1 576.9h5.4l-.2 2.3h-5.4zM111.7 574.6h2.7l.1 2.3h-2.7zM122.6 574.6h2.7l0 2.3h-2.7zM141.6 574.6h2.7l.1 2.3h-2.8zM160.6 574.6h2.7l.1 2.3h-2.8zM212.2 574.6h2.7l0 2.3h-2.7zM228.5 574.6h5.5l-.1 2.3h-5.4zM318.2 574.6h2.7l-.1 2.3h-2.7zM348.1 574.6h5.4l-.1 2.3h-5.5zM356.3 574.6h5.4l-.2 2.3h-5.4zM111.6 572.2h2.7l.1 2.4h-2.7zM130.6 572.2h2.8l0 2.4h-2.7zM136.1 572.2h5.4l.1 2.4h-5.5zM147 572.2h2.7l0 2.4h-2.7zM225.8 572.2h2.8l-.1 2.4h-2.7zM231.3 572.2h5.4l0 2.4h-5.4zM331.9 572.2h2.7l-.1 2.4h-2.7zM345.5 572.2h2.7l-.1 2.4h-2.7zM350.9 572.2h2.8l-.2 2.4h-2.7zM364.5 572.2h2.8l-.2 2.4h-2.7zM111.6 569.9h2.7l0 2.3h-2.7zM122.4 569.9h2.8l0 2.3h-2.7zM138.8 569.9h2.7l0 2.3h-2.7zM144.2 569.9h10.9l0 2.3h-10.9zM209.5 569.9h2.7l0 2.3h-2.7zM310.2 569.9h5.5l-.1 2.3h-5.5zM318.4 569.9h2.7l-.1 2.3h-2.7zM329.3 569.9h2.7l-.1 2.3h-2.7zM337.4 569.9h5.5l-.1 2.3h-5.5zM345.6 569.9h2.7l-.1 2.3h-2.7zM111.5 567.6h2.8l0 2.3h-2.7zM125.1 567.6h2.8l0 2.3h-2.7zM136 567.6h2.8l0 2.3h-2.8zM144.2 567.6h2.7l0 2.3h-2.7zM209.5 567.6h2.7l0 2.3h-2.7zM225.9 567.6h2.7l0 2.3h-2.7zM234 567.6h2.8l-.1 2.3h-2.7zM310.2 567.6h2.8l-.1 2.3h-2.7zM318.4 567.6h2.7l0 2.3h-2.7zM323.9 567.6h5.4l0 2.3h-5.5zM332 567.6h2.8l-.1 2.3h-2.7zM345.6 567.6h2.8l-.1 2.3h-2.7zM111.6 565.2h16.3l0 2.4h-16.4zM138.8 565.2h2.7l0 2.4h-2.7zM247.6 565.2h2.7l.1 2.4h-2.8zM307.5 565.2h2.7l0 2.4h-2.7zM318.4 565.2h2.7l0 2.4h-2.7zM326.5 565.2h13.6l.1 2.4h-13.6zM114.3 562.9h5.5l-.1 2.3h-5.4zM122.5 562.9h2.7l0 2.3h-2.8zM136.1 562.9h5.4l0 2.3h-5.5zM234 562.9h2.7l0 2.3h-2.7zM250.3 562.9h2.7l.1 2.3h-2.8zM304.7 562.9h8.2l0 2.3h-8.1zM318.3 562.9h8.2l0 2.3h-8.1zM117.1 560.5h2.7l0 2.4h-2.8zM125.3 560.5h8.1l0 2.4h-8.2zM206.8 560.5h2.7l0 2.4h-2.7zM304.6 560.5h5.5l0 2.4h-5.4zM117.2 558.2h2.7l-.1 2.3h-2.7zM130.8 558.2h8.1l0 2.3h-8.2zM252.9 558.2h2.7l.1 2.3h-2.7zM288.2 558.2h2.7l.1 2.3h-2.7zM323.5 558.2h2.7l.2 2.3h-2.8zM334.4 558.2h2.7l.1 2.3h-2.7zM109.2 555.9h5.4l-.1 2.3h-5.4zM117.3 555.9h2.7l-.1 2.3h-2.7zM133.6 555.9h2.7l-.1 2.3h-2.7zM206.8 555.9h2.7l0 2.3h-2.7zM212.2 555.9h2.7l0 2.3h-2.7zM228.5 555.9h2.7l0 2.3h-2.7zM250.2 555.9h5.4l0 2.3h-5.4zM282.7 555.9h5.4l.1 2.3h-5.4zM326.1 555.9h2.7l.1 2.3h-2.7zM331.5 555.9h2.7l.2 2.3h-2.7zM106.6 553.5h2.7l-.1 2.4h-2.7zM122.9 553.5h2.7l-.1 2.4h-2.8zM193.2 553.5h2.7l0 2.4h-2.7zM206.8 553.5h5.4l0 2.4h-5.4zM214.9 553.5h2.7l0 2.4h-2.7zM223 553.5h10.8l.1 2.4h-10.9zM279.8 553.5h2.7l.2 2.4h-2.7zM285.3 553.5h2.7l.1 2.4h-2.7zM315 553.5h2.7l.2 2.4h-2.7zM331.3 553.5h2.7l.2 2.4h-2.7zM120.3 551.2h2.7l-.1 2.3h-2.7zM195.9 551.2h2.7l0 2.3h-2.7zM214.9 551.2h2.7l0 2.3h-2.7zM228.4 551.2h5.4l0 2.3h-5.4zM252.7 551.2h2.7l.1 2.3h-2.7zM99 548.9h2.7l-.3 2.3h-2.7zM214.8 548.9h2.7l.1 2.3h-2.7zM228.3 548.9h2.7l.1 2.3h-2.7zM247.2 548.9h2.6l.2 2.3h-2.7zM252.5 548.9h2.7l.2 2.3h-2.7zM317.2 548.9h2.7l.3 2.3h-2.7zM328 548.9h5.4l.3 2.3h-5.4zM93.9 546.5h2.7l-.3 2.4h-2.7zM209.4 546.5h10.8l0 2.4h-10.8zM230.9 546.5h5.4l.1 2.4h-5.4zM244.3 546.5h5.4l.1 2.4h-5.3zM252.4 546.5h2.7l.1 2.4h-2.7zM314.2 546.5h2.7l.3 2.4h-2.7zM327.6 546.5h5.4l.4 2.4h-5.4zM115.6 544.2h2.7l-.2 2.3h-2.7zM121 544.2h2.7l-.3 2.3h-2.7zM126.3 544.2h2.7l-.2 2.3h-2.7zM185.3 544.2h2.6l0 2.3h-2.7zM212.1 544.2h10.7l0 2.3h-10.7zM230.8 544.2h5.4l.1 2.3h-5.4zM249.6 544.2h2.6l.2 2.3h-2.7zM257.6 544.2h2.7l.2 2.3h-2.7zM276.3 544.2h2.7l.3 2.3h-2.7zM316.5 544.2h2.7l.4 2.3h-2.7zM327.2 544.2h2.7l.4 2.3h-2.7zM86.5 541.8h2.7l-.4 2.4h-2.6zM105.2 541.8h2.7l-.3 2.4h-2.7zM115.9 541.8h5.3l-.2 2.4h-5.4zM188 541.8h2.7l-.1 2.4h-2.7zM220 541.8h2.7l.1 2.4h-2.7zM225.4 541.8h2.6l.1 2.4h-2.7zM236 541.8h2.7l.1 2.4h-2.6zM244.1 541.8h5.3l.2 2.4h-5.4zM252.1 541.8h2.6l.2 2.4h-2.7zM257.4 541.8h5.3l.2 2.4h-5.3zM289.4 541.8h2.7l.3 2.4h-2.7zM308.1 541.8h2.7l.4 2.4h-2.7zM316.1 541.8h2.7l.4 2.4h-2.7zM108.2 539.5h8l-.3 2.3h-8zM201.3 539.5h2.7l0 2.3h-2.7zM209.3 539.5h5.3l.1 2.3h-5.4zM217.3 539.5h2.7l0 2.3h-2.6zM235.9 539.5h2.7l.1 2.3h-2.7zM249.2 539.5h5.3l.2 2.3h-5.3zM257.2 539.5h8l.2 2.3h-8zM273.2 539.5h2.6l.3 2.3h-2.7zM289.1 539.5h8l.4 2.3h-8.1zM313.1 539.5h5.3l.4 2.3h-5.3zM201.3 537.2h2.7l0 2.3h-2.7zM241.1 537.2h2.6l.2 2.3h-2.7zM251.7 537.2h2.6l.2 2.3h-2.6zM257 537.2h5.3l.2 2.3h-5.3zM270.2 537.2h2.7l.3 2.3h-2.7zM275.5 537.2h2.7l.3 2.3h-2.7zM288.8 537.2h2.7l.3 2.3h-2.7zM312.7 537.2h2.6l.4 2.3h-2.6zM318 537.2h10.6l.5 2.3h-10.7zM79.9 534.8h2.7l-.6 2.4h-2.6zM85.2 534.8h2.6l-.5 2.4h-2.6zM90.5 534.8h2.6l-.5 2.4h-2.6zM217.2 534.8h2.6l.1 2.4h-2.7zM240.9 534.8h10.6l.2 2.4h-10.6zM254.1 534.8h7.9l.3 2.4h-8zM264.7 534.8h13.2l.3 2.4h-13.3zM285.8 534.8h5.3l.4 2.4h-5.3zM293.7 534.8h2.6l.5 2.4h-2.7zM306.9 534.8h2.6l.5 2.4h-2.6zM80.5 532.5h5.3l-.6 2.3h-5.3zM93.7 532.5h5.2l-.5 2.3h-5.3zM112 532.5h5.3l-.4 2.3h-5.3zM222.3 532.5h2.6l.2 2.3h-2.7zM227.6 532.5h2.6l.2 2.3h-2.7zM248.6 532.5h10.5l.3 2.3h-10.6zM264.3 532.5h10.5l.4 2.3h-10.5zM81.2 530.2h2.6l-.6 2.3h-2.7zM89 530.2h5.3l-.6 2.3h-5.3zM96.9 530.2h7.8l-.5 2.3h-7.9zM112.5 530.2h2.7l-.5 2.3h-2.7zM209.1 530.2h2.6l.1 2.3h-2.6zM240.5 530.2h5.2l.3 2.3h-5.3zM256.1 530.2h2.6l.4 2.3h-2.6zM264 530.2h2.6l.4 2.3h-2.7zM269.2 530.2h5.2l.4 2.3h-5.2zM305.7 530.2h2.6l.7 2.3h-2.7zM316.2 530.2h2.6l.7 2.3h-2.7zM82 527.8h2.6l-.8 2.4h-2.6zM97.5 527.8h2.6l-.6 2.4h-2.6zM105.3 527.8h5.2l-.6 2.4h-5.2zM209.1 527.8h2.6l0 2.4h-2.6zM219.5 527.8h2.5l.2 2.4h-2.6zM237.6 527.8h2.6l.3 2.4h-2.6zM250.6 527.8h10.4l.4 2.4h-10.5zM266.1 527.8h5.2l.5 2.4h-5.2zM310.2 527.8h2.6l.8 2.4h-2.6zM77.7 525.5h5.1l-.8 2.3h-5.2zM193.6 525.5h2.5l0 2.3h-2.6zM242.5 525.5h2.6l.3 2.3h-2.6zM252.8 525.5h7.7l.5 2.3h-7.8zM265.7 525.5h5.1l.5 2.3h-5.2zM304.3 525.5h2.6l.7 2.3h-2.6zM335.2 525.5h5.2l1 2.3h-5.2zM81.2 523.2h2.5l-.9 2.3h-2.6zM96.5 523.2h2.6l-.8 2.3h-2.6zM196.2 523.2h2.5l0 2.3h-2.6zM203.8 523.2h2.6l0 2.3h-2.5zM208.9 523.2h2.6l.1 2.3h-2.6zM224.3 523.2h2.5l.2 2.3h-2.5zM234.5 523.2h10.2l.4 2.3h-10.3zM260.1 523.2h5.1l.5 2.3h-5.2zM272.8 523.2h2.6l.6 2.3h-2.6zM280.5 523.2h2.6l.6 2.3h-2.6zM329.1 523.2h2.5l1 2.3h-2.5zM334.2 523.2h2.5l1.1 2.3h-2.6zM339.3 523.2h2.5l1.1 2.3h-2.5zM82.1 520.8h2.6l-1 2.4h-2.5zM97.4 520.8h2.5l-.8 2.4h-2.6zM117.6 520.8h2.6l-.7 2.4h-2.6zM191.1 520.8h5.1l0 2.4h-5.1zM206.3 520.8h5.1l.1 2.4h-5.1zM213.9 520.8h2.6l.1 2.4h-2.5zM226.6 520.8h2.5l.3 2.4h-2.6zM236.7 520.8h2.6l.3 2.4h-2.5zM264.6 520.8h2.6l.5 2.4h-2.5zM269.7 520.8h5.1l.6 2.4h-5.1zM279.8 520.8h2.6l.7 2.4h-2.6zM284.9 520.8h5.1l.7 2.4h-5.1zM302.6 520.8h2.6l.9 2.4h-2.6zM325.5 520.8h2.5l1.1 2.4h-2.6zM330.5 520.8h2.6l1.1 2.4h-2.6zM75.7 518.5h2.5l-1.1 2.3h-2.6zM83.2 518.5h2.5l-1 2.3h-2.6zM90.8 518.5h5l-1 2.3h-5zM115.9 518.5h2.5l-.8 2.3h-2.5zM120.9 518.5h2.5l-.7 2.3h-2.5zM193.7 518.5h2.5l0 2.3h-2.5zM198.7 518.5h2.6l0 2.3h-2.6zM216.3 518.5h2.5l.2 2.3h-2.5zM233.9 518.5h2.5l.3 2.3h-2.5zM274.1 518.5h2.5l.7 2.3h-2.5zM289.2 518.5h2.5l.8 2.3h-2.5zM326.8 518.5h2.5l1.2 2.3h-2.5zM341.9 518.5h2.5l1.3 2.3h-2.5zM111.7 516.2h7.5l-.8 2.3h-7.6zM196.3 516.2h2.5l-.1 2.3h-2.5zM211.2 516.2h5l.1 2.3h-5zM218.6 516.2h2.5l.2 2.3h-2.5zM290.8 516.2h2.4l1 2.3h-2.5zM328.1 516.2h2.4l1.4 2.3h-2.6zM75.8 513.9h4.9l-1.3 2.3h-5zM83.1 513.9h5l-1.2 2.3h-5zM93 513.9h2.4l-1.1 2.3h-2.5zM216 513.9h2.5l.1 2.3h-2.4zM220.9 513.9h2.5l.2 2.3h-2.5zM233.2 513.9h2.5l.4 2.3h-2.5zM319.3 513.9h2.5l1.3 2.3h-2.5zM339 513.9h4.9l1.6 2.3h-5zM79.6 511.6h4.8l-1.3 2.3h-4.9zM116.1 511.6h2.4l-.9 2.3h-2.5zM130.7 511.6h2.4l-.8 2.3h-2.4zM138 511.6h2.4l-.7 2.3h-2.4zM218.2 511.6h2.5l.2 2.3h-2.4zM223.1 511.6h2.4l.3 2.3h-2.4zM296.1 511.6h4.9l1.1 2.3h-4.9zM318 511.6h2.4l1.4 2.3h-2.5zM78.6 509.3h2.4l-1.4 2.3h-2.5zM85.8 509.3h4.8l-1.3 2.3h-4.9zM114.6 509.3h7.3l-1 2.3h-7.3zM131.5 509.3h2.4l-.8 2.3h-2.4zM138.7 509.3h4.8l-.7 2.3h-4.8zM145.9 509.3h2.4l-.6 2.3h-2.4zM220.4 509.3h2.4l.3 2.3h-2.4zM225.2 509.3h9.7l.4 2.3h-9.8zM244.5 509.3h2.4l.5 2.3h-2.4zM266.1 509.3h2.4l.8 2.3h-2.4zM328.6 509.3h4.8l1.6 2.3h-4.8zM84.8 507h4.8l-1.4 2.3h-4.8zM113.3 507h2.4l-1.1 2.3h-2.4zM118.1 507h2.3l-.9 2.3h-2.5zM134.7 507h4.7l-.7 2.3h-4.8zM141.8 507h4.8l-.7 2.3h-4.8zM148.9 507h2.4l-.6 2.3h-2.4zM201.2 507h2.4l0 2.3h-2.4zM217.8 507h7.1l.3 2.3h-7.2zM234.4 507h4.8l.5 2.3h-4.8zM243.9 507h4.8l.6 2.3h-4.8zM251.1 507h2.3l.7 2.3h-2.4zM255.8 507h9.5l.8 2.3h-9.6zM272.4 507h4.8l.9 2.3h-4.8zM279.6 507h4.7l1.1 2.3h-4.9zM289.1 507h2.3l1.2 2.3h-2.4zM324.7 507h2.3l1.6 2.3h-2.4zM334.2 507h2.3l1.8 2.3h-2.5zM79.3 504.8h2.4l-1.6 2.2h-2.4zM86.4 504.8h4.7l-1.5 2.2h-4.8zM95.7 504.8h2.4l-1.4 2.2h-2.4zM114.5 504.8h4.7l-1.1 2.2h-4.8zM123.9 504.8h2.3l-1 2.2h-2.4zM142.6 504.8h2.3l-.7 2.2h-2.4zM217.6 504.8h2.3l.3 2.2h-2.4zM224.6 504.8h2.3l.4 2.2h-2.4zM229.3 504.8h18.7l.7 2.2h-19zM252.7 504.8h7l.9 2.2h-7.2zM271.5 504.8h2.3l1 2.2h-2.4zM283.2 504.8h2.3l1.2 2.2h-2.4zM290.2 504.8h2.3l1.3 2.2h-2.4zM294.9 504.8h2.3l1.3 2.2h-2.3zM323 504.8h2.4l1.6 2.2h-2.3zM332.4 504.8h2.3l1.8 2.2h-2.3zM81.1 502.5h6.9l-1.6 2.3h-7.1zM94.9 502.5h11.6l-1.4 2.3h-11.7zM111.1 502.5h2.3l-1.3 2.3h-2.3zM115.7 502.5h4.6l-1.1 2.3h-4.7zM134.2 502.5h4.6l-.9 2.3h-4.7zM141.1 502.5h2.3l-.8 2.3h-2.3zM217.3 502.5h4.6l.4 2.3h-4.7zM233.5 502.5h6.9l.6 2.3h-7zM263.5 502.5h2.3l1 2.3h-2.4zM321.2 502.5h2.4l1.8 2.3h-2.4zM325.9 502.5h2.3l1.8 2.3h-2.3zM330.5 502.5h2.3l1.9 2.3h-2.3zM94.3 500.3h2.2l-1.6 2.2h-2.3zM107.9 500.3h2.3l-1.4 2.2h-2.3zM112.4 500.3h4.6l-1.3 2.2h-4.6zM119.3 500.3h4.5l-1.2 2.2h-4.6zM130.6 500.3h2.3l-1 2.2h-2.3zM137.5 500.3h4.5l-.9 2.2h-4.6zM208 500.3h2.2l.2 2.2h-2.3zM212.5 500.3h2.3l.2 2.2h-2.3zM217.1 500.3h2.2l.3 2.2h-2.3zM230.7 500.3h2.3l.5 2.2h-2.3zM248.9 500.3h2.3l.8 2.2h-2.3zM262.5 500.3h2.3l1 2.2h-2.3zM298.9 500.3h2.3l1.6 2.2h-2.3zM314.8 500.3h2.3l1.8 2.2h-2.3zM328.5 500.3h2.3l2 2.2h-2.3zM339.9 500.3h2.2l2.2 2.2h-2.3zM53.4 498.1h2.3l-2.4 2.2h-2.3zM113.9 498.1h2.2l-1.4 2.2h-2.3zM131.8 498.1h4.4l-1 2.2h-4.6zM138.5 498.1h2.2l-1 2.2h-2.2zM142.9 498.1h2.3l-.9 2.2h-2.3zM207.8 498.1h20.2l.4 2.2h-20.4zM232.4 498.1h2.3l.5 2.2h-2.2zM252.6 498.1h2.2l.9 2.2h-2.3zM299.6 498.1h2.2l1.7 2.2h-2.3zM313 498.1h2.2l1.9 2.2h-2.3zM342.1 498.1h4.5l2.4 2.2h-4.6zM60.3 495.9h4.4l-2.3 2.2h-4.5zM91.1 495.9h2.2l-1.8 2.2h-2.3zM99.9 495.9h2.2l-1.7 2.2h-2.2zM132.9 495.9h6.6l-1 2.2h-6.7zM143.9 495.9h2.2l-.9 2.2h-2.3zM194.5 495.9h2.2l-.1 2.2h-2.2zM212.1 495.9h2.2l.2 2.2h-2.2zM216.5 495.9h4.4l.4 2.2h-4.5zM225.3 495.9h2.2l.5 2.2h-2.3zM242.9 495.9h2.2l.8 2.2h-2.3zM280.3 495.9h2.2l1.4 2.2h-2.2zM319.9 495.9h4.4l2.1 2.2h-4.5zM60.6 493.8h2.2l-2.5 2.1h-2.2zM64.9 493.8h2.2l-2.4 2.1h-2.2zM73.6 493.8h2.1l-2.2 2.1h-2.2zM93 493.8h2.2l-1.9 2.1h-2.2zM131.9 493.8h6.5l-1.1 2.1h-6.6zM160 493.8h2.2l-.7 2.1h-2.2zM205.4 493.8h4.3l.2 2.1h-4.4zM211.9 493.8h2.1l.3 2.1h-2.2zM216.2 493.8h4.3l.4 2.1h-4.4zM222.7 493.8h2.2l.4 2.1h-2.2zM229.2 493.8h4.3l.6 2.1h-4.4zM240 493.8h2.1l.8 2.1h-2.2zM261.6 493.8h2.1l1.2 2.1h-2.2zM296.2 493.8h2.1l1.8 2.1h-2.2zM307 493.8h4.3l2 2.1h-4.4zM315.6 493.8h6.5l2.2 2.1h-6.6zM326.4 493.8h2.2l2.3 2.1h-2.2zM330.7 493.8h2.2l2.4 2.1h-2.2zM337.2 493.8h4.3l2.6 2.1h-4.4zM345.9 493.8h2.1l2.7 2.1h-2.2zM61.1 491.7h4.2l-2.5 2.1h-4.3zM80.2 491.7h2.1l-2.2 2.1h-2.2zM84.4 491.7h4.2l-2 2.1h-4.4zM92.9 491.7h2.1l-2 2.1h-2.1zM133.2 491.7h10.6l-1.1 2.1h-10.8zM156.5 491.7h4.3l-.8 2.1h-4.3zM162.9 491.7h2.1l-.7 2.1h-2.1zM205.3 491.7h2.1l.2 2.1h-2.2zM209.5 491.7h4.3l.2 2.1h-4.3zM215.9 491.7h6.4l.4 2.1h-6.5zM226.5 491.7h2.1l.6 2.1h-2.2zM230.8 491.7h4.2l.7 2.1h-4.4zM237.1 491.7h2.1l.8 2.1h-2.2zM243.5 491.7h2.1l.9 2.1h-2.2zM262.6 491.7h2.1l1.2 2.1h-2.2zM296.5 491.7h2.1l1.9 2.1h-2.2zM315.6 491.7h4.2l2.3 2.1h-4.3zM326.2 491.7h2.1l2.4 2.1h-2.1zM332.6 491.7h4.2l2.6 2.1h-4.3zM343.2 491.7h4.2l2.8 2.1h-4.3zM61.6 489.6h4.2l-2.6 2.1h-4.3zM67.9 489.6h2.1l-2.6 2.1h-2.1zM84.5 489.6h8.3l-2 2.1h-8.5zM94.9 489.6h2.1l-2 2.1h-2.1zM132.4 489.6h12.5l-1.1 2.1h-12.7zM157.3 489.6h2.1l-.8 2.1h-2.1zM163.6 489.6h2.1l-.7 2.1h-2.1zM180.2 489.6h6.3l-.3 2.1h-6.4zM205.2 489.6h2.1l.1 2.1h-2.1zM209.4 489.6h6.2l.3 2.1h-6.4zM219.8 489.6h4.1l.5 2.1h-4.2zM226 489.6h10.4l.7 2.1h-10.6zM240.6 489.6h2.1l.8 2.1h-2.1zM253.1 489.6h2l1.1 2.1h-2.1zM261.4 489.6h2.1l1.2 2.1h-2.1zM265.5 489.6h6.3l1.4 2.1h-6.4zM282.2 489.6h2.1l1.6 2.1h-2.1zM288.4 489.6h2.1l1.8 2.1h-2.1zM303 489.6h2.1l2 2.1h-2.1zM307.2 489.6h4.1l2.2 2.1h-4.3zM315.5 489.6h4.1l2.4 2.1h-4.3zM321.7 489.6h2.1l2.4 2.1h-2.1zM325.9 489.6h2.1l2.5 2.1h-2.2zM340.4 489.6h2.1l2.8 2.1h-2.1zM344.6 489.6h4.2l2.9 2.1h-4.3zM53.2 487.5h11.2l-2.8 2.1h-11.4zM68.5 487.5h4l-2.5 2.1h-4.2zM84.8 487.5h8.1l-2.1 2.1h-8.4zM95 487.5h2l-2.1 2.1h-2.1zM99.1 487.5h4l-1.9 2.1h-4.2zM115.4 487.5h6.1l-1.6 2.1h-6.2zM123.5 487.5h12.3l-1.3 2.1h-12.5zM137.8 487.5h12.2l-1 2.1h-12.5zM158.2 487.5h2l-.8 2.1h-2.1zM182.7 487.5h6.1l-.2 2.1h-6.3zM217.3 487.5h2.1l.4 2.1h-2.1zM221.4 487.5h8.2l.6 2.1h-8.4zM233.6 487.5h2.1l.7 2.1h-2.1zM237.7 487.5h6.1l.9 2.1h-6.2zM245.9 487.5h8.1l1.1 2.1h-8.3zM256.1 487.5h8.1l1.3 2.1h-8.3zM266.3 487.5h4.1l1.4 2.1h-4.2zM272.4 487.5h2l1.5 2.1h-2zM278.5 487.5h4.1l1.7 2.1h-4.2zM286.7 487.5h14.2l2.1 2.1h-14.6zM307.1 487.5h4l2.3 2.1h-4.2zM315.2 487.5h2.1l2.3 2.1h-2zM345.8 487.5h1l3 2.1h-1zM56.2 485.5h7l-2.9 2h-7.1zM69.2 485.5h4l-2.7 2h-4.1zM83.2 485.5h2l-2.5 2h-2zM87.2 485.5h13.9l-2 2h-14.3zM103.1 485.5h2l-2 2h-2zM109.1 485.5h4l-1.8 2h-4.1zM115.1 485.5h2l-1.7 2h-2.1zM119.1 485.5h6l-1.6 2h-6.1zM127.1 485.5h6l-1.4 2h-6.1zM137.1 485.5h14l-1.1 2h-14.2zM159.1 485.5h2l-.9 2h-2zM175 485.5h2l-.5 2h-2zM211 485.5h22l.6 2h-22.4zM238.9 485.5h4l.9 2h-4zM244.9 485.5h12l1.2 2h-12.2zM258.9 485.5h34l1.9 2h-34.6zM294.9 485.5h4l2 2h-4zM302.8 485.5h4l2.3 2h-4.1zM310.8 485.5h2l2.4 2h-2zM314.8 485.5h2l2.5 2h-2zM338.8 485.5h5l3 2h-5.1zM59.3 483.6h1l-3.1 1.9h-1zM70.1 483.6h1.9l-2.8 1.9h-2zM74 483.6h1.9l-2.7 1.9h-2zM77.9 483.6h43l-1.8 1.9h-43.9zM124.8 483.6h1.9l-1.6 1.9h-2zM128.7 483.6h1.9l-1.5 1.9h-2zM144.3 483.6h2l-1.2 1.9h-2zM158 483.6h1.9l-.8 1.9h-2zM177.5 483.6h3.9l-.4 1.9h-4zM212.7 483.6h3.9l.4 1.9h-4zM218.6 483.6h11.7l.7 1.9h-12zM249.8 483.6h29.3l1.8 1.9h-30zM281.1 483.6h19.5l2.2 1.9h-19.9zM302.6 483.6h15.6l2.6 1.9h-16zM320.2 483.6h9.7l2.9 1.9h-10zM337.7 483.6h3l3.1 1.9h-3zM62.6 481.6h2.8l-3.1 2h-3zM76.9 481.6h9.5l-2.6 2h-9.8zM103.6 481.6h15.3l-1.9 2h-15.7zM159 481.6h1.9l-1 2h-1.9zM162.8 481.6h1.9l-.8 2h-2zM180 481.6h3.8l-.4 2h-3.9zM216.2 481.6h7.7l.5 2h-7.8zM250.6 481.6h63l2.6 2h-64.4zM319.3 481.6h1.9l2.9 2h-2zM336.5 481.6h.9l3.3 2h-1zM106 479.8h13l-2 1.8h-13.4zM180.5 479.8h3.7l-.4 1.8h-3.8zM249.3 479.8h7.5l1.4 1.8h-7.6zM258.6 479.8h37.3l2.4 1.8h-38.2zM303.3 479.8h5.6l2.8 1.8h-5.8zM108.5 477.9h14.5l-2.1 1.9h-14.9zM181 477.9h5.4l-.4 1.9h-5.5zM262.5 477.9h19.9l2.3 1.9h-20.5zM305.9 477.9h1.9l3 1.9h-1.9zM111.2 476.2h17.6l-2.1 1.7h-18.2zM132.3 476.2h15.8l-1.5 1.7h-16.3zM149.9 476.2h10.6l-1.2 1.7h-10.9zM183.3 476.2h3.5l-.4 1.7h-3.6zM209.7 476.2h3.5l.4 1.7h-3.6zM265.9 476.2h14.1l2.4 1.7h-14.5zM122.5 474.5h40.9l-1.2 1.7h-42.2zM182.1 474.5h6.8l-.3 1.7h-7.1zM214.5 474.5h3.4l.6 1.7h-3.6zM263.9 474.5h8.5l2.3 1.7h-8.8zM131.5 472.9h13.2l-1.8 1.6h-13.6zM156.3 472.9h9.9l-1.1 1.6h-10.2zM179.4 472.9h11.5l-.3 1.6h-11.9zM215.7 472.9h1.6l.6 1.6h-1.7zM261.9 472.9h1.6l2.1 1.6h-1.7zM140 471.5h49.6l-.3 1.4h-51.2z"/>
<path fill="#ffdd33" stroke="#ffdd33" stroke-width="0.4" d="M94.4 666.7h.7l1.3 .3h-.7zM109.8 666.7h13.2l.9 .3h-13zM147.9 666.7h16.2l.4 .3h-15.9zM178.7 666.7h7.4l.1 .3h-7.2zM200.7 666.7h14.7l-.2 .3h-14.5zM230.1 666.7h48.4l-1 .3h-47.8zM296.1 666.7h9.5l-1.3 .3h-9.4zM91.5 665.8h3.8l2.8 .9h-3.7zM114.9 665.8h13.5l1.9 .9h-13.2zM142 665.8h25.6l.9 .9h-25zM176.6 665.8h9.1l.4 .9h-8.8zM196.2 665.8h13.6l-.3 .9h-13.2zM238.4 665.8h4.5l-1.1 .9h-4.4zM250.5 665.8h12l-1.6 .9h-11.8zM270.1 665.8h10.5l-2.1 .9h-10.3zM297.2 665.8h11.3l-2.9 .9h-11zM88.3 664.8h11.6l2.9 1h-11.3zM115.5 664.8h29.4l1.6 1h-28.6zM162 664.8h4.6l1 1h-4.5zM176 664.8h27.9l-.1 1h-27.2zM248.9 664.8h15.5l-1.9 1h-15zM273.7 664.8h9.3l-2.4 1h-9zM296.9 664.8h14.8l-3.2 1h-14.3zM84.9 663.6h15.2l3 1.2h-14.8zM111.2 663.6h27.2l1.9 1.2h-26.4zM160.8 663.6h6.4l1 1.2h-6.2zM173.6 663.6h32l-.2 1.2h-31zM248.8 663.6h14.4l-1.9 1.2h-14zM276 663.6h14.4l-2.8 1.2h-13.9zM296.7 663.6h8l-3.1 1.2h-7.8zM312.7 663.6h2.4l-3.4 1.2h-2.3zM81.2 662.2h17.3l3.2 1.4h-16.8zM108.4 662.2h33l1.8 1.4h-32zM162.9 662.2h13.2l.7 1.4h-12.8zM187.6 662.2h23.1l-.3 1.4h-22.4zM255.3 662.2h8.2l-1.9 1.4h-8zM280 662.2h26.4l-3.3 1.4h-25.5zM314.7 662.2h4.1l-3.7 1.4h-4zM77.4 660.6h.8l3.8 1.6h-.8zM119.1 660.6h22.1l1.9 1.6h-21.5zM192.3 660.6h20.5l-.4 1.6h-19.8zM260.5 660.6h8.5l-2.2 1.6h-8.2zM284.3 660.6h15.3l-3.1 1.6h-14.8zM309.9 660.6h12.7l-3.8 1.6h-12.4zM118.3 658.9h28.1l1.6 1.7h-27.2zM193.8 658.9h15.9l-.3 1.7h-15.4zM264.2 658.9h61.5l-3.9 1.7h-59.6zM191.9 657.2h16.2l-.2 1.7h-15.8zM226.3 657.2h16.3l-1.3 1.7h-15.8zM260.7 657.2h9l-2 1.7h-8.8zM278.8 657.2h41.6l-3.5 1.7h-40.4zM186 655.3h24.2l-.2 1.9h-23.6zM223.3 655.3h102.4l-3.5 1.9h-99.6zM183.8 653.5h21l-.1 1.8h-20.5zM231.5 653.5h30.5l-1.5 1.8h-29.8zM277.3 653.5h53.5l-3.3 1.8h-52.1zM142.4 651.5h1.9l1.3 2h-1.9zM245.9 651.5h15.6l-1.4 2h-15.2zM320.2 651.5h13.6l-3 2h-13.4zM199 649.6h2l0 1.9h-2zM250.9 649.6h12l-1.4 1.9h-11.7zM268.3 647.6h10.2l-1.6 2h-10zM149 645.5h2.1l1 2.1h-2.1zM311.3 645.5h2.1l-2.3 2.1h-2zM150.2 643.4h2.1l.9 2.1h-2.1zM131.9 632.6h2.3l1 2.2h-2.3zM142.6 630.3h2.3l.8 2.3h-2.3zM366.1 621.2h2.4l-1.9 2.3h-2.4zM345.5 618.9h2.5l-1.6 2.3h-2.5zM367.8 618.9h5l-1.8 2.3h-4.9zM130.9 616.6h2.5l.7 2.3h-2.5zM372 616.6h2.5l-1.7 2.3h-2.5zM137.9 614.3h2.5l.6 2.3h-2.5zM137.4 611.9h2.5l.5 2.4h-2.5zM131.8 609.6h2.5l.5 2.3h-2.5zM139.5 609.6h2.6l.4 2.3h-2.6zM353.2 609.6h2.6l-1.2 2.3h-2.5zM139 607.3h5.2l.4 2.3h-5.1zM341.4 607.3h2.6l-1.1 2.3h-2.5zM354.3 607.3h5.2l-1.1 2.3h-5.2zM141.3 604.9h2.6l.3 2.4h-2.6zM344.9 604.9h2.6l-.9 2.4h-2.6zM355.3 604.9h2.6l-1 2.4h-2.6zM138.3 602.6h5.2l.4 2.3h-5.3zM335.2 602.6h2.7l-.8 2.3h-2.6zM325.4 600.3h2.6l-.6 2.3h-2.7zM135.1 597.9h2.6l.3 2.4h-2.7zM230.5 597.9h5.3l-.2 2.4h-5.2zM339.2 597.9h2.6l-.6 2.4h-2.6zM355.1 597.9h2.6l-.7 2.4h-2.6zM126.8 595.6h2.7l.3 2.3h-2.7zM230.6 595.6h2.7l-.2 2.3h-2.6zM345 595.6h2.7l-.6 2.3h-2.6zM126.6 593.3h2.6l.3 2.3h-2.7zM225.4 593.3h5.3l-.1 2.3h-5.3zM236 593.3h2.7l-.1 2.3h-2.7zM334.8 593.3h2.7l-.5 2.3h-2.6zM356.2 593.3h2.7l-.6 2.3h-2.6zM134.4 590.9h2.7l.2 2.4h-2.7zM225.4 590.9h5.4l-.1 2.4h-5.3zM155.7 588.6h2.7l.1 2.3h-2.7zM228.2 588.6h2.7l-.1 2.3h-2.7zM354.5 588.6h2.7l-.5 2.3h-2.7zM125.9 586.2h2.7l.2 2.4h-2.7zM152.8 586.2h2.7l.2 2.4h-2.7zM228.3 586.2h2.7l-.1 2.4h-2.7zM247.2 586.2h5.3l-.1 2.4h-5.4zM354.9 586.2h2.7l-.4 2.4h-2.7zM231.1 583.9h2.7l-.1 2.3h-2.7zM241.9 583.9h2.7l-.1 2.3h-2.7zM344.5 583.9h2.7l-.4 2.3h-2.6zM352.6 583.9h2.7l-.4 2.3h-2.7zM149.9 581.6h2.7l.1 2.3h-2.7zM158.1 581.6h2.7l0 2.3h-2.7zM217.6 581.6h2.7l0 2.3h-2.7zM125.5 579.2h8.1l.1 2.4h-8.1zM144.4 579.2h5.4l.1 2.4h-5.4zM242 579.2h2.7l0 2.4h-2.8zM122.6 576.9h5.5l.1 2.3h-5.5zM144.4 576.9h2.7l0 2.3h-2.7zM236.6 576.9h2.8l-.1 2.3h-2.7zM320.8 576.9h2.7l-.2 2.3h-2.7zM125.3 574.6h2.7l.1 2.3h-2.8zM130.7 574.6h2.7l.1 2.3h-2.7zM138.9 574.6h2.7l0 2.3h-2.7zM144.3 574.6h5.4l.1 2.3h-5.4zM234 574.6h2.7l-.1 2.3h-2.7zM320.9 574.6h2.7l-.1 2.3h-2.7zM114.3 572.2h2.7l.1 2.4h-2.7zM125.2 572.2h2.7l.1 2.4h-2.7zM144.2 572.2h2.8l0 2.4h-2.7zM152.4 572.2h2.7l.1 2.4h-2.8zM353.7 572.2h2.7l-.1 2.4h-2.8zM119.7 569.9h2.7l.1 2.3h-2.7zM234 569.9h2.7l0 2.3h-2.7zM321.1 569.9h5.4l0 2.3h-5.5zM353.8 569.9h2.7l-.1 2.3h-2.7zM119.7 567.6h2.7l0 2.3h-2.7zM133.3 567.6h2.7l0 2.3h-2.7zM149.6 567.6h2.8l0 2.3h-2.7zM321.1 567.6h2.8l-.1 2.3h-2.7zM337.5 567.6h2.7l-.1 2.3h-2.7zM141.5 565.2h2.7l0 2.4h-2.7zM310.2 565.2h2.7l.1 2.4h-2.8zM321.1 565.2h2.7l.1 2.4h-2.8zM125.2 562.9h5.4l0 2.3h-5.4zM141.5 562.9h2.7l0 2.3h-2.7zM244.9 562.9h5.4l0 2.3h-5.4zM114.4 560.5h2.7l-.1 2.4h-2.7zM119.8 560.5h5.5l-.1 2.4h-5.4zM136.1 560.5h5.5l-.1 2.4h-5.4zM234 560.5h2.7l0 2.4h-2.7zM247.6 560.5h5.4l0 2.4h-5.4zM323.6 560.5h2.8l.1 2.4h-2.8zM122.6 558.2h2.7l0 2.3h-2.7zM187.8 558.2h2.7l0 2.3h-2.7zM233.9 558.2h2.7l.1 2.3h-2.7zM244.8 558.2h2.7l.1 2.3h-2.8zM331.7 558.2h2.7l.1 2.3h-2.7zM120 555.9h5.5l-.2 2.3h-5.4zM334.2 555.9h2.7l.2 2.3h-2.7zM233.8 553.5h2.7l.1 2.4h-2.7zM247.4 553.5h2.7l.1 2.4h-2.8zM252.8 553.5h2.7l.1 2.4h-2.7zM282.5 553.5h2.8l.1 2.4h-2.7zM334 553.5h2.7l.2 2.4h-2.7zM106.8 551.2h2.7l-.2 2.3h-2.7zM212.2 551.2h2.7l0 2.3h-2.7zM223 551.2h5.4l0 2.3h-5.4zM233.8 551.2h5.4l0 2.3h-5.4zM244.6 551.2h2.7l.1 2.3h-2.7zM282.4 551.2h5.4l.2 2.3h-5.5zM109.7 548.9h2.7l-.2 2.3h-2.7zM212.1 548.9h2.7l.1 2.3h-2.7zM217.5 548.9h2.7l.1 2.3h-2.7zM233.7 548.9h2.7l.1 2.3h-2.7zM279.5 548.9h2.7l.2 2.3h-2.7zM284.9 548.9h2.7l.2 2.3h-2.7zM99.2 546.5h8.1l-.3 2.4h-8zM228.2 546.5h2.7l.1 2.4h-2.7zM241.6 546.5h2.7l.2 2.4h-2.7zM255.1 546.5h2.7l.1 2.4h-2.7zM287.3 546.5h2.7l.3 2.4h-2.7zM300.8 546.5h2.6l.3 2.4h-2.7zM96.9 544.2h2.7l-.4 2.3h-2.6zM102.2 544.2h5.4l-.3 2.3h-5.4zM225.4 544.2h2.7l.1 2.3h-2.7zM238.8 544.2h5.4l.1 2.3h-5.3zM254.9 544.2h2.7l.2 2.3h-2.7zM287.1 544.2h2.6l.3 2.3h-2.7zM198.7 541.8h2.6l0 2.4h-2.6zM249.4 541.8h2.7l.1 2.4h-2.6zM276.1 541.8h2.7l.2 2.4h-2.7zM204 539.5h2.7l0 2.3h-2.7zM241.2 539.5h5.4l.1 2.3h-5.3zM275.8 539.5h5.4l.2 2.3h-5.3zM307.8 539.5h2.6l.4 2.3h-2.7zM82 537.2h8l-.4 2.3h-8zM233.1 537.2h2.7l.1 2.3h-2.6zM249 537.2h2.7l.2 2.3h-2.7zM283.5 537.2h2.7l.3 2.3h-2.7zM291.5 537.2h5.3l.3 2.3h-5.3zM85.8 532.5h2.6l-.6 2.3h-2.6zM91 532.5h2.7l-.6 2.3h-2.6zM259.1 532.5h2.6l.3 2.3h-2.6zM280.1 532.5h2.6l.4 2.3h-2.6zM306.3 532.5h5.3l.6 2.3h-5.3zM109.9 530.2h2.6l-.5 2.3h-2.6zM274.4 530.2h2.6l.5 2.3h-2.7zM87.2 527.8h2.6l-.8 2.4h-2.6zM100.1 527.8h2.6l-.6 2.4h-2.6zM110.5 527.8h2.6l-.6 2.4h-2.6zM211.7 527.8h2.6l.1 2.4h-2.7zM245.4 527.8h2.6l.3 2.4h-2.6zM305 527.8h5.2l.8 2.4h-5.3zM82.8 525.5h2.6l-.8 2.3h-2.6zM98.3 525.5h2.5l-.7 2.3h-2.6zM106 525.5h12.9l-.6 2.3h-13zM209 525.5h2.6l.1 2.3h-2.6zM221.9 525.5h2.6l.1 2.3h-2.6zM237.3 525.5h5.2l.3 2.3h-5.2zM276 525.5h2.6l.5 2.3h-2.6zM76.1 523.2h5.1l-1 2.3h-5.1zM109.3 523.2h2.5l-.7 2.3h-2.5zM116.9 523.2h5.2l-.7 2.3h-5.1zM198.7 523.2h2.6l0 2.3h-2.6zM254.9 523.2h5.2l.4 2.3h-5.1zM321.4 523.2h2.5l1 2.3h-2.6zM336.7 523.2h2.6l1.1 2.3h-2.6zM79.6 520.8h2.5l-.9 2.4h-2.6zM84.7 520.8h5.1l-1 2.4h-5.1zM115.1 520.8h2.5l-.7 2.4h-2.5zM120.2 520.8h5l-.6 2.4h-5.1zM229.1 520.8h2.6l.2 2.4h-2.5zM234.2 520.8h2.5l.4 2.4h-2.6zM249.4 520.8h2.6l.4 2.4h-2.6zM259.6 520.8h5l.6 2.4h-5.1zM274.8 520.8h5l.7 2.4h-5.1zM328 520.8h2.5l1.1 2.4h-2.5zM78.2 518.5h5l-1.1 2.3h-5zM85.7 518.5h5.1l-1 2.3h-5.1zM95.8 518.5h2.5l-.9 2.3h-2.6zM100.8 518.5h2.5l-.9 2.3h-2.5zM118.4 518.5h2.5l-.7 2.3h-2.6zM123.4 518.5h2.5l-.7 2.3h-2.5zM221.3 518.5h2.6l.2 2.3h-2.6zM228.9 518.5h5l.3 2.3h-5.1zM236.4 518.5h5l.4 2.3h-5.1zM259 518.5h5l.6 2.3h-5zM266.6 518.5h7.5l.7 2.3h-7.6zM276.6 518.5h2.5l.7 2.3h-2.5zM286.6 518.5h2.6l.8 2.3h-2.6zM339.4 518.5h2.5l1.3 2.3h-2.5zM84.4 516.2h2.5l-1.2 2.3h-2.5zM91.8 516.2h5l-1 2.3h-5zM109.2 516.2h2.5l-.9 2.3h-2.5zM121.7 516.2h4.9l-.7 2.3h-5zM221.1 516.2h5l.3 2.3h-5.1zM231.1 516.2h2.5l.3 2.3h-2.5zM293.2 516.2h2.5l1 2.3h-2.5zM310.7 516.2h2.4l1.2 2.3h-2.5zM80.7 513.9h2.4l-1.2 2.3h-2.5zM110.2 513.9h2.5l-1 2.3h-2.5zM117.6 513.9h7.4l-.8 2.3h-7.5zM127.4 513.9h2.5l-.8 2.3h-2.5zM225.8 513.9h2.5l.3 2.3h-2.5zM292.3 513.9h7.3l1.1 2.3h-7.5zM77.1 511.6h2.5l-1.4 2.3h-2.4zM86.9 511.6h2.4l-1.2 2.3h-2.5zM113.6 511.6h2.5l-1 2.3h-2.4zM118.5 511.6h2.4l-.9 2.3h-2.4zM123.4 511.6h7.3l-.8 2.3h-7.4zM133.1 511.6h4.9l-.7 2.3h-5zM220.7 511.6h2.4l.3 2.3h-2.5zM293.7 511.6h2.4l1.1 2.3h-2.5zM301 511.6h2.4l1.2 2.3h-2.5zM308.3 511.6h2.4l1.2 2.3h-2.4zM330.2 511.6h4.8l1.5 2.3h-4.9zM93 509.3h4.8l-1.2 2.3h-4.9zM124.3 509.3h2.4l-.9 2.3h-2.4zM234.9 509.3h2.4l.4 2.3h-2.4zM254.1 509.3h2.4l.7 2.3h-2.5zM258.9 509.3h2.4l.7 2.3h-2.4zM280.5 509.3h7.3l1 2.3h-7.3zM290.2 509.3h2.4l1.1 2.3h-2.5zM297.4 509.3h2.4l1.2 2.3h-2.5zM82.5 507h2.3l-1.4 2.3h-2.4zM96.7 507h2.4l-1.3 2.3h-2.4zM120.4 507h14.3l-.8 2.3h-14.4zM146.6 507h2.3l-.6 2.3h-2.4zM224.9 507h2.4l.4 2.3h-2.5zM232.1 507h2.3l.5 2.3h-2.4zM239.2 507h2.4l.5 2.3h-2.4zM253.4 507h2.4l.7 2.3h-2.4zM265.3 507h4.8l.8 2.3h-4.8zM277.2 507h2.4l.9 2.3h-2.4zM84 504.8h2.4l-1.6 2.2h-2.3zM93.4 504.8h2.3l-1.4 2.2h-2.3zM102.8 504.8h11.7l-1.2 2.2h-11.8zM121.5 504.8h2.4l-1.1 2.2h-2.4zM126.2 504.8h11.7l-.8 2.2h-11.9zM215.2 504.8h2.4l.2 2.2h-2.4zM219.9 504.8h2.4l.3 2.2h-2.4zM264.4 504.8h2.4l.9 2.2h-2.4zM269.1 504.8h2.4l.9 2.2h-2.3zM308.9 504.8h2.4l1.5 2.2h-2.4zM330 504.8h2.4l1.8 2.2h-2.4zM108.8 502.5h2.3l-1.3 2.3h-2.3zM113.4 502.5h2.3l-1.2 2.3h-2.4zM122.6 502.5h2.3l-1 2.3h-2.4zM131.9 502.5h2.3l-1 2.3h-2.3zM196.5 502.5h2.3l0 2.3h-2.3zM221.9 502.5h4.7l.3 2.3h-4.6zM240.4 502.5h2.3l.6 2.3h-2.3zM265.8 502.5h2.3l1 2.3h-2.3zM344.3 502.5h2.3l2.2 2.3h-2.4zM123.8 500.3h2.3l-1.2 2.2h-2.3zM135.2 500.3h2.3l-1 2.2h-2.3zM219.3 500.3h4.6l.3 2.2h-4.6zM242.1 500.3h2.2l.7 2.2h-2.3zM91.5 498.1h2.2l-1.7 2.2h-2.3zM100.4 498.1h2.3l-1.6 2.2h-2.3zM129.5 498.1h2.3l-1.2 2.2h-2.2zM228 498.1h2.2l.5 2.2h-2.3zM84.5 495.9h2.2l-1.9 2.2h-2.3zM130.7 495.9h2.2l-1.1 2.2h-2.3zM207.7 495.9h2.2l.2 2.2h-2.3zM214.3 495.9h2.2l.3 2.2h-2.3zM341.9 495.9h2.2l2.5 2.2h-2.3zM67.1 493.8h6.5l-2.3 2.1h-6.6zM97.4 493.8h2.1l-1.8 2.1h-2.2zM209.7 493.8h2.2l.2 2.1h-2.2zM214 493.8h2.2l.3 2.1h-2.2zM322.1 493.8h2.2l2.2 2.1h-2.2zM328.6 493.8h2.1l2.4 2.1h-2.2zM332.9 493.8h2.2l2.4 2.1h-2.2zM343.7 493.8h2.2l2.6 2.1h-2.2zM65.3 491.7h2.1l-2.5 2.1h-2.1zM71.7 491.7h2.1l-2.4 2.1h-2.1zM78 491.7h2.2l-2.3 2.1h-2.2zM82.3 491.7h2.1l-2.2 2.1h-2.1zM213.8 491.7h2.1l.3 2.1h-2.2zM228.6 491.7h2.2l.5 2.1h-2.1zM292.3 491.7h2.1l1.8 2.1h-2.2zM319.8 491.7h2.2l2.3 2.1h-2.2zM324.1 491.7h2.1l2.4 2.1h-2.2zM328.3 491.7h4.3l2.5 2.1h-4.4zM338.9 491.7h2.2l2.6 2.1h-2.2zM65.8 489.6h2.1l-2.6 2.1h-2.1zM80.4 489.6h4.1l-2.2 2.1h-4.3zM144.9 489.6h2l-1 2.1h-2.1zM159.4 489.6h4.2l-.7 2.1h-4.3zM207.3 489.6h2.1l.1 2.1h-2.1zM215.6 489.6h2.1l.3 2.1h-2.1zM236.4 489.6h2.1l.7 2.1h-2.1zM257.2 489.6h2.1l1.2 2.1h-2.2zM273.9 489.6h4.1l1.5 2.1h-4.2zM290.5 489.6h2.1l1.8 2.1h-2.1zM313.4 489.6h2.1l2.2 2.1h-2.1zM319.6 489.6h2.1l2.4 2.1h-2.1zM330 489.6h4.2l2.6 2.1h-4.2zM342.5 489.6h2.1l2.8 2.1h-2.1zM64.4 487.5h2l-2.7 2.1h-2.1zM72.5 487.5h2.1l-2.6 2.1h-2zM78.7 487.5h2l-2.4 2.1h-2.1zM82.7 487.5h2.1l-2.4 2.1h-2zM156.2 487.5h2l-.9 2.1h-2zM160.2 487.5h10.2l-.6 2.1h-10.4zM211.2 487.5h2.1l.2 2.1h-2.1zM215.3 487.5h2l.4 2.1h-2.1zM264.2 487.5h2.1l1.3 2.1h-2.1zM284.6 487.5h2.1l1.7 2.1h-2.1zM311.1 487.5h2.1l2.3 2.1h-2.1zM317.3 487.5h26.5l2.9 2.1h-27.1zM77.2 485.5h6l-2.5 2h-6.1zM85.2 485.5h2l-2.4 2h-2.1zM113.1 485.5h2l-1.8 2h-2zM117.1 485.5h2l-1.7 2h-2zM125.1 485.5h2l-1.5 2h-2.1zM157.1 485.5h2l-.9 2h-2zM161.1 485.5h5.9l-.6 2h-6.2zM169 485.5h6l-.5 2h-6.1zM256.9 485.5h2l1.3 2h-2.1zM306.8 485.5h4l2.4 2h-4.1zM312.8 485.5h2l2.5 2h-2.1zM320.8 485.5h18l2.9 2h-18.3zM120.9 483.6h1.9l-1.7 1.9h-2zM126.7 483.6h2l-1.6 1.9h-2zM130.6 483.6h2l-1.5 1.9h-2zM140.4 483.6h3.9l-1.2 1.9h-4zM146.3 483.6h1.9l-1.1 1.9h-2zM159.9 483.6h5.9l-.7 1.9h-6zM171.7 483.6h5.8l-.5 1.9h-6zM279.1 483.6h2l1.8 1.9h-2zM329.9 483.6h7.8l3.1 1.9h-8zM118.9 481.6h7.6l-1.7 2h-7.8zM157.1 481.6h1.9l-1 2h-2zM160.9 481.6h1.9l-.9 2h-2zM164.7 481.6h3.8l-.7 2h-3.9zM170.4 481.6h9.6l-.5 2h-9.8zM119 479.8h5.6l-1.9 1.8h-5.7zM158.1 479.8h5.6l-.9 1.8h-5.7zM174.9 479.8h5.6l-.5 1.8h-5.8zM123 477.9h5.5l-2 1.9h-5.6zM132.1 477.9h12.7l-1.6 1.9h-13zM157.4 477.9h5.5l-1.1 1.9h-5.5zM177.4 477.9h3.6l-.5 1.9h-3.8zM298.7 477.9h7.2l3 1.9h-7.4zM128.8 476.2h3.5l-2 1.7h-3.6zM160.5 476.2h3.5l-1.1 1.7h-3.6zM179.8 476.2h3.5l-.5 1.7h-3.6zM163.4 474.5h3.4l-1.1 1.7h-3.5zM178.7 474.5h3.4l-.6 1.7h-3.5zM166.2 472.9h13.2l-.7 1.6h-13.6zM263.5 472.9h5l2.2 1.6h-5.1z"/>
<path fill="#ffaa00" stroke="#ffaa00" stroke-width="0.4" d="M95.1 666.7h4.4l1.3 .3h-4.4zM101 666.7h8.8l1.1 .3h-8.7zM186.1 666.7h4.4l.1 .3h-4.4zM196.3 666.7h4.4l0 .3h-4.3zM215.4 666.7h2.9l-.2 .3h-2.9zM227.1 666.7h3l-.4 .3h-2.9zM95.3 665.8h19.6l2.2 .9h-19zM185.7 665.8h10.5l.1 .9h-10.2zM209.8 665.8h6l-.4 .9h-5.9zM229.4 665.8h9l-1 .9h-8.8zM242.9 665.8h7.6l-1.4 .9h-7.3zM99.9 664.8h15.6l2.4 1h-15.1zM144.9 664.8h17.1l1.1 1h-16.6zM203.9 664.8h4.6l-.2 1h-4.5zM236.5 664.8h12.4l-1.4 1h-12.1zM100.1 663.6h11.1l2.7 1.2h-10.8zM138.4 663.6h9.6l1.6 1.2h-9.3zM157.6 663.6h3.2l1.2 1.2h-3.1zM205.6 663.6h4.8l-.3 1.2h-4.7zM223.2 663.6h9.6l-1 1.2h-9.3zM239.2 663.6h9.6l-1.5 1.2h-9.3zM304.7 663.6h8l-3.3 1.2h-7.8zM98.5 662.2h9.9l2.8 1.4h-9.5zM141.4 662.2h5l1.6 1.4h-4.8zM157.9 662.2h5l1.1 1.4h-4.8zM176.1 662.2h11.5l.4 1.4h-11.2zM210.7 662.2h6.6l-.5 1.4h-6.4zM220.6 662.2h34.7l-1.7 1.4h-33.6zM306.4 662.2h8.3l-3.6 1.4h-8zM78.2 660.6h11.9l3.5 1.6h-11.6zM107.2 660.6h11.9l2.5 1.6h-11.5zM141.2 660.6h6.8l1.7 1.6h-6.6zM158.3 660.6h34l.3 1.6h-33zM212.8 660.6h47.7l-1.9 1.6h-46.2zM299.6 660.6h10.3l-3.5 1.6h-9.9zM73.5 658.9h7.9l3.6 1.7h-7.6zM107.7 658.9h10.6l2.5 1.7h-10.2zM146.4 658.9h7l1.5 1.7h-6.9zM156.9 658.9h14.1l.9 1.7h-13.6zM186.8 658.9h7l.2 1.7h-6.8zM209.7 658.9h7l-.5 1.7h-6.8zM220.2 658.9h44l-2 1.7h-42.6zM325.7 658.9h.8l-3.9 1.7h-.8zM86.8 657.2h63.4l1.5 1.7h-61.6zM155.6 657.2h9.1l1 1.7h-8.8zM186.4 657.2h5.5l.2 1.7h-5.3zM208.1 657.2h5.5l-.4 1.7h-5.3zM220.8 657.2h5.5l-.8 1.7h-5.3zM242.6 657.2h18.1l-1.8 1.7h-17.6zM269.7 657.2h9.1l-2.3 1.7h-8.8zM91.1 655.3h14.9l2.5 1.9h-14.4zM180.5 655.3h5.5l.4 1.9h-5.4zM210.2 655.3h3.8l-.4 1.9h-3.6zM219.5 655.3h3.8l-.7 1.9h-3.6zM124.6 653.5h21l1.3 1.8h-20.4zM204.8 653.5h7.6l-.3 1.8h-7.4zM223.9 653.5h7.6l-.8 1.8h-7.4zM144.3 651.5h2l1.2 2h-1.9zM189.3 651.5h1.9l.2 2h-1.9zM238.1 651.5h7.8l-1 2h-7.7zM143.1 649.6h2l1.2 1.9h-2zM201 649.6h6l-.2 1.9h-5.8zM217 649.6h2l-.4 1.9h-2zM221 649.6h29.9l-1.1 1.9h-29.3zM143.9 647.6h2.1l1.1 2h-2zM233.6 647.6h2.1l-.8 2h-1.9zM264.2 647.6h4.1l-1.4 2h-4zM144.9 645.5h4.1l1 2.1h-4zM244.7 645.5h2.1l-.9 2.1h-2.1zM305.1 645.5h2.1l-2.2 2.1h-2zM138.8 632.6h2.3l.9 2.2h-2.3zM136.9 609.6h2.6l.4 2.3h-2.5zM348.1 609.6h2.6l-1.2 2.3h-2.6zM133.9 607.3h5.1l.5 2.3h-5.2zM138.6 604.9h2.7l.3 2.4h-2.6zM143.9 604.9h2.6l.3 2.4h-2.6zM222.2 604.9h2.6l-.2 2.4h-2.6zM130.4 602.6h7.9l.3 2.3h-7.8zM130.1 600.3h2.6l.3 2.3h-2.6zM135.3 600.3h2.7l.3 2.3h-2.6zM249.2 595.6h2.7l-.2 2.3h-2.7zM331.7 595.6h2.7l-.5 2.3h-2.7zM230.7 593.3h2.7l-.1 2.3h-2.7zM246.7 593.3h2.7l-.2 2.3h-2.6zM246.9 590.9h5.3l-.1 2.4h-5.4zM337.9 590.9h2.7l-.4 2.4h-2.7zM128.8 588.6h5.4l.2 2.3h-5.4zM236.3 588.6h2.7l-.2 2.3h-2.6zM247 588.6h5.4l-.2 2.3h-5.3zM128.6 586.2h2.7l.2 2.4h-2.7zM155.4 583.9h2.7l.1 2.3h-2.7zM228.4 583.9h2.7l-.1 2.3h-2.7zM233.8 581.6h2.7l0 2.3h-2.7zM239.2 581.6h2.7l0 2.3h-2.7zM233.9 579.2h2.7l-.1 2.4h-2.7zM138.9 576.9h5.5l0 2.3h-5.4zM147.1 576.9h2.7l0 2.3h-2.7zM114.4 574.6h2.7l.1 2.3h-2.7zM133.4 574.6h5.5l0 2.3h-5.4zM119.8 572.2h2.7l.1 2.4h-2.8zM149.7 572.2h2.7l0 2.4h-2.7zM329.2 572.2h2.7l-.1 2.4h-2.7zM228.6 569.9h2.7l0 2.3h-2.7zM242.2 569.9h2.7l0 2.3h-2.7zM351 569.9h2.8l-.1 2.3h-2.8zM141.5 567.6h2.7l0 2.3h-2.7zM242.2 567.6h2.7l0 2.3h-2.7zM144.2 565.2h2.7l0 2.4h-2.7zM215 565.2h2.7l0 2.4h-2.7zM119.8 562.9h2.7l-.1 2.3h-2.7zM244.8 560.5h2.8l0 2.4h-2.7zM326.4 560.5h2.7l.1 2.4h-2.7zM247.5 558.2h2.7l.1 2.3h-2.7zM125.5 555.9h5.4l-.1 2.3h-5.5zM236.6 555.9h2.7l.1 2.3h-2.8zM247.4 555.9h2.8l0 2.3h-2.7zM117.5 553.5h2.7l-.2 2.4h-2.7zM125.6 553.5h2.7l-.1 2.4h-2.7zM131 553.5h2.7l-.1 2.4h-2.7zM239.2 553.5h2.7l.1 2.4h-2.7zM244.7 553.5h2.7l0 2.4h-2.7zM220.3 551.2h2.7l0 2.3h-2.7zM241.9 551.2h2.7l.1 2.3h-2.8zM317.5 551.2h2.7l.2 2.3h-2.7zM107 548.9h2.7l-.2 2.3h-2.7zM198.7 548.9h2.6l.1 2.3h-2.8zM220.2 548.9h2.7l.1 2.3h-2.7zM236.4 548.9h2.7l.1 2.3h-2.7zM241.8 548.9h2.7l.1 2.3h-2.7zM282.2 548.9h2.7l.2 2.3h-2.7zM193.3 546.5h2.7l0 2.4h-2.7zM236.3 546.5h2.7l.1 2.4h-2.7zM249.7 546.5h2.7l.1 2.4h-2.7zM279.3 546.5h8l.3 2.4h-8.1zM201.3 544.2h2.7l0 2.3h-2.7zM222.8 544.2h2.6l.1 2.3h-2.7zM228.1 544.2h2.7l.1 2.3h-2.7zM236.2 544.2h2.6l.2 2.3h-2.7zM252.2 544.2h2.7l.2 2.3h-2.7zM279 544.2h5.4l.2 2.3h-5.3zM238.7 541.8h5.4l.1 2.4h-5.4zM278.8 541.8h2.6l.3 2.4h-2.7zM284.1 541.8h2.7l.3 2.4h-2.7zM105.5 539.5h2.7l-.3 2.3h-2.7zM281.2 539.5h2.6l.3 2.3h-2.7zM278.2 537.2h2.7l.3 2.3h-2.7zM251.5 534.8h2.6l.2 2.4h-2.6zM296.3 534.8h2.7l.4 2.4h-2.6zM86.4 530.2h2.6l-.6 2.3h-2.6zM250.9 530.2h2.6l.3 2.3h-2.6zM279.6 530.2h2.6l.5 2.3h-2.6zM102.7 527.8h2.6l-.6 2.4h-2.6zM95.7 525.5h2.6l-.8 2.3h-2.5zM103.4 525.5h2.6l-.7 2.3h-2.6zM206.4 525.5h2.6l.1 2.3h-2.6zM250.2 525.5h2.6l.4 2.3h-2.6zM332.6 525.5h2.6l1 2.3h-2.6zM101.6 523.2h2.6l-.8 2.3h-2.6zM106.7 523.2h2.6l-.7 2.3h-2.6zM193.6 523.2h2.6l-.1 2.3h-2.5zM206.4 523.2h2.5l.1 2.3h-2.6zM252.4 523.2h2.5l.5 2.3h-2.6zM107.5 520.8h2.5l-.7 2.4h-2.6zM224.1 520.8h2.5l.2 2.4h-2.5zM246.9 520.8h2.5l.4 2.4h-2.5zM338.1 520.8h5.1l1.2 2.4h-5.1zM108.3 518.5h7.6l-.8 2.3h-7.6zM191.2 518.5h2.5l0 2.3h-2.6zM218.8 518.5h2.5l.2 2.3h-2.5zM223.9 518.5h2.5l.2 2.3h-2.5zM246.5 518.5h5l.5 2.3h-5.1zM254 518.5h5l.6 2.3h-5.1zM284.1 518.5h2.5l.8 2.3h-2.5zM79.4 516.2h2.5l-1.2 2.3h-2.5zM86.9 516.2h2.4l-1.1 2.3h-2.5zM96.8 516.2h5l-1 2.3h-5zM126.6 516.2h2.5l-.7 2.3h-2.5zM226.1 516.2h2.5l.3 2.3h-2.5zM236.1 516.2h4.9l.4 2.3h-5zM243.5 516.2h5l.5 2.3h-5zM251 516.2h2.5l.5 2.3h-2.5zM255.9 516.2h2.5l.6 2.3h-2.5zM260.9 516.2h12.5l.7 2.3h-12.6zM275.8 516.2h2.5l.8 2.3h-2.5zM283.3 516.2h2.5l.8 2.3h-2.5zM288.3 516.2h2.5l.9 2.3h-2.5zM338 516.2h2.5l1.4 2.3h-2.5zM95.4 513.9h2.5l-1.1 2.3h-2.5zM107.7 513.9h2.5l-1 2.3h-2.4zM125 513.9h2.4l-.8 2.3h-2.4zM129.9 513.9h2.4l-.7 2.3h-2.5zM223.4 513.9h2.4l.3 2.3h-2.5zM238.1 513.9h2.5l.4 2.3h-2.5zM255.4 513.9h9.8l.7 2.3h-10zM287.3 513.9h5l.9 2.3h-4.9zM96.6 511.6h2.4l-1.1 2.3h-2.5zM108.8 511.6h4.8l-.9 2.3h-5zM232.8 511.6h2.5l.4 2.3h-2.5zM237.7 511.6h2.4l.5 2.3h-2.5zM245 511.6h2.4l.6 2.3h-2.5zM276.6 511.6h2.5l.9 2.3h-2.5zM283.9 511.6h9.8l1 2.3h-9.8zM97.8 509.3h2.4l-1.2 2.3h-2.4zM102.6 509.3h2.4l-1.1 2.3h-2.4zM109.8 509.3h2.4l-1 2.3h-2.4zM222.8 509.3h2.4l.3 2.3h-2.4zM237.3 509.3h7.2l.5 2.3h-7.3zM246.9 509.3h2.4l.6 2.3h-2.5zM251.7 509.3h2.4l.6 2.3h-2.4zM256.5 509.3h2.4l.7 2.3h-2.4zM268.5 509.3h2.4l.9 2.3h-2.5zM94.3 507h2.4l-1.3 2.3h-2.4zM99.1 507h2.4l-1.3 2.3h-2.4zM103.8 507h2.4l-1.2 2.3h-2.4zM215.4 507h2.4l.2 2.3h-2.4zM241.6 507h2.3l.6 2.3h-2.4zM81.7 504.8h2.3l-1.5 2.2h-2.4zM222.3 504.8h2.3l.3 2.2h-2.3zM266.8 504.8h2.3l1 2.2h-2.4zM129.6 502.5h2.3l-1 2.3h-2.4zM191.9 502.5h2.3l-.1 2.3h-2.3zM226.6 502.5h2.3l.4 2.3h-2.4zM261.2 502.5h2.3l.9 2.3h-2.3zM293.5 502.5h2.3l1.4 2.3h-2.3zM128.4 500.3h2.2l-1 2.2h-2.3zM132.9 500.3h2.3l-1 2.2h-2.3zM226.2 500.3h4.5l.5 2.2h-4.6zM301.2 500.3h2.3l1.6 2.2h-2.3zM93.7 498.1h2.3l-1.7 2.2h-2.3zM98.2 498.1h2.2l-1.6 2.2h-2.3zM254.8 498.1h2.3l.9 2.2h-2.3zM205.5 495.9h2.2l.1 2.2h-2.2zM240.7 495.9h2.2l.7 2.2h-2.2zM297.9 495.9h2.2l1.7 2.2h-2.2zM248.6 493.8h2.2l.9 2.1h-2.2zM324.3 493.8h2.1l2.3 2.1h-2.2zM67.4 491.7h4.3l-2.4 2.1h-4.4zM73.8 491.7h4.2l-2.3 2.1h-4.3zM95 491.7h2.1l-1.9 2.1h-2.2zM207.4 491.7h2.1l.2 2.1h-2.1zM235 491.7h2.1l.7 2.1h-2.1zM74.1 489.6h2.1l-2.4 2.1h-2.1zM78.3 489.6h2.1l-2.4 2.1h-2.1zM128.2 489.6h2.1l-1.4 2.1h-2.1zM292.6 489.6h4.1l1.9 2.1h-4.2zM328 489.6h2l2.6 2.1h-2.1zM334.2 489.6h6.2l2.8 2.1h-6.4zM76.6 487.5h2.1l-2.5 2.1h-2.1zM80.7 487.5h2l-2.3 2.1h-2.1zM213.3 487.5h2l.3 2.1h-2.1zM282.6 487.5h2l1.7 2.1h-2zM133.1 485.5h2l-1.4 2h-2zM122.8 483.6h2l-1.7 1.9h-2zM134.5 483.6h5.9l-1.3 1.9h-6zM165.8 483.6h5.9l-.7 1.9h-5.9zM126.5 481.6h15.3l-1.4 2h-15.6zM145.6 481.6h1.9l-1.2 2h-2zM168.5 481.6h1.9l-.7 2h-1.9zM124.6 479.8h18.6l-1.4 1.8h-19.1zM163.7 479.8h11.2l-.7 1.8h-11.4zM128.5 477.9h3.6l-1.9 1.9h-3.7zM162.9 477.9h14.5l-.7 1.9h-14.9zM164 476.2h5.2l-.9 1.7h-5.4zM176.3 476.2h3.5l-.6 1.7h-3.6zM166.8 474.5h11.9l-.7 1.7h-12.3z"/>
<path fill="#ff7700" stroke="#ff7700" stroke-width="0.4" d="M99.5 666.7h1.5l1.2 .3h-1.4zM190.5 666.7h5.8l.1 .3h-5.8zM218.3 666.7h8.8l-.3 .3h-8.7zM215.8 665.8h13.6l-.8 .9h-13.2zM208.5 664.8h3.1l-.3 1h-3zM219.4 664.8h17.1l-1.1 1h-16.6zM148 663.6h9.6l1.3 1.2h-9.3zM210.4 663.6h3.2l-.4 1.2h-3.1zM218.4 663.6h4.8l-.7 1.2h-4.7zM232.8 663.6h6.4l-1.2 1.2h-6.2zM146.4 662.2h4.9l1.5 1.4h-4.8zM153 662.2h4.9l1.3 1.4h-4.8zM217.3 662.2h3.3l-.6 1.4h-3.2zM90.1 660.6h17.1l2.9 1.6h-16.5zM148 660.6h10.3l1.3 1.6h-9.9zM81.4 658.9h5.2l3.5 1.7h-5.1zM102.5 658.9h5.2l2.9 1.7h-5.1zM153.4 658.9h3.5l1.4 1.7h-3.4zM171 658.9h7l.7 1.7h-6.8zM183.3 658.9h3.5l.4 1.7h-3.4zM216.7 658.9h3.5l-.6 1.7h-3.4zM150.2 657.2h5.4l1.3 1.7h-5.2zM175.6 657.2h10.8l.4 1.7h-10.5zM213.6 657.2h7.2l-.6 1.7h-7zM106 655.3h42.8l1.4 1.9h-41.7zM154.4 655.3h1.9l1.1 1.9h-1.8zM214 655.3h5.5l-.5 1.9h-5.4zM118.9 653.5h5.7l1.9 1.8h-5.6zM145.6 653.5h1.9l1.3 1.8h-1.9zM212.4 653.5h11.5l-.6 1.8h-11.2zM146.3 651.5h1.9l1.2 2h-1.9zM150.2 651.5h1.9l1.1 2h-1.9zM191.2 651.5h13.7l-.1 2h-13.4zM228.3 651.5h9.8l-.9 2h-9.5zM145.1 649.6h6l1 1.9h-5.8zM219 649.6h2l-.5 1.9h-1.9zM146 647.6h4l1.1 2h-4zM235.7 647.6h2l-.8 2h-2zM241.8 647.6h4.1l-1 2h-4zM250 647.6h6.1l-1.2 2h-6zM135.4 614.3h2.5l.6 2.3h-2.5zM132.3 611.9h5.1l.5 2.4h-5.1zM134.3 609.6h2.6l.5 2.3h-2.6zM350.7 609.6h2.5l-1.1 2.3h-2.6zM346.6 607.3h2.5l-1 2.3h-2.6zM133.4 604.9h2.6l.5 2.4h-2.6zM353.6 602.6h2.6l-.9 2.3h-2.6zM138 600.3h2.6l.3 2.3h-2.6zM132.4 597.9h2.7l.2 2.4h-2.6zM225.3 595.6h2.6l-.1 2.3h-2.6zM131.9 593.3h2.7l.2 2.3h-2.7zM233.4 593.3h2.6l-.1 2.3h-2.6zM249.4 593.3h2.7l-.2 2.3h-2.7zM129 590.9h5.4l.2 2.4h-5.4zM230.8 590.9h5.4l-.2 2.4h-5.3zM230.9 588.6h2.7l-.1 2.3h-2.7zM239 588.6h2.6l-.1 2.3h-2.7zM239.1 586.2h2.7l-.2 2.4h-2.6zM152.7 583.9h2.7l.1 2.3h-2.7zM233.8 583.9h2.7l-.1 2.3h-2.7zM152.6 581.6h5.5l0 2.3h-5.4zM241.9 581.6h2.8l-.1 2.3h-2.7zM149.8 579.2h2.8l0 2.4h-2.7zM130.8 576.9h8.1l.1 2.3h-8.1zM149.8 576.9h2.7l.1 2.3h-2.8zM155.2 576.9h5.4l.1 2.3h-5.4zM152.4 574.6h2.8l0 2.3h-2.7zM242.1 574.6h2.7l0 2.3h-2.7zM242.2 572.2h2.7l-.1 2.4h-2.7zM239.5 569.9h2.7l0 2.3h-2.8zM348.3 569.9h2.7l-.1 2.3h-2.7zM236.7 565.2h2.8l0 2.4h-2.7zM242.2 565.2h2.7l0 2.4h-2.7zM141.6 560.5h2.7l-.1 2.4h-2.7zM190.5 560.5h2.7l0 2.4h-2.7zM119.9 558.2h2.7l0 2.3h-2.8zM125.3 558.2h5.5l-.1 2.3h-5.4zM244.7 555.9h2.7l.1 2.3h-2.7zM109.3 553.5h2.7l-.1 2.4h-2.7zM241.9 553.5h2.8l0 2.4h-2.7zM104.1 551.2h2.7l-.2 2.3h-2.7zM247.3 551.2h2.7l.1 2.3h-2.7zM104.3 548.9h2.7l-.2 2.3h-2.7zM239.1 548.9h2.7l.1 2.3h-2.7zM220.2 546.5h2.6l.1 2.4h-2.7zM239 546.5h2.6l.2 2.4h-2.7zM286.8 541.8h2.6l.3 2.4h-2.6zM102.9 539.5h2.6l-.3 2.3h-2.7zM286.5 539.5h2.6l.3 2.3h-2.6zM243.7 537.2h2.7l.2 2.3h-2.7zM87.8 534.8h2.7l-.5 2.4h-2.7zM113.1 527.8h2.6l-.5 2.4h-2.7zM201.3 525.5h2.6l0 2.3h-2.6zM245.1 525.5h2.5l.4 2.3h-2.6zM104.2 523.2h2.5l-.7 2.3h-2.6zM249.8 523.2h2.6l.4 2.3h-2.6zM341.8 523.2h2.6l1.1 2.3h-2.6zM99.9 520.8h2.5l-.8 2.4h-2.5zM110 520.8h5.1l-.7 2.4h-5.1zM198.7 520.8h2.6l0 2.4h-2.6zM211.4 520.8h2.5l.2 2.4h-2.6zM221.5 520.8h2.6l.2 2.4h-2.6zM231.7 520.8h2.5l.3 2.4h-2.6zM244.4 520.8h2.5l.4 2.4h-2.6zM257 520.8h2.6l.5 2.4h-2.6zM98.3 518.5h2.5l-.9 2.3h-2.5zM105.8 518.5h2.5l-.8 2.3h-2.5zM226.4 518.5h2.5l.2 2.3h-2.5zM279.1 518.5h2.5l.8 2.3h-2.6zM76.9 516.2h2.5l-1.2 2.3h-2.5zM101.8 516.2h5l-1 2.3h-5zM278.3 516.2h5l.8 2.3h-5zM285.8 516.2h2.5l.9 2.3h-2.6zM97.9 513.9h9.8l-.9 2.3h-10zM240.6 513.9h7.4l.5 2.3h-7.5zM250.4 513.9h2.5l.6 2.3h-2.5zM267.7 513.9h2.4l.8 2.3h-2.5zM272.6 513.9h2.4l.8 2.3h-2.4zM277.5 513.9h7.4l.9 2.3h-7.5zM299.6 513.9h2.5l1.1 2.3h-2.5zM99 511.6h9.8l-1.1 2.3h-9.8zM235.3 511.6h2.4l.4 2.3h-2.4zM240.1 511.6h4.9l.5 2.3h-4.9zM247.4 511.6h7.3l.7 2.3h-7.4zM257.2 511.6h14.6l.8 2.3h-14.8zM274.2 511.6h2.4l.9 2.3h-2.5zM279.1 511.6h4.8l1 2.3h-4.9zM100.2 509.3h2.4l-1.1 2.3h-2.5zM105 509.3h4.8l-1 2.3h-4.9zM121.9 509.3h2.4l-.9 2.3h-2.5zM126.7 509.3h4.8l-.8 2.3h-4.9zM263.7 509.3h2.4l.8 2.3h-2.4zM275.7 509.3h4.8l1 2.3h-4.9zM106.2 507h2.4l-1.2 2.3h-2.4zM331.8 507h2.4l1.6 2.3h-2.4zM246.6 500.3h2.3l.8 2.2h-2.4zM248.1 498.1h2.2l.9 2.2h-2.3zM341.5 493.8h2.2l2.6 2.1h-2.2zM112 491.7h2.1l-1.6 2.1h-2.2zM336.8 491.7h2.1l2.6 2.1h-2.1zM347.4 491.7h2.1l2.8 2.1h-2.1zM70 489.6h4.1l-2.4 2.1h-4.3zM323.8 489.6h2.1l2.4 2.1h-2.1zM74.6 487.5h2l-2.5 2.1h-2.1zM313.2 487.5h2l2.4 2.1h-2.1zM135.1 485.5h2l-1.3 2h-2.1zM132.6 483.6h1.9l-1.4 1.9h-2zM141.8 481.6h3.8l-1.3 2h-3.9zM143.2 479.8h1.9l-1.4 1.8h-1.9zM169.2 476.2h7.1l-.7 1.7h-7.3z"/>
<path fill="#ff2a00" stroke="#ff2a00" stroke-width="0.4" d="M211.6 664.8h7.8l-.6 1h-7.5zM213.6 663.6h4.8l-.6 1.2h-4.6zM151.3 662.2h1.7l1.4 1.4h-1.6zM86.6 658.9h15.9l3 1.7h-15.4zM178 658.9h5.3l.5 1.7h-5.1zM148.8 655.3h5.6l1.2 1.9h-5.4zM147.5 653.5h5.7l1.2 1.8h-5.6zM148.2 651.5h2l1.1 2h-1.9zM204.9 651.5h13.7l-.5 2h-13.3zM220.5 651.5h7.8l-.6 2h-7.7zM237.7 647.6h4.1l-.9 2h-4zM245.9 647.6h2l-1 2h-2zM132.8 614.3h2.6l.6 2.3h-2.6zM136 604.9h2.6l.4 2.4h-2.5zM341.8 597.9h2.7l-.7 2.4h-2.6zM132.1 595.6h5.4l.2 2.3h-5.3zM134.6 593.3h2.7l.2 2.3h-2.7zM236.2 590.9h2.6l-.1 2.4h-2.7zM332.6 590.9h2.7l-.5 2.4h-2.6zM233.6 588.6h2.7l-.1 2.3h-2.7zM233.7 586.2h5.4l-.1 2.4h-5.4zM236.5 583.9h5.4l-.1 2.3h-5.4zM236.5 581.6h2.7l0 2.3h-2.7zM236.6 579.2h2.7l-.1 2.4h-2.7zM128.1 576.9h2.7l.1 2.3h-2.7zM152.5 576.9h2.7l.1 2.3h-2.7zM242.1 576.9h2.7l-.1 2.3h-2.7zM128 574.6h2.7l.1 2.3h-2.7zM149.7 574.6h2.7l.1 2.3h-2.7zM155.2 574.6h2.7l0 2.3h-2.7zM236.7 574.6h2.7l0 2.3h-2.8zM127.9 572.2h2.7l.1 2.4h-2.7zM236.7 572.2h2.7l0 2.4h-2.7zM236.8 567.6h2.7l0 2.3h-2.8zM236.7 562.9h2.7l.1 2.3h-2.8zM242.2 562.9h2.7l0 2.3h-2.7zM242.1 560.5h2.7l.1 2.4h-2.7zM236.5 553.5h2.7l.1 2.4h-2.7zM250.1 553.5h2.7l.1 2.4h-2.7zM239.2 551.2h2.7l0 2.3h-2.7zM225.6 548.9h2.7l.1 2.3h-2.7zM281.4 541.8h2.7l.3 2.4h-2.7zM206.5 527.8h2.6l0 2.4h-2.6zM100.8 525.5h2.6l-.7 2.3h-2.6zM244.7 523.2h2.6l.3 2.3h-2.5zM102.4 520.8h5.1l-.8 2.4h-5.1zM252 520.8h2.5l.4 2.4h-2.5zM103.3 518.5h2.5l-.8 2.3h-2.6zM89.3 516.2h2.5l-1 2.3h-2.6zM241 516.2h2.5l.5 2.3h-2.6zM248.5 516.2h2.5l.5 2.3h-2.5zM253.5 516.2h2.4l.6 2.3h-2.5zM273.4 516.2h2.4l.8 2.3h-2.5zM270.1 513.9h2.5l.8 2.3h-2.5zM284.9 513.9h2.4l1 2.3h-2.5zM271.8 511.6h2.4l.8 2.3h-2.4zM249.3 509.3h2.4l.6 2.3h-2.4zM261.3 509.3h2.4l.8 2.3h-2.5zM270.9 509.3h4.8l.9 2.3h-4.8zM292.6 509.3h4.8l1.1 2.3h-4.8zM80.1 507h2.4l-1.5 2.3h-2.4zM108.6 507h4.7l-1.1 2.3h-4.8zM284.3 507h2.4l1.1 2.3h-2.4zM322 491.7h2.1l2.3 2.1h-2.1zM341.1 491.7h2.1l2.7 2.1h-2.2zM76.2 489.6h2.1l-2.4 2.1h-2.1z"/>
<path fill="#e60000" stroke="#e60000" stroke-width="0.4" d="M218.6 651.5h1.9l-.5 2h-1.9zM247.9 647.6h2.1l-1.1 2h-2zM129.8 597.9h2.6l.3 2.4h-2.6zM320.6 597.9h2.7l-.6 2.4h-2.6zM129.5 595.6h2.6l.3 2.3h-2.6zM126.3 590.9h2.7l.2 2.4h-2.6zM152.6 579.2h8.1l.1 2.4h-8.2zM239.4 576.9h2.7l-.1 2.3h-2.7zM239.4 574.6h2.7l0 2.3h-2.7zM239.4 572.2h2.8l-.1 2.4h-2.7zM236.7 569.9h2.8l-.1 2.3h-2.7zM100.6 567.6h2.8l0 2.3h-2.7zM239.5 567.6h2.7l0 2.3h-2.7zM239.5 565.2h2.7l0 2.4h-2.7zM236.7 560.5h2.7l0 2.4h-2.7zM236.6 558.2h2.8l0 2.3h-2.7zM242.1 558.2h2.7l0 2.3h-2.7zM250.2 558.2h2.7l.1 2.3h-2.7zM239.3 555.9h5.4l.1 2.3h-5.4zM128.3 553.5h2.7l-.1 2.4h-2.7zM222.9 548.9h2.7l.1 2.3h-2.7zM222.8 546.5h5.4l.1 2.4h-5.4zM284.4 544.2h2.7l.2 2.3h-2.7zM33.1 541.8h2.7l-.5 2.4h-2.7zM283.8 539.5h2.7l.3 2.3h-2.7zM325.8 527.8h2.6l.8 2.4h-2.6zM211.6 525.5h2.6l.1 2.3h-2.6zM247.6 525.5h2.6l.4 2.3h-2.6zM111.8 523.2h5.1l-.6 2.3h-5.2zM247.3 523.2h2.5l.4 2.3h-2.6zM241.8 520.8h2.6l.3 2.4h-2.5zM241.4 518.5h5.1l.4 2.3h-5.1zM251.5 518.5h2.5l.5 2.3h-2.5zM281.6 518.5h2.5l.8 2.3h-2.5zM106.8 516.2h2.4l-.9 2.3h-2.5zM208.7 516.2h2.5l.1 2.3h-2.5zM248 513.9h2.4l.6 2.3h-2.5zM265.2 513.9h2.5l.7 2.3h-2.5zM275 513.9h2.5l.8 2.3h-2.5zM311.9 513.9h2.5l1.2 2.3h-2.5zM254.7 511.6h2.5l.6 2.3h-2.4zM287.8 509.3h2.4l1 2.3h-2.4zM299.8 509.3h2.4l1.2 2.3h-2.4zM286.7 507h2.4l1.1 2.3h-2.4zM228.9 502.5h2.3l.4 2.3h-2.3z"/>
<path fill="#d42a2a" stroke="#d42a2a" stroke-width="0.4" d="M133.4 616.6h2.6l.6 2.3h-2.5zM129.2 593.3h2.7l.2 2.3h-2.6zM239.3 579.2h2.7l-.1 2.4h-2.7zM318.1 576.9h2.7l-.2 2.3h-2.7zM228.6 572.2h2.7l0 2.4h-2.8zM239.4 562.9h2.8l0 2.3h-2.7zM239.4 560.5h2.7l.1 2.4h-2.8zM239.4 558.2h2.7l0 2.3h-2.7zM246.4 537.2h2.6l.2 2.3h-2.6zM254.5 520.8h2.5l.5 2.4h-2.6zM252.9 513.9h2.5l.5 2.3h-2.4zM249.5 495.9h2.2l.9 2.2h-2.3z"/>
<use href="#coast" x="200" y="567.5"/>
</g>
<g id="map4">
<path fill="#ff0000" stroke="#ff0000" stroke-width="0.4" d="M494.4 666.7h12.5l1.1 .3h-12.3zM508.3 666.7h1.5l1.1 .3h-1.4zM511.3 666.7h10.2l1 .3h-10.2zM523 666.7h2.9l.9 .3h-2.9zM531.8 666.7h13.2l.7 .3h-13.1zM546.5 666.7h20.5l.4 .3h-20.3zM577.3 666.7h102.6l-.9 .3h-101.5zM681.4 666.7h7.3l-1 .3h-7.3zM693.1 666.7h12.5l-1.3 .3h-12.3zM491.5 665.8h39.9l1.9 .9h-38.9zM532.9 665.8h1.6l1.7 .9h-1.5zM537.5 665.8h7.5l1.5 .9h-7.4zM546.5 665.8h15.1l1 .9h-14.7zM563.1 665.8h6l.8 .9h-5.8zM572.1 665.8h61.8l-.9 .9h-60.1zM635.4 665.8h28.6l-1.7 .9h-27.8zM665.5 665.8h9.1l-2 .9h-8.8zM676.1 665.8h6l-2.2 .9h-5.8zM683.6 665.8h7.6l-2.5 .9h-7.3zM694.2 665.8h14.3l-2.9 .9h-13.9zM488.3 664.8h2.3l3.2 1h-2.3zM492.2 664.8h43.4l1.9 1h-42.2zM537.2 664.8h17l1.3 1h-16.5zM555.8 664.8h14l.8 1h-13.5zM571.3 664.8h1.6l.7 1h-1.5zM574.4 664.8h7.8l.5 1h-7.6zM583.7 664.8h54.3l-1.1 1h-52.7zM639.6 664.8h15.5l-1.6 1h-15.1zM656.6 664.8h3.1l-1.7 1h-3zM661.3 664.8h13.9l-2.1 1h-13.6zM676.8 664.8h9.3l-2.5 1h-9zM689.2 664.8h3.1l-2.6 1h-3.1zM695.4 664.8h12.4l-3.1 1h-12zM709.4 664.8h2.3l-3.2 1h-2.3zM484.9 663.6h58.3l1.7 1.2h-56.6zM544.8 663.6h43.2l.4 1.2h-41.9zM589.6 663.6h46.4l-1.1 1.2h-45zM637.6 663.6h28.8l-2 1.2h-27.9zM674.4 663.6h40.7l-3.4 1.2h-39.6zM481.2 662.2h30.5l2.7 1.4h-29.5zM513.4 662.2h33l1.6 1.4h-32zM548 662.2h100.7l-1.5 1.4h-97.6zM650.3 662.2h11.6l-1.9 1.4h-11.2zM663.5 662.2h1.7l-2 1.4h-1.6zM670.1 662.2h5l-2.3 1.4h-4.8zM678.4 662.2h11.5l-2.7 1.4h-11.2zM691.6 662.2h27.2l-3.7 1.4h-26.3zM477.4 660.6h84.3l1.2 1.6h-81.7zM563.4 660.6h69.8l-1 1.6h-67.7zM634.9 660.6h11.9l-1.4 1.6h-11.6zM648.5 660.6h23.9l-2.3 1.6h-23.1zM682.6 660.6h5.1l-2.7 1.6h-5zM689.4 660.6h33.2l-3.8 1.6h-32.2zM473.5 658.9h4.3l3.8 1.7h-4.2zM479.6 658.9h38.7l2.5 1.7h-37.5zM520 658.9h19.4l1.8 1.7h-18.7zM541.1 658.9h19.4l1.2 1.7h-18.8zM562.2 658.9h89.7l-1.7 1.7h-86.8zM653.6 658.9h19.3l-2.2 1.7h-18.7zM674.7 658.9h8.8l-2.6 1.7h-8.5zM685.2 658.9h3.6l-2.8 1.7h-3.4zM690.5 658.9h28.1l-3.6 1.7h-27.3zM720.4 658.9h6.1l-3.9 1.7h-5.9zM486.8 657.2h77.9l1 1.7h-75.6zM575.6 657.2h41.6l-.5 1.7h-40.4zM619 657.2h25.4l-1.3 1.7h-24.6zM646.2 657.2h61.6l-3.2 1.7h-59.8zM709.6 657.2h10.8l-3.5 1.7h-10.6zM491.1 655.3h37.2l2 1.9h-36.2zM530.2 655.3h1.9l1.8 1.9h-1.8zM533.9 655.3h22.4l1.1 1.9h-21.7zM580.5 655.3h145.2l-3.5 1.9h-141.2zM518.9 653.5h34.3l1.2 1.8h-33.5zM583.8 653.5h55.3l-.9 1.8h-54zM641 653.5h43.9l-2.1 1.8h-42.8zM686.9 653.5h43.9l-3.3 1.8h-42.8zM542.4 651.5h9.7l1.1 2h-9.5zM589.3 651.5h78.1l-1.5 2h-76.4zM681.1 651.5h1.9l-1.9 2h-1.9zM700.6 651.5h2l-2.4 2h-1.9zM704.5 651.5h17.6l-2.8 2h-17.2zM726 651.5h7.8l-3 2h-7.7zM543.1 649.6h8l1 1.9h-7.8zM599 649.6h8l-.2 1.9h-7.8zM617 649.6h4l-.5 1.9h-3.9zM623 649.6h41.9l-1.4 1.9h-41zM670.9 649.6h2l-1.6 1.9h-1.9zM678.9 649.6h29.9l-2.3 1.9h-29.3zM722.8 649.6h4l-2.7 1.9h-3.9zM543.9 647.6h6.1l1.1 2h-6zM633.6 647.6h22.5l-1.2 2h-21.9zM664.2 647.6h14.3l-1.6 2h-14zM717.3 647.6h2l-2.5 2h-2zM544.9 645.5h6.2l1 2.1h-6.1zM644.7 645.5h2.1l-.9 2.1h-2.1zM678 645.5h4.2l-1.6 2.1h-4.1zM690.5 645.5h2.1l-1.9 2.1h-2zM703 645.5h10.4l-2.3 2.1h-10.2zM548 643.4h4.3l.9 2.1h-4.2zM538.8 632.6h2.3l.9 2.2h-2.3zM528.5 630.3h4.7l1 2.3h-4.6zM542.6 630.3h2.3l.8 2.3h-2.3zM532.3 628.1h2.4l.9 2.2h-2.4zM665.3 628.1h2.4l-.9 2.2h-2.4zM529.1 625.8h2.4l.8 2.3h-2.4zM533.9 625.8h2.4l.8 2.3h-2.4zM666.1 625.8h2.4l-.8 2.3h-2.4zM530.7 623.5h4.8l.8 2.3h-4.8zM761.8 623.5h4.8l-1.9 2.3h-4.8zM527.4 621.2h4.9l.8 2.3h-4.9zM763.6 621.2h7.4l-1.9 2.3h-7.3zM526.6 618.9h10l.7 2.3h-9.9zM743 618.9h5l-1.6 2.3h-4.9zM767.8 618.9h5l-1.8 2.3h-4.9zM525.9 616.6h10.1l.6 2.3h-10zM744.4 616.6h2.5l-1.4 2.3h-2.5zM772 616.6h2.5l-1.7 2.3h-2.5zM525.2 614.3h15.2l.6 2.3h-15.1zM743.2 614.3h2.5l-1.3 2.3h-2.5zM748.3 614.3h2.5l-1.4 2.3h-2.5zM776.1 614.3h5.1l-1.6 2.3h-5.1zM524.6 611.9h5.1l.6 2.4h-5.1zM532.3 611.9h7.6l.5 2.4h-7.6zM741.8 611.9h2.6l-1.2 2.4h-2.5zM749.5 611.9h5.1l-1.3 2.4h-5zM777.6 611.9h2.6l-1.5 2.4h-2.6zM524 609.6h2.6l.6 2.3h-2.6zM531.8 609.6h12.8l.5 2.3h-12.8zM619.3 609.6h2.6l-.2 2.3h-2.5zM717.2 609.6h5.1l-.9 2.3h-5.1zM737.8 609.6h5.1l-1.1 2.3h-5.1zM748.1 609.6h7.7l-1.2 2.3h-7.7zM523.5 607.3h5.2l.5 2.3h-5.2zM531.3 607.3h15.5l.4 2.3h-15.4zM616.9 607.3h7.7l-.1 2.3h-7.8zM627.2 607.3h2.6l-.2 2.3h-2.6zM718 607.3h2.6l-.8 2.3h-2.6zM723.2 607.3h2.6l-.9 2.3h-2.6zM728.4 607.3h2.6l-.9 2.3h-2.6zM738.8 607.3h5.2l-1.1 2.3h-5.1zM746.6 607.3h2.5l-1 2.3h-2.6zM751.7 607.3h7.8l-1.1 2.3h-7.7zM525.6 604.9h7.8l.5 2.4h-7.8zM541.3 604.9h5.2l.3 2.4h-5.2zM617 604.9h7.8l-.2 2.4h-7.7zM627.4 604.9h5.2l-.2 2.4h-5.2zM721.4 604.9h2.6l-.8 2.4h-2.6zM726.6 604.9h15.7l-.9 2.4h-15.6zM744.9 604.9h2.6l-.9 2.4h-2.6zM752.7 604.9h7.9l-1.1 2.4h-7.8zM525.2 602.6h2.6l.4 2.3h-2.6zM530.4 602.6h13.1l.4 2.3h-13.1zM617.1 602.6h7.8l-.1 2.3h-7.8zM627.6 602.6h2.6l-.2 2.3h-2.6zM632.8 602.6h2.6l-.2 2.3h-2.6zM719.5 602.6h5.2l-.7 2.3h-5.2zM730 602.6h7.9l-.8 2.3h-7.9zM740.5 602.6h2.6l-.8 2.3h-2.6zM745.7 602.6h2.7l-.9 2.3h-2.6zM751 602.6h5.2l-.9 2.3h-5.2zM758.9 602.6h2.6l-.9 2.3h-2.7zM524.8 600.3h15.8l.3 2.3h-15.7zM543.3 600.3h5.2l.3 2.3h-5.3zM614.5 600.3h15.9l-.2 2.3h-15.8zM633 600.3h2.6l-.2 2.3h-2.6zM720.1 600.3h10.5l-.6 2.3h-10.5zM733.3 600.3h21.1l-.8 2.3h-21zM524.5 597.9h15.9l.2 2.4h-15.8zM545.7 597.9h5.3l.2 2.4h-5.3zM614.6 597.9h13.2l-.1 2.4h-13.2zM630.5 597.9h5.3l-.2 2.4h-5.2zM646.4 597.9h2.6l-.2 2.4h-2.6zM720.6 597.9h2.7l-.6 2.4h-2.6zM728.6 597.9h2.6l-.6 2.4h-2.6zM733.9 597.9h5.3l-.6 2.4h-5.3zM741.8 597.9h21.2l-.7 2.4h-21.1zM524.2 595.6h29.2l.2 2.3h-29.1zM617.3 595.6h5.3l-.1 2.3h-5.3zM625.3 595.6h8l-.2 2.3h-7.9zM635.9 595.6h2.7l-.2 2.3h-2.6zM646.6 595.6h5.3l-.2 2.3h-5.3zM726.4 595.6h21.3l-.6 2.3h-21.2zM755.7 595.6h5.3l-.6 2.3h-5.3zM523.9 593.3h13.4l.2 2.3h-13.3zM539.9 593.3h18.7l.2 2.3h-18.7zM614.7 593.3h24l-.1 2.3h-24zM644.1 593.3h8l-.2 2.3h-8zM729.5 593.3h8l-.5 2.3h-7.9zM742.8 593.3h10.7l-.5 2.3h-10.6zM756.2 593.3h2.7l-.6 2.3h-2.6zM523.7 590.9h13.4l.2 2.4h-13.4zM539.7 590.9h8.1l.1 2.4h-8zM550.4 590.9h8.1l.1 2.4h-8zM612.1 590.9h26.7l-.1 2.4h-26.7zM649.6 590.9h2.6l-.1 2.4h-2.7zM729.9 590.9h5.4l-.5 2.4h-5.3zM740.6 590.9h10.7l-.5 2.4h-10.6zM754 590.9h5.4l-.5 2.4h-5.4zM523.4 588.6h13.5l.2 2.3h-13.4zM539.5 588.6h5.4l.2 2.3h-5.4zM547.6 588.6h10.8l.1 2.3h-10.7zM612.1 588.6h29.5l-.1 2.3h-29.4zM647 588.6h8.1l-.2 2.3h-8zM730.3 588.6h10.8l-.5 2.3h-10.7zM743.7 588.6h13.5l-.5 2.3h-13.4zM517.8 586.2h16.2l.2 2.4h-16.1zM536.7 586.2h18.8l.2 2.4h-18.8zM612.1 586.2h13.5l-.1 2.4h-13.4zM628.3 586.2h8.1l-.1 2.4h-8.1zM639.1 586.2h5.4l-.2 2.4h-5.3zM647.2 586.2h8l-.1 2.4h-8.1zM733.4 586.2h2.7l-.4 2.4h-2.7zM738.8 586.2h2.7l-.4 2.4h-2.7zM744.2 586.2h5.3l-.4 2.4h-5.4zM752.2 586.2h5.4l-.4 2.4h-5.4zM517.6 583.9h10.8l.2 2.3h-10.8zM533.8 583.9h24.3l.1 2.3h-24.2zM614.9 583.9h10.8l-.1 2.3h-10.8zM628.4 583.9h16.2l-.1 2.3h-16.2zM739.1 583.9h2.7l-.3 2.3h-2.7zM744.5 583.9h2.7l-.4 2.3h-2.6zM752.6 583.9h5.4l-.4 2.3h-5.4zM514.7 581.6h10.9l.1 2.3h-10.8zM531 581.6h16.2l.1 2.3h-16.2zM549.9 581.6h10.9l0 2.3h-10.8zM614.9 581.6h10.8l0 2.3h-10.8zM628.4 581.6h2.7l0 2.3h-2.7zM633.8 581.6h10.9l-.1 2.3h-10.8zM514.6 579.2h8.1l.2 2.4h-8.2zM525.5 579.2h8.1l.1 2.4h-8.1zM536.3 579.2h2.7l.1 2.4h-2.7zM544.4 579.2h2.7l.1 2.4h-2.7zM549.8 579.2h10.9l.1 2.4h-10.9zM614.9 579.2h13.6l-.1 2.4h-13.5zM631.2 579.2h13.5l0 2.4h-13.6zM731.5 579.2h2.7l-.2 2.4h-2.7zM758.6 579.2h2.7l-.3 2.4h-2.7zM514.5 576.9h10.8l.2 2.3h-10.9zM528.1 576.9h5.4l.1 2.3h-5.4zM538.9 576.9h24.5l0 2.3h-24.4zM614.9 576.9h13.6l0 2.3h-13.6zM631.2 576.9h13.6l-.1 2.3h-13.5zM718.1 576.9h5.4l-.2 2.3h-5.4zM726.2 576.9h5.5l-.2 2.3h-5.4zM750.7 576.9h2.7l-.2 2.3h-2.7zM514.4 574.6h27.2l0 2.3h-27.1zM544.3 574.6h13.6l0 2.3h-13.5zM612.2 574.6h13.6l0 2.3h-13.6zM631.3 574.6h13.5l0 2.3h-13.6zM712.8 574.6h5.4l-.1 2.3h-5.4zM720.9 574.6h2.7l-.1 2.3h-2.7zM756.3 574.6h2.7l-.2 2.3h-2.7zM761.7 574.6h2.7l-.2 2.3h-2.7zM511.6 572.2h19l.1 2.4h-19zM533.4 572.2h8.1l.1 2.4h-8.2zM544.2 572.2h16.4l0 2.4h-16.3zM612.2 572.2h8.2l0 2.4h-8.2zM623.1 572.2h2.7l0 2.4h-2.7zM628.6 572.2h2.7l0 2.4h-2.8zM634 572.2h10.9l-.1 2.4h-10.8zM712.9 572.2h2.7l-.1 2.4h-2.7zM729.2 572.2h2.7l-.1 2.4h-2.7zM750.9 572.2h5.5l-.1 2.4h-5.5zM514.3 569.9h2.7l0 2.3h-2.7zM519.7 569.9h5.5l0 2.3h-5.4zM536 569.9h2.8l0 2.3h-2.7zM541.5 569.9h2.7l0 2.3h-2.7zM549.7 569.9h5.4l0 2.3h-5.4zM612.2 569.9h13.7l-.1 2.3h-13.6zM628.6 569.9h2.7l0 2.3h-2.7zM634 569.9h10.9l0 2.3h-10.9zM712.9 569.9h2.8l-.1 2.3h-2.7zM721.1 569.9h5.4l0 2.3h-5.5zM737.4 569.9h2.7l0 2.3h-2.8zM742.9 569.9h2.7l-.1 2.3h-2.7zM748.3 569.9h8.2l-.1 2.3h-8.2zM500.6 567.6h2.8l0 2.3h-2.7zM517 567.6h5.4l0 2.3h-5.4zM525.1 567.6h10.9l0 2.3h-10.8zM541.5 567.6h2.7l0 2.3h-2.7zM546.9 567.6h5.5l0 2.3h-5.5zM612.2 567.6h13.7l0 2.3h-13.7zM628.6 567.6h19l0 2.3h-19zM707.5 567.6h2.7l0 2.3h-2.7zM713 567.6h2.7l0 2.3h-2.8zM718.4 567.6h5.5l-.1 2.3h-5.4zM726.6 567.6h2.7l0 2.3h-2.8zM737.5 567.6h2.7l-.1 2.3h-2.7zM742.9 567.6h2.7l0 2.3h-2.7zM519.7 565.2h2.7l0 2.4h-2.7zM527.9 565.2h2.7l0 2.4h-2.7zM533.3 565.2h2.7l0 2.4h-2.7zM541.5 565.2h5.4l0 2.4h-5.4zM609.5 565.2h38.1l0 2.4h-38.1zM710.2 565.2h2.7l.1 2.4h-2.8zM718.4 565.2h5.4l.1 2.4h-5.5zM734.7 565.2h2.7l.1 2.4h-2.7zM517 562.9h13.6l0 2.3h-13.6zM533.4 562.9h2.7l-.1 2.3h-2.7zM541.5 562.9h2.7l0 2.3h-2.7zM609.5 562.9h2.7l0 2.3h-2.7zM615 562.9h8.1l0 2.3h-8.1zM625.8 562.9h2.8l0 2.3h-2.7zM631.3 562.9h2.7l0 2.3h-2.7zM636.7 562.9h16.3l.1 2.3h-16.4zM710.1 562.9h2.8l0 2.3h-2.7zM718.3 562.9h2.7l.1 2.3h-2.7zM723.7 562.9h5.5l.1 2.3h-5.5zM514.4 560.5h13.6l-.1 2.4h-13.6zM533.4 560.5h10.9l-.1 2.4h-10.8zM590.5 560.5h2.7l0 2.4h-2.7zM595.9 560.5h2.7l0 2.4h-2.7zM606.8 560.5h13.6l0 2.4h-13.6zM623.1 560.5h29.9l0 2.4h-29.9zM710.1 560.5h2.7l.1 2.4h-2.8zM723.6 560.5h5.5l.1 2.4h-5.5zM514.5 558.2h19l-.1 2.3h-19zM536.2 558.2h2.7l0 2.3h-2.8zM585.1 558.2h19l0 2.3h-19zM612.2 558.2h24.4l.1 2.3h-24.5zM642.1 558.2h10.8l.1 2.3h-10.9zM685.5 558.2h2.7l.1 2.3h-2.7zM709.9 558.2h2.8l.1 2.3h-2.7zM726.2 558.2h2.7l.2 2.3h-2.7zM731.7 558.2h2.7l.1 2.3h-2.7zM509.2 555.9h2.7l-.1 2.3h-2.7zM514.6 555.9h16.3l-.1 2.3h-16.3zM533.6 555.9h2.7l-.1 2.3h-2.7zM585.1 555.9h13.5l0 2.3h-13.5zM606.8 555.9h2.7l0 2.3h-2.7zM612.2 555.9h2.7l0 2.3h-2.7zM620.3 555.9h8.2l0 2.3h-8.1zM636.6 555.9h16.3l0 2.3h-16.3zM682.7 555.9h2.7l.1 2.3h-2.7zM707.1 555.9h2.7l.1 2.3h-2.7zM726.1 555.9h2.7l.1 2.3h-2.7zM731.5 555.9h5.4l.2 2.3h-5.4zM506.6 553.5h5.4l-.1 2.4h-5.4zM517.5 553.5h2.7l-.2 2.4h-2.7zM522.9 553.5h10.8l-.1 2.4h-10.9zM582.4 553.5h10.8l0 2.4h-10.8zM595.9 553.5h2.7l0 2.4h-2.7zM604.1 553.5h2.7l0 2.4h-2.7zM612.2 553.5h5.4l0 2.4h-5.4zM628.4 553.5h2.7l.1 2.4h-2.7zM633.8 553.5h21.7l.1 2.4h-21.7zM679.8 553.5h8.2l.1 2.4h-8.1zM706.9 553.5h8.1l.2 2.4h-8.1zM731.3 553.5h5.4l.2 2.4h-5.4zM504.1 551.2h5.4l-.2 2.3h-5.4zM579.7 551.2h16.2l0 2.3h-16.2zM598.6 551.2h8.2l0 2.3h-8.2zM609.5 551.2h5.4l0 2.3h-5.4zM617.6 551.2h27l.1 2.3h-27.1zM647.3 551.2h2.7l.1 2.3h-2.7zM679.7 551.2h8.1l.2 2.3h-8.2zM706.7 551.2h13.5l.2 2.3h-13.5zM499 548.9h2.7l-.3 2.3h-2.7zM504.3 548.9h8.1l-.2 2.3h-8.1zM579.8 548.9h35l.1 2.3h-35.2zM617.5 548.9h10.8l.1 2.3h-10.8zM633.7 548.9h10.8l.1 2.3h-10.8zM649.8 548.9h5.4l.2 2.3h-5.4zM679.5 548.9h8.1l.2 2.3h-8.1zM711.8 548.9h5.4l.3 2.3h-5.4zM728 548.9h2.7l.3 2.3h-2.7zM493.9 546.5h2.7l-.3 2.4h-2.7zM499.2 546.5h10.8l-.3 2.4h-10.7zM579.8 546.5h67.2l.2 2.4h-67.4zM649.7 546.5h8.1l.1 2.4h-8.1zM679.3 546.5h10.7l.3 2.4h-10.8zM700.8 546.5h5.3l.3 2.4h-5.4zM708.8 546.5h5.4l.3 2.4h-5.4zM488.8 544.2h10.8l-.4 2.3h-10.7zM502.2 544.2h5.4l-.3 2.3h-5.4zM582.6 544.2h10.7l0 2.3h-10.8zM596 544.2h8l0 2.3h-8zM606.7 544.2h5.4l0 2.3h-5.4zM614.7 544.2h18.8l.1 2.3h-18.8zM636.2 544.2h8l.1 2.3h-8zM652.2 544.2h5.4l.2 2.3h-5.4zM679 544.2h10.7l.3 2.3h-10.7zM700.4 544.2h13.4l.4 2.3h-13.4zM716.5 544.2h2.7l.4 2.3h-2.7zM729.9 544.2h2.7l.4 2.3h-2.7zM433.1 541.8h2.7l-.5 2.4h-2.7zM486.5 541.8h10.7l-.3 2.4h-10.7zM502.5 541.8h2.7l-.3 2.4h-2.7zM521.2 541.8h2.7l-.2 2.4h-2.7zM582.6 541.8h2.7l0 2.4h-2.7zM590.7 541.8h10.6l0 2.4h-10.7zM617.4 541.8h2.6l.1 2.4h-2.7zM622.7 541.8h2.7l0 2.4h-2.6zM628 541.8h16.1l.1 2.4h-16.1zM649.4 541.8h2.7l.1 2.4h-2.6zM654.7 541.8h2.7l.2 2.4h-2.7zM678.8 541.8h13.3l.3 2.4h-13.4zM697.5 541.8h10.6l.4 2.4h-10.7zM710.8 541.8h5.3l.4 2.4h-5.3zM489.6 539.5h8l-.4 2.3h-8zM502.9 539.5h2.6l-.3 2.3h-2.7zM510.9 539.5h2.6l-.3 2.3h-2.6zM582.7 539.5h2.7l-.1 2.3h-2.7zM590.7 539.5h5.3l0 2.3h-5.3zM598.7 539.5h10.6l0 2.3h-10.6zM620 539.5h15.9l.1 2.3h-16zM638.6 539.5h8l.1 2.3h-8zM657.2 539.5h5.3l.2 2.3h-5.3zM673.2 539.5h15.9l.3 2.3h-16zM697.1 539.5h13.3l.4 2.3h-13.3zM482 537.2h8l-.4 2.3h-8zM492.6 537.2h2.7l-.4 2.3h-2.7zM513.8 537.2h2.7l-.3 2.3h-2.7zM590.7 537.2h5.3l0 2.3h-5.3zM598.7 537.2h5.3l0 2.3h-5.3zM606.6 537.2h10.6l.1 2.3h-10.6zM619.9 537.2h31.8l.2 2.3h-31.9zM654.3 537.2h2.7l.2 2.3h-2.7zM670.2 537.2h2.7l.3 2.3h-2.7zM675.5 537.2h10.7l.3 2.3h-10.7zM691.5 537.2h2.6l.4 2.3h-2.7zM699.4 537.2h2.7l.3 2.3h-2.6zM704.7 537.2h8l.4 2.3h-8zM720.6 537.2h2.7l.4 2.3h-2.6zM725.9 537.2h5.3l.5 2.3h-5.3zM479.9 534.8h2.7l-.6 2.4h-2.6zM485.2 534.8h10.6l-.5 2.4h-10.6zM514.2 534.8h2.7l-.4 2.4h-2.7zM588.1 534.8h10.6l0 2.4h-10.6zM604 534.8h7.9l0 2.4h-7.9zM619.8 534.8h7.9l.1 2.4h-7.9zM630.4 534.8h10.5l.2 2.4h-10.6zM646.2 534.8h2.6l.2 2.4h-2.6zM651.5 534.8h2.6l.2 2.4h-2.6zM667.3 534.8h18.5l.4 2.4h-18.6zM691.1 534.8h15.8l.5 2.4h-15.9zM714.8 534.8h5.3l.5 2.4h-5.3zM485.8 532.5h7.9l-.6 2.3h-7.9zM512 532.5h2.7l-.5 2.3h-2.6zM585.6 532.5h5.2l0 2.3h-5.3zM593.4 532.5h5.3l0 2.3h-5.3zM601.3 532.5h5.3l0 2.3h-5.3zM609.2 532.5h5.2l.1 2.3h-5.3zM617.1 532.5h2.6l.1 2.3h-2.6zM624.9 532.5h2.7l.1 2.3h-2.6zM630.2 532.5h5.2l.2 2.3h-5.2zM638.1 532.5h7.9l.2 2.3h-7.9zM648.6 532.5h2.6l.3 2.3h-2.7zM659.1 532.5h5.2l.4 2.3h-5.3zM669.6 532.5h7.9l.4 2.3h-8zM680.1 532.5h7.9l.4 2.3h-7.9zM690.6 532.5h21l.6 2.3h-21.1zM714.2 532.5h10.5l.7 2.3h-10.6zM486.4 530.2h2.6l-.6 2.3h-2.6zM491.7 530.2h5.2l-.6 2.3h-5.3zM504.7 530.2h2.6l-.5 2.3h-2.6zM509.9 530.2h2.6l-.5 2.3h-2.6zM588.3 530.2h2.6l-.1 2.3h-2.6zM593.5 530.2h2.6l0 2.3h-2.7zM601.3 530.2h5.2l.1 2.3h-5.3zM611.7 530.2h7.9l.1 2.3h-7.9zM622.2 530.2h10.4l.2 2.3h-10.5zM635.2 530.2h5.3l.2 2.3h-5.3zM645.7 530.2h7.8l.3 2.3h-7.8zM658.7 530.2h5.3l.3 2.3h-5.2zM666.6 530.2h2.6l.4 2.3h-2.6zM674.4 530.2h26.1l.6 2.3h-26.3zM703.1 530.2h2.6l.6 2.3h-2.6zM713.6 530.2h2.6l.6 2.3h-2.6zM721.4 530.2h5.2l.8 2.3h-5.3zM487.2 527.8h2.6l-.8 2.4h-2.6zM495 527.8h5.1l-.6 2.4h-5.2zM502.7 527.8h7.8l-.6 2.4h-7.8zM513.1 527.8h2.6l-.5 2.4h-2.7zM588.3 527.8h2.6l0 2.4h-2.6zM593.5 527.8h5.2l0 2.4h-5.2zM606.5 527.8h2.6l0 2.4h-2.6zM611.7 527.8h2.6l.1 2.4h-2.7zM616.9 527.8h2.6l.1 2.4h-2.6zM627.2 527.8h7.8l.2 2.4h-7.8zM640.2 527.8h7.8l.3 2.4h-7.8zM655.8 527.8h2.6l.3 2.4h-2.6zM661 527.8h5.1l.5 2.4h-5.2zM679.1 527.8h28.5l.7 2.4h-28.7zM712.8 527.8h15.6l.8 2.4h-15.6zM477.7 525.5h7.7l-.8 2.3h-7.8zM488 525.5h23.1l-.6 2.3h-23.3zM513.7 525.5h5.2l-.6 2.3h-5.2zM591 525.5h2.6l-.1 2.3h-2.6zM601.3 525.5h2.6l0 2.3h-2.6zM606.4 525.5h7.8l.1 2.3h-7.8zM619.3 525.5h5.2l.1 2.3h-5.1zM637.3 525.5h5.2l.3 2.3h-5.2zM645.1 525.5h10.3l.4 2.3h-10.4zM657.9 525.5h2.6l.5 2.3h-2.6zM663.1 525.5h2.6l.4 2.3h-2.6zM676 525.5h2.6l.5 2.3h-2.6zM686.3 525.5h18l.7 2.3h-18.1zM706.9 525.5h18l.9 2.3h-18.2zM732.6 525.5h2.6l1 2.3h-2.6zM737.8 525.5h2.6l1 2.3h-2.6zM476.1 523.2h10.2l-.9 2.3h-10.3zM488.8 523.2h7.7l-.8 2.3h-7.7zM501.6 523.2h2.6l-.8 2.3h-2.6zM506.7 523.2h15.4l-.7 2.3h-15.4zM593.6 523.2h2.6l-.1 2.3h-2.5zM598.7 523.2h5.1l.1 2.3h-5.2zM606.4 523.2h5.1l.1 2.3h-5.2zM631.9 523.2h5.2l.2 2.3h-5.1zM639.6 523.2h20.5l.4 2.3h-20.6zM672.8 523.2h5.1l.7 2.3h-5.2zM683.1 523.2h17.8l.8 2.3h-18zM703.5 523.2h20.4l1 2.3h-20.6zM734.2 523.2h7.6l1.1 2.3h-7.7zM477.1 520.8h25.3l-.8 2.4h-25.5zM505 520.8h20.2l-.6 2.4h-20.4zM593.7 520.8h7.6l0 2.4h-7.7zM608.9 520.8h5l.2 2.4h-5.2zM621.5 520.8h45.7l.5 2.4h-46zM669.7 520.8h2.5l.6 2.4h-2.5zM674.8 520.8h7.6l.7 2.4h-7.7zM690 520.8h12.6l.9 2.4h-12.8zM705.2 520.8h20.3l1 2.4h-20.4zM728 520.8h2.5l1.1 2.4h-2.5zM738.1 520.8h5.1l1.2 2.4h-5.1zM475.7 518.5h12.5l-1 2.3h-12.7zM490.8 518.5h35.1l-.7 2.3h-35.4zM591.2 518.5h7.5l0 2.3h-7.6zM601.3 518.5h2.5l0 2.3h-2.5zM613.8 518.5h10.1l.2 2.3h-10.2zM626.4 518.5h7.5l.3 2.3h-7.6zM636.4 518.5h25.1l.6 2.3h-25.4zM664 518.5h2.6l.6 2.3h-2.6zM669.1 518.5h22.6l.8 2.3h-22.8zM694.2 518.5h25.1l1.1 2.3h-25.4zM721.8 518.5h7.5l1.2 2.3h-7.6zM739.4 518.5h5l1.3 2.3h-5zM474.4 516.2h54.7l-.7 2.3h-55.2zM591.3 516.2h2.5l-.1 2.3h-2.5zM596.3 516.2h2.5l-.1 2.3h-2.5zM601.2 516.2h5l.1 2.3h-5zM608.7 516.2h2.5l.1 2.3h-2.5zM616.2 516.2h24.8l.4 2.3h-25.1zM643.5 516.2h14.9l.6 2.3h-15zM660.9 516.2h12.5l.7 2.3h-12.6zM675.8 516.2h22.4l1 2.3h-22.6zM705.7 516.2h22.4l1.2 2.3h-22.6zM738 516.2h2.5l1.4 2.3h-2.5zM475.8 513.9h7.3l-1.2 2.3h-7.5zM488.1 513.9h44.2l-.7 2.3h-44.7zM591.4 513.9h17.2l.1 2.3h-17.4zM611.1 513.9h2.4l.2 2.3h-2.5zM618.5 513.9h2.4l.2 2.3h-2.5zM623.4 513.9h4.9l.3 2.3h-5zM633.2 513.9h2.5l.4 2.3h-2.5zM638.1 513.9h81.2l1.3 2.3h-82.1zM721.8 513.9h2.4l1.4 2.3h-2.5zM726.7 513.9h4.9l1.4 2.3h-4.9zM477.1 511.6h39l-1 2.3h-39.3zM518.5 511.6h7.3l-.8 2.3h-7.4zM528.2 511.6h12.2l-.7 2.3h-12.3zM598.8 511.6h17l.2 2.3h-17.2zM620.7 511.6h2.4l.3 2.3h-2.5zM625.5 511.6h17.1l.5 2.3h-17.3zM645 511.6h4.9l.5 2.3h-4.9zM652.3 511.6h9.7l.7 2.3h-9.8zM664.5 511.6h53.5l1.3 2.3h-54.1zM722.9 511.6h2.4l1.4 2.3h-2.5zM727.7 511.6h7.3l1.5 2.3h-7.3zM737.4 511.6h2.5l1.6 2.3h-2.5zM481 509.3h2.4l-1.4 2.3h-2.4zM488.2 509.3h26.4l-1 2.3h-26.7zM517 509.3h16.9l-.8 2.3h-17zM536.3 509.3h4.8l-.7 2.3h-4.9zM545.9 509.3h2.4l-.6 2.3h-2.4zM596.4 509.3h21.6l.2 2.3h-21.8zM620.4 509.3h7.3l.3 2.3h-7.3zM630.1 509.3h26.4l.7 2.3h-26.8zM658.9 509.3h31.3l1 2.3h-31.6zM692.6 509.3h31.2l1.5 2.3h-31.6zM480.1 507h59.3l-.7 2.3h-60.1zM541.8 507h2.4l-.7 2.3h-2.4zM546.6 507h2.3l-.6 2.3h-2.4zM594.1 507h23.7l.2 2.3h-24zM624.9 507h2.4l.4 2.3h-2.5zM632.1 507h19l.6 2.3h-19.2zM653.4 507h2.4l.7 2.3h-2.4zM658.2 507h4.7l.8 2.3h-4.8zM665.3 507h4.8l.8 2.3h-4.8zM672.4 507h2.4l.9 2.3h-2.4zM677.2 507h2.4l.9 2.3h-2.4zM681.9 507h11.9l1.2 2.3h-12zM696.2 507h23.7l1.5 2.3h-24zM729.4 507h4.8l1.6 2.3h-4.8zM479.3 504.8h9.4l-1.5 2.2h-9.5zM493.4 504.8h2.3l-1.4 2.2h-2.3zM498.1 504.8h44.5l-.8 2.2h-45.1zM544.9 504.8h4.7l-.7 2.2h-4.7zM594.1 504.8h30.5l.3 2.2h-30.8zM626.9 504.8h2.4l.4 2.2h-2.4zM634 504.8h4.7l.5 2.2h-4.8zM648 504.8h4.7l.7 2.2h-4.7zM657.4 504.8h2.3l.9 2.2h-2.4zM664.4 504.8h7.1l.9 2.2h-7.1zM678.5 504.8h2.3l1.1 2.2h-2.3zM687.9 504.8h7l1.3 2.2h-7.1zM697.2 504.8h4.7l1.4 2.2h-4.8zM704.3 504.8h7l1.5 2.2h-7.1zM713.6 504.8h9.4l1.7 2.2h-9.5zM730 504.8h2.4l1.8 2.2h-2.4zM490.3 502.5h2.3l-1.5 2.3h-2.4zM504.2 502.5h6.9l-1.3 2.3h-7zM513.4 502.5h9.2l-1.1 2.3h-9.4zM524.9 502.5h2.4l-1.1 2.3h-2.3zM529.6 502.5h9.2l-.9 2.3h-9.4zM541.1 502.5h2.3l-.8 2.3h-2.3zM545.7 502.5h2.3l-.7 2.3h-2.4zM589.6 502.5h4.6l-.1 2.3h-4.6zM596.5 502.5h4.7l0 2.3h-4.7zM605.8 502.5h2.3l.1 2.3h-2.3zM610.4 502.5h4.6l.2 2.3h-4.7zM621.9 502.5h9.3l.4 2.3h-9.3zM633.5 502.5h6.9l.6 2.3h-7zM642.7 502.5h4.6l.7 2.3h-4.7zM649.7 502.5h2.3l.7 2.3h-2.3zM654.3 502.5h4.6l.8 2.3h-4.6zM661.2 502.5h2.3l.9 2.3h-2.3zM665.8 502.5h4.6l1.1 2.3h-4.7zM672.7 502.5h18.5l1.3 2.3h-18.7zM693.5 502.5h2.3l1.4 2.3h-2.3zM698.1 502.5h20.8l1.8 2.3h-21.1zM725.9 502.5h2.3l1.8 2.3h-2.3zM730.5 502.5h2.3l1.9 2.3h-2.3zM744.3 502.5h2.3l2.2 2.3h-2.4zM482.9 500.3h2.3l-1.8 2.2h-2.3zM492 500.3h9.1l-1.6 2.2h-9.2zM503.4 500.3h4.5l-1.4 2.2h-4.6zM510.2 500.3h2.2l-1.3 2.2h-2.3zM517 500.3h9.1l-1.2 2.2h-9.2zM528.4 500.3h13.6l-.9 2.2h-13.8zM544.3 500.3h4.5l-.8 2.2h-4.6zM589.8 500.3h11.3l.1 2.2h-11.6zM608 500.3h4.5l.2 2.2h-4.6zM614.8 500.3h2.3l.2 2.2h-2.3zM619.3 500.3h4.6l.3 2.2h-4.6zM626.2 500.3h4.5l.5 2.2h-4.6zM633 500.3h6.8l.6 2.2h-6.9zM642.1 500.3h2.2l.7 2.2h-2.3zM646.6 500.3h11.4l.9 2.2h-11.6zM660.3 500.3h38.6l1.6 2.2h-39.3zM701.2 500.3h2.3l1.6 2.2h-2.3zM705.7 500.3h11.4l1.8 2.2h-11.5zM721.7 500.3h6.8l2 2.2h-6.9zM742.1 500.3h4.6l2.3 2.2h-4.7zM455.7 498.1h2.2l-2.3 2.2h-2.3zM480.3 498.1h4.5l-1.9 2.2h-4.6zM487 498.1h24.6l-1.4 2.2h-25zM516.1 498.1h8.9l-1.2 2.2h-9.1zM529.5 498.1h6.7l-1 2.2h-6.8zM538.5 498.1h4.4l-.9 2.2h-4.5zM594.4 498.1h4.5l0 2.2h-4.6zM625.7 498.1h4.5l.5 2.2h-4.5zM634.7 498.1h11.2l.7 2.2h-11.4zM648.1 498.1h4.5l.8 2.2h-4.5zM654.8 498.1h31.3l1.5 2.2h-31.9zM688.4 498.1h11.2l1.6 2.2h-11.4zM701.8 498.1h22.4l2 2.2h-22.7zM737.6 498.1h4.5l2.3 2.2h-4.5zM460.3 495.9h4.4l-2.3 2.2h-4.5zM480.1 495.9h11l-1.9 2.2h-11.1zM493.3 495.9h6.6l-1.7 2.2h-6.7zM502.1 495.9h17.6l-1.4 2.2h-17.9zM530.7 495.9h6.6l-1.1 2.2h-6.7zM539.5 495.9h4.4l-1 2.2h-4.4zM605.5 495.9h4.4l.2 2.2h-4.5zM612.1 495.9h4.4l.3 2.2h-4.5zM620.9 495.9h6.6l.5 2.2h-6.7zM631.9 495.9h11l.7 2.2h-11.2zM647.3 495.9h33l1.4 2.2h-33.6zM682.5 495.9h41.8l2.1 2.2h-42.5zM737.5 495.9h6.6l2.5 2.2h-6.8zM462.8 493.8h2.1l-2.4 2.1h-2.2zM467.1 493.8h19.5l-2.1 2.1h-19.8zM488.7 493.8h6.5l-1.9 2.1h-6.6zM497.4 493.8h21.6l-1.5 2.1h-22zM542.7 493.8h2.2l-1 2.1h-2.2zM560 493.8h2.2l-.7 2.1h-2.2zM603.2 493.8h17.3l.4 2.1h-17.6zM627 493.8h2.2l.5 2.1h-2.2zM631.3 493.8h2.2l.6 2.1h-2.2zM635.7 493.8h8.6l.8 2.1h-8.8zM646.5 493.8h6.4l1 2.1h-6.6zM655.1 493.8h6.5l1.1 2.1h-6.6zM663.7 493.8h19.5l1.5 2.1h-19.8zM685.4 493.8h10.8l1.7 2.1h-11zM698.3 493.8h17.3l2.1 2.1h-17.6zM719.9 493.8h6.5l2.3 2.1h-6.6zM728.6 493.8h2.1l2.4 2.1h-2.2zM732.9 493.8h2.2l2.4 2.1h-2.2zM737.2 493.8h8.7l2.6 2.1h-8.8zM458.9 491.7h25.5l-2.2 2.1h-25.9zM492.9 491.7h21.2l-1.6 2.1h-21.6zM518.3 491.7h4.3l-1.5 2.1h-4.3zM537.4 491.7h4.3l-1.1 2.1h-4.3zM556.5 491.7h6.4l-.7 2.1h-6.5zM607.4 491.7h4.3l.2 2.1h-4.3zM613.8 491.7h4.2l.4 2.1h-4.4zM620.2 491.7h12.7l.6 2.1h-13zM635 491.7h2.1l.7 2.1h-2.1zM643.5 491.7h2.1l.9 2.1h-2.2zM652 491.7h4.2l1.1 2.1h-4.4zM660.5 491.7h2.1l1.1 2.1h-2.1zM664.7 491.7h4.2l1.3 2.1h-4.3zM671.1 491.7h6.3l1.5 2.1h-6.5zM679.5 491.7h4.3l1.6 2.1h-4.4zM688 491.7h6.4l1.8 2.1h-6.5zM707.1 491.7h2.1l2.1 2.1h-2.2zM711.4 491.7h40.3l2.8 2.1h-41.1zM461.6 489.6h2.1l-2.6 2.1h-2.2zM465.8 489.6h4.2l-2.6 2.1h-4.2zM472 489.6h14.6l-2.2 2.1h-14.9zM494.9 489.6h2.1l-2 2.1h-2.1zM499.1 489.6h2.1l-2 2.1h-2.1zM503.3 489.6h6.2l-1.8 2.1h-6.3zM511.6 489.6h8.3l-1.6 2.1h-8.5zM526.1 489.6h4.2l-1.4 2.1h-4.2zM536.5 489.6h2.1l-1.2 2.1h-2.1zM540.7 489.6h6.2l-1 2.1h-6.4zM557.3 489.6h8.4l-.7 2.1h-8.5zM580.2 489.6h2.1l-.3 2.1h-2.2zM607.3 489.6h4.1l.3 2.1h-4.3zM613.5 489.6h4.2l.3 2.1h-4.2zM619.8 489.6h4.1l.5 2.1h-4.2zM628.1 489.6h2.1l.6 2.1h-2.2zM636.4 489.6h2.1l.7 2.1h-2.1zM640.6 489.6h8.3l.9 2.1h-8.4zM657.2 489.6h2.1l1.2 2.1h-2.2zM661.4 489.6h2.1l1.2 2.1h-2.1zM665.5 489.6h2.1l1.3 2.1h-2.1zM673.9 489.6h4.1l1.5 2.1h-4.2zM688.4 489.6h10.4l2 2.1h-10.6zM700.9 489.6h2.1l2 2.1h-2.1zM711.3 489.6h6.3l2.2 2.1h-6.3zM719.6 489.6h6.3l2.4 2.1h-6.3zM728 489.6h20.8l2.9 2.1h-21.2zM453.2 487.5h1l-3 2.1h-1zM456.2 487.5h32.7l-2.3 2.1h-33.3zM503.1 487.5h14.3l-1.7 2.1h-14.5zM523.5 487.5h2.1l-1.5 2.1h-2.1zM529.6 487.5h6.2l-1.3 2.1h-6.3zM537.8 487.5h4.1l-1.2 2.1h-4.2zM548 487.5h2l-1 2.1h-2.1zM556.2 487.5h14.2l-.6 2.1h-14.5zM582.7 487.5h2l-.3 2.1h-2.1zM611.2 487.5h8.2l.4 2.1h-8.4zM623.5 487.5h6.1l.6 2.1h-6.3zM633.6 487.5h2.1l.7 2.1h-2.1zM637.7 487.5h2.1l.8 2.1h-2.1zM641.8 487.5h4.1l.9 2.1h-4.1zM650 487.5h2l1.1 2.1h-2.1zM658.1 487.5h2.1l1.2 2.1h-2.1zM664.2 487.5h2.1l1.3 2.1h-2.1zM672.4 487.5h2l1.5 2.1h-2zM676.5 487.5h2l1.6 2.1h-2.1zM680.6 487.5h6.1l1.7 2.1h-6.2zM688.7 487.5h2l1.9 2.1h-2.1zM703 487.5h2l2.2 2.1h-2.1zM709.1 487.5h37.7l3 2.1h-38.5zM456.2 485.5h5l-2.9 2h-5.1zM471.2 485.5h4l-2.7 2h-4zM477.2 485.5h8l-2.5 2h-8.1zM487.2 485.5h8l-2.3 2h-8.1zM499.1 485.5h4l-2 2h-4.1zM513.1 485.5h2l-1.8 2h-2zM517.1 485.5h4l-1.7 2h-4zM523.1 485.5h4l-1.5 2h-4.1zM529.1 485.5h10l-1.3 2h-10.2zM547.1 485.5h4l-1.1 2h-4zM557.1 485.5h9.9l-.6 2h-10.2zM569 485.5h8l-.5 2h-8.1zM611 485.5h6l.3 2h-6.1zM623 485.5h8l.6 2h-8.1zM634.9 485.5h2l.8 2h-2zM648.9 485.5h4l1.1 2h-4zM654.9 485.5h2l1.2 2h-2zM658.9 485.5h8l1.4 2h-8.1zM668.9 485.5h12l1.7 2h-12.2zM682.9 485.5h10l1.9 2h-10.2zM694.9 485.5h4l2 2h-4zM700.9 485.5h13.9l2.5 2h-14.3zM720.8 485.5h23l3 2h-23.4zM459.3 483.6h1l-3.1 1.9h-1zM474 483.6h3.9l-2.7 1.9h-4zM481.8 483.6h13.7l-2.3 1.9h-14zM497.4 483.6h2l-2.2 1.9h-2zM517 483.6h31.2l-1.1 1.9h-32zM558 483.6h23.4l-.4 1.9h-23.9zM618.6 483.6h9.7l.7 1.9h-10zM640.1 483.6h5.8l1 1.9h-6zM653.7 483.6h9.8l1.4 1.9h-10zM665.5 483.6h3.9l1.5 1.9h-4zM671.3 483.6h13.7l1.9 1.9h-14zM688.9 483.6h7.8l2.2 1.9h-8zM702.6 483.6h5.8l2.4 1.9h-6zM710.4 483.6h1.9l2.5 1.9h-2zM714.3 483.6h3.9l2.6 1.9h-4zM724.1 483.6h1.9l2.8 1.9h-2zM728 483.6h12.7l3.1 1.9h-13zM463.5 481.6h1.9l-3.1 2h-2zM482.6 481.6h1.9l-2.7 2h-2zM511.2 481.6h1.9l-2 2h-1.9zM515.1 481.6h32.4l-1.2 2h-33.2zM557.1 481.6h26.7l-.4 2h-27.4zM618.1 481.6h3.9l.5 2h-3.9zM639.1 481.6h5.8l1 2h-5.8zM654.4 481.6h9.5l1.6 2h-9.8zM665.9 481.6h3.8l1.6 2h-3.9zM671.6 481.6h1.9l1.7 2h-1.9zM675.4 481.6h1.9l1.8 2h-1.9zM698.3 481.6h9.6l2.5 2h-9.8zM506 479.8h1.8l-2.3 1.8h-1.9zM511.6 479.8h26l-1.5 1.8h-26.8zM539.5 479.8h5.6l-1.4 1.8h-5.7zM558.1 479.8h18.6l-.6 1.8h-19zM578.6 479.8h5.6l-.4 1.8h-5.8zM638.2 479.8h3.7l1 1.8h-3.8zM653.1 479.8h3.7l1.4 1.8h-3.8zM658.6 479.8h20.5l2 1.8h-21zM690.3 479.8h5.6l2.4 1.8h-5.7zM703.3 479.8h5.6l2.8 1.8h-5.8zM514 477.9h3.6l-2.3 1.9h-3.7zM519.4 477.9h25.4l-1.6 1.9h-26zM557.4 477.9h3.7l-1.1 1.9h-3.7zM562.9 477.9h9l-.8 1.9h-9.3zM573.7 477.9h10.9l-.4 1.9h-11.2zM662.5 477.9h19.9l2.3 1.9h-20.5zM698.7 477.9h3.6l2.9 1.9h-3.7zM704.1 477.9h3.7l3 1.9h-3.8zM523.5 476.2h3.6l-2.3 1.7h-3.6zM528.8 476.2h10.6l-1.9 1.7h-10.8zM549.9 476.2h35.2l-.5 1.7h-36.2zM665.9 476.2h8.8l2.3 1.7h-9.1zM676.5 476.2h1.7l2.4 1.7h-1.8zM527.6 474.5h6.8l-2.1 1.7h-7zM560 474.5h25.5l-.4 1.7h-26.4zM607.7 474.5h3.4l.3 1.7h-3.5zM663.9 474.5h8.5l2.3 1.7h-8.8zM533.2 472.9h1.6l-2.1 1.6h-1.7zM559.6 472.9h1.6l-1.2 1.6h-1.7zM562.9 472.9h18.1l-.6 1.6h-18.7zM584.3 472.9h1.7l-.5 1.6h-1.7zM609.1 472.9h4.9l.5 1.6h-5.1zM661.9 472.9h6.6l2.2 1.6h-6.8zM565.6 471.5h17.6l-.5 1.4h-18.2z"/>
<use href="#coast" x="600" y="567.5"/>
</g>
<rect x="51" y="374.4" width="49.7" height="17" fill="#3f12f0" stroke="#000" stroke-width="0.5"/>
<rect x="100.7" y="374.4" width="49.7" height="17" fill="#2b7bef" stroke="#000" stroke-width="0.5"/>
<rect x="150.3" y="374.4" width="49.7" height="17" fill="#7ac8ee" stroke="#000" stroke-width="0.5"/>
<rect x="200" y="374.4" width="49.7" height="17" fill="#ffe033" stroke="#000" stroke-width="0.5"/>
<rect x="249.7" y="374.4" width="49.7" height="17" fill="#ff6600" stroke="#000" stroke-width="0.5"/>
<rect x="299.3" y="374.4" width="49.7" height="17" fill="#d9292b" stroke="#000" stroke-width="0.5"/>
<text x="51" y="407.6" font-size="14.2" text-anchor="middle">-42.13</text>
<text x="100.7" y="407.6" font-size="14.2" text-anchor="middle">-20</text>
<text x="150.3" y="407.6" font-size="14.2" text-anchor="middle">0</text>
<text x="200" y="407.6" font-size="14.2" text-anchor="middle">20</text>
<text x="249.7" y="407.6" font-size="14.2" text-anchor="middle">40</text>
<text x="299.3" y="407.6" font-size="14.2" text-anchor="middle">60</text>
<text x="349" y="407.6" font-size="14.2" text-anchor="middle">147.48</text>
<rect x="451" y="374.4" width="49.7" height="17" fill="#3f12f0" stroke="#000" stroke-width="0.5"/>
<rect x="500.7" y="374.4" width="49.7" height="17" fill="#2b7bef" stroke="#000" stroke-width="0.5"/>
<rect x="550.3" y="374.4" width="49.7" height="17" fill="#7ac8ee" stroke="#000" stroke-width="0.5"/>
<rect x="600" y="374.4" width="49.7" height="17" fill="#ffe033" stroke="#000" stroke-width="0.5"/>
<rect x="649.7" y="374.4" width="49.7" height="17" fill="#ff6600" stroke="#000" stroke-width="0.5"/>
<rect x="699.3" y="374.4" width="49.7" height="17" fill="#d9292b" stroke="#000" stroke-width="0.5"/>
<text x="451" y="407.6" font-size="14.2" text-anchor="middle">-58.56</text>
<text x="500.7" y="407.6" font-size="14.2" text-anchor="middle">-20</text>
<text x="550.3" y="407.6" font-size="14.2" text-anchor="middle">0</text>
<text x="600" y="407.6" font-size="14.2" text-anchor="middle">20</text>
<text x="649.7" y="407.6" font-size="14.2" text-anchor="middle">40</text>
<text x="699.3" y="407.6" font-size="14.2" text-anchor="middle">60</text>
<text x="749" y="407.6" font-size="14.2" text-anchor="middle">146.3</text>
<rect x="39.2" y="690.6" width="23.1" height="17.2" fill="#4010f0" stroke="#000" stroke-width="0.5"/>
<rect x="62.3" y="690.6" width="23.1" height="17.2" fill="#1a28f0" stroke="#000" stroke-width="0.5"/>
<rect x="85.5" y="690.6" width="23.1" height="17.2" fill="#3a6ee0" stroke="#000" stroke-width="0.5"/>
<rect x="108.6" y="690.6" width="23.1" height="17.2" fill="#1e90ff" stroke="#000" stroke-width="0.5"/>
<rect x="131.7" y="690.6" width="23.1" height="17.2" fill="#00b4ff" stroke="#000" stroke-width="0.5"/>
<rect x="154.9" y="690.6" width="23.1" height="17.2" fill="#5ac0f0" stroke="#000" stroke-width="0.5"/>
<rect x="178" y="690.6" width="23.1" height="17.2" fill="#b0dcf5" stroke="#000" stroke-width="0.5"/>
<rect x="201.2" y="690.6" width="23.1" height="17.2" fill="#fff799" stroke="#000" stroke-width="0.5"/>
<rect x="224.3" y="690.6" width="23.1" height="17.2" fill="#ffdd33" stroke="#000" stroke-width="0.5"/>
<rect x="247.4" y="690.6" width="23.1" height="17.2" fill="#ffaa00" stroke="#000" stroke-width="0.5"/>
<rect x="270.6" y="690.6" width="23.1" height="17.2" fill="#ff7700" stroke="#000" stroke-width="0.5"/>
<rect x="293.7" y="690.6" width="23.1" height="17.2" fill="#ff2a00" stroke="#000" stroke-width="0.5"/>
<rect x="316.8" y="690.6" width="23.1" height="17.2" fill="#e60000" stroke="#000" stroke-width="0.5"/>
<rect x="340" y="690.6" width="23.1" height="17.2" fill="#d42a2a" stroke="#000" stroke-width="0.5"/>
<text x="39.2" y="723.8" font-size="14.2" text-anchor="middle">-45.93</text>
<text x="108.6" y="723.8" font-size="14.2" text-anchor="middle">-10</text>
<text x="154.9" y="723.8" font-size="14.2" text-anchor="middle">-5</text>
<text x="201.2" y="723.8" font-size="14.2" text-anchor="middle">0</text>
<text x="247.4" y="723.8" font-size="14.2" text-anchor="middle">5</text>
<text x="293.7" y="723.8" font-size="14.2" text-anchor="middle">10</text>
<text x="363.1" y="723.8" font-size="14.2" text-anchor="middle">60.55</text>
</svg></body></html>
